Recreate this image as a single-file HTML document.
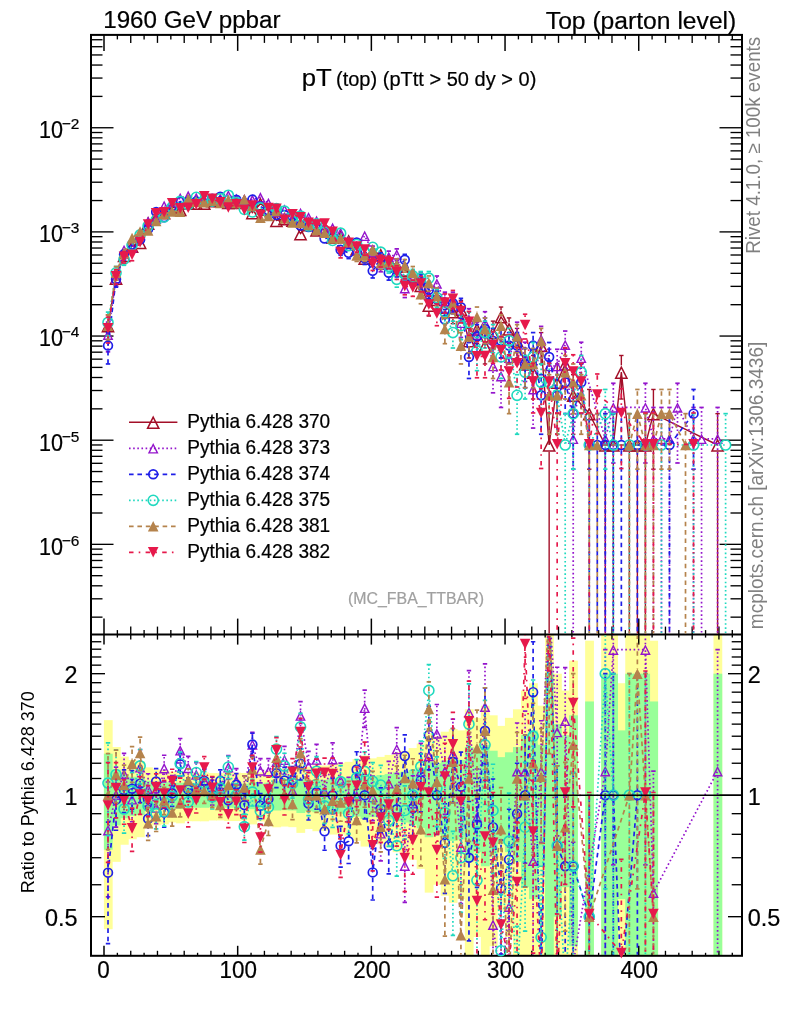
<!DOCTYPE html>
<html><head><meta charset="utf-8"><title>pT (top)</title><style>html,body{margin:0;padding:0;background:#fff}</style></head><body><svg width="786" height="1024" viewBox="0 0 786 1024" style="display:block;will-change:transform;font-family:'Liberation Sans',sans-serif">
<rect width="786" height="1024" fill="#fff"/>
<defs><clipPath id="cm"><rect x="92.0" y="35.9" width="649.0" height="597.7"/></clipPath><clipPath id="cr"><rect x="92.0" y="635.6" width="649.0" height="319.19999999999993"/></clipPath><clipPath id="cb"><rect x="91.0" y="634.6" width="651.0" height="321.19999999999993"/></clipPath></defs>
<g clip-path="url(#cb)">
<rect x="103.9" y="720.14" width="8.77" height="209.1" fill="#ffff99"/>
<rect x="111.92" y="747.04" width="8.77" height="114.8" fill="#ffff99"/>
<rect x="119.94" y="756.62" width="8.77" height="88.12" fill="#ffff99"/>
<rect x="127.96" y="760.02" width="8.77" height="79.23" fill="#ffff99"/>
<rect x="135.98" y="761.32" width="8.77" height="75.91" fill="#ffff99"/>
<rect x="144" y="767.36" width="8.77" height="60.95" fill="#ffff99"/>
<rect x="152.02" y="769.47" width="8.77" height="55.9" fill="#ffff99"/>
<rect x="160.05" y="770.19" width="8.77" height="54.2" fill="#ffff99"/>
<rect x="168.07" y="771.62" width="8.77" height="50.82" fill="#ffff99"/>
<rect x="176.09" y="770.97" width="8.77" height="52.36" fill="#ffff99"/>
<rect x="184.11" y="772.59" width="8.77" height="48.58" fill="#ffff99"/>
<rect x="192.13" y="772.54" width="8.77" height="48.69" fill="#ffff99"/>
<rect x="200.15" y="772.49" width="8.77" height="48.81" fill="#ffff99"/>
<rect x="208.17" y="773.12" width="8.77" height="47.34" fill="#ffff99"/>
<rect x="216.19" y="773.17" width="8.77" height="47.24" fill="#ffff99"/>
<rect x="224.21" y="772.69" width="8.77" height="48.35" fill="#ffff99"/>
<rect x="232.23" y="772.69" width="8.77" height="48.35" fill="#ffff99"/>
<rect x="240.25" y="772.98" width="8.77" height="47.67" fill="#ffff99"/>
<rect x="248.27" y="770.19" width="8.77" height="54.2" fill="#ffff99"/>
<rect x="256.3" y="772.38" width="8.77" height="49.05" fill="#ffff99"/>
<rect x="264.32" y="771.03" width="8.77" height="52.21" fill="#ffff99"/>
<rect x="272.34" y="768.09" width="8.77" height="59.19" fill="#ffff99"/>
<rect x="280.36" y="768.6" width="8.77" height="57.96" fill="#ffff99"/>
<rect x="288.38" y="768.18" width="8.77" height="58.98" fill="#ffff99"/>
<rect x="296.4" y="764.22" width="8.77" height="68.65" fill="#ffff99"/>
<rect x="304.42" y="766.87" width="8.77" height="62.14" fill="#ffff99"/>
<rect x="312.44" y="765.34" width="8.77" height="65.86" fill="#ffff99"/>
<rect x="320.46" y="765.58" width="8.77" height="65.29" fill="#ffff99"/>
<rect x="328.48" y="763.09" width="8.77" height="71.44" fill="#ffff99"/>
<rect x="336.5" y="763.24" width="8.77" height="71.07" fill="#ffff99"/>
<rect x="344.52" y="761.84" width="8.77" height="74.61" fill="#ffff99"/>
<rect x="352.54" y="759" width="8.77" height="81.88" fill="#ffff99"/>
<rect x="360.57" y="755.53" width="8.77" height="91.04" fill="#ffff99"/>
<rect x="368.59" y="758.33" width="8.77" height="83.61" fill="#ffff99"/>
<rect x="376.61" y="756.88" width="8.77" height="87.43" fill="#ffff99"/>
<rect x="384.63" y="754.94" width="8.77" height="92.61" fill="#ffff99"/>
<rect x="392.65" y="752.29" width="8.77" height="99.85" fill="#ffff99"/>
<rect x="400.67" y="750.74" width="8.77" height="104.16" fill="#ffff99"/>
<rect x="408.69" y="748.05" width="8.77" height="111.84" fill="#ffff99"/>
<rect x="416.71" y="743.51" width="8.77" height="125.33" fill="#ffff99"/>
<rect x="424.73" y="732.95" width="8.77" height="159.68" fill="#ffff99"/>
<rect x="432.75" y="736.22" width="8.77" height="148.52" fill="#ffff99"/>
<rect x="440.77" y="731.72" width="8.77" height="164.01" fill="#ffff99"/>
<rect x="448.79" y="729.01" width="8.77" height="173.83" fill="#ffff99"/>
<rect x="456.82" y="730.41" width="8.77" height="168.7" fill="#ffff99"/>
<rect x="464.84" y="709.29" width="8.77" height="246.51" fill="#ffff99"/>
<rect x="472.86" y="717.85" width="8.77" height="219.16" fill="#ffff99"/>
<rect x="480.88" y="705.66" width="8.77" height="250.14" fill="#ffff99"/>
<rect x="488.9" y="715.31" width="8.77" height="230.85" fill="#ffff99"/>
<rect x="496.92" y="725.88" width="8.77" height="185.66" fill="#ffff99"/>
<rect x="504.94" y="717.85" width="8.77" height="219.16" fill="#ffff99"/>
<rect x="512.96" y="709.29" width="8.77" height="246.51" fill="#ffff99"/>
<rect x="520.98" y="690.57" width="8.77" height="265.23" fill="#ffff99"/>
<rect x="529" y="683.21" width="8.77" height="272.59" fill="#ffff99"/>
<rect x="537.02" y="705.66" width="8.77" height="250.14" fill="#ffff99"/>
<rect x="545.04" y="634.6" width="8.77" height="321.2" fill="#ffff99"/>
<rect x="553.06" y="673.7" width="8.77" height="282.1" fill="#ffff99"/>
<rect x="561.09" y="690.57" width="8.77" height="265.23" fill="#ffff99"/>
<rect x="569.11" y="660.64" width="8.77" height="295.16" fill="#ffff99"/>
<rect x="585.15" y="640.71" width="8.77" height="315.09" fill="#ffff99"/>
<rect x="601.19" y="634.6" width="8.77" height="321.2" fill="#ffff99"/>
<rect x="609.21" y="634.6" width="8.77" height="321.2" fill="#ffff99"/>
<rect x="617.23" y="683.21" width="8.77" height="272.59" fill="#ffff99"/>
<rect x="625.25" y="634.6" width="8.77" height="321.2" fill="#ffff99"/>
<rect x="633.27" y="634.6" width="8.77" height="321.2" fill="#ffff99"/>
<rect x="641.29" y="634.6" width="8.77" height="321.2" fill="#ffff99"/>
<rect x="649.31" y="640.71" width="8.77" height="315.09" fill="#ffff99"/>
<rect x="713.48" y="634.6" width="8.77" height="321.2" fill="#ffff99"/>
<rect x="103.9" y="753.68" width="8.77" height="96.03" fill="#99ff99"/>
<rect x="111.92" y="769.47" width="8.77" height="55.9" fill="#99ff99"/>
<rect x="119.94" y="774.85" width="8.77" height="43.37" fill="#99ff99"/>
<rect x="127.96" y="776.73" width="8.77" height="39.11" fill="#99ff99"/>
<rect x="135.98" y="777.44" width="8.77" height="37.51" fill="#99ff99"/>
<rect x="144" y="780.73" width="8.77" height="30.25" fill="#99ff99"/>
<rect x="152.02" y="781.86" width="8.77" height="27.77" fill="#99ff99"/>
<rect x="160.05" y="782.25" width="8.77" height="26.94" fill="#99ff99"/>
<rect x="168.07" y="783.02" width="8.77" height="25.28" fill="#99ff99"/>
<rect x="176.09" y="782.67" width="8.77" height="26.03" fill="#99ff99"/>
<rect x="184.11" y="783.53" width="8.77" height="24.17" fill="#99ff99"/>
<rect x="192.13" y="783.5" width="8.77" height="24.23" fill="#99ff99"/>
<rect x="200.15" y="783.48" width="8.77" height="24.29" fill="#99ff99"/>
<rect x="208.17" y="783.81" width="8.77" height="23.56" fill="#99ff99"/>
<rect x="216.19" y="783.84" width="8.77" height="23.51" fill="#99ff99"/>
<rect x="224.21" y="783.58" width="8.77" height="24.06" fill="#99ff99"/>
<rect x="232.23" y="783.58" width="8.77" height="24.06" fill="#99ff99"/>
<rect x="240.25" y="783.74" width="8.77" height="23.73" fill="#99ff99"/>
<rect x="248.27" y="782.25" width="8.77" height="26.94" fill="#99ff99"/>
<rect x="256.3" y="783.42" width="8.77" height="24.41" fill="#99ff99"/>
<rect x="264.32" y="782.7" width="8.77" height="25.96" fill="#99ff99"/>
<rect x="272.34" y="781.12" width="8.77" height="29.39" fill="#99ff99"/>
<rect x="280.36" y="781.4" width="8.77" height="28.78" fill="#99ff99"/>
<rect x="288.38" y="781.17" width="8.77" height="29.28" fill="#99ff99"/>
<rect x="296.4" y="779.02" width="8.77" height="34" fill="#99ff99"/>
<rect x="304.42" y="780.46" width="8.77" height="30.83" fill="#99ff99"/>
<rect x="312.44" y="779.64" width="8.77" height="32.64" fill="#99ff99"/>
<rect x="320.46" y="779.76" width="8.77" height="32.36" fill="#99ff99"/>
<rect x="328.48" y="778.41" width="8.77" height="35.35" fill="#99ff99"/>
<rect x="336.5" y="778.49" width="8.77" height="35.18" fill="#99ff99"/>
<rect x="344.52" y="777.73" width="8.77" height="36.89" fill="#99ff99"/>
<rect x="352.54" y="776.17" width="8.77" height="40.39" fill="#99ff99"/>
<rect x="360.57" y="774.24" width="8.77" height="44.76" fill="#99ff99"/>
<rect x="368.59" y="775.8" width="8.77" height="41.22" fill="#99ff99"/>
<rect x="376.61" y="775" width="8.77" height="43.04" fill="#99ff99"/>
<rect x="384.63" y="773.92" width="8.77" height="45.51" fill="#99ff99"/>
<rect x="392.65" y="772.44" width="8.77" height="48.93" fill="#99ff99"/>
<rect x="400.67" y="771.57" width="8.77" height="50.96" fill="#99ff99"/>
<rect x="408.69" y="770.05" width="8.77" height="54.53" fill="#99ff99"/>
<rect x="416.71" y="767.45" width="8.77" height="60.72" fill="#99ff99"/>
<rect x="424.73" y="761.32" width="8.77" height="75.91" fill="#99ff99"/>
<rect x="432.75" y="763.24" width="8.77" height="71.07" fill="#99ff99"/>
<rect x="440.77" y="760.6" width="8.77" height="77.75" fill="#99ff99"/>
<rect x="448.79" y="759" width="8.77" height="81.88" fill="#99ff99"/>
<rect x="456.82" y="759.83" width="8.77" height="79.74" fill="#99ff99"/>
<rect x="464.84" y="747.04" width="8.77" height="114.8" fill="#99ff99"/>
<rect x="472.86" y="752.29" width="8.77" height="99.85" fill="#99ff99"/>
<rect x="480.88" y="744.77" width="8.77" height="121.5" fill="#99ff99"/>
<rect x="488.9" y="750.74" width="8.77" height="104.16" fill="#99ff99"/>
<rect x="496.92" y="757.14" width="8.77" height="86.76" fill="#99ff99"/>
<rect x="504.94" y="752.29" width="8.77" height="99.85" fill="#99ff99"/>
<rect x="512.96" y="747.04" width="8.77" height="114.8" fill="#99ff99"/>
<rect x="520.98" y="735.19" width="8.77" height="151.98" fill="#99ff99"/>
<rect x="529" y="730.41" width="8.77" height="168.7" fill="#99ff99"/>
<rect x="537.02" y="744.77" width="8.77" height="121.5" fill="#99ff99"/>
<rect x="545.04" y="673.7" width="8.77" height="282.1" fill="#99ff99"/>
<rect x="553.06" y="724.13" width="8.77" height="192.57" fill="#99ff99"/>
<rect x="561.09" y="735.19" width="8.77" height="151.98" fill="#99ff99"/>
<rect x="569.11" y="715.31" width="8.77" height="230.85" fill="#99ff99"/>
<rect x="585.15" y="701.46" width="8.77" height="254.34" fill="#99ff99"/>
<rect x="601.19" y="673.7" width="8.77" height="282.1" fill="#99ff99"/>
<rect x="609.21" y="673.7" width="8.77" height="282.1" fill="#99ff99"/>
<rect x="617.23" y="730.41" width="8.77" height="168.7" fill="#99ff99"/>
<rect x="625.25" y="673.7" width="8.77" height="282.1" fill="#99ff99"/>
<rect x="633.27" y="673.7" width="8.77" height="282.1" fill="#99ff99"/>
<rect x="641.29" y="673.7" width="8.77" height="282.1" fill="#99ff99"/>
<rect x="649.31" y="701.46" width="8.77" height="254.34" fill="#99ff99"/>
<rect x="713.48" y="673.7" width="8.77" height="282.1" fill="#99ff99"/>
</g>
<rect x="91.0" y="34.9" width="651.0" height="920.9" fill="none" stroke="#000" stroke-width="2.0"/>
<line x1="91" y1="634.6" x2="742" y2="634.6" stroke="#000" stroke-width="2.0"/>
<line x1="104" y1="34.9" x2="104" y2="50.9" stroke="#000" stroke-width="1.5"/>
<line x1="104" y1="618.6" x2="104" y2="644.6" stroke="#000" stroke-width="1.5"/>
<line x1="104" y1="945.8" x2="104" y2="955.8" stroke="#000" stroke-width="1.5"/>
<line x1="117.37" y1="34.9" x2="117.37" y2="39.4" stroke="#000" stroke-width="1.35"/>
<line x1="117.37" y1="630.1" x2="117.37" y2="637.6" stroke="#000" stroke-width="1.35"/>
<line x1="117.37" y1="952.8" x2="117.37" y2="955.8" stroke="#000" stroke-width="1.35"/>
<line x1="130.74" y1="34.9" x2="130.74" y2="42.9" stroke="#000" stroke-width="1.35"/>
<line x1="130.74" y1="626.6" x2="130.74" y2="639.6" stroke="#000" stroke-width="1.35"/>
<line x1="130.74" y1="950.8" x2="130.74" y2="955.8" stroke="#000" stroke-width="1.35"/>
<line x1="144.1" y1="34.9" x2="144.1" y2="39.4" stroke="#000" stroke-width="1.35"/>
<line x1="144.1" y1="630.1" x2="144.1" y2="637.6" stroke="#000" stroke-width="1.35"/>
<line x1="144.1" y1="952.8" x2="144.1" y2="955.8" stroke="#000" stroke-width="1.35"/>
<line x1="157.47" y1="34.9" x2="157.47" y2="42.9" stroke="#000" stroke-width="1.35"/>
<line x1="157.47" y1="626.6" x2="157.47" y2="639.6" stroke="#000" stroke-width="1.35"/>
<line x1="157.47" y1="950.8" x2="157.47" y2="955.8" stroke="#000" stroke-width="1.35"/>
<line x1="170.84" y1="34.9" x2="170.84" y2="39.4" stroke="#000" stroke-width="1.35"/>
<line x1="170.84" y1="630.1" x2="170.84" y2="637.6" stroke="#000" stroke-width="1.35"/>
<line x1="170.84" y1="952.8" x2="170.84" y2="955.8" stroke="#000" stroke-width="1.35"/>
<line x1="184.21" y1="34.9" x2="184.21" y2="42.9" stroke="#000" stroke-width="1.35"/>
<line x1="184.21" y1="626.6" x2="184.21" y2="639.6" stroke="#000" stroke-width="1.35"/>
<line x1="184.21" y1="950.8" x2="184.21" y2="955.8" stroke="#000" stroke-width="1.35"/>
<line x1="197.58" y1="34.9" x2="197.58" y2="39.4" stroke="#000" stroke-width="1.35"/>
<line x1="197.58" y1="630.1" x2="197.58" y2="637.6" stroke="#000" stroke-width="1.35"/>
<line x1="197.58" y1="952.8" x2="197.58" y2="955.8" stroke="#000" stroke-width="1.35"/>
<line x1="210.94" y1="34.9" x2="210.94" y2="42.9" stroke="#000" stroke-width="1.35"/>
<line x1="210.94" y1="626.6" x2="210.94" y2="639.6" stroke="#000" stroke-width="1.35"/>
<line x1="210.94" y1="950.8" x2="210.94" y2="955.8" stroke="#000" stroke-width="1.35"/>
<line x1="224.31" y1="34.9" x2="224.31" y2="39.4" stroke="#000" stroke-width="1.35"/>
<line x1="224.31" y1="630.1" x2="224.31" y2="637.6" stroke="#000" stroke-width="1.35"/>
<line x1="224.31" y1="952.8" x2="224.31" y2="955.8" stroke="#000" stroke-width="1.35"/>
<line x1="237.68" y1="34.9" x2="237.68" y2="50.9" stroke="#000" stroke-width="1.5"/>
<line x1="237.68" y1="618.6" x2="237.68" y2="644.6" stroke="#000" stroke-width="1.5"/>
<line x1="237.68" y1="945.8" x2="237.68" y2="955.8" stroke="#000" stroke-width="1.5"/>
<line x1="251.05" y1="34.9" x2="251.05" y2="39.4" stroke="#000" stroke-width="1.35"/>
<line x1="251.05" y1="630.1" x2="251.05" y2="637.6" stroke="#000" stroke-width="1.35"/>
<line x1="251.05" y1="952.8" x2="251.05" y2="955.8" stroke="#000" stroke-width="1.35"/>
<line x1="264.42" y1="34.9" x2="264.42" y2="42.9" stroke="#000" stroke-width="1.35"/>
<line x1="264.42" y1="626.6" x2="264.42" y2="639.6" stroke="#000" stroke-width="1.35"/>
<line x1="264.42" y1="950.8" x2="264.42" y2="955.8" stroke="#000" stroke-width="1.35"/>
<line x1="277.78" y1="34.9" x2="277.78" y2="39.4" stroke="#000" stroke-width="1.35"/>
<line x1="277.78" y1="630.1" x2="277.78" y2="637.6" stroke="#000" stroke-width="1.35"/>
<line x1="277.78" y1="952.8" x2="277.78" y2="955.8" stroke="#000" stroke-width="1.35"/>
<line x1="291.15" y1="34.9" x2="291.15" y2="42.9" stroke="#000" stroke-width="1.35"/>
<line x1="291.15" y1="626.6" x2="291.15" y2="639.6" stroke="#000" stroke-width="1.35"/>
<line x1="291.15" y1="950.8" x2="291.15" y2="955.8" stroke="#000" stroke-width="1.35"/>
<line x1="304.52" y1="34.9" x2="304.52" y2="39.4" stroke="#000" stroke-width="1.35"/>
<line x1="304.52" y1="630.1" x2="304.52" y2="637.6" stroke="#000" stroke-width="1.35"/>
<line x1="304.52" y1="952.8" x2="304.52" y2="955.8" stroke="#000" stroke-width="1.35"/>
<line x1="317.89" y1="34.9" x2="317.89" y2="42.9" stroke="#000" stroke-width="1.35"/>
<line x1="317.89" y1="626.6" x2="317.89" y2="639.6" stroke="#000" stroke-width="1.35"/>
<line x1="317.89" y1="950.8" x2="317.89" y2="955.8" stroke="#000" stroke-width="1.35"/>
<line x1="331.26" y1="34.9" x2="331.26" y2="39.4" stroke="#000" stroke-width="1.35"/>
<line x1="331.26" y1="630.1" x2="331.26" y2="637.6" stroke="#000" stroke-width="1.35"/>
<line x1="331.26" y1="952.8" x2="331.26" y2="955.8" stroke="#000" stroke-width="1.35"/>
<line x1="344.62" y1="34.9" x2="344.62" y2="42.9" stroke="#000" stroke-width="1.35"/>
<line x1="344.62" y1="626.6" x2="344.62" y2="639.6" stroke="#000" stroke-width="1.35"/>
<line x1="344.62" y1="950.8" x2="344.62" y2="955.8" stroke="#000" stroke-width="1.35"/>
<line x1="357.99" y1="34.9" x2="357.99" y2="39.4" stroke="#000" stroke-width="1.35"/>
<line x1="357.99" y1="630.1" x2="357.99" y2="637.6" stroke="#000" stroke-width="1.35"/>
<line x1="357.99" y1="952.8" x2="357.99" y2="955.8" stroke="#000" stroke-width="1.35"/>
<line x1="371.36" y1="34.9" x2="371.36" y2="50.9" stroke="#000" stroke-width="1.5"/>
<line x1="371.36" y1="618.6" x2="371.36" y2="644.6" stroke="#000" stroke-width="1.5"/>
<line x1="371.36" y1="945.8" x2="371.36" y2="955.8" stroke="#000" stroke-width="1.5"/>
<line x1="384.73" y1="34.9" x2="384.73" y2="39.4" stroke="#000" stroke-width="1.35"/>
<line x1="384.73" y1="630.1" x2="384.73" y2="637.6" stroke="#000" stroke-width="1.35"/>
<line x1="384.73" y1="952.8" x2="384.73" y2="955.8" stroke="#000" stroke-width="1.35"/>
<line x1="398.1" y1="34.9" x2="398.1" y2="42.9" stroke="#000" stroke-width="1.35"/>
<line x1="398.1" y1="626.6" x2="398.1" y2="639.6" stroke="#000" stroke-width="1.35"/>
<line x1="398.1" y1="950.8" x2="398.1" y2="955.8" stroke="#000" stroke-width="1.35"/>
<line x1="411.46" y1="34.9" x2="411.46" y2="39.4" stroke="#000" stroke-width="1.35"/>
<line x1="411.46" y1="630.1" x2="411.46" y2="637.6" stroke="#000" stroke-width="1.35"/>
<line x1="411.46" y1="952.8" x2="411.46" y2="955.8" stroke="#000" stroke-width="1.35"/>
<line x1="424.83" y1="34.9" x2="424.83" y2="42.9" stroke="#000" stroke-width="1.35"/>
<line x1="424.83" y1="626.6" x2="424.83" y2="639.6" stroke="#000" stroke-width="1.35"/>
<line x1="424.83" y1="950.8" x2="424.83" y2="955.8" stroke="#000" stroke-width="1.35"/>
<line x1="438.2" y1="34.9" x2="438.2" y2="39.4" stroke="#000" stroke-width="1.35"/>
<line x1="438.2" y1="630.1" x2="438.2" y2="637.6" stroke="#000" stroke-width="1.35"/>
<line x1="438.2" y1="952.8" x2="438.2" y2="955.8" stroke="#000" stroke-width="1.35"/>
<line x1="451.57" y1="34.9" x2="451.57" y2="42.9" stroke="#000" stroke-width="1.35"/>
<line x1="451.57" y1="626.6" x2="451.57" y2="639.6" stroke="#000" stroke-width="1.35"/>
<line x1="451.57" y1="950.8" x2="451.57" y2="955.8" stroke="#000" stroke-width="1.35"/>
<line x1="464.94" y1="34.9" x2="464.94" y2="39.4" stroke="#000" stroke-width="1.35"/>
<line x1="464.94" y1="630.1" x2="464.94" y2="637.6" stroke="#000" stroke-width="1.35"/>
<line x1="464.94" y1="952.8" x2="464.94" y2="955.8" stroke="#000" stroke-width="1.35"/>
<line x1="478.3" y1="34.9" x2="478.3" y2="42.9" stroke="#000" stroke-width="1.35"/>
<line x1="478.3" y1="626.6" x2="478.3" y2="639.6" stroke="#000" stroke-width="1.35"/>
<line x1="478.3" y1="950.8" x2="478.3" y2="955.8" stroke="#000" stroke-width="1.35"/>
<line x1="491.67" y1="34.9" x2="491.67" y2="39.4" stroke="#000" stroke-width="1.35"/>
<line x1="491.67" y1="630.1" x2="491.67" y2="637.6" stroke="#000" stroke-width="1.35"/>
<line x1="491.67" y1="952.8" x2="491.67" y2="955.8" stroke="#000" stroke-width="1.35"/>
<line x1="505.04" y1="34.9" x2="505.04" y2="50.9" stroke="#000" stroke-width="1.5"/>
<line x1="505.04" y1="618.6" x2="505.04" y2="644.6" stroke="#000" stroke-width="1.5"/>
<line x1="505.04" y1="945.8" x2="505.04" y2="955.8" stroke="#000" stroke-width="1.5"/>
<line x1="518.41" y1="34.9" x2="518.41" y2="39.4" stroke="#000" stroke-width="1.35"/>
<line x1="518.41" y1="630.1" x2="518.41" y2="637.6" stroke="#000" stroke-width="1.35"/>
<line x1="518.41" y1="952.8" x2="518.41" y2="955.8" stroke="#000" stroke-width="1.35"/>
<line x1="531.78" y1="34.9" x2="531.78" y2="42.9" stroke="#000" stroke-width="1.35"/>
<line x1="531.78" y1="626.6" x2="531.78" y2="639.6" stroke="#000" stroke-width="1.35"/>
<line x1="531.78" y1="950.8" x2="531.78" y2="955.8" stroke="#000" stroke-width="1.35"/>
<line x1="545.14" y1="34.9" x2="545.14" y2="39.4" stroke="#000" stroke-width="1.35"/>
<line x1="545.14" y1="630.1" x2="545.14" y2="637.6" stroke="#000" stroke-width="1.35"/>
<line x1="545.14" y1="952.8" x2="545.14" y2="955.8" stroke="#000" stroke-width="1.35"/>
<line x1="558.51" y1="34.9" x2="558.51" y2="42.9" stroke="#000" stroke-width="1.35"/>
<line x1="558.51" y1="626.6" x2="558.51" y2="639.6" stroke="#000" stroke-width="1.35"/>
<line x1="558.51" y1="950.8" x2="558.51" y2="955.8" stroke="#000" stroke-width="1.35"/>
<line x1="571.88" y1="34.9" x2="571.88" y2="39.4" stroke="#000" stroke-width="1.35"/>
<line x1="571.88" y1="630.1" x2="571.88" y2="637.6" stroke="#000" stroke-width="1.35"/>
<line x1="571.88" y1="952.8" x2="571.88" y2="955.8" stroke="#000" stroke-width="1.35"/>
<line x1="585.25" y1="34.9" x2="585.25" y2="42.9" stroke="#000" stroke-width="1.35"/>
<line x1="585.25" y1="626.6" x2="585.25" y2="639.6" stroke="#000" stroke-width="1.35"/>
<line x1="585.25" y1="950.8" x2="585.25" y2="955.8" stroke="#000" stroke-width="1.35"/>
<line x1="598.62" y1="34.9" x2="598.62" y2="39.4" stroke="#000" stroke-width="1.35"/>
<line x1="598.62" y1="630.1" x2="598.62" y2="637.6" stroke="#000" stroke-width="1.35"/>
<line x1="598.62" y1="952.8" x2="598.62" y2="955.8" stroke="#000" stroke-width="1.35"/>
<line x1="611.98" y1="34.9" x2="611.98" y2="42.9" stroke="#000" stroke-width="1.35"/>
<line x1="611.98" y1="626.6" x2="611.98" y2="639.6" stroke="#000" stroke-width="1.35"/>
<line x1="611.98" y1="950.8" x2="611.98" y2="955.8" stroke="#000" stroke-width="1.35"/>
<line x1="625.35" y1="34.9" x2="625.35" y2="39.4" stroke="#000" stroke-width="1.35"/>
<line x1="625.35" y1="630.1" x2="625.35" y2="637.6" stroke="#000" stroke-width="1.35"/>
<line x1="625.35" y1="952.8" x2="625.35" y2="955.8" stroke="#000" stroke-width="1.35"/>
<line x1="638.72" y1="34.9" x2="638.72" y2="50.9" stroke="#000" stroke-width="1.5"/>
<line x1="638.72" y1="618.6" x2="638.72" y2="644.6" stroke="#000" stroke-width="1.5"/>
<line x1="638.72" y1="945.8" x2="638.72" y2="955.8" stroke="#000" stroke-width="1.5"/>
<line x1="652.09" y1="34.9" x2="652.09" y2="39.4" stroke="#000" stroke-width="1.35"/>
<line x1="652.09" y1="630.1" x2="652.09" y2="637.6" stroke="#000" stroke-width="1.35"/>
<line x1="652.09" y1="952.8" x2="652.09" y2="955.8" stroke="#000" stroke-width="1.35"/>
<line x1="665.46" y1="34.9" x2="665.46" y2="42.9" stroke="#000" stroke-width="1.35"/>
<line x1="665.46" y1="626.6" x2="665.46" y2="639.6" stroke="#000" stroke-width="1.35"/>
<line x1="665.46" y1="950.8" x2="665.46" y2="955.8" stroke="#000" stroke-width="1.35"/>
<line x1="678.82" y1="34.9" x2="678.82" y2="39.4" stroke="#000" stroke-width="1.35"/>
<line x1="678.82" y1="630.1" x2="678.82" y2="637.6" stroke="#000" stroke-width="1.35"/>
<line x1="678.82" y1="952.8" x2="678.82" y2="955.8" stroke="#000" stroke-width="1.35"/>
<line x1="692.19" y1="34.9" x2="692.19" y2="42.9" stroke="#000" stroke-width="1.35"/>
<line x1="692.19" y1="626.6" x2="692.19" y2="639.6" stroke="#000" stroke-width="1.35"/>
<line x1="692.19" y1="950.8" x2="692.19" y2="955.8" stroke="#000" stroke-width="1.35"/>
<line x1="705.56" y1="34.9" x2="705.56" y2="39.4" stroke="#000" stroke-width="1.35"/>
<line x1="705.56" y1="630.1" x2="705.56" y2="637.6" stroke="#000" stroke-width="1.35"/>
<line x1="705.56" y1="952.8" x2="705.56" y2="955.8" stroke="#000" stroke-width="1.35"/>
<line x1="718.93" y1="34.9" x2="718.93" y2="42.9" stroke="#000" stroke-width="1.35"/>
<line x1="718.93" y1="626.6" x2="718.93" y2="639.6" stroke="#000" stroke-width="1.35"/>
<line x1="718.93" y1="950.8" x2="718.93" y2="955.8" stroke="#000" stroke-width="1.35"/>
<line x1="732.3" y1="34.9" x2="732.3" y2="39.4" stroke="#000" stroke-width="1.35"/>
<line x1="732.3" y1="630.1" x2="732.3" y2="637.6" stroke="#000" stroke-width="1.35"/>
<line x1="732.3" y1="952.8" x2="732.3" y2="955.8" stroke="#000" stroke-width="1.35"/>
<line x1="91" y1="617.15" x2="102.5" y2="617.15" stroke="#000" stroke-width="1.35"/>
<line x1="730.5" y1="617.15" x2="742" y2="617.15" stroke="#000" stroke-width="1.35"/>
<line x1="91" y1="598.81" x2="102.5" y2="598.81" stroke="#000" stroke-width="1.35"/>
<line x1="730.5" y1="598.81" x2="742" y2="598.81" stroke="#000" stroke-width="1.35"/>
<line x1="91" y1="585.8" x2="102.5" y2="585.8" stroke="#000" stroke-width="1.35"/>
<line x1="730.5" y1="585.8" x2="742" y2="585.8" stroke="#000" stroke-width="1.35"/>
<line x1="91" y1="575.7" x2="102.5" y2="575.7" stroke="#000" stroke-width="1.35"/>
<line x1="730.5" y1="575.7" x2="742" y2="575.7" stroke="#000" stroke-width="1.35"/>
<line x1="91" y1="567.46" x2="102.5" y2="567.46" stroke="#000" stroke-width="1.35"/>
<line x1="730.5" y1="567.46" x2="742" y2="567.46" stroke="#000" stroke-width="1.35"/>
<line x1="91" y1="560.48" x2="102.5" y2="560.48" stroke="#000" stroke-width="1.35"/>
<line x1="730.5" y1="560.48" x2="742" y2="560.48" stroke="#000" stroke-width="1.35"/>
<line x1="91" y1="554.44" x2="102.5" y2="554.44" stroke="#000" stroke-width="1.35"/>
<line x1="730.5" y1="554.44" x2="742" y2="554.44" stroke="#000" stroke-width="1.35"/>
<line x1="91" y1="549.12" x2="102.5" y2="549.12" stroke="#000" stroke-width="1.35"/>
<line x1="730.5" y1="549.12" x2="742" y2="549.12" stroke="#000" stroke-width="1.35"/>
<line x1="91" y1="544.35" x2="113.5" y2="544.35" stroke="#000" stroke-width="1.35"/>
<line x1="719.5" y1="544.35" x2="742" y2="544.35" stroke="#000" stroke-width="1.35"/>
<line x1="91" y1="513" x2="102.5" y2="513" stroke="#000" stroke-width="1.35"/>
<line x1="730.5" y1="513" x2="742" y2="513" stroke="#000" stroke-width="1.35"/>
<line x1="91" y1="494.66" x2="102.5" y2="494.66" stroke="#000" stroke-width="1.35"/>
<line x1="730.5" y1="494.66" x2="742" y2="494.66" stroke="#000" stroke-width="1.35"/>
<line x1="91" y1="481.65" x2="102.5" y2="481.65" stroke="#000" stroke-width="1.35"/>
<line x1="730.5" y1="481.65" x2="742" y2="481.65" stroke="#000" stroke-width="1.35"/>
<line x1="91" y1="471.55" x2="102.5" y2="471.55" stroke="#000" stroke-width="1.35"/>
<line x1="730.5" y1="471.55" x2="742" y2="471.55" stroke="#000" stroke-width="1.35"/>
<line x1="91" y1="463.31" x2="102.5" y2="463.31" stroke="#000" stroke-width="1.35"/>
<line x1="730.5" y1="463.31" x2="742" y2="463.31" stroke="#000" stroke-width="1.35"/>
<line x1="91" y1="456.33" x2="102.5" y2="456.33" stroke="#000" stroke-width="1.35"/>
<line x1="730.5" y1="456.33" x2="742" y2="456.33" stroke="#000" stroke-width="1.35"/>
<line x1="91" y1="450.29" x2="102.5" y2="450.29" stroke="#000" stroke-width="1.35"/>
<line x1="730.5" y1="450.29" x2="742" y2="450.29" stroke="#000" stroke-width="1.35"/>
<line x1="91" y1="444.97" x2="102.5" y2="444.97" stroke="#000" stroke-width="1.35"/>
<line x1="730.5" y1="444.97" x2="742" y2="444.97" stroke="#000" stroke-width="1.35"/>
<line x1="91" y1="440.2" x2="113.5" y2="440.2" stroke="#000" stroke-width="1.35"/>
<line x1="719.5" y1="440.2" x2="742" y2="440.2" stroke="#000" stroke-width="1.35"/>
<line x1="91" y1="408.85" x2="102.5" y2="408.85" stroke="#000" stroke-width="1.35"/>
<line x1="730.5" y1="408.85" x2="742" y2="408.85" stroke="#000" stroke-width="1.35"/>
<line x1="91" y1="390.51" x2="102.5" y2="390.51" stroke="#000" stroke-width="1.35"/>
<line x1="730.5" y1="390.51" x2="742" y2="390.51" stroke="#000" stroke-width="1.35"/>
<line x1="91" y1="377.5" x2="102.5" y2="377.5" stroke="#000" stroke-width="1.35"/>
<line x1="730.5" y1="377.5" x2="742" y2="377.5" stroke="#000" stroke-width="1.35"/>
<line x1="91" y1="367.4" x2="102.5" y2="367.4" stroke="#000" stroke-width="1.35"/>
<line x1="730.5" y1="367.4" x2="742" y2="367.4" stroke="#000" stroke-width="1.35"/>
<line x1="91" y1="359.16" x2="102.5" y2="359.16" stroke="#000" stroke-width="1.35"/>
<line x1="730.5" y1="359.16" x2="742" y2="359.16" stroke="#000" stroke-width="1.35"/>
<line x1="91" y1="352.18" x2="102.5" y2="352.18" stroke="#000" stroke-width="1.35"/>
<line x1="730.5" y1="352.18" x2="742" y2="352.18" stroke="#000" stroke-width="1.35"/>
<line x1="91" y1="346.14" x2="102.5" y2="346.14" stroke="#000" stroke-width="1.35"/>
<line x1="730.5" y1="346.14" x2="742" y2="346.14" stroke="#000" stroke-width="1.35"/>
<line x1="91" y1="340.82" x2="102.5" y2="340.82" stroke="#000" stroke-width="1.35"/>
<line x1="730.5" y1="340.82" x2="742" y2="340.82" stroke="#000" stroke-width="1.35"/>
<line x1="91" y1="336.05" x2="113.5" y2="336.05" stroke="#000" stroke-width="1.35"/>
<line x1="719.5" y1="336.05" x2="742" y2="336.05" stroke="#000" stroke-width="1.35"/>
<line x1="91" y1="304.7" x2="102.5" y2="304.7" stroke="#000" stroke-width="1.35"/>
<line x1="730.5" y1="304.7" x2="742" y2="304.7" stroke="#000" stroke-width="1.35"/>
<line x1="91" y1="286.36" x2="102.5" y2="286.36" stroke="#000" stroke-width="1.35"/>
<line x1="730.5" y1="286.36" x2="742" y2="286.36" stroke="#000" stroke-width="1.35"/>
<line x1="91" y1="273.35" x2="102.5" y2="273.35" stroke="#000" stroke-width="1.35"/>
<line x1="730.5" y1="273.35" x2="742" y2="273.35" stroke="#000" stroke-width="1.35"/>
<line x1="91" y1="263.25" x2="102.5" y2="263.25" stroke="#000" stroke-width="1.35"/>
<line x1="730.5" y1="263.25" x2="742" y2="263.25" stroke="#000" stroke-width="1.35"/>
<line x1="91" y1="255.01" x2="102.5" y2="255.01" stroke="#000" stroke-width="1.35"/>
<line x1="730.5" y1="255.01" x2="742" y2="255.01" stroke="#000" stroke-width="1.35"/>
<line x1="91" y1="248.03" x2="102.5" y2="248.03" stroke="#000" stroke-width="1.35"/>
<line x1="730.5" y1="248.03" x2="742" y2="248.03" stroke="#000" stroke-width="1.35"/>
<line x1="91" y1="241.99" x2="102.5" y2="241.99" stroke="#000" stroke-width="1.35"/>
<line x1="730.5" y1="241.99" x2="742" y2="241.99" stroke="#000" stroke-width="1.35"/>
<line x1="91" y1="236.67" x2="102.5" y2="236.67" stroke="#000" stroke-width="1.35"/>
<line x1="730.5" y1="236.67" x2="742" y2="236.67" stroke="#000" stroke-width="1.35"/>
<line x1="91" y1="231.9" x2="113.5" y2="231.9" stroke="#000" stroke-width="1.35"/>
<line x1="719.5" y1="231.9" x2="742" y2="231.9" stroke="#000" stroke-width="1.35"/>
<line x1="91" y1="200.55" x2="102.5" y2="200.55" stroke="#000" stroke-width="1.35"/>
<line x1="730.5" y1="200.55" x2="742" y2="200.55" stroke="#000" stroke-width="1.35"/>
<line x1="91" y1="182.21" x2="102.5" y2="182.21" stroke="#000" stroke-width="1.35"/>
<line x1="730.5" y1="182.21" x2="742" y2="182.21" stroke="#000" stroke-width="1.35"/>
<line x1="91" y1="169.2" x2="102.5" y2="169.2" stroke="#000" stroke-width="1.35"/>
<line x1="730.5" y1="169.2" x2="742" y2="169.2" stroke="#000" stroke-width="1.35"/>
<line x1="91" y1="159.1" x2="102.5" y2="159.1" stroke="#000" stroke-width="1.35"/>
<line x1="730.5" y1="159.1" x2="742" y2="159.1" stroke="#000" stroke-width="1.35"/>
<line x1="91" y1="150.86" x2="102.5" y2="150.86" stroke="#000" stroke-width="1.35"/>
<line x1="730.5" y1="150.86" x2="742" y2="150.86" stroke="#000" stroke-width="1.35"/>
<line x1="91" y1="143.88" x2="102.5" y2="143.88" stroke="#000" stroke-width="1.35"/>
<line x1="730.5" y1="143.88" x2="742" y2="143.88" stroke="#000" stroke-width="1.35"/>
<line x1="91" y1="137.84" x2="102.5" y2="137.84" stroke="#000" stroke-width="1.35"/>
<line x1="730.5" y1="137.84" x2="742" y2="137.84" stroke="#000" stroke-width="1.35"/>
<line x1="91" y1="132.52" x2="102.5" y2="132.52" stroke="#000" stroke-width="1.35"/>
<line x1="730.5" y1="132.52" x2="742" y2="132.52" stroke="#000" stroke-width="1.35"/>
<line x1="91" y1="127.75" x2="113.5" y2="127.75" stroke="#000" stroke-width="1.35"/>
<line x1="719.5" y1="127.75" x2="742" y2="127.75" stroke="#000" stroke-width="1.35"/>
<line x1="91" y1="96.4" x2="102.5" y2="96.4" stroke="#000" stroke-width="1.35"/>
<line x1="730.5" y1="96.4" x2="742" y2="96.4" stroke="#000" stroke-width="1.35"/>
<line x1="91" y1="78.06" x2="102.5" y2="78.06" stroke="#000" stroke-width="1.35"/>
<line x1="730.5" y1="78.06" x2="742" y2="78.06" stroke="#000" stroke-width="1.35"/>
<line x1="91" y1="65.05" x2="102.5" y2="65.05" stroke="#000" stroke-width="1.35"/>
<line x1="730.5" y1="65.05" x2="742" y2="65.05" stroke="#000" stroke-width="1.35"/>
<line x1="91" y1="54.95" x2="102.5" y2="54.95" stroke="#000" stroke-width="1.35"/>
<line x1="730.5" y1="54.95" x2="742" y2="54.95" stroke="#000" stroke-width="1.35"/>
<line x1="91" y1="46.71" x2="102.5" y2="46.71" stroke="#000" stroke-width="1.35"/>
<line x1="730.5" y1="46.71" x2="742" y2="46.71" stroke="#000" stroke-width="1.35"/>
<line x1="91" y1="39.73" x2="102.5" y2="39.73" stroke="#000" stroke-width="1.35"/>
<line x1="730.5" y1="39.73" x2="742" y2="39.73" stroke="#000" stroke-width="1.35"/>
<line x1="91" y1="916.7" x2="105" y2="916.7" stroke="#000" stroke-width="1.35"/>
<line x1="728" y1="916.7" x2="742" y2="916.7" stroke="#000" stroke-width="1.35"/>
<line x1="91" y1="884.74" x2="101.3" y2="884.74" stroke="#000" stroke-width="1.35"/>
<line x1="731.7" y1="884.74" x2="742" y2="884.74" stroke="#000" stroke-width="1.35"/>
<line x1="91" y1="857.72" x2="101.3" y2="857.72" stroke="#000" stroke-width="1.35"/>
<line x1="731.7" y1="857.72" x2="742" y2="857.72" stroke="#000" stroke-width="1.35"/>
<line x1="91" y1="834.31" x2="101.3" y2="834.31" stroke="#000" stroke-width="1.35"/>
<line x1="731.7" y1="834.31" x2="742" y2="834.31" stroke="#000" stroke-width="1.35"/>
<line x1="91" y1="813.67" x2="101.3" y2="813.67" stroke="#000" stroke-width="1.35"/>
<line x1="731.7" y1="813.67" x2="742" y2="813.67" stroke="#000" stroke-width="1.35"/>
<line x1="91" y1="795.2" x2="113.5" y2="795.2" stroke="#000" stroke-width="1.35"/>
<line x1="719.5" y1="795.2" x2="742" y2="795.2" stroke="#000" stroke-width="1.35"/>
<line x1="91" y1="778.49" x2="101.3" y2="778.49" stroke="#000" stroke-width="1.35"/>
<line x1="731.7" y1="778.49" x2="742" y2="778.49" stroke="#000" stroke-width="1.35"/>
<line x1="91" y1="763.24" x2="101.3" y2="763.24" stroke="#000" stroke-width="1.35"/>
<line x1="731.7" y1="763.24" x2="742" y2="763.24" stroke="#000" stroke-width="1.35"/>
<line x1="91" y1="749.21" x2="101.3" y2="749.21" stroke="#000" stroke-width="1.35"/>
<line x1="731.7" y1="749.21" x2="742" y2="749.21" stroke="#000" stroke-width="1.35"/>
<line x1="91" y1="736.22" x2="101.3" y2="736.22" stroke="#000" stroke-width="1.35"/>
<line x1="731.7" y1="736.22" x2="742" y2="736.22" stroke="#000" stroke-width="1.35"/>
<line x1="91" y1="724.13" x2="101.3" y2="724.13" stroke="#000" stroke-width="1.35"/>
<line x1="731.7" y1="724.13" x2="742" y2="724.13" stroke="#000" stroke-width="1.35"/>
<line x1="91" y1="712.81" x2="101.3" y2="712.81" stroke="#000" stroke-width="1.35"/>
<line x1="731.7" y1="712.81" x2="742" y2="712.81" stroke="#000" stroke-width="1.35"/>
<line x1="91" y1="702.19" x2="101.3" y2="702.19" stroke="#000" stroke-width="1.35"/>
<line x1="731.7" y1="702.19" x2="742" y2="702.19" stroke="#000" stroke-width="1.35"/>
<line x1="91" y1="692.17" x2="101.3" y2="692.17" stroke="#000" stroke-width="1.35"/>
<line x1="731.7" y1="692.17" x2="742" y2="692.17" stroke="#000" stroke-width="1.35"/>
<line x1="91" y1="682.69" x2="101.3" y2="682.69" stroke="#000" stroke-width="1.35"/>
<line x1="731.7" y1="682.69" x2="742" y2="682.69" stroke="#000" stroke-width="1.35"/>
<line x1="91" y1="673.7" x2="105" y2="673.7" stroke="#000" stroke-width="1.35"/>
<line x1="728" y1="673.7" x2="742" y2="673.7" stroke="#000" stroke-width="1.35"/>
<line x1="91" y1="665.15" x2="101.3" y2="665.15" stroke="#000" stroke-width="1.35"/>
<line x1="731.7" y1="665.15" x2="742" y2="665.15" stroke="#000" stroke-width="1.35"/>
<line x1="91" y1="656.99" x2="101.3" y2="656.99" stroke="#000" stroke-width="1.35"/>
<line x1="731.7" y1="656.99" x2="742" y2="656.99" stroke="#000" stroke-width="1.35"/>
<line x1="91" y1="649.2" x2="101.3" y2="649.2" stroke="#000" stroke-width="1.35"/>
<line x1="731.7" y1="649.2" x2="742" y2="649.2" stroke="#000" stroke-width="1.35"/>
<line x1="91" y1="641.74" x2="101.3" y2="641.74" stroke="#000" stroke-width="1.35"/>
<line x1="731.7" y1="641.74" x2="742" y2="641.74" stroke="#000" stroke-width="1.35"/>
<g clip-path="url(#cm)">
<polyline points="108.01,325.63 116.03,278.15 124.05,255.49 132.07,246.23 140.09,242.48 148.11,223.13 156.14,215.44 164.16,212.7 172.18,206.96 180.2,209.61 188.22,202.93 196.24,203.14 204.26,203.36 212.28,200.63 220.3,200.42 228.32,202.5 236.34,202.5 244.36,201.24 252.38,212.7 260.41,203.79 268.43,209.37 276.45,220.52 284.47,218.66 292.49,220.21 300.51,233.64 308.53,224.83 316.55,229.99 324.57,229.21 332.59,237.15 340.61,236.7 348.63,240.97 356.66,249.11 364.68,258.32 372.7,250.93 380.72,254.81 388.74,259.81 396.76,266.28 404.78,269.9 412.8,275.94 420.82,285.5 428.84,305.19 436.86,299.4 444.88,307.29 452.9,311.82 460.93,309.5 468.95,340.85 476.97,328.98 484.99,345.62 493.01,332.6 501.03,316.85 509.05,328.98 517.07,340.85 525.09,363.96 533.11,372.2 541.13,345.62 549.15,445 557.18,382.3 565.2,363.96 573.22,395.31 589.26,413.65 605.3,445 613.32,445 621.34,372.2 629.36,445 637.38,445 645.4,445 653.42,413.65 717.59,445" fill="none" stroke="#a30f28" stroke-width="1.4"/>
<line x1="108.01" y1="318.78" x2="108.01" y2="314.92" stroke="#a30f28" stroke-width="1.4"/>
<line x1="105.81" y1="314.92" x2="110.21" y2="314.92" stroke="#a30f28" stroke-width="1.4"/>
<line x1="108.01" y1="332.48" x2="108.01" y2="339.7" stroke="#a30f28" stroke-width="1.4"/>
<line x1="105.81" y1="339.7" x2="110.21" y2="339.7" stroke="#a30f28" stroke-width="1.4"/>
<line x1="116.03" y1="285" x2="116.03" y2="285.93" stroke="#a30f28" stroke-width="1.4"/>
<line x1="113.83" y1="285.93" x2="118.23" y2="285.93" stroke="#a30f28" stroke-width="1.4"/>
<line x1="404.78" y1="276.75" x2="404.78" y2="276.95" stroke="#a30f28" stroke-width="1.4"/>
<line x1="402.58" y1="276.95" x2="406.98" y2="276.95" stroke="#a30f28" stroke-width="1.4"/>
<line x1="412.8" y1="282.79" x2="412.8" y2="283.52" stroke="#a30f28" stroke-width="1.4"/>
<line x1="410.6" y1="283.52" x2="415" y2="283.52" stroke="#a30f28" stroke-width="1.4"/>
<line x1="420.82" y1="278.65" x2="420.82" y2="278.34" stroke="#a30f28" stroke-width="1.4"/>
<line x1="418.62" y1="278.34" x2="423.02" y2="278.34" stroke="#a30f28" stroke-width="1.4"/>
<line x1="420.82" y1="292.35" x2="420.82" y2="294.01" stroke="#a30f28" stroke-width="1.4"/>
<line x1="418.62" y1="294.01" x2="423.02" y2="294.01" stroke="#a30f28" stroke-width="1.4"/>
<line x1="428.84" y1="298.34" x2="428.84" y2="296.45" stroke="#a30f28" stroke-width="1.4"/>
<line x1="426.64" y1="296.45" x2="431.04" y2="296.45" stroke="#a30f28" stroke-width="1.4"/>
<line x1="428.84" y1="312.04" x2="428.84" y2="316.03" stroke="#a30f28" stroke-width="1.4"/>
<line x1="426.64" y1="316.03" x2="431.04" y2="316.03" stroke="#a30f28" stroke-width="1.4"/>
<line x1="436.86" y1="292.55" x2="436.86" y2="291.16" stroke="#a30f28" stroke-width="1.4"/>
<line x1="434.66" y1="291.16" x2="439.06" y2="291.16" stroke="#a30f28" stroke-width="1.4"/>
<line x1="436.86" y1="306.25" x2="436.86" y2="309.5" stroke="#a30f28" stroke-width="1.4"/>
<line x1="434.66" y1="309.5" x2="439.06" y2="309.5" stroke="#a30f28" stroke-width="1.4"/>
<line x1="444.88" y1="300.44" x2="444.88" y2="298.36" stroke="#a30f28" stroke-width="1.4"/>
<line x1="442.68" y1="298.36" x2="447.08" y2="298.36" stroke="#a30f28" stroke-width="1.4"/>
<line x1="444.88" y1="314.14" x2="444.88" y2="318.43" stroke="#a30f28" stroke-width="1.4"/>
<line x1="442.68" y1="318.43" x2="447.08" y2="318.43" stroke="#a30f28" stroke-width="1.4"/>
<line x1="452.9" y1="304.97" x2="452.9" y2="302.48" stroke="#a30f28" stroke-width="1.4"/>
<line x1="450.7" y1="302.48" x2="455.1" y2="302.48" stroke="#a30f28" stroke-width="1.4"/>
<line x1="452.9" y1="318.67" x2="452.9" y2="323.61" stroke="#a30f28" stroke-width="1.4"/>
<line x1="450.7" y1="323.61" x2="455.1" y2="323.61" stroke="#a30f28" stroke-width="1.4"/>
<line x1="460.93" y1="302.65" x2="460.93" y2="300.37" stroke="#a30f28" stroke-width="1.4"/>
<line x1="458.73" y1="300.37" x2="463.13" y2="300.37" stroke="#a30f28" stroke-width="1.4"/>
<line x1="460.93" y1="316.35" x2="460.93" y2="320.95" stroke="#a30f28" stroke-width="1.4"/>
<line x1="458.73" y1="320.95" x2="463.13" y2="320.95" stroke="#a30f28" stroke-width="1.4"/>
<line x1="468.95" y1="334" x2="468.95" y2="328.42" stroke="#a30f28" stroke-width="1.4"/>
<line x1="466.75" y1="328.42" x2="471.15" y2="328.42" stroke="#a30f28" stroke-width="1.4"/>
<line x1="468.95" y1="347.7" x2="468.95" y2="358.04" stroke="#a30f28" stroke-width="1.4"/>
<line x1="466.75" y1="358.04" x2="471.15" y2="358.04" stroke="#a30f28" stroke-width="1.4"/>
<line x1="476.97" y1="322.13" x2="476.97" y2="317.91" stroke="#a30f28" stroke-width="1.4"/>
<line x1="474.77" y1="317.91" x2="479.17" y2="317.91" stroke="#a30f28" stroke-width="1.4"/>
<line x1="476.97" y1="335.83" x2="476.97" y2="343.68" stroke="#a30f28" stroke-width="1.4"/>
<line x1="474.77" y1="343.68" x2="479.17" y2="343.68" stroke="#a30f28" stroke-width="1.4"/>
<line x1="484.99" y1="338.77" x2="484.99" y2="332.6" stroke="#a30f28" stroke-width="1.4"/>
<line x1="482.79" y1="332.6" x2="487.19" y2="332.6" stroke="#a30f28" stroke-width="1.4"/>
<line x1="484.99" y1="352.47" x2="484.99" y2="363.96" stroke="#a30f28" stroke-width="1.4"/>
<line x1="482.79" y1="363.96" x2="487.19" y2="363.96" stroke="#a30f28" stroke-width="1.4"/>
<line x1="493.01" y1="325.75" x2="493.01" y2="321.13" stroke="#a30f28" stroke-width="1.4"/>
<line x1="490.81" y1="321.13" x2="495.21" y2="321.13" stroke="#a30f28" stroke-width="1.4"/>
<line x1="493.01" y1="339.45" x2="493.01" y2="348.01" stroke="#a30f28" stroke-width="1.4"/>
<line x1="490.81" y1="348.01" x2="495.21" y2="348.01" stroke="#a30f28" stroke-width="1.4"/>
<line x1="501.03" y1="310" x2="501.03" y2="307.03" stroke="#a30f28" stroke-width="1.4"/>
<line x1="498.83" y1="307.03" x2="503.23" y2="307.03" stroke="#a30f28" stroke-width="1.4"/>
<line x1="501.03" y1="323.7" x2="501.03" y2="329.41" stroke="#a30f28" stroke-width="1.4"/>
<line x1="498.83" y1="329.41" x2="503.23" y2="329.41" stroke="#a30f28" stroke-width="1.4"/>
<line x1="509.05" y1="322.13" x2="509.05" y2="317.91" stroke="#a30f28" stroke-width="1.4"/>
<line x1="506.85" y1="317.91" x2="511.25" y2="317.91" stroke="#a30f28" stroke-width="1.4"/>
<line x1="509.05" y1="335.83" x2="509.05" y2="343.68" stroke="#a30f28" stroke-width="1.4"/>
<line x1="506.85" y1="343.68" x2="511.25" y2="343.68" stroke="#a30f28" stroke-width="1.4"/>
<line x1="517.07" y1="334" x2="517.07" y2="328.42" stroke="#a30f28" stroke-width="1.4"/>
<line x1="514.87" y1="328.42" x2="519.27" y2="328.42" stroke="#a30f28" stroke-width="1.4"/>
<line x1="517.07" y1="347.7" x2="517.07" y2="358.04" stroke="#a30f28" stroke-width="1.4"/>
<line x1="514.87" y1="358.04" x2="519.27" y2="358.04" stroke="#a30f28" stroke-width="1.4"/>
<line x1="525.09" y1="357.11" x2="525.09" y2="348.47" stroke="#a30f28" stroke-width="1.4"/>
<line x1="522.89" y1="348.47" x2="527.29" y2="348.47" stroke="#a30f28" stroke-width="1.4"/>
<line x1="525.09" y1="370.81" x2="525.09" y2="387.69" stroke="#a30f28" stroke-width="1.4"/>
<line x1="522.89" y1="387.69" x2="527.29" y2="387.69" stroke="#a30f28" stroke-width="1.4"/>
<line x1="533.11" y1="365.35" x2="533.11" y2="355.48" stroke="#a30f28" stroke-width="1.4"/>
<line x1="530.91" y1="355.48" x2="535.31" y2="355.48" stroke="#a30f28" stroke-width="1.4"/>
<line x1="533.11" y1="379.05" x2="533.11" y2="399.01" stroke="#a30f28" stroke-width="1.4"/>
<line x1="530.91" y1="399.01" x2="535.31" y2="399.01" stroke="#a30f28" stroke-width="1.4"/>
<line x1="541.13" y1="338.77" x2="541.13" y2="332.6" stroke="#a30f28" stroke-width="1.4"/>
<line x1="538.93" y1="332.6" x2="543.33" y2="332.6" stroke="#a30f28" stroke-width="1.4"/>
<line x1="541.13" y1="352.47" x2="541.13" y2="363.96" stroke="#a30f28" stroke-width="1.4"/>
<line x1="538.93" y1="363.96" x2="543.33" y2="363.96" stroke="#a30f28" stroke-width="1.4"/>
<line x1="549.15" y1="438.15" x2="549.15" y2="413.65" stroke="#a30f28" stroke-width="1.4"/>
<line x1="546.95" y1="413.65" x2="551.35" y2="413.65" stroke="#a30f28" stroke-width="1.4"/>
<line x1="549.15" y1="451.85" x2="549.15" y2="654.6" stroke="#a30f28" stroke-width="1.4"/>
<line x1="546.95" y1="654.6" x2="551.35" y2="654.6" stroke="#a30f28" stroke-width="1.4"/>
<line x1="557.18" y1="375.45" x2="557.18" y2="363.96" stroke="#a30f28" stroke-width="1.4"/>
<line x1="554.98" y1="363.96" x2="559.38" y2="363.96" stroke="#a30f28" stroke-width="1.4"/>
<line x1="557.18" y1="389.15" x2="557.18" y2="413.65" stroke="#a30f28" stroke-width="1.4"/>
<line x1="554.98" y1="413.65" x2="559.38" y2="413.65" stroke="#a30f28" stroke-width="1.4"/>
<line x1="565.2" y1="357.11" x2="565.2" y2="348.47" stroke="#a30f28" stroke-width="1.4"/>
<line x1="563" y1="348.47" x2="567.4" y2="348.47" stroke="#a30f28" stroke-width="1.4"/>
<line x1="565.2" y1="370.81" x2="565.2" y2="387.69" stroke="#a30f28" stroke-width="1.4"/>
<line x1="563" y1="387.69" x2="567.4" y2="387.69" stroke="#a30f28" stroke-width="1.4"/>
<line x1="573.22" y1="388.46" x2="573.22" y2="374.69" stroke="#a30f28" stroke-width="1.4"/>
<line x1="571.02" y1="374.69" x2="575.42" y2="374.69" stroke="#a30f28" stroke-width="1.4"/>
<line x1="573.22" y1="402.16" x2="573.22" y2="434.26" stroke="#a30f28" stroke-width="1.4"/>
<line x1="571.02" y1="434.26" x2="575.42" y2="434.26" stroke="#a30f28" stroke-width="1.4"/>
<line x1="589.26" y1="406.8" x2="589.26" y2="389.46" stroke="#a30f28" stroke-width="1.4"/>
<line x1="587.06" y1="389.46" x2="591.46" y2="389.46" stroke="#a30f28" stroke-width="1.4"/>
<line x1="589.26" y1="420.5" x2="589.26" y2="469.19" stroke="#a30f28" stroke-width="1.4"/>
<line x1="587.06" y1="469.19" x2="591.46" y2="469.19" stroke="#a30f28" stroke-width="1.4"/>
<line x1="605.3" y1="438.15" x2="605.3" y2="413.65" stroke="#a30f28" stroke-width="1.4"/>
<line x1="603.1" y1="413.65" x2="607.5" y2="413.65" stroke="#a30f28" stroke-width="1.4"/>
<line x1="605.3" y1="451.85" x2="605.3" y2="654.6" stroke="#a30f28" stroke-width="1.4"/>
<line x1="603.1" y1="654.6" x2="607.5" y2="654.6" stroke="#a30f28" stroke-width="1.4"/>
<line x1="613.32" y1="438.15" x2="613.32" y2="413.65" stroke="#a30f28" stroke-width="1.4"/>
<line x1="611.12" y1="413.65" x2="615.52" y2="413.65" stroke="#a30f28" stroke-width="1.4"/>
<line x1="613.32" y1="451.85" x2="613.32" y2="654.6" stroke="#a30f28" stroke-width="1.4"/>
<line x1="611.12" y1="654.6" x2="615.52" y2="654.6" stroke="#a30f28" stroke-width="1.4"/>
<line x1="621.34" y1="365.35" x2="621.34" y2="355.48" stroke="#a30f28" stroke-width="1.4"/>
<line x1="619.14" y1="355.48" x2="623.54" y2="355.48" stroke="#a30f28" stroke-width="1.4"/>
<line x1="621.34" y1="379.05" x2="621.34" y2="399.01" stroke="#a30f28" stroke-width="1.4"/>
<line x1="619.14" y1="399.01" x2="623.54" y2="399.01" stroke="#a30f28" stroke-width="1.4"/>
<line x1="629.36" y1="438.15" x2="629.36" y2="413.65" stroke="#a30f28" stroke-width="1.4"/>
<line x1="627.16" y1="413.65" x2="631.56" y2="413.65" stroke="#a30f28" stroke-width="1.4"/>
<line x1="629.36" y1="451.85" x2="629.36" y2="654.6" stroke="#a30f28" stroke-width="1.4"/>
<line x1="627.16" y1="654.6" x2="631.56" y2="654.6" stroke="#a30f28" stroke-width="1.4"/>
<line x1="637.38" y1="438.15" x2="637.38" y2="413.65" stroke="#a30f28" stroke-width="1.4"/>
<line x1="635.18" y1="413.65" x2="639.58" y2="413.65" stroke="#a30f28" stroke-width="1.4"/>
<line x1="637.38" y1="451.85" x2="637.38" y2="654.6" stroke="#a30f28" stroke-width="1.4"/>
<line x1="635.18" y1="654.6" x2="639.58" y2="654.6" stroke="#a30f28" stroke-width="1.4"/>
<line x1="645.4" y1="438.15" x2="645.4" y2="413.65" stroke="#a30f28" stroke-width="1.4"/>
<line x1="643.2" y1="413.65" x2="647.6" y2="413.65" stroke="#a30f28" stroke-width="1.4"/>
<line x1="645.4" y1="451.85" x2="645.4" y2="654.6" stroke="#a30f28" stroke-width="1.4"/>
<line x1="643.2" y1="654.6" x2="647.6" y2="654.6" stroke="#a30f28" stroke-width="1.4"/>
<line x1="653.42" y1="406.8" x2="653.42" y2="389.46" stroke="#a30f28" stroke-width="1.4"/>
<line x1="651.22" y1="389.46" x2="655.62" y2="389.46" stroke="#a30f28" stroke-width="1.4"/>
<line x1="653.42" y1="420.5" x2="653.42" y2="469.19" stroke="#a30f28" stroke-width="1.4"/>
<line x1="651.22" y1="469.19" x2="655.62" y2="469.19" stroke="#a30f28" stroke-width="1.4"/>
<line x1="717.59" y1="438.15" x2="717.59" y2="413.65" stroke="#a30f28" stroke-width="1.4"/>
<line x1="715.39" y1="413.65" x2="719.79" y2="413.65" stroke="#a30f28" stroke-width="1.4"/>
<line x1="717.59" y1="451.85" x2="717.59" y2="654.6" stroke="#a30f28" stroke-width="1.4"/>
<line x1="715.39" y1="654.6" x2="719.79" y2="654.6" stroke="#a30f28" stroke-width="1.4"/>
</g>
<g clip-path="url(#cm)">
<polygon points="108.01,320.54 102.38,331.63 113.64,331.63" fill="none" stroke="#a30f28" stroke-width="1.5" stroke-linejoin="miter" stroke-miterlimit="10"/>
<polygon points="116.03,273.05 110.4,284.15 121.66,284.15" fill="none" stroke="#a30f28" stroke-width="1.5" stroke-linejoin="miter" stroke-miterlimit="10"/>
<polygon points="124.05,250.4 118.42,261.49 129.68,261.49" fill="none" stroke="#a30f28" stroke-width="1.5" stroke-linejoin="miter" stroke-miterlimit="10"/>
<polygon points="132.07,241.14 126.44,252.23 137.7,252.23" fill="none" stroke="#a30f28" stroke-width="1.5" stroke-linejoin="miter" stroke-miterlimit="10"/>
<polygon points="140.09,237.39 134.47,248.48 145.72,248.48" fill="none" stroke="#a30f28" stroke-width="1.5" stroke-linejoin="miter" stroke-miterlimit="10"/>
<polygon points="148.11,218.03 142.49,229.13 153.74,229.13" fill="none" stroke="#a30f28" stroke-width="1.5" stroke-linejoin="miter" stroke-miterlimit="10"/>
<polygon points="156.14,210.35 150.51,221.44 161.76,221.44" fill="none" stroke="#a30f28" stroke-width="1.5" stroke-linejoin="miter" stroke-miterlimit="10"/>
<polygon points="164.16,207.61 158.53,218.7 169.78,218.7" fill="none" stroke="#a30f28" stroke-width="1.5" stroke-linejoin="miter" stroke-miterlimit="10"/>
<polygon points="172.18,201.87 166.55,212.96 177.81,212.96" fill="none" stroke="#a30f28" stroke-width="1.5" stroke-linejoin="miter" stroke-miterlimit="10"/>
<polygon points="180.2,204.52 174.57,215.61 185.83,215.61" fill="none" stroke="#a30f28" stroke-width="1.5" stroke-linejoin="miter" stroke-miterlimit="10"/>
<polygon points="188.22,197.83 182.59,208.93 193.85,208.93" fill="none" stroke="#a30f28" stroke-width="1.5" stroke-linejoin="miter" stroke-miterlimit="10"/>
<polygon points="196.24,198.05 190.61,209.14 201.87,209.14" fill="none" stroke="#a30f28" stroke-width="1.5" stroke-linejoin="miter" stroke-miterlimit="10"/>
<polygon points="204.26,198.26 198.63,209.36 209.89,209.36" fill="none" stroke="#a30f28" stroke-width="1.5" stroke-linejoin="miter" stroke-miterlimit="10"/>
<polygon points="212.28,195.53 206.65,206.63 217.91,206.63" fill="none" stroke="#a30f28" stroke-width="1.5" stroke-linejoin="miter" stroke-miterlimit="10"/>
<polygon points="220.3,195.33 214.67,206.42 225.93,206.42" fill="none" stroke="#a30f28" stroke-width="1.5" stroke-linejoin="miter" stroke-miterlimit="10"/>
<polygon points="228.32,197.41 222.69,208.5 233.95,208.5" fill="none" stroke="#a30f28" stroke-width="1.5" stroke-linejoin="miter" stroke-miterlimit="10"/>
<polygon points="236.34,197.41 230.71,208.5 241.97,208.5" fill="none" stroke="#a30f28" stroke-width="1.5" stroke-linejoin="miter" stroke-miterlimit="10"/>
<polygon points="244.36,196.15 238.74,207.24 249.99,207.24" fill="none" stroke="#a30f28" stroke-width="1.5" stroke-linejoin="miter" stroke-miterlimit="10"/>
<polygon points="252.38,207.61 246.76,218.7 258.01,218.7" fill="none" stroke="#a30f28" stroke-width="1.5" stroke-linejoin="miter" stroke-miterlimit="10"/>
<polygon points="260.41,198.7 254.78,209.79 266.03,209.79" fill="none" stroke="#a30f28" stroke-width="1.5" stroke-linejoin="miter" stroke-miterlimit="10"/>
<polygon points="268.43,204.27 262.8,215.37 274.05,215.37" fill="none" stroke="#a30f28" stroke-width="1.5" stroke-linejoin="miter" stroke-miterlimit="10"/>
<polygon points="276.45,215.43 270.82,226.52 282.08,226.52" fill="none" stroke="#a30f28" stroke-width="1.5" stroke-linejoin="miter" stroke-miterlimit="10"/>
<polygon points="284.47,213.57 278.84,224.66 290.1,224.66" fill="none" stroke="#a30f28" stroke-width="1.5" stroke-linejoin="miter" stroke-miterlimit="10"/>
<polygon points="292.49,215.11 286.86,226.21 298.12,226.21" fill="none" stroke="#a30f28" stroke-width="1.5" stroke-linejoin="miter" stroke-miterlimit="10"/>
<polygon points="300.51,228.55 294.88,239.64 306.14,239.64" fill="none" stroke="#a30f28" stroke-width="1.5" stroke-linejoin="miter" stroke-miterlimit="10"/>
<polygon points="308.53,219.74 302.9,230.83 314.16,230.83" fill="none" stroke="#a30f28" stroke-width="1.5" stroke-linejoin="miter" stroke-miterlimit="10"/>
<polygon points="316.55,224.89 310.92,235.99 322.18,235.99" fill="none" stroke="#a30f28" stroke-width="1.5" stroke-linejoin="miter" stroke-miterlimit="10"/>
<polygon points="324.57,224.12 318.94,235.21 330.2,235.21" fill="none" stroke="#a30f28" stroke-width="1.5" stroke-linejoin="miter" stroke-miterlimit="10"/>
<polygon points="332.59,232.06 326.96,243.15 338.22,243.15" fill="none" stroke="#a30f28" stroke-width="1.5" stroke-linejoin="miter" stroke-miterlimit="10"/>
<polygon points="340.61,231.61 334.99,242.7 346.24,242.7" fill="none" stroke="#a30f28" stroke-width="1.5" stroke-linejoin="miter" stroke-miterlimit="10"/>
<polygon points="348.63,235.87 343.01,246.97 354.26,246.97" fill="none" stroke="#a30f28" stroke-width="1.5" stroke-linejoin="miter" stroke-miterlimit="10"/>
<polygon points="356.66,244.02 351.03,255.11 362.28,255.11" fill="none" stroke="#a30f28" stroke-width="1.5" stroke-linejoin="miter" stroke-miterlimit="10"/>
<polygon points="364.68,253.23 359.05,264.32 370.3,264.32" fill="none" stroke="#a30f28" stroke-width="1.5" stroke-linejoin="miter" stroke-miterlimit="10"/>
<polygon points="372.7,245.84 367.07,256.93 378.33,256.93" fill="none" stroke="#a30f28" stroke-width="1.5" stroke-linejoin="miter" stroke-miterlimit="10"/>
<polygon points="380.72,249.72 375.09,260.81 386.35,260.81" fill="none" stroke="#a30f28" stroke-width="1.5" stroke-linejoin="miter" stroke-miterlimit="10"/>
<polygon points="388.74,254.71 383.11,265.81 394.37,265.81" fill="none" stroke="#a30f28" stroke-width="1.5" stroke-linejoin="miter" stroke-miterlimit="10"/>
<polygon points="396.76,261.19 391.13,272.28 402.39,272.28" fill="none" stroke="#a30f28" stroke-width="1.5" stroke-linejoin="miter" stroke-miterlimit="10"/>
<polygon points="404.78,264.81 399.15,275.9 410.41,275.9" fill="none" stroke="#a30f28" stroke-width="1.5" stroke-linejoin="miter" stroke-miterlimit="10"/>
<polygon points="412.8,270.85 407.17,281.94 418.43,281.94" fill="none" stroke="#a30f28" stroke-width="1.5" stroke-linejoin="miter" stroke-miterlimit="10"/>
<polygon points="420.82,280.4 415.19,291.5 426.45,291.5" fill="none" stroke="#a30f28" stroke-width="1.5" stroke-linejoin="miter" stroke-miterlimit="10"/>
<polygon points="428.84,300.09 423.21,311.19 434.47,311.19" fill="none" stroke="#a30f28" stroke-width="1.5" stroke-linejoin="miter" stroke-miterlimit="10"/>
<polygon points="436.86,294.31 431.23,305.4 442.49,305.4" fill="none" stroke="#a30f28" stroke-width="1.5" stroke-linejoin="miter" stroke-miterlimit="10"/>
<polygon points="444.88,302.2 439.26,313.29 450.51,313.29" fill="none" stroke="#a30f28" stroke-width="1.5" stroke-linejoin="miter" stroke-miterlimit="10"/>
<polygon points="452.9,306.73 447.28,317.82 458.53,317.82" fill="none" stroke="#a30f28" stroke-width="1.5" stroke-linejoin="miter" stroke-miterlimit="10"/>
<polygon points="460.93,304.41 455.3,315.5 466.55,315.5" fill="none" stroke="#a30f28" stroke-width="1.5" stroke-linejoin="miter" stroke-miterlimit="10"/>
<polygon points="468.95,335.76 463.32,346.85 474.57,346.85" fill="none" stroke="#a30f28" stroke-width="1.5" stroke-linejoin="miter" stroke-miterlimit="10"/>
<polygon points="476.97,323.89 471.34,334.98 482.6,334.98" fill="none" stroke="#a30f28" stroke-width="1.5" stroke-linejoin="miter" stroke-miterlimit="10"/>
<polygon points="484.99,340.52 479.36,351.62 490.62,351.62" fill="none" stroke="#a30f28" stroke-width="1.5" stroke-linejoin="miter" stroke-miterlimit="10"/>
<polygon points="493.01,327.51 487.38,338.6 498.64,338.6" fill="none" stroke="#a30f28" stroke-width="1.5" stroke-linejoin="miter" stroke-miterlimit="10"/>
<polygon points="501.03,311.76 495.4,322.85 506.66,322.85" fill="none" stroke="#a30f28" stroke-width="1.5" stroke-linejoin="miter" stroke-miterlimit="10"/>
<polygon points="509.05,323.89 503.42,334.98 514.68,334.98" fill="none" stroke="#a30f28" stroke-width="1.5" stroke-linejoin="miter" stroke-miterlimit="10"/>
<polygon points="517.07,335.76 511.44,346.85 522.7,346.85" fill="none" stroke="#a30f28" stroke-width="1.5" stroke-linejoin="miter" stroke-miterlimit="10"/>
<polygon points="525.09,358.86 519.46,369.96 530.72,369.96" fill="none" stroke="#a30f28" stroke-width="1.5" stroke-linejoin="miter" stroke-miterlimit="10"/>
<polygon points="533.11,367.11 527.48,378.2 538.74,378.2" fill="none" stroke="#a30f28" stroke-width="1.5" stroke-linejoin="miter" stroke-miterlimit="10"/>
<polygon points="541.13,340.52 535.51,351.62 546.76,351.62" fill="none" stroke="#a30f28" stroke-width="1.5" stroke-linejoin="miter" stroke-miterlimit="10"/>
<polygon points="549.15,439.91 543.53,451 554.78,451" fill="none" stroke="#a30f28" stroke-width="1.5" stroke-linejoin="miter" stroke-miterlimit="10"/>
<polygon points="557.18,377.2 551.55,388.3 562.8,388.3" fill="none" stroke="#a30f28" stroke-width="1.5" stroke-linejoin="miter" stroke-miterlimit="10"/>
<polygon points="565.2,358.86 559.57,369.96 570.82,369.96" fill="none" stroke="#a30f28" stroke-width="1.5" stroke-linejoin="miter" stroke-miterlimit="10"/>
<polygon points="573.22,390.22 567.59,401.31 578.85,401.31" fill="none" stroke="#a30f28" stroke-width="1.5" stroke-linejoin="miter" stroke-miterlimit="10"/>
<polygon points="589.26,408.56 583.63,419.65 594.89,419.65" fill="none" stroke="#a30f28" stroke-width="1.5" stroke-linejoin="miter" stroke-miterlimit="10"/>
<polygon points="605.3,439.91 599.67,451 610.93,451" fill="none" stroke="#a30f28" stroke-width="1.5" stroke-linejoin="miter" stroke-miterlimit="10"/>
<polygon points="613.32,439.91 607.69,451 618.95,451" fill="none" stroke="#a30f28" stroke-width="1.5" stroke-linejoin="miter" stroke-miterlimit="10"/>
<polygon points="621.34,367.11 615.71,378.2 626.97,378.2" fill="none" stroke="#a30f28" stroke-width="1.5" stroke-linejoin="miter" stroke-miterlimit="10"/>
<polygon points="629.36,439.91 623.73,451 634.99,451" fill="none" stroke="#a30f28" stroke-width="1.5" stroke-linejoin="miter" stroke-miterlimit="10"/>
<polygon points="637.38,439.91 631.75,451 643.01,451" fill="none" stroke="#a30f28" stroke-width="1.5" stroke-linejoin="miter" stroke-miterlimit="10"/>
<polygon points="645.4,439.91 639.78,451 651.03,451" fill="none" stroke="#a30f28" stroke-width="1.5" stroke-linejoin="miter" stroke-miterlimit="10"/>
<polygon points="653.42,408.56 647.8,419.65 659.05,419.65" fill="none" stroke="#a30f28" stroke-width="1.5" stroke-linejoin="miter" stroke-miterlimit="10"/>
<polygon points="717.59,439.91 711.96,451 723.22,451" fill="none" stroke="#a30f28" stroke-width="1.5" stroke-linejoin="miter" stroke-miterlimit="10"/>
</g>
<g clip-path="url(#cm)">
<polyline points="108.01,334.65 116.03,277.99 124.05,249.99 132.07,247.28 140.09,235.27 148.11,221.51 156.14,218.63 164.16,205.71 172.18,205.19 180.2,198.03 188.22,195.88 196.24,197.81 204.26,199.6 212.28,199.83 220.3,198.7 228.32,195.25 236.34,198.7 244.36,199.37 252.38,199.6 260.41,197.37 268.43,203.17 276.45,211.86 284.47,209.52 292.49,218.98 300.51,213.07 308.53,217.26 316.55,220.77 324.57,228.29 332.59,227.86 340.61,232.82 348.63,241.16 356.66,249.29 364.68,235.77 372.7,251.4 380.72,264.65 388.74,256.73 396.76,254.37 404.78,288.08 412.8,277.99 420.82,279.3 428.84,295.05 436.86,283.47 444.88,301.09 452.9,301.09 460.93,322.78 468.95,319.43 476.97,334.65 484.99,322.78 493.01,366 501.03,376.1 509.05,357.76 517.07,334.65 525.09,357.76 533.11,389.11 541.13,339.42 549.15,366 557.18,366 565.2,344.74 573.22,438.8 581.24,357.76 605.3,438.8 613.32,407.45 645.4,407.45 653.42,438.8 661.45,438.8 669.47,438.8 677.49,407.45 693.53,438.8 701.55,438.8 717.59,438.8" fill="none" stroke="#9414cc" stroke-width="1.7" stroke-dasharray="1.6 2.55"/>
<line x1="108.01" y1="329.3" x2="108.01" y2="322.22" stroke="#9414cc" stroke-width="1.7" stroke-dasharray="1.6 2.55" stroke-dashoffset="0"/>
<line x1="105.81" y1="322.22" x2="110.21" y2="322.22" stroke="#9414cc" stroke-width="1.7"/>
<line x1="108.01" y1="340" x2="108.01" y2="351.84" stroke="#9414cc" stroke-width="1.7" stroke-dasharray="1.6 2.55" stroke-dashoffset="0"/>
<line x1="105.81" y1="351.84" x2="110.21" y2="351.84" stroke="#9414cc" stroke-width="1.7"/>
<line x1="116.03" y1="272.64" x2="116.03" y2="270.92" stroke="#9414cc" stroke-width="1.7" stroke-dasharray="1.6 2.55" stroke-dashoffset="0"/>
<line x1="113.83" y1="270.92" x2="118.23" y2="270.92" stroke="#9414cc" stroke-width="1.7"/>
<line x1="116.03" y1="283.34" x2="116.03" y2="286.36" stroke="#9414cc" stroke-width="1.7" stroke-dasharray="1.6 2.55" stroke-dashoffset="0"/>
<line x1="113.83" y1="286.36" x2="118.23" y2="286.36" stroke="#9414cc" stroke-width="1.7"/>
<line x1="124.05" y1="255.34" x2="124.05" y2="255.98" stroke="#9414cc" stroke-width="1.7" stroke-dasharray="1.6 2.55" stroke-dashoffset="0"/>
<line x1="121.85" y1="255.98" x2="126.25" y2="255.98" stroke="#9414cc" stroke-width="1.7"/>
<line x1="132.07" y1="252.63" x2="132.07" y2="253.09" stroke="#9414cc" stroke-width="1.7" stroke-dasharray="1.6 2.55" stroke-dashoffset="0"/>
<line x1="129.87" y1="253.09" x2="134.27" y2="253.09" stroke="#9414cc" stroke-width="1.7"/>
<line x1="348.63" y1="246.51" x2="348.63" y2="246.56" stroke="#9414cc" stroke-width="1.7" stroke-dasharray="1.6 2.55" stroke-dashoffset="0"/>
<line x1="346.43" y1="246.56" x2="350.83" y2="246.56" stroke="#9414cc" stroke-width="1.7"/>
<line x1="356.66" y1="254.64" x2="356.66" y2="255.24" stroke="#9414cc" stroke-width="1.7" stroke-dasharray="1.6 2.55" stroke-dashoffset="0"/>
<line x1="354.46" y1="255.24" x2="358.86" y2="255.24" stroke="#9414cc" stroke-width="1.7"/>
<line x1="372.7" y1="246.05" x2="372.7" y2="246.03" stroke="#9414cc" stroke-width="1.7" stroke-dasharray="1.6 2.55" stroke-dashoffset="0"/>
<line x1="370.5" y1="246.03" x2="374.9" y2="246.03" stroke="#9414cc" stroke-width="1.7"/>
<line x1="372.7" y1="256.75" x2="372.7" y2="257.49" stroke="#9414cc" stroke-width="1.7" stroke-dasharray="1.6 2.55" stroke-dashoffset="0"/>
<line x1="370.5" y1="257.49" x2="374.9" y2="257.49" stroke="#9414cc" stroke-width="1.7"/>
<line x1="380.72" y1="259.3" x2="380.72" y2="258.49" stroke="#9414cc" stroke-width="1.7" stroke-dasharray="1.6 2.55" stroke-dashoffset="0"/>
<line x1="378.52" y1="258.49" x2="382.92" y2="258.49" stroke="#9414cc" stroke-width="1.7"/>
<line x1="380.72" y1="270" x2="380.72" y2="271.78" stroke="#9414cc" stroke-width="1.7" stroke-dasharray="1.6 2.55" stroke-dashoffset="0"/>
<line x1="378.52" y1="271.78" x2="382.92" y2="271.78" stroke="#9414cc" stroke-width="1.7"/>
<line x1="388.74" y1="251.38" x2="388.74" y2="251.05" stroke="#9414cc" stroke-width="1.7" stroke-dasharray="1.6 2.55" stroke-dashoffset="0"/>
<line x1="386.54" y1="251.05" x2="390.94" y2="251.05" stroke="#9414cc" stroke-width="1.7"/>
<line x1="388.74" y1="262.08" x2="388.74" y2="263.21" stroke="#9414cc" stroke-width="1.7" stroke-dasharray="1.6 2.55" stroke-dashoffset="0"/>
<line x1="386.54" y1="263.21" x2="390.94" y2="263.21" stroke="#9414cc" stroke-width="1.7"/>
<line x1="396.76" y1="249.02" x2="396.76" y2="248.83" stroke="#9414cc" stroke-width="1.7" stroke-dasharray="1.6 2.55" stroke-dashoffset="0"/>
<line x1="394.56" y1="248.83" x2="398.96" y2="248.83" stroke="#9414cc" stroke-width="1.7"/>
<line x1="396.76" y1="259.72" x2="396.76" y2="260.67" stroke="#9414cc" stroke-width="1.7" stroke-dasharray="1.6 2.55" stroke-dashoffset="0"/>
<line x1="394.56" y1="260.67" x2="398.96" y2="260.67" stroke="#9414cc" stroke-width="1.7"/>
<line x1="404.78" y1="282.73" x2="404.78" y2="280.25" stroke="#9414cc" stroke-width="1.7" stroke-dasharray="1.6 2.55" stroke-dashoffset="0"/>
<line x1="402.58" y1="280.25" x2="406.98" y2="280.25" stroke="#9414cc" stroke-width="1.7"/>
<line x1="404.78" y1="293.43" x2="404.78" y2="297.55" stroke="#9414cc" stroke-width="1.7" stroke-dasharray="1.6 2.55" stroke-dashoffset="0"/>
<line x1="402.58" y1="297.55" x2="406.98" y2="297.55" stroke="#9414cc" stroke-width="1.7"/>
<line x1="412.8" y1="272.64" x2="412.8" y2="270.92" stroke="#9414cc" stroke-width="1.7" stroke-dasharray="1.6 2.55" stroke-dashoffset="0"/>
<line x1="410.6" y1="270.92" x2="415" y2="270.92" stroke="#9414cc" stroke-width="1.7"/>
<line x1="412.8" y1="283.34" x2="412.8" y2="286.36" stroke="#9414cc" stroke-width="1.7" stroke-dasharray="1.6 2.55" stroke-dashoffset="0"/>
<line x1="410.6" y1="286.36" x2="415" y2="286.36" stroke="#9414cc" stroke-width="1.7"/>
<line x1="420.82" y1="273.95" x2="420.82" y2="272.14" stroke="#9414cc" stroke-width="1.7" stroke-dasharray="1.6 2.55" stroke-dashoffset="0"/>
<line x1="418.62" y1="272.14" x2="423.02" y2="272.14" stroke="#9414cc" stroke-width="1.7"/>
<line x1="420.82" y1="284.65" x2="420.82" y2="287.81" stroke="#9414cc" stroke-width="1.7" stroke-dasharray="1.6 2.55" stroke-dashoffset="0"/>
<line x1="418.62" y1="287.81" x2="423.02" y2="287.81" stroke="#9414cc" stroke-width="1.7"/>
<line x1="428.84" y1="289.7" x2="428.84" y2="286.65" stroke="#9414cc" stroke-width="1.7" stroke-dasharray="1.6 2.55" stroke-dashoffset="0"/>
<line x1="426.64" y1="286.65" x2="431.04" y2="286.65" stroke="#9414cc" stroke-width="1.7"/>
<line x1="428.84" y1="300.4" x2="428.84" y2="305.38" stroke="#9414cc" stroke-width="1.7" stroke-dasharray="1.6 2.55" stroke-dashoffset="0"/>
<line x1="426.64" y1="305.38" x2="431.04" y2="305.38" stroke="#9414cc" stroke-width="1.7"/>
<line x1="436.86" y1="278.12" x2="436.86" y2="276" stroke="#9414cc" stroke-width="1.7" stroke-dasharray="1.6 2.55" stroke-dashoffset="0"/>
<line x1="434.66" y1="276" x2="439.06" y2="276" stroke="#9414cc" stroke-width="1.7"/>
<line x1="436.86" y1="288.82" x2="436.86" y2="292.43" stroke="#9414cc" stroke-width="1.7" stroke-dasharray="1.6 2.55" stroke-dashoffset="0"/>
<line x1="434.66" y1="292.43" x2="439.06" y2="292.43" stroke="#9414cc" stroke-width="1.7"/>
<line x1="444.88" y1="295.74" x2="444.88" y2="292.16" stroke="#9414cc" stroke-width="1.7" stroke-dasharray="1.6 2.55" stroke-dashoffset="0"/>
<line x1="442.68" y1="292.16" x2="447.08" y2="292.16" stroke="#9414cc" stroke-width="1.7"/>
<line x1="444.88" y1="306.44" x2="444.88" y2="312.23" stroke="#9414cc" stroke-width="1.7" stroke-dasharray="1.6 2.55" stroke-dashoffset="0"/>
<line x1="442.68" y1="312.23" x2="447.08" y2="312.23" stroke="#9414cc" stroke-width="1.7"/>
<line x1="452.9" y1="295.74" x2="452.9" y2="292.16" stroke="#9414cc" stroke-width="1.7" stroke-dasharray="1.6 2.55" stroke-dashoffset="0"/>
<line x1="450.7" y1="292.16" x2="455.1" y2="292.16" stroke="#9414cc" stroke-width="1.7"/>
<line x1="452.9" y1="306.44" x2="452.9" y2="312.23" stroke="#9414cc" stroke-width="1.7" stroke-dasharray="1.6 2.55" stroke-dashoffset="0"/>
<line x1="450.7" y1="312.23" x2="455.1" y2="312.23" stroke="#9414cc" stroke-width="1.7"/>
<line x1="460.93" y1="317.43" x2="460.93" y2="311.71" stroke="#9414cc" stroke-width="1.7" stroke-dasharray="1.6 2.55" stroke-dashoffset="0"/>
<line x1="458.73" y1="311.71" x2="463.13" y2="311.71" stroke="#9414cc" stroke-width="1.7"/>
<line x1="460.93" y1="328.13" x2="460.93" y2="337.48" stroke="#9414cc" stroke-width="1.7" stroke-dasharray="1.6 2.55" stroke-dashoffset="0"/>
<line x1="458.73" y1="337.48" x2="463.13" y2="337.48" stroke="#9414cc" stroke-width="1.7"/>
<line x1="468.95" y1="314.08" x2="468.95" y2="308.72" stroke="#9414cc" stroke-width="1.7" stroke-dasharray="1.6 2.55" stroke-dashoffset="0"/>
<line x1="466.75" y1="308.72" x2="471.15" y2="308.72" stroke="#9414cc" stroke-width="1.7"/>
<line x1="468.95" y1="324.78" x2="468.95" y2="333.5" stroke="#9414cc" stroke-width="1.7" stroke-dasharray="1.6 2.55" stroke-dashoffset="0"/>
<line x1="466.75" y1="333.5" x2="471.15" y2="333.5" stroke="#9414cc" stroke-width="1.7"/>
<line x1="476.97" y1="329.3" x2="476.97" y2="322.22" stroke="#9414cc" stroke-width="1.7" stroke-dasharray="1.6 2.55" stroke-dashoffset="0"/>
<line x1="474.77" y1="322.22" x2="479.17" y2="322.22" stroke="#9414cc" stroke-width="1.7"/>
<line x1="476.97" y1="340" x2="476.97" y2="351.84" stroke="#9414cc" stroke-width="1.7" stroke-dasharray="1.6 2.55" stroke-dashoffset="0"/>
<line x1="474.77" y1="351.84" x2="479.17" y2="351.84" stroke="#9414cc" stroke-width="1.7"/>
<line x1="484.99" y1="317.43" x2="484.99" y2="311.71" stroke="#9414cc" stroke-width="1.7" stroke-dasharray="1.6 2.55" stroke-dashoffset="0"/>
<line x1="482.79" y1="311.71" x2="487.19" y2="311.71" stroke="#9414cc" stroke-width="1.7"/>
<line x1="484.99" y1="328.13" x2="484.99" y2="337.48" stroke="#9414cc" stroke-width="1.7" stroke-dasharray="1.6 2.55" stroke-dashoffset="0"/>
<line x1="482.79" y1="337.48" x2="487.19" y2="337.48" stroke="#9414cc" stroke-width="1.7"/>
<line x1="493.01" y1="360.65" x2="493.01" y2="349.28" stroke="#9414cc" stroke-width="1.7" stroke-dasharray="1.6 2.55" stroke-dashoffset="0"/>
<line x1="490.81" y1="349.28" x2="495.21" y2="349.28" stroke="#9414cc" stroke-width="1.7"/>
<line x1="493.01" y1="371.35" x2="493.01" y2="392.81" stroke="#9414cc" stroke-width="1.7" stroke-dasharray="1.6 2.55" stroke-dashoffset="0"/>
<line x1="490.81" y1="392.81" x2="495.21" y2="392.81" stroke="#9414cc" stroke-width="1.7"/>
<line x1="501.03" y1="370.75" x2="501.03" y2="357.76" stroke="#9414cc" stroke-width="1.7" stroke-dasharray="1.6 2.55" stroke-dashoffset="0"/>
<line x1="498.83" y1="357.76" x2="503.23" y2="357.76" stroke="#9414cc" stroke-width="1.7"/>
<line x1="501.03" y1="381.45" x2="501.03" y2="407.45" stroke="#9414cc" stroke-width="1.7" stroke-dasharray="1.6 2.55" stroke-dashoffset="0"/>
<line x1="498.83" y1="407.45" x2="503.23" y2="407.45" stroke="#9414cc" stroke-width="1.7"/>
<line x1="509.05" y1="352.41" x2="509.05" y2="342.27" stroke="#9414cc" stroke-width="1.7" stroke-dasharray="1.6 2.55" stroke-dashoffset="0"/>
<line x1="506.85" y1="342.27" x2="511.25" y2="342.27" stroke="#9414cc" stroke-width="1.7"/>
<line x1="509.05" y1="363.11" x2="509.05" y2="381.49" stroke="#9414cc" stroke-width="1.7" stroke-dasharray="1.6 2.55" stroke-dashoffset="0"/>
<line x1="506.85" y1="381.49" x2="511.25" y2="381.49" stroke="#9414cc" stroke-width="1.7"/>
<line x1="517.07" y1="329.3" x2="517.07" y2="322.22" stroke="#9414cc" stroke-width="1.7" stroke-dasharray="1.6 2.55" stroke-dashoffset="0"/>
<line x1="514.87" y1="322.22" x2="519.27" y2="322.22" stroke="#9414cc" stroke-width="1.7"/>
<line x1="517.07" y1="340" x2="517.07" y2="351.84" stroke="#9414cc" stroke-width="1.7" stroke-dasharray="1.6 2.55" stroke-dashoffset="0"/>
<line x1="514.87" y1="351.84" x2="519.27" y2="351.84" stroke="#9414cc" stroke-width="1.7"/>
<line x1="525.09" y1="352.41" x2="525.09" y2="342.27" stroke="#9414cc" stroke-width="1.7" stroke-dasharray="1.6 2.55" stroke-dashoffset="0"/>
<line x1="522.89" y1="342.27" x2="527.29" y2="342.27" stroke="#9414cc" stroke-width="1.7"/>
<line x1="525.09" y1="363.11" x2="525.09" y2="381.49" stroke="#9414cc" stroke-width="1.7" stroke-dasharray="1.6 2.55" stroke-dashoffset="0"/>
<line x1="522.89" y1="381.49" x2="527.29" y2="381.49" stroke="#9414cc" stroke-width="1.7"/>
<line x1="533.11" y1="383.76" x2="533.11" y2="368.49" stroke="#9414cc" stroke-width="1.7" stroke-dasharray="1.6 2.55" stroke-dashoffset="0"/>
<line x1="530.91" y1="368.49" x2="535.31" y2="368.49" stroke="#9414cc" stroke-width="1.7"/>
<line x1="533.11" y1="394.46" x2="533.11" y2="428.06" stroke="#9414cc" stroke-width="1.7" stroke-dasharray="1.6 2.55" stroke-dashoffset="0"/>
<line x1="530.91" y1="428.06" x2="535.31" y2="428.06" stroke="#9414cc" stroke-width="1.7"/>
<line x1="541.13" y1="334.07" x2="541.13" y2="326.4" stroke="#9414cc" stroke-width="1.7" stroke-dasharray="1.6 2.55" stroke-dashoffset="0"/>
<line x1="538.93" y1="326.4" x2="543.33" y2="326.4" stroke="#9414cc" stroke-width="1.7"/>
<line x1="541.13" y1="344.77" x2="541.13" y2="357.76" stroke="#9414cc" stroke-width="1.7" stroke-dasharray="1.6 2.55" stroke-dashoffset="0"/>
<line x1="538.93" y1="357.76" x2="543.33" y2="357.76" stroke="#9414cc" stroke-width="1.7"/>
<line x1="549.15" y1="360.65" x2="549.15" y2="349.28" stroke="#9414cc" stroke-width="1.7" stroke-dasharray="1.6 2.55" stroke-dashoffset="0"/>
<line x1="546.95" y1="349.28" x2="551.35" y2="349.28" stroke="#9414cc" stroke-width="1.7"/>
<line x1="549.15" y1="371.35" x2="549.15" y2="392.81" stroke="#9414cc" stroke-width="1.7" stroke-dasharray="1.6 2.55" stroke-dashoffset="0"/>
<line x1="546.95" y1="392.81" x2="551.35" y2="392.81" stroke="#9414cc" stroke-width="1.7"/>
<line x1="557.18" y1="360.65" x2="557.18" y2="349.28" stroke="#9414cc" stroke-width="1.7" stroke-dasharray="1.6 2.55" stroke-dashoffset="0"/>
<line x1="554.98" y1="349.28" x2="559.38" y2="349.28" stroke="#9414cc" stroke-width="1.7"/>
<line x1="557.18" y1="371.35" x2="557.18" y2="392.81" stroke="#9414cc" stroke-width="1.7" stroke-dasharray="1.6 2.55" stroke-dashoffset="0"/>
<line x1="554.98" y1="392.81" x2="559.38" y2="392.81" stroke="#9414cc" stroke-width="1.7"/>
<line x1="565.2" y1="339.39" x2="565.2" y2="331.05" stroke="#9414cc" stroke-width="1.7" stroke-dasharray="1.6 2.55" stroke-dashoffset="0"/>
<line x1="563" y1="331.05" x2="567.4" y2="331.05" stroke="#9414cc" stroke-width="1.7"/>
<line x1="565.2" y1="350.09" x2="565.2" y2="364.48" stroke="#9414cc" stroke-width="1.7" stroke-dasharray="1.6 2.55" stroke-dashoffset="0"/>
<line x1="563" y1="364.48" x2="567.4" y2="364.48" stroke="#9414cc" stroke-width="1.7"/>
<line x1="573.22" y1="433.45" x2="573.22" y2="407.45" stroke="#9414cc" stroke-width="1.7" stroke-dasharray="1.6 2.55" stroke-dashoffset="0"/>
<line x1="571.02" y1="407.45" x2="575.42" y2="407.45" stroke="#9414cc" stroke-width="1.7"/>
<line x1="573.22" y1="444.15" x2="573.22" y2="654.6" stroke="#9414cc" stroke-width="1.7" stroke-dasharray="1.6 2.55" stroke-dashoffset="0"/>
<line x1="571.02" y1="654.6" x2="575.42" y2="654.6" stroke="#9414cc" stroke-width="1.7"/>
<line x1="581.24" y1="352.41" x2="581.24" y2="342.27" stroke="#9414cc" stroke-width="1.7" stroke-dasharray="1.6 2.55" stroke-dashoffset="0"/>
<line x1="579.04" y1="342.27" x2="583.44" y2="342.27" stroke="#9414cc" stroke-width="1.7"/>
<line x1="581.24" y1="363.11" x2="581.24" y2="381.49" stroke="#9414cc" stroke-width="1.7" stroke-dasharray="1.6 2.55" stroke-dashoffset="0"/>
<line x1="579.04" y1="381.49" x2="583.44" y2="381.49" stroke="#9414cc" stroke-width="1.7"/>
<line x1="605.3" y1="433.45" x2="605.3" y2="407.45" stroke="#9414cc" stroke-width="1.7" stroke-dasharray="1.6 2.55" stroke-dashoffset="0"/>
<line x1="603.1" y1="407.45" x2="607.5" y2="407.45" stroke="#9414cc" stroke-width="1.7"/>
<line x1="605.3" y1="444.15" x2="605.3" y2="654.6" stroke="#9414cc" stroke-width="1.7" stroke-dasharray="1.6 2.55" stroke-dashoffset="0"/>
<line x1="603.1" y1="654.6" x2="607.5" y2="654.6" stroke="#9414cc" stroke-width="1.7"/>
<line x1="613.32" y1="402.1" x2="613.32" y2="383.26" stroke="#9414cc" stroke-width="1.7" stroke-dasharray="1.6 2.55" stroke-dashoffset="0"/>
<line x1="611.12" y1="383.26" x2="615.52" y2="383.26" stroke="#9414cc" stroke-width="1.7"/>
<line x1="613.32" y1="412.8" x2="613.32" y2="462.99" stroke="#9414cc" stroke-width="1.7" stroke-dasharray="1.6 2.55" stroke-dashoffset="0"/>
<line x1="611.12" y1="462.99" x2="615.52" y2="462.99" stroke="#9414cc" stroke-width="1.7"/>
<line x1="645.4" y1="402.1" x2="645.4" y2="383.26" stroke="#9414cc" stroke-width="1.7" stroke-dasharray="1.6 2.55" stroke-dashoffset="0"/>
<line x1="643.2" y1="383.26" x2="647.6" y2="383.26" stroke="#9414cc" stroke-width="1.7"/>
<line x1="645.4" y1="412.8" x2="645.4" y2="462.99" stroke="#9414cc" stroke-width="1.7" stroke-dasharray="1.6 2.55" stroke-dashoffset="0"/>
<line x1="643.2" y1="462.99" x2="647.6" y2="462.99" stroke="#9414cc" stroke-width="1.7"/>
<line x1="653.42" y1="433.45" x2="653.42" y2="407.45" stroke="#9414cc" stroke-width="1.7" stroke-dasharray="1.6 2.55" stroke-dashoffset="0"/>
<line x1="651.22" y1="407.45" x2="655.62" y2="407.45" stroke="#9414cc" stroke-width="1.7"/>
<line x1="653.42" y1="444.15" x2="653.42" y2="654.6" stroke="#9414cc" stroke-width="1.7" stroke-dasharray="1.6 2.55" stroke-dashoffset="0"/>
<line x1="651.22" y1="654.6" x2="655.62" y2="654.6" stroke="#9414cc" stroke-width="1.7"/>
<line x1="661.45" y1="433.45" x2="661.45" y2="407.45" stroke="#9414cc" stroke-width="1.7" stroke-dasharray="1.6 2.55" stroke-dashoffset="0"/>
<line x1="659.25" y1="407.45" x2="663.65" y2="407.45" stroke="#9414cc" stroke-width="1.7"/>
<line x1="661.45" y1="444.15" x2="661.45" y2="654.6" stroke="#9414cc" stroke-width="1.7" stroke-dasharray="1.6 2.55" stroke-dashoffset="0"/>
<line x1="659.25" y1="654.6" x2="663.65" y2="654.6" stroke="#9414cc" stroke-width="1.7"/>
<line x1="669.47" y1="433.45" x2="669.47" y2="407.45" stroke="#9414cc" stroke-width="1.7" stroke-dasharray="1.6 2.55" stroke-dashoffset="0"/>
<line x1="667.27" y1="407.45" x2="671.67" y2="407.45" stroke="#9414cc" stroke-width="1.7"/>
<line x1="669.47" y1="444.15" x2="669.47" y2="654.6" stroke="#9414cc" stroke-width="1.7" stroke-dasharray="1.6 2.55" stroke-dashoffset="0"/>
<line x1="667.27" y1="654.6" x2="671.67" y2="654.6" stroke="#9414cc" stroke-width="1.7"/>
<line x1="677.49" y1="402.1" x2="677.49" y2="383.26" stroke="#9414cc" stroke-width="1.7" stroke-dasharray="1.6 2.55" stroke-dashoffset="0"/>
<line x1="675.29" y1="383.26" x2="679.69" y2="383.26" stroke="#9414cc" stroke-width="1.7"/>
<line x1="677.49" y1="412.8" x2="677.49" y2="462.99" stroke="#9414cc" stroke-width="1.7" stroke-dasharray="1.6 2.55" stroke-dashoffset="0"/>
<line x1="675.29" y1="462.99" x2="679.69" y2="462.99" stroke="#9414cc" stroke-width="1.7"/>
<line x1="693.53" y1="433.45" x2="693.53" y2="407.45" stroke="#9414cc" stroke-width="1.7" stroke-dasharray="1.6 2.55" stroke-dashoffset="0"/>
<line x1="691.33" y1="407.45" x2="695.73" y2="407.45" stroke="#9414cc" stroke-width="1.7"/>
<line x1="693.53" y1="444.15" x2="693.53" y2="654.6" stroke="#9414cc" stroke-width="1.7" stroke-dasharray="1.6 2.55" stroke-dashoffset="0"/>
<line x1="691.33" y1="654.6" x2="695.73" y2="654.6" stroke="#9414cc" stroke-width="1.7"/>
<line x1="701.55" y1="433.45" x2="701.55" y2="407.45" stroke="#9414cc" stroke-width="1.7" stroke-dasharray="1.6 2.55" stroke-dashoffset="0"/>
<line x1="699.35" y1="407.45" x2="703.75" y2="407.45" stroke="#9414cc" stroke-width="1.7"/>
<line x1="701.55" y1="444.15" x2="701.55" y2="654.6" stroke="#9414cc" stroke-width="1.7" stroke-dasharray="1.6 2.55" stroke-dashoffset="0"/>
<line x1="699.35" y1="654.6" x2="703.75" y2="654.6" stroke="#9414cc" stroke-width="1.7"/>
<line x1="717.59" y1="433.45" x2="717.59" y2="407.45" stroke="#9414cc" stroke-width="1.7" stroke-dasharray="1.6 2.55" stroke-dashoffset="0"/>
<line x1="715.39" y1="407.45" x2="719.79" y2="407.45" stroke="#9414cc" stroke-width="1.7"/>
<line x1="717.59" y1="444.15" x2="717.59" y2="654.6" stroke="#9414cc" stroke-width="1.7" stroke-dasharray="1.6 2.55" stroke-dashoffset="0"/>
<line x1="715.39" y1="654.6" x2="719.79" y2="654.6" stroke="#9414cc" stroke-width="1.7"/>
</g>
<g clip-path="url(#cm)">
<polygon points="108.01,330.9 103.8,339.25 112.22,339.25" fill="none" stroke="#9414cc" stroke-width="1.4" stroke-linejoin="miter" stroke-miterlimit="10"/>
<polygon points="116.03,274.24 111.82,282.59 120.24,282.59" fill="none" stroke="#9414cc" stroke-width="1.4" stroke-linejoin="miter" stroke-miterlimit="10"/>
<polygon points="124.05,246.24 119.84,254.59 128.26,254.59" fill="none" stroke="#9414cc" stroke-width="1.4" stroke-linejoin="miter" stroke-miterlimit="10"/>
<polygon points="132.07,243.54 127.86,251.88 136.29,251.88" fill="none" stroke="#9414cc" stroke-width="1.4" stroke-linejoin="miter" stroke-miterlimit="10"/>
<polygon points="140.09,231.52 135.88,239.87 144.31,239.87" fill="none" stroke="#9414cc" stroke-width="1.4" stroke-linejoin="miter" stroke-miterlimit="10"/>
<polygon points="148.11,217.76 143.9,226.11 152.33,226.11" fill="none" stroke="#9414cc" stroke-width="1.4" stroke-linejoin="miter" stroke-miterlimit="10"/>
<polygon points="156.14,214.89 151.92,223.23 160.35,223.23" fill="none" stroke="#9414cc" stroke-width="1.4" stroke-linejoin="miter" stroke-miterlimit="10"/>
<polygon points="164.16,201.96 159.94,210.31 168.37,210.31" fill="none" stroke="#9414cc" stroke-width="1.4" stroke-linejoin="miter" stroke-miterlimit="10"/>
<polygon points="172.18,201.44 167.96,209.79 176.39,209.79" fill="none" stroke="#9414cc" stroke-width="1.4" stroke-linejoin="miter" stroke-miterlimit="10"/>
<polygon points="180.2,194.28 175.99,202.63 184.41,202.63" fill="none" stroke="#9414cc" stroke-width="1.4" stroke-linejoin="miter" stroke-miterlimit="10"/>
<polygon points="188.22,192.13 184.01,200.48 192.43,200.48" fill="none" stroke="#9414cc" stroke-width="1.4" stroke-linejoin="miter" stroke-miterlimit="10"/>
<polygon points="196.24,194.06 192.03,202.41 200.45,202.41" fill="none" stroke="#9414cc" stroke-width="1.4" stroke-linejoin="miter" stroke-miterlimit="10"/>
<polygon points="204.26,195.86 200.05,204.2 208.47,204.2" fill="none" stroke="#9414cc" stroke-width="1.4" stroke-linejoin="miter" stroke-miterlimit="10"/>
<polygon points="212.28,196.08 208.07,204.43 216.49,204.43" fill="none" stroke="#9414cc" stroke-width="1.4" stroke-linejoin="miter" stroke-miterlimit="10"/>
<polygon points="220.3,194.95 216.09,203.3 224.51,203.3" fill="none" stroke="#9414cc" stroke-width="1.4" stroke-linejoin="miter" stroke-miterlimit="10"/>
<polygon points="228.32,191.5 224.11,199.85 232.53,199.85" fill="none" stroke="#9414cc" stroke-width="1.4" stroke-linejoin="miter" stroke-miterlimit="10"/>
<polygon points="236.34,194.95 232.13,203.3 240.56,203.3" fill="none" stroke="#9414cc" stroke-width="1.4" stroke-linejoin="miter" stroke-miterlimit="10"/>
<polygon points="244.36,195.63 240.15,203.97 248.58,203.97" fill="none" stroke="#9414cc" stroke-width="1.4" stroke-linejoin="miter" stroke-miterlimit="10"/>
<polygon points="252.38,195.86 248.17,204.2 256.6,204.2" fill="none" stroke="#9414cc" stroke-width="1.4" stroke-linejoin="miter" stroke-miterlimit="10"/>
<polygon points="260.41,193.63 256.19,201.97 264.62,201.97" fill="none" stroke="#9414cc" stroke-width="1.4" stroke-linejoin="miter" stroke-miterlimit="10"/>
<polygon points="268.43,199.42 264.21,207.77 272.64,207.77" fill="none" stroke="#9414cc" stroke-width="1.4" stroke-linejoin="miter" stroke-miterlimit="10"/>
<polygon points="276.45,208.11 272.23,216.46 280.66,216.46" fill="none" stroke="#9414cc" stroke-width="1.4" stroke-linejoin="miter" stroke-miterlimit="10"/>
<polygon points="284.47,205.78 280.26,214.12 288.68,214.12" fill="none" stroke="#9414cc" stroke-width="1.4" stroke-linejoin="miter" stroke-miterlimit="10"/>
<polygon points="292.49,215.24 288.28,223.58 296.7,223.58" fill="none" stroke="#9414cc" stroke-width="1.4" stroke-linejoin="miter" stroke-miterlimit="10"/>
<polygon points="300.51,209.33 296.3,217.67 304.72,217.67" fill="none" stroke="#9414cc" stroke-width="1.4" stroke-linejoin="miter" stroke-miterlimit="10"/>
<polygon points="308.53,213.52 304.32,221.86 312.74,221.86" fill="none" stroke="#9414cc" stroke-width="1.4" stroke-linejoin="miter" stroke-miterlimit="10"/>
<polygon points="316.55,217.02 312.34,225.37 320.76,225.37" fill="none" stroke="#9414cc" stroke-width="1.4" stroke-linejoin="miter" stroke-miterlimit="10"/>
<polygon points="324.57,224.55 320.36,232.89 328.78,232.89" fill="none" stroke="#9414cc" stroke-width="1.4" stroke-linejoin="miter" stroke-miterlimit="10"/>
<polygon points="332.59,224.12 328.38,232.46 336.81,232.46" fill="none" stroke="#9414cc" stroke-width="1.4" stroke-linejoin="miter" stroke-miterlimit="10"/>
<polygon points="340.61,229.07 336.4,237.42 344.83,237.42" fill="none" stroke="#9414cc" stroke-width="1.4" stroke-linejoin="miter" stroke-miterlimit="10"/>
<polygon points="348.63,237.42 344.42,245.76 352.85,245.76" fill="none" stroke="#9414cc" stroke-width="1.4" stroke-linejoin="miter" stroke-miterlimit="10"/>
<polygon points="356.66,245.55 352.44,253.89 360.87,253.89" fill="none" stroke="#9414cc" stroke-width="1.4" stroke-linejoin="miter" stroke-miterlimit="10"/>
<polygon points="364.68,232.02 360.46,240.37 368.89,240.37" fill="none" stroke="#9414cc" stroke-width="1.4" stroke-linejoin="miter" stroke-miterlimit="10"/>
<polygon points="372.7,247.65 368.48,256 376.91,256" fill="none" stroke="#9414cc" stroke-width="1.4" stroke-linejoin="miter" stroke-miterlimit="10"/>
<polygon points="380.72,260.9 376.51,269.25 384.93,269.25" fill="none" stroke="#9414cc" stroke-width="1.4" stroke-linejoin="miter" stroke-miterlimit="10"/>
<polygon points="388.74,252.98 384.53,261.33 392.95,261.33" fill="none" stroke="#9414cc" stroke-width="1.4" stroke-linejoin="miter" stroke-miterlimit="10"/>
<polygon points="396.76,250.62 392.55,258.97 400.97,258.97" fill="none" stroke="#9414cc" stroke-width="1.4" stroke-linejoin="miter" stroke-miterlimit="10"/>
<polygon points="404.78,284.33 400.57,292.68 408.99,292.68" fill="none" stroke="#9414cc" stroke-width="1.4" stroke-linejoin="miter" stroke-miterlimit="10"/>
<polygon points="412.8,274.24 408.59,282.59 417.01,282.59" fill="none" stroke="#9414cc" stroke-width="1.4" stroke-linejoin="miter" stroke-miterlimit="10"/>
<polygon points="420.82,275.55 416.61,283.9 425.03,283.9" fill="none" stroke="#9414cc" stroke-width="1.4" stroke-linejoin="miter" stroke-miterlimit="10"/>
<polygon points="428.84,291.3 424.63,299.65 433.05,299.65" fill="none" stroke="#9414cc" stroke-width="1.4" stroke-linejoin="miter" stroke-miterlimit="10"/>
<polygon points="436.86,279.73 432.65,288.07 441.08,288.07" fill="none" stroke="#9414cc" stroke-width="1.4" stroke-linejoin="miter" stroke-miterlimit="10"/>
<polygon points="444.88,297.34 440.67,305.69 449.1,305.69" fill="none" stroke="#9414cc" stroke-width="1.4" stroke-linejoin="miter" stroke-miterlimit="10"/>
<polygon points="452.9,297.34 448.69,305.69 457.12,305.69" fill="none" stroke="#9414cc" stroke-width="1.4" stroke-linejoin="miter" stroke-miterlimit="10"/>
<polygon points="460.93,319.04 456.71,327.38 465.14,327.38" fill="none" stroke="#9414cc" stroke-width="1.4" stroke-linejoin="miter" stroke-miterlimit="10"/>
<polygon points="468.95,315.68 464.73,324.03 473.16,324.03" fill="none" stroke="#9414cc" stroke-width="1.4" stroke-linejoin="miter" stroke-miterlimit="10"/>
<polygon points="476.97,330.9 472.75,339.25 481.18,339.25" fill="none" stroke="#9414cc" stroke-width="1.4" stroke-linejoin="miter" stroke-miterlimit="10"/>
<polygon points="484.99,319.04 480.78,327.38 489.2,327.38" fill="none" stroke="#9414cc" stroke-width="1.4" stroke-linejoin="miter" stroke-miterlimit="10"/>
<polygon points="493.01,362.26 488.8,370.6 497.22,370.6" fill="none" stroke="#9414cc" stroke-width="1.4" stroke-linejoin="miter" stroke-miterlimit="10"/>
<polygon points="501.03,372.35 496.82,380.7 505.24,380.7" fill="none" stroke="#9414cc" stroke-width="1.4" stroke-linejoin="miter" stroke-miterlimit="10"/>
<polygon points="509.05,354.01 504.84,362.36 513.26,362.36" fill="none" stroke="#9414cc" stroke-width="1.4" stroke-linejoin="miter" stroke-miterlimit="10"/>
<polygon points="517.07,330.9 512.86,339.25 521.28,339.25" fill="none" stroke="#9414cc" stroke-width="1.4" stroke-linejoin="miter" stroke-miterlimit="10"/>
<polygon points="525.09,354.01 520.88,362.36 529.3,362.36" fill="none" stroke="#9414cc" stroke-width="1.4" stroke-linejoin="miter" stroke-miterlimit="10"/>
<polygon points="533.11,385.36 528.9,393.71 537.33,393.71" fill="none" stroke="#9414cc" stroke-width="1.4" stroke-linejoin="miter" stroke-miterlimit="10"/>
<polygon points="541.13,335.67 536.92,344.02 545.35,344.02" fill="none" stroke="#9414cc" stroke-width="1.4" stroke-linejoin="miter" stroke-miterlimit="10"/>
<polygon points="549.15,362.26 544.94,370.6 553.37,370.6" fill="none" stroke="#9414cc" stroke-width="1.4" stroke-linejoin="miter" stroke-miterlimit="10"/>
<polygon points="557.18,362.26 552.96,370.6 561.39,370.6" fill="none" stroke="#9414cc" stroke-width="1.4" stroke-linejoin="miter" stroke-miterlimit="10"/>
<polygon points="565.2,341 560.98,349.34 569.41,349.34" fill="none" stroke="#9414cc" stroke-width="1.4" stroke-linejoin="miter" stroke-miterlimit="10"/>
<polygon points="573.22,435.05 569,443.4 577.43,443.4" fill="none" stroke="#9414cc" stroke-width="1.4" stroke-linejoin="miter" stroke-miterlimit="10"/>
<polygon points="581.24,354.01 577.03,362.36 585.45,362.36" fill="none" stroke="#9414cc" stroke-width="1.4" stroke-linejoin="miter" stroke-miterlimit="10"/>
<polygon points="605.3,435.05 601.09,443.4 609.51,443.4" fill="none" stroke="#9414cc" stroke-width="1.4" stroke-linejoin="miter" stroke-miterlimit="10"/>
<polygon points="613.32,403.7 609.11,412.05 617.53,412.05" fill="none" stroke="#9414cc" stroke-width="1.4" stroke-linejoin="miter" stroke-miterlimit="10"/>
<polygon points="645.4,403.7 641.19,412.05 649.62,412.05" fill="none" stroke="#9414cc" stroke-width="1.4" stroke-linejoin="miter" stroke-miterlimit="10"/>
<polygon points="653.42,435.05 649.21,443.4 657.64,443.4" fill="none" stroke="#9414cc" stroke-width="1.4" stroke-linejoin="miter" stroke-miterlimit="10"/>
<polygon points="661.45,435.05 657.23,443.4 665.66,443.4" fill="none" stroke="#9414cc" stroke-width="1.4" stroke-linejoin="miter" stroke-miterlimit="10"/>
<polygon points="669.47,435.05 665.25,443.4 673.68,443.4" fill="none" stroke="#9414cc" stroke-width="1.4" stroke-linejoin="miter" stroke-miterlimit="10"/>
<polygon points="677.49,403.7 673.27,412.05 681.7,412.05" fill="none" stroke="#9414cc" stroke-width="1.4" stroke-linejoin="miter" stroke-miterlimit="10"/>
<polygon points="693.53,435.05 689.32,443.4 697.74,443.4" fill="none" stroke="#9414cc" stroke-width="1.4" stroke-linejoin="miter" stroke-miterlimit="10"/>
<polygon points="701.55,435.05 697.34,443.4 705.76,443.4" fill="none" stroke="#9414cc" stroke-width="1.4" stroke-linejoin="miter" stroke-miterlimit="10"/>
<polygon points="717.59,435.05 713.38,443.4 721.8,443.4" fill="none" stroke="#9414cc" stroke-width="1.4" stroke-linejoin="miter" stroke-miterlimit="10"/>
</g>
<g clip-path="url(#cm)">
<polyline points="108.01,345.62 116.03,279.29 124.05,254.14 132.07,244.59 140.09,239.5 148.11,229.21 156.14,211.91 164.16,217.17 172.18,206.49 180.2,201.66 188.22,201.45 196.24,201.45 204.26,199.62 212.28,198.83 220.3,196.73 228.32,203.79 236.34,199.82 244.36,203.79 252.38,199.62 260.41,206.49 268.43,210.37 276.45,214.88 284.47,214.88 292.49,216.3 300.51,225.53 308.53,226.97 316.55,229.21 324.57,238.55 332.59,237.15 340.61,249.71 348.63,252.83 356.66,242.48 364.68,258.32 372.7,270.85 380.72,258.32 388.74,272.82 396.76,269.9 404.78,259.81 412.8,279.29 420.82,281.67 428.84,289.67 436.86,299.4 444.88,319.59 452.9,303.18 460.93,307.29 468.95,356.98 476.97,336.54 484.99,328.98 493.01,340.85 501.03,340.85 509.05,345.62 517.07,345.62 525.09,363.96 533.11,345.62 541.13,395.31 549.15,356.98 557.18,395.31 565.2,382.3 573.22,413.65 581.24,382.3 589.26,445 597.28,445 605.3,445 613.32,445 621.34,445 637.38,445 669.47,445 693.53,413.65" fill="none" stroke="#1f1fe8" stroke-width="1.7" stroke-dasharray="4.6 3.8"/>
<line x1="108.01" y1="340.37" x2="108.01" y2="332.6" stroke="#1f1fe8" stroke-width="1.7" stroke-dasharray="4.6 3.8" stroke-dashoffset="0"/>
<line x1="105.81" y1="332.6" x2="110.21" y2="332.6" stroke="#1f1fe8" stroke-width="1.7"/>
<line x1="108.01" y1="350.87" x2="108.01" y2="363.96" stroke="#1f1fe8" stroke-width="1.7" stroke-dasharray="4.6 3.8" stroke-dashoffset="0"/>
<line x1="105.81" y1="363.96" x2="110.21" y2="363.96" stroke="#1f1fe8" stroke-width="1.7"/>
<line x1="116.03" y1="274.04" x2="116.03" y2="272.57" stroke="#1f1fe8" stroke-width="1.7" stroke-dasharray="4.6 3.8" stroke-dashoffset="0"/>
<line x1="113.83" y1="272.57" x2="118.23" y2="272.57" stroke="#1f1fe8" stroke-width="1.7"/>
<line x1="116.03" y1="284.54" x2="116.03" y2="287.18" stroke="#1f1fe8" stroke-width="1.7" stroke-dasharray="4.6 3.8" stroke-dashoffset="0"/>
<line x1="113.83" y1="287.18" x2="118.23" y2="287.18" stroke="#1f1fe8" stroke-width="1.7"/>
<line x1="124.05" y1="259.39" x2="124.05" y2="259.99" stroke="#1f1fe8" stroke-width="1.7" stroke-dasharray="4.6 3.8" stroke-dashoffset="0"/>
<line x1="121.85" y1="259.99" x2="126.25" y2="259.99" stroke="#1f1fe8" stroke-width="1.7"/>
<line x1="340.61" y1="254.96" x2="340.61" y2="255.26" stroke="#1f1fe8" stroke-width="1.7" stroke-dasharray="4.6 3.8" stroke-dashoffset="0"/>
<line x1="338.41" y1="255.26" x2="342.81" y2="255.26" stroke="#1f1fe8" stroke-width="1.7"/>
<line x1="348.63" y1="258.08" x2="348.63" y2="258.59" stroke="#1f1fe8" stroke-width="1.7" stroke-dasharray="4.6 3.8" stroke-dashoffset="0"/>
<line x1="346.43" y1="258.59" x2="350.83" y2="258.59" stroke="#1f1fe8" stroke-width="1.7"/>
<line x1="364.68" y1="253.07" x2="364.68" y2="252.91" stroke="#1f1fe8" stroke-width="1.7" stroke-dasharray="4.6 3.8" stroke-dashoffset="0"/>
<line x1="362.48" y1="252.91" x2="366.88" y2="252.91" stroke="#1f1fe8" stroke-width="1.7"/>
<line x1="364.68" y1="263.57" x2="364.68" y2="264.47" stroke="#1f1fe8" stroke-width="1.7" stroke-dasharray="4.6 3.8" stroke-dashoffset="0"/>
<line x1="362.48" y1="264.47" x2="366.88" y2="264.47" stroke="#1f1fe8" stroke-width="1.7"/>
<line x1="372.7" y1="265.6" x2="372.7" y2="264.69" stroke="#1f1fe8" stroke-width="1.7" stroke-dasharray="4.6 3.8" stroke-dashoffset="0"/>
<line x1="370.5" y1="264.69" x2="374.9" y2="264.69" stroke="#1f1fe8" stroke-width="1.7"/>
<line x1="372.7" y1="276.1" x2="372.7" y2="277.98" stroke="#1f1fe8" stroke-width="1.7" stroke-dasharray="4.6 3.8" stroke-dashoffset="0"/>
<line x1="370.5" y1="277.98" x2="374.9" y2="277.98" stroke="#1f1fe8" stroke-width="1.7"/>
<line x1="380.72" y1="253.07" x2="380.72" y2="252.91" stroke="#1f1fe8" stroke-width="1.7" stroke-dasharray="4.6 3.8" stroke-dashoffset="0"/>
<line x1="378.52" y1="252.91" x2="382.92" y2="252.91" stroke="#1f1fe8" stroke-width="1.7"/>
<line x1="380.72" y1="263.57" x2="380.72" y2="264.47" stroke="#1f1fe8" stroke-width="1.7" stroke-dasharray="4.6 3.8" stroke-dashoffset="0"/>
<line x1="378.52" y1="264.47" x2="382.92" y2="264.47" stroke="#1f1fe8" stroke-width="1.7"/>
<line x1="388.74" y1="267.57" x2="388.74" y2="266.53" stroke="#1f1fe8" stroke-width="1.7" stroke-dasharray="4.6 3.8" stroke-dashoffset="0"/>
<line x1="386.54" y1="266.53" x2="390.94" y2="266.53" stroke="#1f1fe8" stroke-width="1.7"/>
<line x1="388.74" y1="278.07" x2="388.74" y2="280.12" stroke="#1f1fe8" stroke-width="1.7" stroke-dasharray="4.6 3.8" stroke-dashoffset="0"/>
<line x1="386.54" y1="280.12" x2="390.94" y2="280.12" stroke="#1f1fe8" stroke-width="1.7"/>
<line x1="396.76" y1="264.65" x2="396.76" y2="263.8" stroke="#1f1fe8" stroke-width="1.7" stroke-dasharray="4.6 3.8" stroke-dashoffset="0"/>
<line x1="394.56" y1="263.8" x2="398.96" y2="263.8" stroke="#1f1fe8" stroke-width="1.7"/>
<line x1="396.76" y1="275.15" x2="396.76" y2="276.95" stroke="#1f1fe8" stroke-width="1.7" stroke-dasharray="4.6 3.8" stroke-dashoffset="0"/>
<line x1="394.56" y1="276.95" x2="398.96" y2="276.95" stroke="#1f1fe8" stroke-width="1.7"/>
<line x1="404.78" y1="254.56" x2="404.78" y2="254.31" stroke="#1f1fe8" stroke-width="1.7" stroke-dasharray="4.6 3.8" stroke-dashoffset="0"/>
<line x1="402.58" y1="254.31" x2="406.98" y2="254.31" stroke="#1f1fe8" stroke-width="1.7"/>
<line x1="404.78" y1="265.06" x2="404.78" y2="266.06" stroke="#1f1fe8" stroke-width="1.7" stroke-dasharray="4.6 3.8" stroke-dashoffset="0"/>
<line x1="402.58" y1="266.06" x2="406.98" y2="266.06" stroke="#1f1fe8" stroke-width="1.7"/>
<line x1="412.8" y1="274.04" x2="412.8" y2="272.57" stroke="#1f1fe8" stroke-width="1.7" stroke-dasharray="4.6 3.8" stroke-dashoffset="0"/>
<line x1="410.6" y1="272.57" x2="415" y2="272.57" stroke="#1f1fe8" stroke-width="1.7"/>
<line x1="412.8" y1="284.54" x2="412.8" y2="287.18" stroke="#1f1fe8" stroke-width="1.7" stroke-dasharray="4.6 3.8" stroke-dashoffset="0"/>
<line x1="410.6" y1="287.18" x2="415" y2="287.18" stroke="#1f1fe8" stroke-width="1.7"/>
<line x1="420.82" y1="276.42" x2="420.82" y2="274.79" stroke="#1f1fe8" stroke-width="1.7" stroke-dasharray="4.6 3.8" stroke-dashoffset="0"/>
<line x1="418.62" y1="274.79" x2="423.02" y2="274.79" stroke="#1f1fe8" stroke-width="1.7"/>
<line x1="420.82" y1="286.92" x2="420.82" y2="289.8" stroke="#1f1fe8" stroke-width="1.7" stroke-dasharray="4.6 3.8" stroke-dashoffset="0"/>
<line x1="418.62" y1="289.8" x2="423.02" y2="289.8" stroke="#1f1fe8" stroke-width="1.7"/>
<line x1="428.84" y1="284.42" x2="428.84" y2="282.2" stroke="#1f1fe8" stroke-width="1.7" stroke-dasharray="4.6 3.8" stroke-dashoffset="0"/>
<line x1="426.64" y1="282.2" x2="431.04" y2="282.2" stroke="#1f1fe8" stroke-width="1.7"/>
<line x1="428.84" y1="294.92" x2="428.84" y2="298.63" stroke="#1f1fe8" stroke-width="1.7" stroke-dasharray="4.6 3.8" stroke-dashoffset="0"/>
<line x1="426.64" y1="298.63" x2="431.04" y2="298.63" stroke="#1f1fe8" stroke-width="1.7"/>
<line x1="436.86" y1="294.15" x2="436.86" y2="291.16" stroke="#1f1fe8" stroke-width="1.7" stroke-dasharray="4.6 3.8" stroke-dashoffset="0"/>
<line x1="434.66" y1="291.16" x2="439.06" y2="291.16" stroke="#1f1fe8" stroke-width="1.7"/>
<line x1="436.86" y1="304.65" x2="436.86" y2="309.5" stroke="#1f1fe8" stroke-width="1.7" stroke-dasharray="4.6 3.8" stroke-dashoffset="0"/>
<line x1="434.66" y1="309.5" x2="439.06" y2="309.5" stroke="#1f1fe8" stroke-width="1.7"/>
<line x1="444.88" y1="314.34" x2="444.88" y2="309.5" stroke="#1f1fe8" stroke-width="1.7" stroke-dasharray="4.6 3.8" stroke-dashoffset="0"/>
<line x1="442.68" y1="309.5" x2="447.08" y2="309.5" stroke="#1f1fe8" stroke-width="1.7"/>
<line x1="444.88" y1="324.84" x2="444.88" y2="332.6" stroke="#1f1fe8" stroke-width="1.7" stroke-dasharray="4.6 3.8" stroke-dashoffset="0"/>
<line x1="442.68" y1="332.6" x2="447.08" y2="332.6" stroke="#1f1fe8" stroke-width="1.7"/>
<line x1="452.9" y1="297.93" x2="452.9" y2="294.61" stroke="#1f1fe8" stroke-width="1.7" stroke-dasharray="4.6 3.8" stroke-dashoffset="0"/>
<line x1="450.7" y1="294.61" x2="455.1" y2="294.61" stroke="#1f1fe8" stroke-width="1.7"/>
<line x1="452.9" y1="308.43" x2="452.9" y2="313.75" stroke="#1f1fe8" stroke-width="1.7" stroke-dasharray="4.6 3.8" stroke-dashoffset="0"/>
<line x1="450.7" y1="313.75" x2="455.1" y2="313.75" stroke="#1f1fe8" stroke-width="1.7"/>
<line x1="460.93" y1="302.04" x2="460.93" y2="298.36" stroke="#1f1fe8" stroke-width="1.7" stroke-dasharray="4.6 3.8" stroke-dashoffset="0"/>
<line x1="458.73" y1="298.36" x2="463.13" y2="298.36" stroke="#1f1fe8" stroke-width="1.7"/>
<line x1="460.93" y1="312.54" x2="460.93" y2="318.43" stroke="#1f1fe8" stroke-width="1.7" stroke-dasharray="4.6 3.8" stroke-dashoffset="0"/>
<line x1="458.73" y1="318.43" x2="463.13" y2="318.43" stroke="#1f1fe8" stroke-width="1.7"/>
<line x1="468.95" y1="351.73" x2="468.95" y2="342.48" stroke="#1f1fe8" stroke-width="1.7" stroke-dasharray="4.6 3.8" stroke-dashoffset="0"/>
<line x1="466.75" y1="342.48" x2="471.15" y2="342.48" stroke="#1f1fe8" stroke-width="1.7"/>
<line x1="468.95" y1="362.23" x2="468.95" y2="378.46" stroke="#1f1fe8" stroke-width="1.7" stroke-dasharray="4.6 3.8" stroke-dashoffset="0"/>
<line x1="466.75" y1="378.46" x2="471.15" y2="378.46" stroke="#1f1fe8" stroke-width="1.7"/>
<line x1="476.97" y1="331.29" x2="476.97" y2="324.62" stroke="#1f1fe8" stroke-width="1.7" stroke-dasharray="4.6 3.8" stroke-dashoffset="0"/>
<line x1="474.77" y1="324.62" x2="479.17" y2="324.62" stroke="#1f1fe8" stroke-width="1.7"/>
<line x1="476.97" y1="341.79" x2="476.97" y2="352.77" stroke="#1f1fe8" stroke-width="1.7" stroke-dasharray="4.6 3.8" stroke-dashoffset="0"/>
<line x1="474.77" y1="352.77" x2="479.17" y2="352.77" stroke="#1f1fe8" stroke-width="1.7"/>
<line x1="484.99" y1="323.73" x2="484.99" y2="317.91" stroke="#1f1fe8" stroke-width="1.7" stroke-dasharray="4.6 3.8" stroke-dashoffset="0"/>
<line x1="482.79" y1="317.91" x2="487.19" y2="317.91" stroke="#1f1fe8" stroke-width="1.7"/>
<line x1="484.99" y1="334.23" x2="484.99" y2="343.68" stroke="#1f1fe8" stroke-width="1.7" stroke-dasharray="4.6 3.8" stroke-dashoffset="0"/>
<line x1="482.79" y1="343.68" x2="487.19" y2="343.68" stroke="#1f1fe8" stroke-width="1.7"/>
<line x1="493.01" y1="335.6" x2="493.01" y2="328.42" stroke="#1f1fe8" stroke-width="1.7" stroke-dasharray="4.6 3.8" stroke-dashoffset="0"/>
<line x1="490.81" y1="328.42" x2="495.21" y2="328.42" stroke="#1f1fe8" stroke-width="1.7"/>
<line x1="493.01" y1="346.1" x2="493.01" y2="358.04" stroke="#1f1fe8" stroke-width="1.7" stroke-dasharray="4.6 3.8" stroke-dashoffset="0"/>
<line x1="490.81" y1="358.04" x2="495.21" y2="358.04" stroke="#1f1fe8" stroke-width="1.7"/>
<line x1="501.03" y1="335.6" x2="501.03" y2="328.42" stroke="#1f1fe8" stroke-width="1.7" stroke-dasharray="4.6 3.8" stroke-dashoffset="0"/>
<line x1="498.83" y1="328.42" x2="503.23" y2="328.42" stroke="#1f1fe8" stroke-width="1.7"/>
<line x1="501.03" y1="346.1" x2="501.03" y2="358.04" stroke="#1f1fe8" stroke-width="1.7" stroke-dasharray="4.6 3.8" stroke-dashoffset="0"/>
<line x1="498.83" y1="358.04" x2="503.23" y2="358.04" stroke="#1f1fe8" stroke-width="1.7"/>
<line x1="509.05" y1="340.37" x2="509.05" y2="332.6" stroke="#1f1fe8" stroke-width="1.7" stroke-dasharray="4.6 3.8" stroke-dashoffset="0"/>
<line x1="506.85" y1="332.6" x2="511.25" y2="332.6" stroke="#1f1fe8" stroke-width="1.7"/>
<line x1="509.05" y1="350.87" x2="509.05" y2="363.96" stroke="#1f1fe8" stroke-width="1.7" stroke-dasharray="4.6 3.8" stroke-dashoffset="0"/>
<line x1="506.85" y1="363.96" x2="511.25" y2="363.96" stroke="#1f1fe8" stroke-width="1.7"/>
<line x1="517.07" y1="340.37" x2="517.07" y2="332.6" stroke="#1f1fe8" stroke-width="1.7" stroke-dasharray="4.6 3.8" stroke-dashoffset="0"/>
<line x1="514.87" y1="332.6" x2="519.27" y2="332.6" stroke="#1f1fe8" stroke-width="1.7"/>
<line x1="517.07" y1="350.87" x2="517.07" y2="363.96" stroke="#1f1fe8" stroke-width="1.7" stroke-dasharray="4.6 3.8" stroke-dashoffset="0"/>
<line x1="514.87" y1="363.96" x2="519.27" y2="363.96" stroke="#1f1fe8" stroke-width="1.7"/>
<line x1="525.09" y1="358.71" x2="525.09" y2="348.47" stroke="#1f1fe8" stroke-width="1.7" stroke-dasharray="4.6 3.8" stroke-dashoffset="0"/>
<line x1="522.89" y1="348.47" x2="527.29" y2="348.47" stroke="#1f1fe8" stroke-width="1.7"/>
<line x1="525.09" y1="369.21" x2="525.09" y2="387.69" stroke="#1f1fe8" stroke-width="1.7" stroke-dasharray="4.6 3.8" stroke-dashoffset="0"/>
<line x1="522.89" y1="387.69" x2="527.29" y2="387.69" stroke="#1f1fe8" stroke-width="1.7"/>
<line x1="533.11" y1="340.37" x2="533.11" y2="332.6" stroke="#1f1fe8" stroke-width="1.7" stroke-dasharray="4.6 3.8" stroke-dashoffset="0"/>
<line x1="530.91" y1="332.6" x2="535.31" y2="332.6" stroke="#1f1fe8" stroke-width="1.7"/>
<line x1="533.11" y1="350.87" x2="533.11" y2="363.96" stroke="#1f1fe8" stroke-width="1.7" stroke-dasharray="4.6 3.8" stroke-dashoffset="0"/>
<line x1="530.91" y1="363.96" x2="535.31" y2="363.96" stroke="#1f1fe8" stroke-width="1.7"/>
<line x1="541.13" y1="390.06" x2="541.13" y2="374.69" stroke="#1f1fe8" stroke-width="1.7" stroke-dasharray="4.6 3.8" stroke-dashoffset="0"/>
<line x1="538.93" y1="374.69" x2="543.33" y2="374.69" stroke="#1f1fe8" stroke-width="1.7"/>
<line x1="541.13" y1="400.56" x2="541.13" y2="434.26" stroke="#1f1fe8" stroke-width="1.7" stroke-dasharray="4.6 3.8" stroke-dashoffset="0"/>
<line x1="538.93" y1="434.26" x2="543.33" y2="434.26" stroke="#1f1fe8" stroke-width="1.7"/>
<line x1="549.15" y1="351.73" x2="549.15" y2="342.48" stroke="#1f1fe8" stroke-width="1.7" stroke-dasharray="4.6 3.8" stroke-dashoffset="0"/>
<line x1="546.95" y1="342.48" x2="551.35" y2="342.48" stroke="#1f1fe8" stroke-width="1.7"/>
<line x1="549.15" y1="362.23" x2="549.15" y2="378.46" stroke="#1f1fe8" stroke-width="1.7" stroke-dasharray="4.6 3.8" stroke-dashoffset="0"/>
<line x1="546.95" y1="378.46" x2="551.35" y2="378.46" stroke="#1f1fe8" stroke-width="1.7"/>
<line x1="557.18" y1="390.06" x2="557.18" y2="374.69" stroke="#1f1fe8" stroke-width="1.7" stroke-dasharray="4.6 3.8" stroke-dashoffset="0"/>
<line x1="554.98" y1="374.69" x2="559.38" y2="374.69" stroke="#1f1fe8" stroke-width="1.7"/>
<line x1="557.18" y1="400.56" x2="557.18" y2="434.26" stroke="#1f1fe8" stroke-width="1.7" stroke-dasharray="4.6 3.8" stroke-dashoffset="0"/>
<line x1="554.98" y1="434.26" x2="559.38" y2="434.26" stroke="#1f1fe8" stroke-width="1.7"/>
<line x1="565.2" y1="377.05" x2="565.2" y2="363.96" stroke="#1f1fe8" stroke-width="1.7" stroke-dasharray="4.6 3.8" stroke-dashoffset="0"/>
<line x1="563" y1="363.96" x2="567.4" y2="363.96" stroke="#1f1fe8" stroke-width="1.7"/>
<line x1="565.2" y1="387.55" x2="565.2" y2="413.65" stroke="#1f1fe8" stroke-width="1.7" stroke-dasharray="4.6 3.8" stroke-dashoffset="0"/>
<line x1="563" y1="413.65" x2="567.4" y2="413.65" stroke="#1f1fe8" stroke-width="1.7"/>
<line x1="573.22" y1="408.4" x2="573.22" y2="389.46" stroke="#1f1fe8" stroke-width="1.7" stroke-dasharray="4.6 3.8" stroke-dashoffset="0"/>
<line x1="571.02" y1="389.46" x2="575.42" y2="389.46" stroke="#1f1fe8" stroke-width="1.7"/>
<line x1="573.22" y1="418.9" x2="573.22" y2="469.19" stroke="#1f1fe8" stroke-width="1.7" stroke-dasharray="4.6 3.8" stroke-dashoffset="0"/>
<line x1="571.02" y1="469.19" x2="575.42" y2="469.19" stroke="#1f1fe8" stroke-width="1.7"/>
<line x1="581.24" y1="377.05" x2="581.24" y2="363.96" stroke="#1f1fe8" stroke-width="1.7" stroke-dasharray="4.6 3.8" stroke-dashoffset="0"/>
<line x1="579.04" y1="363.96" x2="583.44" y2="363.96" stroke="#1f1fe8" stroke-width="1.7"/>
<line x1="581.24" y1="387.55" x2="581.24" y2="413.65" stroke="#1f1fe8" stroke-width="1.7" stroke-dasharray="4.6 3.8" stroke-dashoffset="0"/>
<line x1="579.04" y1="413.65" x2="583.44" y2="413.65" stroke="#1f1fe8" stroke-width="1.7"/>
<line x1="589.26" y1="439.75" x2="589.26" y2="413.65" stroke="#1f1fe8" stroke-width="1.7" stroke-dasharray="4.6 3.8" stroke-dashoffset="0"/>
<line x1="587.06" y1="413.65" x2="591.46" y2="413.65" stroke="#1f1fe8" stroke-width="1.7"/>
<line x1="589.26" y1="450.25" x2="589.26" y2="654.6" stroke="#1f1fe8" stroke-width="1.7" stroke-dasharray="4.6 3.8" stroke-dashoffset="0"/>
<line x1="587.06" y1="654.6" x2="591.46" y2="654.6" stroke="#1f1fe8" stroke-width="1.7"/>
<line x1="597.28" y1="439.75" x2="597.28" y2="413.65" stroke="#1f1fe8" stroke-width="1.7" stroke-dasharray="4.6 3.8" stroke-dashoffset="0"/>
<line x1="595.08" y1="413.65" x2="599.48" y2="413.65" stroke="#1f1fe8" stroke-width="1.7"/>
<line x1="597.28" y1="450.25" x2="597.28" y2="654.6" stroke="#1f1fe8" stroke-width="1.7" stroke-dasharray="4.6 3.8" stroke-dashoffset="0"/>
<line x1="595.08" y1="654.6" x2="599.48" y2="654.6" stroke="#1f1fe8" stroke-width="1.7"/>
<line x1="605.3" y1="439.75" x2="605.3" y2="413.65" stroke="#1f1fe8" stroke-width="1.7" stroke-dasharray="4.6 3.8" stroke-dashoffset="0"/>
<line x1="603.1" y1="413.65" x2="607.5" y2="413.65" stroke="#1f1fe8" stroke-width="1.7"/>
<line x1="605.3" y1="450.25" x2="605.3" y2="654.6" stroke="#1f1fe8" stroke-width="1.7" stroke-dasharray="4.6 3.8" stroke-dashoffset="0"/>
<line x1="603.1" y1="654.6" x2="607.5" y2="654.6" stroke="#1f1fe8" stroke-width="1.7"/>
<line x1="613.32" y1="439.75" x2="613.32" y2="413.65" stroke="#1f1fe8" stroke-width="1.7" stroke-dasharray="4.6 3.8" stroke-dashoffset="0"/>
<line x1="611.12" y1="413.65" x2="615.52" y2="413.65" stroke="#1f1fe8" stroke-width="1.7"/>
<line x1="613.32" y1="450.25" x2="613.32" y2="654.6" stroke="#1f1fe8" stroke-width="1.7" stroke-dasharray="4.6 3.8" stroke-dashoffset="0"/>
<line x1="611.12" y1="654.6" x2="615.52" y2="654.6" stroke="#1f1fe8" stroke-width="1.7"/>
<line x1="621.34" y1="439.75" x2="621.34" y2="413.65" stroke="#1f1fe8" stroke-width="1.7" stroke-dasharray="4.6 3.8" stroke-dashoffset="0"/>
<line x1="619.14" y1="413.65" x2="623.54" y2="413.65" stroke="#1f1fe8" stroke-width="1.7"/>
<line x1="621.34" y1="450.25" x2="621.34" y2="654.6" stroke="#1f1fe8" stroke-width="1.7" stroke-dasharray="4.6 3.8" stroke-dashoffset="0"/>
<line x1="619.14" y1="654.6" x2="623.54" y2="654.6" stroke="#1f1fe8" stroke-width="1.7"/>
<line x1="637.38" y1="439.75" x2="637.38" y2="413.65" stroke="#1f1fe8" stroke-width="1.7" stroke-dasharray="4.6 3.8" stroke-dashoffset="0"/>
<line x1="635.18" y1="413.65" x2="639.58" y2="413.65" stroke="#1f1fe8" stroke-width="1.7"/>
<line x1="637.38" y1="450.25" x2="637.38" y2="654.6" stroke="#1f1fe8" stroke-width="1.7" stroke-dasharray="4.6 3.8" stroke-dashoffset="0"/>
<line x1="635.18" y1="654.6" x2="639.58" y2="654.6" stroke="#1f1fe8" stroke-width="1.7"/>
<line x1="669.47" y1="439.75" x2="669.47" y2="413.65" stroke="#1f1fe8" stroke-width="1.7" stroke-dasharray="4.6 3.8" stroke-dashoffset="0"/>
<line x1="667.27" y1="413.65" x2="671.67" y2="413.65" stroke="#1f1fe8" stroke-width="1.7"/>
<line x1="669.47" y1="450.25" x2="669.47" y2="654.6" stroke="#1f1fe8" stroke-width="1.7" stroke-dasharray="4.6 3.8" stroke-dashoffset="0"/>
<line x1="667.27" y1="654.6" x2="671.67" y2="654.6" stroke="#1f1fe8" stroke-width="1.7"/>
<line x1="693.53" y1="408.4" x2="693.53" y2="389.46" stroke="#1f1fe8" stroke-width="1.7" stroke-dasharray="4.6 3.8" stroke-dashoffset="0"/>
<line x1="691.33" y1="389.46" x2="695.73" y2="389.46" stroke="#1f1fe8" stroke-width="1.7"/>
<line x1="693.53" y1="418.9" x2="693.53" y2="469.19" stroke="#1f1fe8" stroke-width="1.7" stroke-dasharray="4.6 3.8" stroke-dashoffset="0"/>
<line x1="691.33" y1="469.19" x2="695.73" y2="469.19" stroke="#1f1fe8" stroke-width="1.7"/>
</g>
<g clip-path="url(#cm)">
<circle cx="108.01" cy="345.62" r="4.4" fill="none" stroke="#1f1fe8" stroke-width="1.7"/>
<circle cx="116.03" cy="279.29" r="4.4" fill="none" stroke="#1f1fe8" stroke-width="1.7"/>
<circle cx="124.05" cy="254.14" r="4.4" fill="none" stroke="#1f1fe8" stroke-width="1.7"/>
<circle cx="132.07" cy="244.59" r="4.4" fill="none" stroke="#1f1fe8" stroke-width="1.7"/>
<circle cx="140.09" cy="239.5" r="4.4" fill="none" stroke="#1f1fe8" stroke-width="1.7"/>
<circle cx="148.11" cy="229.21" r="4.4" fill="none" stroke="#1f1fe8" stroke-width="1.7"/>
<circle cx="156.14" cy="211.91" r="4.4" fill="none" stroke="#1f1fe8" stroke-width="1.7"/>
<circle cx="164.16" cy="217.17" r="4.4" fill="none" stroke="#1f1fe8" stroke-width="1.7"/>
<circle cx="172.18" cy="206.49" r="4.4" fill="none" stroke="#1f1fe8" stroke-width="1.7"/>
<circle cx="180.2" cy="201.66" r="4.4" fill="none" stroke="#1f1fe8" stroke-width="1.7"/>
<circle cx="188.22" cy="201.45" r="4.4" fill="none" stroke="#1f1fe8" stroke-width="1.7"/>
<circle cx="196.24" cy="201.45" r="4.4" fill="none" stroke="#1f1fe8" stroke-width="1.7"/>
<circle cx="204.26" cy="199.62" r="4.4" fill="none" stroke="#1f1fe8" stroke-width="1.7"/>
<circle cx="212.28" cy="198.83" r="4.4" fill="none" stroke="#1f1fe8" stroke-width="1.7"/>
<circle cx="220.3" cy="196.73" r="4.4" fill="none" stroke="#1f1fe8" stroke-width="1.7"/>
<circle cx="228.32" cy="203.79" r="4.4" fill="none" stroke="#1f1fe8" stroke-width="1.7"/>
<circle cx="236.34" cy="199.82" r="4.4" fill="none" stroke="#1f1fe8" stroke-width="1.7"/>
<circle cx="244.36" cy="203.79" r="4.4" fill="none" stroke="#1f1fe8" stroke-width="1.7"/>
<circle cx="252.38" cy="199.62" r="4.4" fill="none" stroke="#1f1fe8" stroke-width="1.7"/>
<circle cx="260.41" cy="206.49" r="4.4" fill="none" stroke="#1f1fe8" stroke-width="1.7"/>
<circle cx="268.43" cy="210.37" r="4.4" fill="none" stroke="#1f1fe8" stroke-width="1.7"/>
<circle cx="276.45" cy="214.88" r="4.4" fill="none" stroke="#1f1fe8" stroke-width="1.7"/>
<circle cx="284.47" cy="214.88" r="4.4" fill="none" stroke="#1f1fe8" stroke-width="1.7"/>
<circle cx="292.49" cy="216.3" r="4.4" fill="none" stroke="#1f1fe8" stroke-width="1.7"/>
<circle cx="300.51" cy="225.53" r="4.4" fill="none" stroke="#1f1fe8" stroke-width="1.7"/>
<circle cx="308.53" cy="226.97" r="4.4" fill="none" stroke="#1f1fe8" stroke-width="1.7"/>
<circle cx="316.55" cy="229.21" r="4.4" fill="none" stroke="#1f1fe8" stroke-width="1.7"/>
<circle cx="324.57" cy="238.55" r="4.4" fill="none" stroke="#1f1fe8" stroke-width="1.7"/>
<circle cx="332.59" cy="237.15" r="4.4" fill="none" stroke="#1f1fe8" stroke-width="1.7"/>
<circle cx="340.61" cy="249.71" r="4.4" fill="none" stroke="#1f1fe8" stroke-width="1.7"/>
<circle cx="348.63" cy="252.83" r="4.4" fill="none" stroke="#1f1fe8" stroke-width="1.7"/>
<circle cx="356.66" cy="242.48" r="4.4" fill="none" stroke="#1f1fe8" stroke-width="1.7"/>
<circle cx="364.68" cy="258.32" r="4.4" fill="none" stroke="#1f1fe8" stroke-width="1.7"/>
<circle cx="372.7" cy="270.85" r="4.4" fill="none" stroke="#1f1fe8" stroke-width="1.7"/>
<circle cx="380.72" cy="258.32" r="4.4" fill="none" stroke="#1f1fe8" stroke-width="1.7"/>
<circle cx="388.74" cy="272.82" r="4.4" fill="none" stroke="#1f1fe8" stroke-width="1.7"/>
<circle cx="396.76" cy="269.9" r="4.4" fill="none" stroke="#1f1fe8" stroke-width="1.7"/>
<circle cx="404.78" cy="259.81" r="4.4" fill="none" stroke="#1f1fe8" stroke-width="1.7"/>
<circle cx="412.8" cy="279.29" r="4.4" fill="none" stroke="#1f1fe8" stroke-width="1.7"/>
<circle cx="420.82" cy="281.67" r="4.4" fill="none" stroke="#1f1fe8" stroke-width="1.7"/>
<circle cx="428.84" cy="289.67" r="4.4" fill="none" stroke="#1f1fe8" stroke-width="1.7"/>
<circle cx="436.86" cy="299.4" r="4.4" fill="none" stroke="#1f1fe8" stroke-width="1.7"/>
<circle cx="444.88" cy="319.59" r="4.4" fill="none" stroke="#1f1fe8" stroke-width="1.7"/>
<circle cx="452.9" cy="303.18" r="4.4" fill="none" stroke="#1f1fe8" stroke-width="1.7"/>
<circle cx="460.93" cy="307.29" r="4.4" fill="none" stroke="#1f1fe8" stroke-width="1.7"/>
<circle cx="468.95" cy="356.98" r="4.4" fill="none" stroke="#1f1fe8" stroke-width="1.7"/>
<circle cx="476.97" cy="336.54" r="4.4" fill="none" stroke="#1f1fe8" stroke-width="1.7"/>
<circle cx="484.99" cy="328.98" r="4.4" fill="none" stroke="#1f1fe8" stroke-width="1.7"/>
<circle cx="493.01" cy="340.85" r="4.4" fill="none" stroke="#1f1fe8" stroke-width="1.7"/>
<circle cx="501.03" cy="340.85" r="4.4" fill="none" stroke="#1f1fe8" stroke-width="1.7"/>
<circle cx="509.05" cy="345.62" r="4.4" fill="none" stroke="#1f1fe8" stroke-width="1.7"/>
<circle cx="517.07" cy="345.62" r="4.4" fill="none" stroke="#1f1fe8" stroke-width="1.7"/>
<circle cx="525.09" cy="363.96" r="4.4" fill="none" stroke="#1f1fe8" stroke-width="1.7"/>
<circle cx="533.11" cy="345.62" r="4.4" fill="none" stroke="#1f1fe8" stroke-width="1.7"/>
<circle cx="541.13" cy="395.31" r="4.4" fill="none" stroke="#1f1fe8" stroke-width="1.7"/>
<circle cx="549.15" cy="356.98" r="4.4" fill="none" stroke="#1f1fe8" stroke-width="1.7"/>
<circle cx="557.18" cy="395.31" r="4.4" fill="none" stroke="#1f1fe8" stroke-width="1.7"/>
<circle cx="565.2" cy="382.3" r="4.4" fill="none" stroke="#1f1fe8" stroke-width="1.7"/>
<circle cx="573.22" cy="413.65" r="4.4" fill="none" stroke="#1f1fe8" stroke-width="1.7"/>
<circle cx="581.24" cy="382.3" r="4.4" fill="none" stroke="#1f1fe8" stroke-width="1.7"/>
<circle cx="589.26" cy="445" r="4.4" fill="none" stroke="#1f1fe8" stroke-width="1.7"/>
<circle cx="597.28" cy="445" r="4.4" fill="none" stroke="#1f1fe8" stroke-width="1.7"/>
<circle cx="605.3" cy="445" r="4.4" fill="none" stroke="#1f1fe8" stroke-width="1.7"/>
<circle cx="613.32" cy="445" r="4.4" fill="none" stroke="#1f1fe8" stroke-width="1.7"/>
<circle cx="621.34" cy="445" r="4.4" fill="none" stroke="#1f1fe8" stroke-width="1.7"/>
<circle cx="637.38" cy="445" r="4.4" fill="none" stroke="#1f1fe8" stroke-width="1.7"/>
<circle cx="669.47" cy="445" r="4.4" fill="none" stroke="#1f1fe8" stroke-width="1.7"/>
<circle cx="693.53" cy="413.65" r="4.4" fill="none" stroke="#1f1fe8" stroke-width="1.7"/>
</g>
<g clip-path="url(#cm)">
<polyline points="108.01,322.51 116.03,272.82 124.05,259.06 132.07,245.13 140.09,234.93 148.11,225.89 156.14,220.21 164.16,216.88 172.18,207.19 180.2,201.45 188.22,204.67 196.24,197.29 204.26,200.22 212.28,201.04 220.3,198.63 228.32,195.25 236.34,202.5 244.36,209.37 252.38,211.91 260.41,207.91 268.43,212.43 276.45,208.63 284.47,211.13 292.49,217.17 300.51,216.01 308.53,225.89 316.55,223.8 324.57,231.98 332.59,240.47 340.61,233.22 348.63,245.68 356.66,244.59 364.68,252.19 372.7,247.36 380.72,252.19 388.74,266.28 396.76,279.29 404.78,273.83 412.8,275.94 420.82,278.15 428.84,278.15 436.86,297.63 444.88,311.82 452.9,332.6 460.93,325.63 468.95,322.51 476.97,350.94 484.99,332.6 493.01,336.54 501.03,356.98 509.05,340.85 517.07,395.31 525.09,372.2 533.11,356.98 541.13,382.3 549.15,382.3 557.18,395.31 565.2,445 573.22,413.65 581.24,372.2 589.26,445 605.3,413.65 613.32,445 629.36,445 645.4,445 661.45,445 693.53,445 725.61,445" fill="none" stroke="#1fd9bf" stroke-width="1.7" stroke-dasharray="1.6 2.55"/>
<line x1="108.01" y1="316.66" x2="108.01" y2="312.12" stroke="#1fd9bf" stroke-width="1.7" stroke-dasharray="1.6 2.55" stroke-dashoffset="2"/>
<line x1="105.81" y1="312.12" x2="110.21" y2="312.12" stroke="#1fd9bf" stroke-width="1.7"/>
<line x1="108.01" y1="328.36" x2="108.01" y2="336.02" stroke="#1fd9bf" stroke-width="1.7" stroke-dasharray="1.6 2.55" stroke-dashoffset="2"/>
<line x1="105.81" y1="336.02" x2="110.21" y2="336.02" stroke="#1fd9bf" stroke-width="1.7"/>
<line x1="116.03" y1="266.97" x2="116.03" y2="266.53" stroke="#1fd9bf" stroke-width="1.7" stroke-dasharray="1.6 2.55" stroke-dashoffset="2"/>
<line x1="113.83" y1="266.53" x2="118.23" y2="266.53" stroke="#1fd9bf" stroke-width="1.7"/>
<line x1="116.03" y1="278.67" x2="116.03" y2="280.12" stroke="#1fd9bf" stroke-width="1.7" stroke-dasharray="1.6 2.55" stroke-dashoffset="2"/>
<line x1="113.83" y1="280.12" x2="118.23" y2="280.12" stroke="#1fd9bf" stroke-width="1.7"/>
<line x1="124.05" y1="264.91" x2="124.05" y2="265.26" stroke="#1fd9bf" stroke-width="1.7" stroke-dasharray="1.6 2.55" stroke-dashoffset="2"/>
<line x1="121.85" y1="265.26" x2="126.25" y2="265.26" stroke="#1fd9bf" stroke-width="1.7"/>
<line x1="388.74" y1="260.43" x2="388.74" y2="260.4" stroke="#1fd9bf" stroke-width="1.7" stroke-dasharray="1.6 2.55" stroke-dashoffset="2"/>
<line x1="386.54" y1="260.4" x2="390.94" y2="260.4" stroke="#1fd9bf" stroke-width="1.7"/>
<line x1="388.74" y1="272.13" x2="388.74" y2="273.03" stroke="#1fd9bf" stroke-width="1.7" stroke-dasharray="1.6 2.55" stroke-dashoffset="2"/>
<line x1="386.54" y1="273.03" x2="390.94" y2="273.03" stroke="#1fd9bf" stroke-width="1.7"/>
<line x1="396.76" y1="273.44" x2="396.76" y2="272.57" stroke="#1fd9bf" stroke-width="1.7" stroke-dasharray="1.6 2.55" stroke-dashoffset="2"/>
<line x1="394.56" y1="272.57" x2="398.96" y2="272.57" stroke="#1fd9bf" stroke-width="1.7"/>
<line x1="396.76" y1="285.14" x2="396.76" y2="287.18" stroke="#1fd9bf" stroke-width="1.7" stroke-dasharray="1.6 2.55" stroke-dashoffset="2"/>
<line x1="394.56" y1="287.18" x2="398.96" y2="287.18" stroke="#1fd9bf" stroke-width="1.7"/>
<line x1="404.78" y1="267.98" x2="404.78" y2="267.48" stroke="#1fd9bf" stroke-width="1.7" stroke-dasharray="1.6 2.55" stroke-dashoffset="2"/>
<line x1="402.58" y1="267.48" x2="406.98" y2="267.48" stroke="#1fd9bf" stroke-width="1.7"/>
<line x1="404.78" y1="279.68" x2="404.78" y2="281.23" stroke="#1fd9bf" stroke-width="1.7" stroke-dasharray="1.6 2.55" stroke-dashoffset="2"/>
<line x1="402.58" y1="281.23" x2="406.98" y2="281.23" stroke="#1fd9bf" stroke-width="1.7"/>
<line x1="412.8" y1="270.09" x2="412.8" y2="269.45" stroke="#1fd9bf" stroke-width="1.7" stroke-dasharray="1.6 2.55" stroke-dashoffset="2"/>
<line x1="410.6" y1="269.45" x2="415" y2="269.45" stroke="#1fd9bf" stroke-width="1.7"/>
<line x1="412.8" y1="281.79" x2="412.8" y2="283.52" stroke="#1fd9bf" stroke-width="1.7" stroke-dasharray="1.6 2.55" stroke-dashoffset="2"/>
<line x1="410.6" y1="283.52" x2="415" y2="283.52" stroke="#1fd9bf" stroke-width="1.7"/>
<line x1="420.82" y1="272.3" x2="420.82" y2="271.51" stroke="#1fd9bf" stroke-width="1.7" stroke-dasharray="1.6 2.55" stroke-dashoffset="2"/>
<line x1="418.62" y1="271.51" x2="423.02" y2="271.51" stroke="#1fd9bf" stroke-width="1.7"/>
<line x1="420.82" y1="284" x2="420.82" y2="285.93" stroke="#1fd9bf" stroke-width="1.7" stroke-dasharray="1.6 2.55" stroke-dashoffset="2"/>
<line x1="418.62" y1="285.93" x2="423.02" y2="285.93" stroke="#1fd9bf" stroke-width="1.7"/>
<line x1="428.84" y1="272.3" x2="428.84" y2="271.51" stroke="#1fd9bf" stroke-width="1.7" stroke-dasharray="1.6 2.55" stroke-dashoffset="2"/>
<line x1="426.64" y1="271.51" x2="431.04" y2="271.51" stroke="#1fd9bf" stroke-width="1.7"/>
<line x1="428.84" y1="284" x2="428.84" y2="285.93" stroke="#1fd9bf" stroke-width="1.7" stroke-dasharray="1.6 2.55" stroke-dashoffset="2"/>
<line x1="426.64" y1="285.93" x2="431.04" y2="285.93" stroke="#1fd9bf" stroke-width="1.7"/>
<line x1="436.86" y1="291.78" x2="436.86" y2="289.53" stroke="#1fd9bf" stroke-width="1.7" stroke-dasharray="1.6 2.55" stroke-dashoffset="2"/>
<line x1="434.66" y1="289.53" x2="439.06" y2="289.53" stroke="#1fd9bf" stroke-width="1.7"/>
<line x1="436.86" y1="303.48" x2="436.86" y2="307.5" stroke="#1fd9bf" stroke-width="1.7" stroke-dasharray="1.6 2.55" stroke-dashoffset="2"/>
<line x1="434.66" y1="307.5" x2="439.06" y2="307.5" stroke="#1fd9bf" stroke-width="1.7"/>
<line x1="444.88" y1="305.97" x2="444.88" y2="302.48" stroke="#1fd9bf" stroke-width="1.7" stroke-dasharray="1.6 2.55" stroke-dashoffset="2"/>
<line x1="442.68" y1="302.48" x2="447.08" y2="302.48" stroke="#1fd9bf" stroke-width="1.7"/>
<line x1="444.88" y1="317.67" x2="444.88" y2="323.61" stroke="#1fd9bf" stroke-width="1.7" stroke-dasharray="1.6 2.55" stroke-dashoffset="2"/>
<line x1="442.68" y1="323.61" x2="447.08" y2="323.61" stroke="#1fd9bf" stroke-width="1.7"/>
<line x1="452.9" y1="326.75" x2="452.9" y2="321.13" stroke="#1fd9bf" stroke-width="1.7" stroke-dasharray="1.6 2.55" stroke-dashoffset="2"/>
<line x1="450.7" y1="321.13" x2="455.1" y2="321.13" stroke="#1fd9bf" stroke-width="1.7"/>
<line x1="452.9" y1="338.45" x2="452.9" y2="348.01" stroke="#1fd9bf" stroke-width="1.7" stroke-dasharray="1.6 2.55" stroke-dashoffset="2"/>
<line x1="450.7" y1="348.01" x2="455.1" y2="348.01" stroke="#1fd9bf" stroke-width="1.7"/>
<line x1="460.93" y1="319.78" x2="460.93" y2="314.92" stroke="#1fd9bf" stroke-width="1.7" stroke-dasharray="1.6 2.55" stroke-dashoffset="2"/>
<line x1="458.73" y1="314.92" x2="463.13" y2="314.92" stroke="#1fd9bf" stroke-width="1.7"/>
<line x1="460.93" y1="331.48" x2="460.93" y2="339.7" stroke="#1fd9bf" stroke-width="1.7" stroke-dasharray="1.6 2.55" stroke-dashoffset="2"/>
<line x1="458.73" y1="339.7" x2="463.13" y2="339.7" stroke="#1fd9bf" stroke-width="1.7"/>
<line x1="468.95" y1="316.66" x2="468.95" y2="312.12" stroke="#1fd9bf" stroke-width="1.7" stroke-dasharray="1.6 2.55" stroke-dashoffset="2"/>
<line x1="466.75" y1="312.12" x2="471.15" y2="312.12" stroke="#1fd9bf" stroke-width="1.7"/>
<line x1="468.95" y1="328.36" x2="468.95" y2="336.02" stroke="#1fd9bf" stroke-width="1.7" stroke-dasharray="1.6 2.55" stroke-dashoffset="2"/>
<line x1="466.75" y1="336.02" x2="471.15" y2="336.02" stroke="#1fd9bf" stroke-width="1.7"/>
<line x1="476.97" y1="345.09" x2="476.97" y2="337.25" stroke="#1fd9bf" stroke-width="1.7" stroke-dasharray="1.6 2.55" stroke-dashoffset="2"/>
<line x1="474.77" y1="337.25" x2="479.17" y2="337.25" stroke="#1fd9bf" stroke-width="1.7"/>
<line x1="476.97" y1="356.79" x2="476.97" y2="370.68" stroke="#1fd9bf" stroke-width="1.7" stroke-dasharray="1.6 2.55" stroke-dashoffset="2"/>
<line x1="474.77" y1="370.68" x2="479.17" y2="370.68" stroke="#1fd9bf" stroke-width="1.7"/>
<line x1="484.99" y1="326.75" x2="484.99" y2="321.13" stroke="#1fd9bf" stroke-width="1.7" stroke-dasharray="1.6 2.55" stroke-dashoffset="2"/>
<line x1="482.79" y1="321.13" x2="487.19" y2="321.13" stroke="#1fd9bf" stroke-width="1.7"/>
<line x1="484.99" y1="338.45" x2="484.99" y2="348.01" stroke="#1fd9bf" stroke-width="1.7" stroke-dasharray="1.6 2.55" stroke-dashoffset="2"/>
<line x1="482.79" y1="348.01" x2="487.19" y2="348.01" stroke="#1fd9bf" stroke-width="1.7"/>
<line x1="493.01" y1="330.69" x2="493.01" y2="324.62" stroke="#1fd9bf" stroke-width="1.7" stroke-dasharray="1.6 2.55" stroke-dashoffset="2"/>
<line x1="490.81" y1="324.62" x2="495.21" y2="324.62" stroke="#1fd9bf" stroke-width="1.7"/>
<line x1="493.01" y1="342.39" x2="493.01" y2="352.77" stroke="#1fd9bf" stroke-width="1.7" stroke-dasharray="1.6 2.55" stroke-dashoffset="2"/>
<line x1="490.81" y1="352.77" x2="495.21" y2="352.77" stroke="#1fd9bf" stroke-width="1.7"/>
<line x1="501.03" y1="351.13" x2="501.03" y2="342.48" stroke="#1fd9bf" stroke-width="1.7" stroke-dasharray="1.6 2.55" stroke-dashoffset="2"/>
<line x1="498.83" y1="342.48" x2="503.23" y2="342.48" stroke="#1fd9bf" stroke-width="1.7"/>
<line x1="501.03" y1="362.83" x2="501.03" y2="378.46" stroke="#1fd9bf" stroke-width="1.7" stroke-dasharray="1.6 2.55" stroke-dashoffset="2"/>
<line x1="498.83" y1="378.46" x2="503.23" y2="378.46" stroke="#1fd9bf" stroke-width="1.7"/>
<line x1="509.05" y1="335" x2="509.05" y2="328.42" stroke="#1fd9bf" stroke-width="1.7" stroke-dasharray="1.6 2.55" stroke-dashoffset="2"/>
<line x1="506.85" y1="328.42" x2="511.25" y2="328.42" stroke="#1fd9bf" stroke-width="1.7"/>
<line x1="509.05" y1="346.7" x2="509.05" y2="358.04" stroke="#1fd9bf" stroke-width="1.7" stroke-dasharray="1.6 2.55" stroke-dashoffset="2"/>
<line x1="506.85" y1="358.04" x2="511.25" y2="358.04" stroke="#1fd9bf" stroke-width="1.7"/>
<line x1="517.07" y1="389.46" x2="517.07" y2="374.69" stroke="#1fd9bf" stroke-width="1.7" stroke-dasharray="1.6 2.55" stroke-dashoffset="2"/>
<line x1="514.87" y1="374.69" x2="519.27" y2="374.69" stroke="#1fd9bf" stroke-width="1.7"/>
<line x1="517.07" y1="401.16" x2="517.07" y2="434.26" stroke="#1fd9bf" stroke-width="1.7" stroke-dasharray="1.6 2.55" stroke-dashoffset="2"/>
<line x1="514.87" y1="434.26" x2="519.27" y2="434.26" stroke="#1fd9bf" stroke-width="1.7"/>
<line x1="525.09" y1="366.35" x2="525.09" y2="355.48" stroke="#1fd9bf" stroke-width="1.7" stroke-dasharray="1.6 2.55" stroke-dashoffset="2"/>
<line x1="522.89" y1="355.48" x2="527.29" y2="355.48" stroke="#1fd9bf" stroke-width="1.7"/>
<line x1="525.09" y1="378.05" x2="525.09" y2="399.01" stroke="#1fd9bf" stroke-width="1.7" stroke-dasharray="1.6 2.55" stroke-dashoffset="2"/>
<line x1="522.89" y1="399.01" x2="527.29" y2="399.01" stroke="#1fd9bf" stroke-width="1.7"/>
<line x1="533.11" y1="351.13" x2="533.11" y2="342.48" stroke="#1fd9bf" stroke-width="1.7" stroke-dasharray="1.6 2.55" stroke-dashoffset="2"/>
<line x1="530.91" y1="342.48" x2="535.31" y2="342.48" stroke="#1fd9bf" stroke-width="1.7"/>
<line x1="533.11" y1="362.83" x2="533.11" y2="378.46" stroke="#1fd9bf" stroke-width="1.7" stroke-dasharray="1.6 2.55" stroke-dashoffset="2"/>
<line x1="530.91" y1="378.46" x2="535.31" y2="378.46" stroke="#1fd9bf" stroke-width="1.7"/>
<line x1="541.13" y1="376.45" x2="541.13" y2="363.96" stroke="#1fd9bf" stroke-width="1.7" stroke-dasharray="1.6 2.55" stroke-dashoffset="2"/>
<line x1="538.93" y1="363.96" x2="543.33" y2="363.96" stroke="#1fd9bf" stroke-width="1.7"/>
<line x1="541.13" y1="388.15" x2="541.13" y2="413.65" stroke="#1fd9bf" stroke-width="1.7" stroke-dasharray="1.6 2.55" stroke-dashoffset="2"/>
<line x1="538.93" y1="413.65" x2="543.33" y2="413.65" stroke="#1fd9bf" stroke-width="1.7"/>
<line x1="549.15" y1="376.45" x2="549.15" y2="363.96" stroke="#1fd9bf" stroke-width="1.7" stroke-dasharray="1.6 2.55" stroke-dashoffset="2"/>
<line x1="546.95" y1="363.96" x2="551.35" y2="363.96" stroke="#1fd9bf" stroke-width="1.7"/>
<line x1="549.15" y1="388.15" x2="549.15" y2="413.65" stroke="#1fd9bf" stroke-width="1.7" stroke-dasharray="1.6 2.55" stroke-dashoffset="2"/>
<line x1="546.95" y1="413.65" x2="551.35" y2="413.65" stroke="#1fd9bf" stroke-width="1.7"/>
<line x1="557.18" y1="389.46" x2="557.18" y2="374.69" stroke="#1fd9bf" stroke-width="1.7" stroke-dasharray="1.6 2.55" stroke-dashoffset="2"/>
<line x1="554.98" y1="374.69" x2="559.38" y2="374.69" stroke="#1fd9bf" stroke-width="1.7"/>
<line x1="557.18" y1="401.16" x2="557.18" y2="434.26" stroke="#1fd9bf" stroke-width="1.7" stroke-dasharray="1.6 2.55" stroke-dashoffset="2"/>
<line x1="554.98" y1="434.26" x2="559.38" y2="434.26" stroke="#1fd9bf" stroke-width="1.7"/>
<line x1="565.2" y1="439.15" x2="565.2" y2="413.65" stroke="#1fd9bf" stroke-width="1.7" stroke-dasharray="1.6 2.55" stroke-dashoffset="2"/>
<line x1="563" y1="413.65" x2="567.4" y2="413.65" stroke="#1fd9bf" stroke-width="1.7"/>
<line x1="565.2" y1="450.85" x2="565.2" y2="654.6" stroke="#1fd9bf" stroke-width="1.7" stroke-dasharray="1.6 2.55" stroke-dashoffset="2"/>
<line x1="563" y1="654.6" x2="567.4" y2="654.6" stroke="#1fd9bf" stroke-width="1.7"/>
<line x1="573.22" y1="407.8" x2="573.22" y2="389.46" stroke="#1fd9bf" stroke-width="1.7" stroke-dasharray="1.6 2.55" stroke-dashoffset="2"/>
<line x1="571.02" y1="389.46" x2="575.42" y2="389.46" stroke="#1fd9bf" stroke-width="1.7"/>
<line x1="573.22" y1="419.5" x2="573.22" y2="469.19" stroke="#1fd9bf" stroke-width="1.7" stroke-dasharray="1.6 2.55" stroke-dashoffset="2"/>
<line x1="571.02" y1="469.19" x2="575.42" y2="469.19" stroke="#1fd9bf" stroke-width="1.7"/>
<line x1="581.24" y1="366.35" x2="581.24" y2="355.48" stroke="#1fd9bf" stroke-width="1.7" stroke-dasharray="1.6 2.55" stroke-dashoffset="2"/>
<line x1="579.04" y1="355.48" x2="583.44" y2="355.48" stroke="#1fd9bf" stroke-width="1.7"/>
<line x1="581.24" y1="378.05" x2="581.24" y2="399.01" stroke="#1fd9bf" stroke-width="1.7" stroke-dasharray="1.6 2.55" stroke-dashoffset="2"/>
<line x1="579.04" y1="399.01" x2="583.44" y2="399.01" stroke="#1fd9bf" stroke-width="1.7"/>
<line x1="589.26" y1="439.15" x2="589.26" y2="413.65" stroke="#1fd9bf" stroke-width="1.7" stroke-dasharray="1.6 2.55" stroke-dashoffset="2"/>
<line x1="587.06" y1="413.65" x2="591.46" y2="413.65" stroke="#1fd9bf" stroke-width="1.7"/>
<line x1="589.26" y1="450.85" x2="589.26" y2="654.6" stroke="#1fd9bf" stroke-width="1.7" stroke-dasharray="1.6 2.55" stroke-dashoffset="2"/>
<line x1="587.06" y1="654.6" x2="591.46" y2="654.6" stroke="#1fd9bf" stroke-width="1.7"/>
<line x1="605.3" y1="407.8" x2="605.3" y2="389.46" stroke="#1fd9bf" stroke-width="1.7" stroke-dasharray="1.6 2.55" stroke-dashoffset="2"/>
<line x1="603.1" y1="389.46" x2="607.5" y2="389.46" stroke="#1fd9bf" stroke-width="1.7"/>
<line x1="605.3" y1="419.5" x2="605.3" y2="469.19" stroke="#1fd9bf" stroke-width="1.7" stroke-dasharray="1.6 2.55" stroke-dashoffset="2"/>
<line x1="603.1" y1="469.19" x2="607.5" y2="469.19" stroke="#1fd9bf" stroke-width="1.7"/>
<line x1="613.32" y1="439.15" x2="613.32" y2="413.65" stroke="#1fd9bf" stroke-width="1.7" stroke-dasharray="1.6 2.55" stroke-dashoffset="2"/>
<line x1="611.12" y1="413.65" x2="615.52" y2="413.65" stroke="#1fd9bf" stroke-width="1.7"/>
<line x1="613.32" y1="450.85" x2="613.32" y2="654.6" stroke="#1fd9bf" stroke-width="1.7" stroke-dasharray="1.6 2.55" stroke-dashoffset="2"/>
<line x1="611.12" y1="654.6" x2="615.52" y2="654.6" stroke="#1fd9bf" stroke-width="1.7"/>
<line x1="629.36" y1="439.15" x2="629.36" y2="413.65" stroke="#1fd9bf" stroke-width="1.7" stroke-dasharray="1.6 2.55" stroke-dashoffset="2"/>
<line x1="627.16" y1="413.65" x2="631.56" y2="413.65" stroke="#1fd9bf" stroke-width="1.7"/>
<line x1="629.36" y1="450.85" x2="629.36" y2="654.6" stroke="#1fd9bf" stroke-width="1.7" stroke-dasharray="1.6 2.55" stroke-dashoffset="2"/>
<line x1="627.16" y1="654.6" x2="631.56" y2="654.6" stroke="#1fd9bf" stroke-width="1.7"/>
<line x1="645.4" y1="439.15" x2="645.4" y2="413.65" stroke="#1fd9bf" stroke-width="1.7" stroke-dasharray="1.6 2.55" stroke-dashoffset="2"/>
<line x1="643.2" y1="413.65" x2="647.6" y2="413.65" stroke="#1fd9bf" stroke-width="1.7"/>
<line x1="645.4" y1="450.85" x2="645.4" y2="654.6" stroke="#1fd9bf" stroke-width="1.7" stroke-dasharray="1.6 2.55" stroke-dashoffset="2"/>
<line x1="643.2" y1="654.6" x2="647.6" y2="654.6" stroke="#1fd9bf" stroke-width="1.7"/>
<line x1="661.45" y1="439.15" x2="661.45" y2="413.65" stroke="#1fd9bf" stroke-width="1.7" stroke-dasharray="1.6 2.55" stroke-dashoffset="2"/>
<line x1="659.25" y1="413.65" x2="663.65" y2="413.65" stroke="#1fd9bf" stroke-width="1.7"/>
<line x1="661.45" y1="450.85" x2="661.45" y2="654.6" stroke="#1fd9bf" stroke-width="1.7" stroke-dasharray="1.6 2.55" stroke-dashoffset="2"/>
<line x1="659.25" y1="654.6" x2="663.65" y2="654.6" stroke="#1fd9bf" stroke-width="1.7"/>
<line x1="693.53" y1="439.15" x2="693.53" y2="413.65" stroke="#1fd9bf" stroke-width="1.7" stroke-dasharray="1.6 2.55" stroke-dashoffset="2"/>
<line x1="691.33" y1="413.65" x2="695.73" y2="413.65" stroke="#1fd9bf" stroke-width="1.7"/>
<line x1="693.53" y1="450.85" x2="693.53" y2="654.6" stroke="#1fd9bf" stroke-width="1.7" stroke-dasharray="1.6 2.55" stroke-dashoffset="2"/>
<line x1="691.33" y1="654.6" x2="695.73" y2="654.6" stroke="#1fd9bf" stroke-width="1.7"/>
<line x1="725.61" y1="439.15" x2="725.61" y2="413.65" stroke="#1fd9bf" stroke-width="1.7" stroke-dasharray="1.6 2.55" stroke-dashoffset="2"/>
<line x1="723.41" y1="413.65" x2="727.81" y2="413.65" stroke="#1fd9bf" stroke-width="1.7"/>
<line x1="725.61" y1="450.85" x2="725.61" y2="654.6" stroke="#1fd9bf" stroke-width="1.7" stroke-dasharray="1.6 2.55" stroke-dashoffset="2"/>
<line x1="723.41" y1="654.6" x2="727.81" y2="654.6" stroke="#1fd9bf" stroke-width="1.7"/>
</g>
<g clip-path="url(#cm)">
<circle cx="108.01" cy="322.51" r="5.05" fill="none" stroke="#1fd9bf" stroke-width="1.6"/>
<circle cx="116.03" cy="272.82" r="5.05" fill="none" stroke="#1fd9bf" stroke-width="1.6"/>
<circle cx="124.05" cy="259.06" r="5.05" fill="none" stroke="#1fd9bf" stroke-width="1.6"/>
<circle cx="132.07" cy="245.13" r="5.05" fill="none" stroke="#1fd9bf" stroke-width="1.6"/>
<circle cx="140.09" cy="234.93" r="5.05" fill="none" stroke="#1fd9bf" stroke-width="1.6"/>
<circle cx="148.11" cy="225.89" r="5.05" fill="none" stroke="#1fd9bf" stroke-width="1.6"/>
<circle cx="156.14" cy="220.21" r="5.05" fill="none" stroke="#1fd9bf" stroke-width="1.6"/>
<circle cx="164.16" cy="216.88" r="5.05" fill="none" stroke="#1fd9bf" stroke-width="1.6"/>
<circle cx="172.18" cy="207.19" r="5.05" fill="none" stroke="#1fd9bf" stroke-width="1.6"/>
<circle cx="180.2" cy="201.45" r="5.05" fill="none" stroke="#1fd9bf" stroke-width="1.6"/>
<circle cx="188.22" cy="204.67" r="5.05" fill="none" stroke="#1fd9bf" stroke-width="1.6"/>
<circle cx="196.24" cy="197.29" r="5.05" fill="none" stroke="#1fd9bf" stroke-width="1.6"/>
<circle cx="204.26" cy="200.22" r="5.05" fill="none" stroke="#1fd9bf" stroke-width="1.6"/>
<circle cx="212.28" cy="201.04" r="5.05" fill="none" stroke="#1fd9bf" stroke-width="1.6"/>
<circle cx="220.3" cy="198.63" r="5.05" fill="none" stroke="#1fd9bf" stroke-width="1.6"/>
<circle cx="228.32" cy="195.25" r="5.05" fill="none" stroke="#1fd9bf" stroke-width="1.6"/>
<circle cx="236.34" cy="202.5" r="5.05" fill="none" stroke="#1fd9bf" stroke-width="1.6"/>
<circle cx="244.36" cy="209.37" r="5.05" fill="none" stroke="#1fd9bf" stroke-width="1.6"/>
<circle cx="252.38" cy="211.91" r="5.05" fill="none" stroke="#1fd9bf" stroke-width="1.6"/>
<circle cx="260.41" cy="207.91" r="5.05" fill="none" stroke="#1fd9bf" stroke-width="1.6"/>
<circle cx="268.43" cy="212.43" r="5.05" fill="none" stroke="#1fd9bf" stroke-width="1.6"/>
<circle cx="276.45" cy="208.63" r="5.05" fill="none" stroke="#1fd9bf" stroke-width="1.6"/>
<circle cx="284.47" cy="211.13" r="5.05" fill="none" stroke="#1fd9bf" stroke-width="1.6"/>
<circle cx="292.49" cy="217.17" r="5.05" fill="none" stroke="#1fd9bf" stroke-width="1.6"/>
<circle cx="300.51" cy="216.01" r="5.05" fill="none" stroke="#1fd9bf" stroke-width="1.6"/>
<circle cx="308.53" cy="225.89" r="5.05" fill="none" stroke="#1fd9bf" stroke-width="1.6"/>
<circle cx="316.55" cy="223.8" r="5.05" fill="none" stroke="#1fd9bf" stroke-width="1.6"/>
<circle cx="324.57" cy="231.98" r="5.05" fill="none" stroke="#1fd9bf" stroke-width="1.6"/>
<circle cx="332.59" cy="240.47" r="5.05" fill="none" stroke="#1fd9bf" stroke-width="1.6"/>
<circle cx="340.61" cy="233.22" r="5.05" fill="none" stroke="#1fd9bf" stroke-width="1.6"/>
<circle cx="348.63" cy="245.68" r="5.05" fill="none" stroke="#1fd9bf" stroke-width="1.6"/>
<circle cx="356.66" cy="244.59" r="5.05" fill="none" stroke="#1fd9bf" stroke-width="1.6"/>
<circle cx="364.68" cy="252.19" r="5.05" fill="none" stroke="#1fd9bf" stroke-width="1.6"/>
<circle cx="372.7" cy="247.36" r="5.05" fill="none" stroke="#1fd9bf" stroke-width="1.6"/>
<circle cx="380.72" cy="252.19" r="5.05" fill="none" stroke="#1fd9bf" stroke-width="1.6"/>
<circle cx="388.74" cy="266.28" r="5.05" fill="none" stroke="#1fd9bf" stroke-width="1.6"/>
<circle cx="396.76" cy="279.29" r="5.05" fill="none" stroke="#1fd9bf" stroke-width="1.6"/>
<circle cx="404.78" cy="273.83" r="5.05" fill="none" stroke="#1fd9bf" stroke-width="1.6"/>
<circle cx="412.8" cy="275.94" r="5.05" fill="none" stroke="#1fd9bf" stroke-width="1.6"/>
<circle cx="420.82" cy="278.15" r="5.05" fill="none" stroke="#1fd9bf" stroke-width="1.6"/>
<circle cx="428.84" cy="278.15" r="5.05" fill="none" stroke="#1fd9bf" stroke-width="1.6"/>
<circle cx="436.86" cy="297.63" r="5.05" fill="none" stroke="#1fd9bf" stroke-width="1.6"/>
<circle cx="444.88" cy="311.82" r="5.05" fill="none" stroke="#1fd9bf" stroke-width="1.6"/>
<circle cx="452.9" cy="332.6" r="5.05" fill="none" stroke="#1fd9bf" stroke-width="1.6"/>
<circle cx="460.93" cy="325.63" r="5.05" fill="none" stroke="#1fd9bf" stroke-width="1.6"/>
<circle cx="468.95" cy="322.51" r="5.05" fill="none" stroke="#1fd9bf" stroke-width="1.6"/>
<circle cx="476.97" cy="350.94" r="5.05" fill="none" stroke="#1fd9bf" stroke-width="1.6"/>
<circle cx="484.99" cy="332.6" r="5.05" fill="none" stroke="#1fd9bf" stroke-width="1.6"/>
<circle cx="493.01" cy="336.54" r="5.05" fill="none" stroke="#1fd9bf" stroke-width="1.6"/>
<circle cx="501.03" cy="356.98" r="5.05" fill="none" stroke="#1fd9bf" stroke-width="1.6"/>
<circle cx="509.05" cy="340.85" r="5.05" fill="none" stroke="#1fd9bf" stroke-width="1.6"/>
<circle cx="517.07" cy="395.31" r="5.05" fill="none" stroke="#1fd9bf" stroke-width="1.6"/>
<circle cx="525.09" cy="372.2" r="5.05" fill="none" stroke="#1fd9bf" stroke-width="1.6"/>
<circle cx="533.11" cy="356.98" r="5.05" fill="none" stroke="#1fd9bf" stroke-width="1.6"/>
<circle cx="541.13" cy="382.3" r="5.05" fill="none" stroke="#1fd9bf" stroke-width="1.6"/>
<circle cx="549.15" cy="382.3" r="5.05" fill="none" stroke="#1fd9bf" stroke-width="1.6"/>
<circle cx="557.18" cy="395.31" r="5.05" fill="none" stroke="#1fd9bf" stroke-width="1.6"/>
<circle cx="565.2" cy="445" r="5.05" fill="none" stroke="#1fd9bf" stroke-width="1.6"/>
<circle cx="573.22" cy="413.65" r="5.05" fill="none" stroke="#1fd9bf" stroke-width="1.6"/>
<circle cx="581.24" cy="372.2" r="5.05" fill="none" stroke="#1fd9bf" stroke-width="1.6"/>
<circle cx="589.26" cy="445" r="5.05" fill="none" stroke="#1fd9bf" stroke-width="1.6"/>
<circle cx="605.3" cy="413.65" r="5.05" fill="none" stroke="#1fd9bf" stroke-width="1.6"/>
<circle cx="613.32" cy="445" r="5.05" fill="none" stroke="#1fd9bf" stroke-width="1.6"/>
<circle cx="629.36" cy="445" r="5.05" fill="none" stroke="#1fd9bf" stroke-width="1.6"/>
<circle cx="645.4" cy="445" r="5.05" fill="none" stroke="#1fd9bf" stroke-width="1.6"/>
<circle cx="661.45" cy="445" r="5.05" fill="none" stroke="#1fd9bf" stroke-width="1.6"/>
<circle cx="693.53" cy="445" r="5.05" fill="none" stroke="#1fd9bf" stroke-width="1.6"/>
<circle cx="725.61" cy="445" r="5.05" fill="none" stroke="#1fd9bf" stroke-width="1.6"/>
</g>
<g clip-path="url(#cm)">
<polyline points="108.01,325.63 116.03,272.82 124.05,252.83 132.07,238.08 140.09,231.57 148.11,230.38 156.14,220.84 164.16,214.05 172.18,211.39 180.2,211.65 188.22,199.03 196.24,201.66 204.26,202.29 212.28,200.63 220.3,202.93 228.32,199.82 236.34,202.93 244.36,199.22 252.38,206.03 260.41,217.76 268.43,216.01 276.45,210.87 284.47,218.36 292.49,222.46 300.51,222.79 308.53,224.83 316.55,229.99 324.57,232.8 332.59,238.55 340.61,238.55 348.63,241.97 356.66,255.49 364.68,255.49 372.7,249.71 380.72,262.93 388.74,262.13 396.76,264.57 404.78,265.42 412.8,272.82 420.82,294.28 428.84,282.91 436.86,295.92 444.88,328.98 452.9,303.18 460.93,345.62 468.95,336.54 476.97,316.85 484.99,328.98 493.01,356.98 501.03,325.63 509.05,382.3 517.07,336.54 525.09,363.96 533.11,363.96 541.13,340.85 549.15,395.31 557.18,395.31 565.2,372.2 573.22,382.3 581.24,395.31 589.26,445 597.28,445 629.36,445 637.38,413.65 645.4,445 653.42,445 661.45,413.65 669.47,413.65 685.51,445" fill="none" stroke="#b5834c" stroke-width="1.7" stroke-dasharray="4.6 3.8"/>
<line x1="108.01" y1="320.33" x2="108.01" y2="314.92" stroke="#b5834c" stroke-width="1.7" stroke-dasharray="4.6 3.8" stroke-dashoffset="4.2"/>
<line x1="105.81" y1="314.92" x2="110.21" y2="314.92" stroke="#b5834c" stroke-width="1.7"/>
<line x1="108.01" y1="330.93" x2="108.01" y2="339.7" stroke="#b5834c" stroke-width="1.7" stroke-dasharray="4.6 3.8" stroke-dashoffset="4.2"/>
<line x1="105.81" y1="339.7" x2="110.21" y2="339.7" stroke="#b5834c" stroke-width="1.7"/>
<line x1="116.03" y1="267.52" x2="116.03" y2="266.53" stroke="#b5834c" stroke-width="1.7" stroke-dasharray="4.6 3.8" stroke-dashoffset="4.2"/>
<line x1="113.83" y1="266.53" x2="118.23" y2="266.53" stroke="#b5834c" stroke-width="1.7"/>
<line x1="116.03" y1="278.12" x2="116.03" y2="280.12" stroke="#b5834c" stroke-width="1.7" stroke-dasharray="4.6 3.8" stroke-dashoffset="4.2"/>
<line x1="113.83" y1="280.12" x2="118.23" y2="280.12" stroke="#b5834c" stroke-width="1.7"/>
<line x1="124.05" y1="258.13" x2="124.05" y2="258.59" stroke="#b5834c" stroke-width="1.7" stroke-dasharray="4.6 3.8" stroke-dashoffset="4.2"/>
<line x1="121.85" y1="258.59" x2="126.25" y2="258.59" stroke="#b5834c" stroke-width="1.7"/>
<line x1="356.66" y1="260.79" x2="356.66" y2="261.44" stroke="#b5834c" stroke-width="1.7" stroke-dasharray="4.6 3.8" stroke-dashoffset="4.2"/>
<line x1="354.46" y1="261.44" x2="358.86" y2="261.44" stroke="#b5834c" stroke-width="1.7"/>
<line x1="364.68" y1="260.79" x2="364.68" y2="261.44" stroke="#b5834c" stroke-width="1.7" stroke-dasharray="4.6 3.8" stroke-dashoffset="4.2"/>
<line x1="362.48" y1="261.44" x2="366.88" y2="261.44" stroke="#b5834c" stroke-width="1.7"/>
<line x1="372.7" y1="255.01" x2="372.7" y2="255.26" stroke="#b5834c" stroke-width="1.7" stroke-dasharray="4.6 3.8" stroke-dashoffset="4.2"/>
<line x1="370.5" y1="255.26" x2="374.9" y2="255.26" stroke="#b5834c" stroke-width="1.7"/>
<line x1="380.72" y1="257.63" x2="380.72" y2="257.25" stroke="#b5834c" stroke-width="1.7" stroke-dasharray="4.6 3.8" stroke-dashoffset="4.2"/>
<line x1="378.52" y1="257.25" x2="382.92" y2="257.25" stroke="#b5834c" stroke-width="1.7"/>
<line x1="380.72" y1="268.23" x2="380.72" y2="269.41" stroke="#b5834c" stroke-width="1.7" stroke-dasharray="4.6 3.8" stroke-dashoffset="4.2"/>
<line x1="378.52" y1="269.41" x2="382.92" y2="269.41" stroke="#b5834c" stroke-width="1.7"/>
<line x1="388.74" y1="256.83" x2="388.74" y2="256.5" stroke="#b5834c" stroke-width="1.7" stroke-dasharray="4.6 3.8" stroke-dashoffset="4.2"/>
<line x1="386.54" y1="256.5" x2="390.94" y2="256.5" stroke="#b5834c" stroke-width="1.7"/>
<line x1="388.74" y1="267.43" x2="388.74" y2="268.55" stroke="#b5834c" stroke-width="1.7" stroke-dasharray="4.6 3.8" stroke-dashoffset="4.2"/>
<line x1="386.54" y1="268.55" x2="390.94" y2="268.55" stroke="#b5834c" stroke-width="1.7"/>
<line x1="396.76" y1="259.27" x2="396.76" y2="258.8" stroke="#b5834c" stroke-width="1.7" stroke-dasharray="4.6 3.8" stroke-dashoffset="4.2"/>
<line x1="394.56" y1="258.8" x2="398.96" y2="258.8" stroke="#b5834c" stroke-width="1.7"/>
<line x1="396.76" y1="269.87" x2="396.76" y2="271.19" stroke="#b5834c" stroke-width="1.7" stroke-dasharray="4.6 3.8" stroke-dashoffset="4.2"/>
<line x1="394.56" y1="271.19" x2="398.96" y2="271.19" stroke="#b5834c" stroke-width="1.7"/>
<line x1="404.78" y1="260.12" x2="404.78" y2="259.59" stroke="#b5834c" stroke-width="1.7" stroke-dasharray="4.6 3.8" stroke-dashoffset="4.2"/>
<line x1="402.58" y1="259.59" x2="406.98" y2="259.59" stroke="#b5834c" stroke-width="1.7"/>
<line x1="404.78" y1="270.72" x2="404.78" y2="272.1" stroke="#b5834c" stroke-width="1.7" stroke-dasharray="4.6 3.8" stroke-dashoffset="4.2"/>
<line x1="402.58" y1="272.1" x2="406.98" y2="272.1" stroke="#b5834c" stroke-width="1.7"/>
<line x1="412.8" y1="267.52" x2="412.8" y2="266.53" stroke="#b5834c" stroke-width="1.7" stroke-dasharray="4.6 3.8" stroke-dashoffset="4.2"/>
<line x1="410.6" y1="266.53" x2="415" y2="266.53" stroke="#b5834c" stroke-width="1.7"/>
<line x1="412.8" y1="278.12" x2="412.8" y2="280.12" stroke="#b5834c" stroke-width="1.7" stroke-dasharray="4.6 3.8" stroke-dashoffset="4.2"/>
<line x1="410.6" y1="280.12" x2="415" y2="280.12" stroke="#b5834c" stroke-width="1.7"/>
<line x1="420.82" y1="288.98" x2="420.82" y2="286.45" stroke="#b5834c" stroke-width="1.7" stroke-dasharray="4.6 3.8" stroke-dashoffset="4.2"/>
<line x1="418.62" y1="286.45" x2="423.02" y2="286.45" stroke="#b5834c" stroke-width="1.7"/>
<line x1="420.82" y1="299.58" x2="420.82" y2="303.75" stroke="#b5834c" stroke-width="1.7" stroke-dasharray="4.6 3.8" stroke-dashoffset="4.2"/>
<line x1="418.62" y1="303.75" x2="423.02" y2="303.75" stroke="#b5834c" stroke-width="1.7"/>
<line x1="428.84" y1="277.61" x2="428.84" y2="275.94" stroke="#b5834c" stroke-width="1.7" stroke-dasharray="4.6 3.8" stroke-dashoffset="4.2"/>
<line x1="426.64" y1="275.94" x2="431.04" y2="275.94" stroke="#b5834c" stroke-width="1.7"/>
<line x1="428.84" y1="288.21" x2="428.84" y2="291.16" stroke="#b5834c" stroke-width="1.7" stroke-dasharray="4.6 3.8" stroke-dashoffset="4.2"/>
<line x1="426.64" y1="291.16" x2="431.04" y2="291.16" stroke="#b5834c" stroke-width="1.7"/>
<line x1="436.86" y1="290.62" x2="436.86" y2="287.96" stroke="#b5834c" stroke-width="1.7" stroke-dasharray="4.6 3.8" stroke-dashoffset="4.2"/>
<line x1="434.66" y1="287.96" x2="439.06" y2="287.96" stroke="#b5834c" stroke-width="1.7"/>
<line x1="436.86" y1="301.22" x2="436.86" y2="305.59" stroke="#b5834c" stroke-width="1.7" stroke-dasharray="4.6 3.8" stroke-dashoffset="4.2"/>
<line x1="434.66" y1="305.59" x2="439.06" y2="305.59" stroke="#b5834c" stroke-width="1.7"/>
<line x1="444.88" y1="323.68" x2="444.88" y2="317.91" stroke="#b5834c" stroke-width="1.7" stroke-dasharray="4.6 3.8" stroke-dashoffset="4.2"/>
<line x1="442.68" y1="317.91" x2="447.08" y2="317.91" stroke="#b5834c" stroke-width="1.7"/>
<line x1="444.88" y1="334.28" x2="444.88" y2="343.68" stroke="#b5834c" stroke-width="1.7" stroke-dasharray="4.6 3.8" stroke-dashoffset="4.2"/>
<line x1="442.68" y1="343.68" x2="447.08" y2="343.68" stroke="#b5834c" stroke-width="1.7"/>
<line x1="452.9" y1="297.88" x2="452.9" y2="294.61" stroke="#b5834c" stroke-width="1.7" stroke-dasharray="4.6 3.8" stroke-dashoffset="4.2"/>
<line x1="450.7" y1="294.61" x2="455.1" y2="294.61" stroke="#b5834c" stroke-width="1.7"/>
<line x1="452.9" y1="308.48" x2="452.9" y2="313.75" stroke="#b5834c" stroke-width="1.7" stroke-dasharray="4.6 3.8" stroke-dashoffset="4.2"/>
<line x1="450.7" y1="313.75" x2="455.1" y2="313.75" stroke="#b5834c" stroke-width="1.7"/>
<line x1="460.93" y1="340.32" x2="460.93" y2="332.6" stroke="#b5834c" stroke-width="1.7" stroke-dasharray="4.6 3.8" stroke-dashoffset="4.2"/>
<line x1="458.73" y1="332.6" x2="463.13" y2="332.6" stroke="#b5834c" stroke-width="1.7"/>
<line x1="460.93" y1="350.92" x2="460.93" y2="363.96" stroke="#b5834c" stroke-width="1.7" stroke-dasharray="4.6 3.8" stroke-dashoffset="4.2"/>
<line x1="458.73" y1="363.96" x2="463.13" y2="363.96" stroke="#b5834c" stroke-width="1.7"/>
<line x1="468.95" y1="331.24" x2="468.95" y2="324.62" stroke="#b5834c" stroke-width="1.7" stroke-dasharray="4.6 3.8" stroke-dashoffset="4.2"/>
<line x1="466.75" y1="324.62" x2="471.15" y2="324.62" stroke="#b5834c" stroke-width="1.7"/>
<line x1="468.95" y1="341.84" x2="468.95" y2="352.77" stroke="#b5834c" stroke-width="1.7" stroke-dasharray="4.6 3.8" stroke-dashoffset="4.2"/>
<line x1="466.75" y1="352.77" x2="471.15" y2="352.77" stroke="#b5834c" stroke-width="1.7"/>
<line x1="476.97" y1="311.55" x2="476.97" y2="307.03" stroke="#b5834c" stroke-width="1.7" stroke-dasharray="4.6 3.8" stroke-dashoffset="4.2"/>
<line x1="474.77" y1="307.03" x2="479.17" y2="307.03" stroke="#b5834c" stroke-width="1.7"/>
<line x1="476.97" y1="322.15" x2="476.97" y2="329.41" stroke="#b5834c" stroke-width="1.7" stroke-dasharray="4.6 3.8" stroke-dashoffset="4.2"/>
<line x1="474.77" y1="329.41" x2="479.17" y2="329.41" stroke="#b5834c" stroke-width="1.7"/>
<line x1="484.99" y1="323.68" x2="484.99" y2="317.91" stroke="#b5834c" stroke-width="1.7" stroke-dasharray="4.6 3.8" stroke-dashoffset="4.2"/>
<line x1="482.79" y1="317.91" x2="487.19" y2="317.91" stroke="#b5834c" stroke-width="1.7"/>
<line x1="484.99" y1="334.28" x2="484.99" y2="343.68" stroke="#b5834c" stroke-width="1.7" stroke-dasharray="4.6 3.8" stroke-dashoffset="4.2"/>
<line x1="482.79" y1="343.68" x2="487.19" y2="343.68" stroke="#b5834c" stroke-width="1.7"/>
<line x1="493.01" y1="351.68" x2="493.01" y2="342.48" stroke="#b5834c" stroke-width="1.7" stroke-dasharray="4.6 3.8" stroke-dashoffset="4.2"/>
<line x1="490.81" y1="342.48" x2="495.21" y2="342.48" stroke="#b5834c" stroke-width="1.7"/>
<line x1="493.01" y1="362.28" x2="493.01" y2="378.46" stroke="#b5834c" stroke-width="1.7" stroke-dasharray="4.6 3.8" stroke-dashoffset="4.2"/>
<line x1="490.81" y1="378.46" x2="495.21" y2="378.46" stroke="#b5834c" stroke-width="1.7"/>
<line x1="501.03" y1="320.33" x2="501.03" y2="314.92" stroke="#b5834c" stroke-width="1.7" stroke-dasharray="4.6 3.8" stroke-dashoffset="4.2"/>
<line x1="498.83" y1="314.92" x2="503.23" y2="314.92" stroke="#b5834c" stroke-width="1.7"/>
<line x1="501.03" y1="330.93" x2="501.03" y2="339.7" stroke="#b5834c" stroke-width="1.7" stroke-dasharray="4.6 3.8" stroke-dashoffset="4.2"/>
<line x1="498.83" y1="339.7" x2="503.23" y2="339.7" stroke="#b5834c" stroke-width="1.7"/>
<line x1="509.05" y1="377" x2="509.05" y2="363.96" stroke="#b5834c" stroke-width="1.7" stroke-dasharray="4.6 3.8" stroke-dashoffset="4.2"/>
<line x1="506.85" y1="363.96" x2="511.25" y2="363.96" stroke="#b5834c" stroke-width="1.7"/>
<line x1="509.05" y1="387.6" x2="509.05" y2="413.65" stroke="#b5834c" stroke-width="1.7" stroke-dasharray="4.6 3.8" stroke-dashoffset="4.2"/>
<line x1="506.85" y1="413.65" x2="511.25" y2="413.65" stroke="#b5834c" stroke-width="1.7"/>
<line x1="517.07" y1="331.24" x2="517.07" y2="324.62" stroke="#b5834c" stroke-width="1.7" stroke-dasharray="4.6 3.8" stroke-dashoffset="4.2"/>
<line x1="514.87" y1="324.62" x2="519.27" y2="324.62" stroke="#b5834c" stroke-width="1.7"/>
<line x1="517.07" y1="341.84" x2="517.07" y2="352.77" stroke="#b5834c" stroke-width="1.7" stroke-dasharray="4.6 3.8" stroke-dashoffset="4.2"/>
<line x1="514.87" y1="352.77" x2="519.27" y2="352.77" stroke="#b5834c" stroke-width="1.7"/>
<line x1="525.09" y1="358.66" x2="525.09" y2="348.47" stroke="#b5834c" stroke-width="1.7" stroke-dasharray="4.6 3.8" stroke-dashoffset="4.2"/>
<line x1="522.89" y1="348.47" x2="527.29" y2="348.47" stroke="#b5834c" stroke-width="1.7"/>
<line x1="525.09" y1="369.26" x2="525.09" y2="387.69" stroke="#b5834c" stroke-width="1.7" stroke-dasharray="4.6 3.8" stroke-dashoffset="4.2"/>
<line x1="522.89" y1="387.69" x2="527.29" y2="387.69" stroke="#b5834c" stroke-width="1.7"/>
<line x1="533.11" y1="358.66" x2="533.11" y2="348.47" stroke="#b5834c" stroke-width="1.7" stroke-dasharray="4.6 3.8" stroke-dashoffset="4.2"/>
<line x1="530.91" y1="348.47" x2="535.31" y2="348.47" stroke="#b5834c" stroke-width="1.7"/>
<line x1="533.11" y1="369.26" x2="533.11" y2="387.69" stroke="#b5834c" stroke-width="1.7" stroke-dasharray="4.6 3.8" stroke-dashoffset="4.2"/>
<line x1="530.91" y1="387.69" x2="535.31" y2="387.69" stroke="#b5834c" stroke-width="1.7"/>
<line x1="541.13" y1="335.55" x2="541.13" y2="328.42" stroke="#b5834c" stroke-width="1.7" stroke-dasharray="4.6 3.8" stroke-dashoffset="4.2"/>
<line x1="538.93" y1="328.42" x2="543.33" y2="328.42" stroke="#b5834c" stroke-width="1.7"/>
<line x1="541.13" y1="346.15" x2="541.13" y2="358.04" stroke="#b5834c" stroke-width="1.7" stroke-dasharray="4.6 3.8" stroke-dashoffset="4.2"/>
<line x1="538.93" y1="358.04" x2="543.33" y2="358.04" stroke="#b5834c" stroke-width="1.7"/>
<line x1="549.15" y1="390.01" x2="549.15" y2="374.69" stroke="#b5834c" stroke-width="1.7" stroke-dasharray="4.6 3.8" stroke-dashoffset="4.2"/>
<line x1="546.95" y1="374.69" x2="551.35" y2="374.69" stroke="#b5834c" stroke-width="1.7"/>
<line x1="549.15" y1="400.61" x2="549.15" y2="434.26" stroke="#b5834c" stroke-width="1.7" stroke-dasharray="4.6 3.8" stroke-dashoffset="4.2"/>
<line x1="546.95" y1="434.26" x2="551.35" y2="434.26" stroke="#b5834c" stroke-width="1.7"/>
<line x1="557.18" y1="390.01" x2="557.18" y2="374.69" stroke="#b5834c" stroke-width="1.7" stroke-dasharray="4.6 3.8" stroke-dashoffset="4.2"/>
<line x1="554.98" y1="374.69" x2="559.38" y2="374.69" stroke="#b5834c" stroke-width="1.7"/>
<line x1="557.18" y1="400.61" x2="557.18" y2="434.26" stroke="#b5834c" stroke-width="1.7" stroke-dasharray="4.6 3.8" stroke-dashoffset="4.2"/>
<line x1="554.98" y1="434.26" x2="559.38" y2="434.26" stroke="#b5834c" stroke-width="1.7"/>
<line x1="565.2" y1="366.9" x2="565.2" y2="355.48" stroke="#b5834c" stroke-width="1.7" stroke-dasharray="4.6 3.8" stroke-dashoffset="4.2"/>
<line x1="563" y1="355.48" x2="567.4" y2="355.48" stroke="#b5834c" stroke-width="1.7"/>
<line x1="565.2" y1="377.5" x2="565.2" y2="399.01" stroke="#b5834c" stroke-width="1.7" stroke-dasharray="4.6 3.8" stroke-dashoffset="4.2"/>
<line x1="563" y1="399.01" x2="567.4" y2="399.01" stroke="#b5834c" stroke-width="1.7"/>
<line x1="573.22" y1="377" x2="573.22" y2="363.96" stroke="#b5834c" stroke-width="1.7" stroke-dasharray="4.6 3.8" stroke-dashoffset="4.2"/>
<line x1="571.02" y1="363.96" x2="575.42" y2="363.96" stroke="#b5834c" stroke-width="1.7"/>
<line x1="573.22" y1="387.6" x2="573.22" y2="413.65" stroke="#b5834c" stroke-width="1.7" stroke-dasharray="4.6 3.8" stroke-dashoffset="4.2"/>
<line x1="571.02" y1="413.65" x2="575.42" y2="413.65" stroke="#b5834c" stroke-width="1.7"/>
<line x1="581.24" y1="390.01" x2="581.24" y2="374.69" stroke="#b5834c" stroke-width="1.7" stroke-dasharray="4.6 3.8" stroke-dashoffset="4.2"/>
<line x1="579.04" y1="374.69" x2="583.44" y2="374.69" stroke="#b5834c" stroke-width="1.7"/>
<line x1="581.24" y1="400.61" x2="581.24" y2="434.26" stroke="#b5834c" stroke-width="1.7" stroke-dasharray="4.6 3.8" stroke-dashoffset="4.2"/>
<line x1="579.04" y1="434.26" x2="583.44" y2="434.26" stroke="#b5834c" stroke-width="1.7"/>
<line x1="589.26" y1="439.7" x2="589.26" y2="413.65" stroke="#b5834c" stroke-width="1.7" stroke-dasharray="4.6 3.8" stroke-dashoffset="4.2"/>
<line x1="587.06" y1="413.65" x2="591.46" y2="413.65" stroke="#b5834c" stroke-width="1.7"/>
<line x1="589.26" y1="450.3" x2="589.26" y2="654.6" stroke="#b5834c" stroke-width="1.7" stroke-dasharray="4.6 3.8" stroke-dashoffset="4.2"/>
<line x1="587.06" y1="654.6" x2="591.46" y2="654.6" stroke="#b5834c" stroke-width="1.7"/>
<line x1="597.28" y1="439.7" x2="597.28" y2="413.65" stroke="#b5834c" stroke-width="1.7" stroke-dasharray="4.6 3.8" stroke-dashoffset="4.2"/>
<line x1="595.08" y1="413.65" x2="599.48" y2="413.65" stroke="#b5834c" stroke-width="1.7"/>
<line x1="597.28" y1="450.3" x2="597.28" y2="654.6" stroke="#b5834c" stroke-width="1.7" stroke-dasharray="4.6 3.8" stroke-dashoffset="4.2"/>
<line x1="595.08" y1="654.6" x2="599.48" y2="654.6" stroke="#b5834c" stroke-width="1.7"/>
<line x1="629.36" y1="439.7" x2="629.36" y2="413.65" stroke="#b5834c" stroke-width="1.7" stroke-dasharray="4.6 3.8" stroke-dashoffset="4.2"/>
<line x1="627.16" y1="413.65" x2="631.56" y2="413.65" stroke="#b5834c" stroke-width="1.7"/>
<line x1="629.36" y1="450.3" x2="629.36" y2="654.6" stroke="#b5834c" stroke-width="1.7" stroke-dasharray="4.6 3.8" stroke-dashoffset="4.2"/>
<line x1="627.16" y1="654.6" x2="631.56" y2="654.6" stroke="#b5834c" stroke-width="1.7"/>
<line x1="637.38" y1="408.35" x2="637.38" y2="389.46" stroke="#b5834c" stroke-width="1.7" stroke-dasharray="4.6 3.8" stroke-dashoffset="4.2"/>
<line x1="635.18" y1="389.46" x2="639.58" y2="389.46" stroke="#b5834c" stroke-width="1.7"/>
<line x1="637.38" y1="418.95" x2="637.38" y2="469.19" stroke="#b5834c" stroke-width="1.7" stroke-dasharray="4.6 3.8" stroke-dashoffset="4.2"/>
<line x1="635.18" y1="469.19" x2="639.58" y2="469.19" stroke="#b5834c" stroke-width="1.7"/>
<line x1="645.4" y1="439.7" x2="645.4" y2="413.65" stroke="#b5834c" stroke-width="1.7" stroke-dasharray="4.6 3.8" stroke-dashoffset="4.2"/>
<line x1="643.2" y1="413.65" x2="647.6" y2="413.65" stroke="#b5834c" stroke-width="1.7"/>
<line x1="645.4" y1="450.3" x2="645.4" y2="654.6" stroke="#b5834c" stroke-width="1.7" stroke-dasharray="4.6 3.8" stroke-dashoffset="4.2"/>
<line x1="643.2" y1="654.6" x2="647.6" y2="654.6" stroke="#b5834c" stroke-width="1.7"/>
<line x1="653.42" y1="439.7" x2="653.42" y2="413.65" stroke="#b5834c" stroke-width="1.7" stroke-dasharray="4.6 3.8" stroke-dashoffset="4.2"/>
<line x1="651.22" y1="413.65" x2="655.62" y2="413.65" stroke="#b5834c" stroke-width="1.7"/>
<line x1="653.42" y1="450.3" x2="653.42" y2="654.6" stroke="#b5834c" stroke-width="1.7" stroke-dasharray="4.6 3.8" stroke-dashoffset="4.2"/>
<line x1="651.22" y1="654.6" x2="655.62" y2="654.6" stroke="#b5834c" stroke-width="1.7"/>
<line x1="661.45" y1="408.35" x2="661.45" y2="389.46" stroke="#b5834c" stroke-width="1.7" stroke-dasharray="4.6 3.8" stroke-dashoffset="4.2"/>
<line x1="659.25" y1="389.46" x2="663.65" y2="389.46" stroke="#b5834c" stroke-width="1.7"/>
<line x1="661.45" y1="418.95" x2="661.45" y2="469.19" stroke="#b5834c" stroke-width="1.7" stroke-dasharray="4.6 3.8" stroke-dashoffset="4.2"/>
<line x1="659.25" y1="469.19" x2="663.65" y2="469.19" stroke="#b5834c" stroke-width="1.7"/>
<line x1="669.47" y1="408.35" x2="669.47" y2="389.46" stroke="#b5834c" stroke-width="1.7" stroke-dasharray="4.6 3.8" stroke-dashoffset="4.2"/>
<line x1="667.27" y1="389.46" x2="671.67" y2="389.46" stroke="#b5834c" stroke-width="1.7"/>
<line x1="669.47" y1="418.95" x2="669.47" y2="469.19" stroke="#b5834c" stroke-width="1.7" stroke-dasharray="4.6 3.8" stroke-dashoffset="4.2"/>
<line x1="667.27" y1="469.19" x2="671.67" y2="469.19" stroke="#b5834c" stroke-width="1.7"/>
<line x1="685.51" y1="439.7" x2="685.51" y2="413.65" stroke="#b5834c" stroke-width="1.7" stroke-dasharray="4.6 3.8" stroke-dashoffset="4.2"/>
<line x1="683.31" y1="413.65" x2="687.71" y2="413.65" stroke="#b5834c" stroke-width="1.7"/>
<line x1="685.51" y1="450.3" x2="685.51" y2="654.6" stroke="#b5834c" stroke-width="1.7" stroke-dasharray="4.6 3.8" stroke-dashoffset="4.2"/>
<line x1="683.31" y1="654.6" x2="687.71" y2="654.6" stroke="#b5834c" stroke-width="1.7"/>
</g>
<g clip-path="url(#cm)">
<polygon points="108.01,320.33 102.71,330.93 113.31,330.93" fill="#b5834c"/>
<polygon points="116.03,267.52 110.73,278.12 121.33,278.12" fill="#b5834c"/>
<polygon points="124.05,247.53 118.75,258.13 129.35,258.13" fill="#b5834c"/>
<polygon points="132.07,232.78 126.77,243.38 137.37,243.38" fill="#b5834c"/>
<polygon points="140.09,226.27 134.79,236.87 145.39,236.87" fill="#b5834c"/>
<polygon points="148.11,225.08 142.81,235.68 153.41,235.68" fill="#b5834c"/>
<polygon points="156.14,215.54 150.84,226.14 161.44,226.14" fill="#b5834c"/>
<polygon points="164.16,208.75 158.86,219.35 169.46,219.35" fill="#b5834c"/>
<polygon points="172.18,206.09 166.88,216.69 177.48,216.69" fill="#b5834c"/>
<polygon points="180.2,206.35 174.9,216.95 185.5,216.95" fill="#b5834c"/>
<polygon points="188.22,193.73 182.92,204.33 193.52,204.33" fill="#b5834c"/>
<polygon points="196.24,196.36 190.94,206.96 201.54,206.96" fill="#b5834c"/>
<polygon points="204.26,196.99 198.96,207.59 209.56,207.59" fill="#b5834c"/>
<polygon points="212.28,195.33 206.98,205.93 217.58,205.93" fill="#b5834c"/>
<polygon points="220.3,197.63 215,208.23 225.6,208.23" fill="#b5834c"/>
<polygon points="228.32,194.52 223.02,205.12 233.62,205.12" fill="#b5834c"/>
<polygon points="236.34,197.63 231.04,208.23 241.64,208.23" fill="#b5834c"/>
<polygon points="244.36,193.92 239.06,204.52 249.66,204.52" fill="#b5834c"/>
<polygon points="252.38,200.73 247.08,211.33 257.68,211.33" fill="#b5834c"/>
<polygon points="260.41,212.46 255.11,223.06 265.71,223.06" fill="#b5834c"/>
<polygon points="268.43,210.71 263.13,221.31 273.73,221.31" fill="#b5834c"/>
<polygon points="276.45,205.57 271.15,216.17 281.75,216.17" fill="#b5834c"/>
<polygon points="284.47,213.06 279.17,223.66 289.77,223.66" fill="#b5834c"/>
<polygon points="292.49,217.16 287.19,227.76 297.79,227.76" fill="#b5834c"/>
<polygon points="300.51,217.49 295.21,228.09 305.81,228.09" fill="#b5834c"/>
<polygon points="308.53,219.53 303.23,230.13 313.83,230.13" fill="#b5834c"/>
<polygon points="316.55,224.69 311.25,235.29 321.85,235.29" fill="#b5834c"/>
<polygon points="324.57,227.5 319.27,238.1 329.87,238.1" fill="#b5834c"/>
<polygon points="332.59,233.25 327.29,243.85 337.89,243.85" fill="#b5834c"/>
<polygon points="340.61,233.25 335.31,243.85 345.91,243.85" fill="#b5834c"/>
<polygon points="348.63,236.67 343.33,247.27 353.93,247.27" fill="#b5834c"/>
<polygon points="356.66,250.19 351.36,260.79 361.96,260.79" fill="#b5834c"/>
<polygon points="364.68,250.19 359.38,260.79 369.98,260.79" fill="#b5834c"/>
<polygon points="372.7,244.41 367.4,255.01 378,255.01" fill="#b5834c"/>
<polygon points="380.72,257.63 375.42,268.23 386.02,268.23" fill="#b5834c"/>
<polygon points="388.74,256.83 383.44,267.43 394.04,267.43" fill="#b5834c"/>
<polygon points="396.76,259.27 391.46,269.87 402.06,269.87" fill="#b5834c"/>
<polygon points="404.78,260.12 399.48,270.72 410.08,270.72" fill="#b5834c"/>
<polygon points="412.8,267.52 407.5,278.12 418.1,278.12" fill="#b5834c"/>
<polygon points="420.82,288.98 415.52,299.58 426.12,299.58" fill="#b5834c"/>
<polygon points="428.84,277.61 423.54,288.21 434.14,288.21" fill="#b5834c"/>
<polygon points="436.86,290.62 431.56,301.22 442.16,301.22" fill="#b5834c"/>
<polygon points="444.88,323.68 439.58,334.28 450.18,334.28" fill="#b5834c"/>
<polygon points="452.9,297.88 447.6,308.48 458.2,308.48" fill="#b5834c"/>
<polygon points="460.93,340.32 455.63,350.92 466.23,350.92" fill="#b5834c"/>
<polygon points="468.95,331.24 463.65,341.84 474.25,341.84" fill="#b5834c"/>
<polygon points="476.97,311.55 471.67,322.15 482.27,322.15" fill="#b5834c"/>
<polygon points="484.99,323.68 479.69,334.28 490.29,334.28" fill="#b5834c"/>
<polygon points="493.01,351.68 487.71,362.28 498.31,362.28" fill="#b5834c"/>
<polygon points="501.03,320.33 495.73,330.93 506.33,330.93" fill="#b5834c"/>
<polygon points="509.05,377 503.75,387.6 514.35,387.6" fill="#b5834c"/>
<polygon points="517.07,331.24 511.77,341.84 522.37,341.84" fill="#b5834c"/>
<polygon points="525.09,358.66 519.79,369.26 530.39,369.26" fill="#b5834c"/>
<polygon points="533.11,358.66 527.81,369.26 538.41,369.26" fill="#b5834c"/>
<polygon points="541.13,335.55 535.83,346.15 546.43,346.15" fill="#b5834c"/>
<polygon points="549.15,390.01 543.85,400.61 554.45,400.61" fill="#b5834c"/>
<polygon points="557.18,390.01 551.88,400.61 562.48,400.61" fill="#b5834c"/>
<polygon points="565.2,366.9 559.9,377.5 570.5,377.5" fill="#b5834c"/>
<polygon points="573.22,377 567.92,387.6 578.52,387.6" fill="#b5834c"/>
<polygon points="581.24,390.01 575.94,400.61 586.54,400.61" fill="#b5834c"/>
<polygon points="589.26,439.7 583.96,450.3 594.56,450.3" fill="#b5834c"/>
<polygon points="597.28,439.7 591.98,450.3 602.58,450.3" fill="#b5834c"/>
<polygon points="629.36,439.7 624.06,450.3 634.66,450.3" fill="#b5834c"/>
<polygon points="637.38,408.35 632.08,418.95 642.68,418.95" fill="#b5834c"/>
<polygon points="645.4,439.7 640.1,450.3 650.7,450.3" fill="#b5834c"/>
<polygon points="653.42,439.7 648.12,450.3 658.72,450.3" fill="#b5834c"/>
<polygon points="661.45,408.35 656.15,418.95 666.75,418.95" fill="#b5834c"/>
<polygon points="669.47,408.35 664.17,418.95 674.77,418.95" fill="#b5834c"/>
<polygon points="685.51,439.7 680.21,450.3 690.81,450.3" fill="#b5834c"/>
</g>
<g clip-path="url(#cm)">
<polyline points="108.01,328.28 116.03,276.33 124.05,256.9 132.07,254.79 140.09,242.3 148.11,224.48 156.14,213.35 164.16,212.27 172.18,203.31 180.2,208.42 188.22,207.69 196.24,204.42 204.26,196.21 212.28,198.72 220.3,202.23 228.32,207.45 236.34,204.2 244.36,209.92 252.38,205.56 260.41,214.74 268.43,207.93 276.45,208.91 284.47,219.82 292.49,214.18 300.51,217.36 308.53,222.76 316.55,224.48 324.57,223.44 332.59,231.69 340.61,252.13 348.63,242.82 356.66,246.66 364.68,249.62 372.7,263.87 380.72,260.64 388.74,262.23 396.76,272.12 404.78,286.15 412.8,287.54 420.82,283.49 428.84,304.49 436.86,313.56 444.88,302.48 452.9,298.7 460.93,311.12 468.95,321.81 476.97,356.28 484.99,356.28 493.01,344.92 501.03,350.24 509.05,371.5 517.07,363.26 525.09,324.93 533.11,381.6 541.13,412.95 549.15,381.6 557.18,444.3 565.2,363.26 573.22,371.5 581.24,381.6 589.26,444.3 597.28,394.61 621.34,412.95 645.4,444.3 653.42,444.3 693.53,444.3" fill="none" stroke="#e6194b" stroke-width="1.7" stroke-dasharray="4.5 5.2 1.6 5.3"/>
<line x1="108.01" y1="322.98" x2="108.01" y2="317.21" stroke="#e6194b" stroke-width="1.7" stroke-dasharray="4.5 5.2 1.6 5.3" stroke-dashoffset="7"/>
<line x1="105.81" y1="317.21" x2="110.21" y2="317.21" stroke="#e6194b" stroke-width="1.7"/>
<line x1="108.01" y1="333.58" x2="108.01" y2="342.98" stroke="#e6194b" stroke-width="1.7" stroke-dasharray="4.5 5.2 1.6 5.3" stroke-dashoffset="7"/>
<line x1="105.81" y1="342.98" x2="110.21" y2="342.98" stroke="#e6194b" stroke-width="1.7"/>
<line x1="116.03" y1="271.03" x2="116.03" y2="269.76" stroke="#e6194b" stroke-width="1.7" stroke-dasharray="4.5 5.2 1.6 5.3" stroke-dashoffset="7"/>
<line x1="113.83" y1="269.76" x2="118.23" y2="269.76" stroke="#e6194b" stroke-width="1.7"/>
<line x1="116.03" y1="281.63" x2="116.03" y2="284.01" stroke="#e6194b" stroke-width="1.7" stroke-dasharray="4.5 5.2 1.6 5.3" stroke-dashoffset="7"/>
<line x1="113.83" y1="284.01" x2="118.23" y2="284.01" stroke="#e6194b" stroke-width="1.7"/>
<line x1="124.05" y1="251.6" x2="124.05" y2="251.53" stroke="#e6194b" stroke-width="1.7" stroke-dasharray="4.5 5.2 1.6 5.3" stroke-dashoffset="7"/>
<line x1="121.85" y1="251.53" x2="126.25" y2="251.53" stroke="#e6194b" stroke-width="1.7"/>
<line x1="124.05" y1="262.2" x2="124.05" y2="262.99" stroke="#e6194b" stroke-width="1.7" stroke-dasharray="4.5 5.2 1.6 5.3" stroke-dashoffset="7"/>
<line x1="121.85" y1="262.99" x2="126.25" y2="262.99" stroke="#e6194b" stroke-width="1.7"/>
<line x1="132.07" y1="260.09" x2="132.07" y2="260.74" stroke="#e6194b" stroke-width="1.7" stroke-dasharray="4.5 5.2 1.6 5.3" stroke-dashoffset="7"/>
<line x1="129.87" y1="260.74" x2="134.27" y2="260.74" stroke="#e6194b" stroke-width="1.7"/>
<line x1="340.61" y1="257.43" x2="340.61" y2="257.89" stroke="#e6194b" stroke-width="1.7" stroke-dasharray="4.5 5.2 1.6 5.3" stroke-dashoffset="7"/>
<line x1="338.41" y1="257.89" x2="342.81" y2="257.89" stroke="#e6194b" stroke-width="1.7"/>
<line x1="356.66" y1="251.96" x2="356.66" y2="252.06" stroke="#e6194b" stroke-width="1.7" stroke-dasharray="4.5 5.2 1.6 5.3" stroke-dashoffset="7"/>
<line x1="354.46" y1="252.06" x2="358.86" y2="252.06" stroke="#e6194b" stroke-width="1.7"/>
<line x1="364.68" y1="254.92" x2="364.68" y2="255.21" stroke="#e6194b" stroke-width="1.7" stroke-dasharray="4.5 5.2 1.6 5.3" stroke-dashoffset="7"/>
<line x1="362.48" y1="255.21" x2="366.88" y2="255.21" stroke="#e6194b" stroke-width="1.7"/>
<line x1="372.7" y1="258.57" x2="372.7" y2="258.1" stroke="#e6194b" stroke-width="1.7" stroke-dasharray="4.5 5.2 1.6 5.3" stroke-dashoffset="7"/>
<line x1="370.5" y1="258.1" x2="374.9" y2="258.1" stroke="#e6194b" stroke-width="1.7"/>
<line x1="372.7" y1="269.17" x2="372.7" y2="270.49" stroke="#e6194b" stroke-width="1.7" stroke-dasharray="4.5 5.2 1.6 5.3" stroke-dashoffset="7"/>
<line x1="370.5" y1="270.49" x2="374.9" y2="270.49" stroke="#e6194b" stroke-width="1.7"/>
<line x1="380.72" y1="255.34" x2="380.72" y2="255.06" stroke="#e6194b" stroke-width="1.7" stroke-dasharray="4.5 5.2 1.6 5.3" stroke-dashoffset="7"/>
<line x1="378.52" y1="255.06" x2="382.92" y2="255.06" stroke="#e6194b" stroke-width="1.7"/>
<line x1="380.72" y1="265.94" x2="380.72" y2="267.01" stroke="#e6194b" stroke-width="1.7" stroke-dasharray="4.5 5.2 1.6 5.3" stroke-dashoffset="7"/>
<line x1="378.52" y1="267.01" x2="382.92" y2="267.01" stroke="#e6194b" stroke-width="1.7"/>
<line x1="388.74" y1="256.93" x2="388.74" y2="256.55" stroke="#e6194b" stroke-width="1.7" stroke-dasharray="4.5 5.2 1.6 5.3" stroke-dashoffset="7"/>
<line x1="386.54" y1="256.55" x2="390.94" y2="256.55" stroke="#e6194b" stroke-width="1.7"/>
<line x1="388.74" y1="267.53" x2="388.74" y2="268.71" stroke="#e6194b" stroke-width="1.7" stroke-dasharray="4.5 5.2 1.6 5.3" stroke-dashoffset="7"/>
<line x1="386.54" y1="268.71" x2="390.94" y2="268.71" stroke="#e6194b" stroke-width="1.7"/>
<line x1="396.76" y1="266.82" x2="396.76" y2="265.83" stroke="#e6194b" stroke-width="1.7" stroke-dasharray="4.5 5.2 1.6 5.3" stroke-dashoffset="7"/>
<line x1="394.56" y1="265.83" x2="398.96" y2="265.83" stroke="#e6194b" stroke-width="1.7"/>
<line x1="396.76" y1="277.42" x2="396.76" y2="279.42" stroke="#e6194b" stroke-width="1.7" stroke-dasharray="4.5 5.2 1.6 5.3" stroke-dashoffset="7"/>
<line x1="394.56" y1="279.42" x2="398.96" y2="279.42" stroke="#e6194b" stroke-width="1.7"/>
<line x1="404.78" y1="280.85" x2="404.78" y2="278.89" stroke="#e6194b" stroke-width="1.7" stroke-dasharray="4.5 5.2 1.6 5.3" stroke-dashoffset="7"/>
<line x1="402.58" y1="278.89" x2="406.98" y2="278.89" stroke="#e6194b" stroke-width="1.7"/>
<line x1="404.78" y1="291.45" x2="404.78" y2="294.8" stroke="#e6194b" stroke-width="1.7" stroke-dasharray="4.5 5.2 1.6 5.3" stroke-dashoffset="7"/>
<line x1="402.58" y1="294.8" x2="406.98" y2="294.8" stroke="#e6194b" stroke-width="1.7"/>
<line x1="412.8" y1="282.24" x2="412.8" y2="280.18" stroke="#e6194b" stroke-width="1.7" stroke-dasharray="4.5 5.2 1.6 5.3" stroke-dashoffset="7"/>
<line x1="410.6" y1="280.18" x2="415" y2="280.18" stroke="#e6194b" stroke-width="1.7"/>
<line x1="412.8" y1="292.84" x2="412.8" y2="296.34" stroke="#e6194b" stroke-width="1.7" stroke-dasharray="4.5 5.2 1.6 5.3" stroke-dashoffset="7"/>
<line x1="410.6" y1="296.34" x2="415" y2="296.34" stroke="#e6194b" stroke-width="1.7"/>
<line x1="420.82" y1="278.19" x2="420.82" y2="276.42" stroke="#e6194b" stroke-width="1.7" stroke-dasharray="4.5 5.2 1.6 5.3" stroke-dashoffset="7"/>
<line x1="418.62" y1="276.42" x2="423.02" y2="276.42" stroke="#e6194b" stroke-width="1.7"/>
<line x1="420.82" y1="288.79" x2="420.82" y2="291.86" stroke="#e6194b" stroke-width="1.7" stroke-dasharray="4.5 5.2 1.6 5.3" stroke-dashoffset="7"/>
<line x1="418.62" y1="291.86" x2="423.02" y2="291.86" stroke="#e6194b" stroke-width="1.7"/>
<line x1="428.84" y1="299.19" x2="428.84" y2="295.75" stroke="#e6194b" stroke-width="1.7" stroke-dasharray="4.5 5.2 1.6 5.3" stroke-dashoffset="7"/>
<line x1="426.64" y1="295.75" x2="431.04" y2="295.75" stroke="#e6194b" stroke-width="1.7"/>
<line x1="428.84" y1="309.79" x2="428.84" y2="315.33" stroke="#e6194b" stroke-width="1.7" stroke-dasharray="4.5 5.2 1.6 5.3" stroke-dashoffset="7"/>
<line x1="426.64" y1="315.33" x2="431.04" y2="315.33" stroke="#e6194b" stroke-width="1.7"/>
<line x1="436.86" y1="308.26" x2="436.86" y2="303.99" stroke="#e6194b" stroke-width="1.7" stroke-dasharray="4.5 5.2 1.6 5.3" stroke-dashoffset="7"/>
<line x1="434.66" y1="303.99" x2="439.06" y2="303.99" stroke="#e6194b" stroke-width="1.7"/>
<line x1="436.86" y1="318.86" x2="436.86" y2="325.72" stroke="#e6194b" stroke-width="1.7" stroke-dasharray="4.5 5.2 1.6 5.3" stroke-dashoffset="7"/>
<line x1="434.66" y1="325.72" x2="439.06" y2="325.72" stroke="#e6194b" stroke-width="1.7"/>
<line x1="444.88" y1="297.18" x2="444.88" y2="293.91" stroke="#e6194b" stroke-width="1.7" stroke-dasharray="4.5 5.2 1.6 5.3" stroke-dashoffset="7"/>
<line x1="442.68" y1="293.91" x2="447.08" y2="293.91" stroke="#e6194b" stroke-width="1.7"/>
<line x1="444.88" y1="307.78" x2="444.88" y2="313.05" stroke="#e6194b" stroke-width="1.7" stroke-dasharray="4.5 5.2 1.6 5.3" stroke-dashoffset="7"/>
<line x1="442.68" y1="313.05" x2="447.08" y2="313.05" stroke="#e6194b" stroke-width="1.7"/>
<line x1="452.9" y1="293.4" x2="452.9" y2="290.46" stroke="#e6194b" stroke-width="1.7" stroke-dasharray="4.5 5.2 1.6 5.3" stroke-dashoffset="7"/>
<line x1="450.7" y1="290.46" x2="455.1" y2="290.46" stroke="#e6194b" stroke-width="1.7"/>
<line x1="452.9" y1="304" x2="452.9" y2="308.8" stroke="#e6194b" stroke-width="1.7" stroke-dasharray="4.5 5.2 1.6 5.3" stroke-dashoffset="7"/>
<line x1="450.7" y1="308.8" x2="455.1" y2="308.8" stroke="#e6194b" stroke-width="1.7"/>
<line x1="460.93" y1="305.82" x2="460.93" y2="301.78" stroke="#e6194b" stroke-width="1.7" stroke-dasharray="4.5 5.2 1.6 5.3" stroke-dashoffset="7"/>
<line x1="458.73" y1="301.78" x2="463.13" y2="301.78" stroke="#e6194b" stroke-width="1.7"/>
<line x1="460.93" y1="316.42" x2="460.93" y2="322.91" stroke="#e6194b" stroke-width="1.7" stroke-dasharray="4.5 5.2 1.6 5.3" stroke-dashoffset="7"/>
<line x1="458.73" y1="322.91" x2="463.13" y2="322.91" stroke="#e6194b" stroke-width="1.7"/>
<line x1="468.95" y1="316.51" x2="468.95" y2="311.42" stroke="#e6194b" stroke-width="1.7" stroke-dasharray="4.5 5.2 1.6 5.3" stroke-dashoffset="7"/>
<line x1="466.75" y1="311.42" x2="471.15" y2="311.42" stroke="#e6194b" stroke-width="1.7"/>
<line x1="468.95" y1="327.11" x2="468.95" y2="335.32" stroke="#e6194b" stroke-width="1.7" stroke-dasharray="4.5 5.2 1.6 5.3" stroke-dashoffset="7"/>
<line x1="466.75" y1="335.32" x2="471.15" y2="335.32" stroke="#e6194b" stroke-width="1.7"/>
<line x1="476.97" y1="350.98" x2="476.97" y2="341.78" stroke="#e6194b" stroke-width="1.7" stroke-dasharray="4.5 5.2 1.6 5.3" stroke-dashoffset="7"/>
<line x1="474.77" y1="341.78" x2="479.17" y2="341.78" stroke="#e6194b" stroke-width="1.7"/>
<line x1="476.97" y1="361.58" x2="476.97" y2="377.76" stroke="#e6194b" stroke-width="1.7" stroke-dasharray="4.5 5.2 1.6 5.3" stroke-dashoffset="7"/>
<line x1="474.77" y1="377.76" x2="479.17" y2="377.76" stroke="#e6194b" stroke-width="1.7"/>
<line x1="484.99" y1="350.98" x2="484.99" y2="341.78" stroke="#e6194b" stroke-width="1.7" stroke-dasharray="4.5 5.2 1.6 5.3" stroke-dashoffset="7"/>
<line x1="482.79" y1="341.78" x2="487.19" y2="341.78" stroke="#e6194b" stroke-width="1.7"/>
<line x1="484.99" y1="361.58" x2="484.99" y2="377.76" stroke="#e6194b" stroke-width="1.7" stroke-dasharray="4.5 5.2 1.6 5.3" stroke-dashoffset="7"/>
<line x1="482.79" y1="377.76" x2="487.19" y2="377.76" stroke="#e6194b" stroke-width="1.7"/>
<line x1="493.01" y1="339.62" x2="493.01" y2="331.9" stroke="#e6194b" stroke-width="1.7" stroke-dasharray="4.5 5.2 1.6 5.3" stroke-dashoffset="7"/>
<line x1="490.81" y1="331.9" x2="495.21" y2="331.9" stroke="#e6194b" stroke-width="1.7"/>
<line x1="493.01" y1="350.22" x2="493.01" y2="363.26" stroke="#e6194b" stroke-width="1.7" stroke-dasharray="4.5 5.2 1.6 5.3" stroke-dashoffset="7"/>
<line x1="490.81" y1="363.26" x2="495.21" y2="363.26" stroke="#e6194b" stroke-width="1.7"/>
<line x1="501.03" y1="344.94" x2="501.03" y2="336.55" stroke="#e6194b" stroke-width="1.7" stroke-dasharray="4.5 5.2 1.6 5.3" stroke-dashoffset="7"/>
<line x1="498.83" y1="336.55" x2="503.23" y2="336.55" stroke="#e6194b" stroke-width="1.7"/>
<line x1="501.03" y1="355.54" x2="501.03" y2="369.98" stroke="#e6194b" stroke-width="1.7" stroke-dasharray="4.5 5.2 1.6 5.3" stroke-dashoffset="7"/>
<line x1="498.83" y1="369.98" x2="503.23" y2="369.98" stroke="#e6194b" stroke-width="1.7"/>
<line x1="509.05" y1="366.2" x2="509.05" y2="354.78" stroke="#e6194b" stroke-width="1.7" stroke-dasharray="4.5 5.2 1.6 5.3" stroke-dashoffset="7"/>
<line x1="506.85" y1="354.78" x2="511.25" y2="354.78" stroke="#e6194b" stroke-width="1.7"/>
<line x1="509.05" y1="376.8" x2="509.05" y2="398.31" stroke="#e6194b" stroke-width="1.7" stroke-dasharray="4.5 5.2 1.6 5.3" stroke-dashoffset="7"/>
<line x1="506.85" y1="398.31" x2="511.25" y2="398.31" stroke="#e6194b" stroke-width="1.7"/>
<line x1="517.07" y1="357.96" x2="517.07" y2="347.77" stroke="#e6194b" stroke-width="1.7" stroke-dasharray="4.5 5.2 1.6 5.3" stroke-dashoffset="7"/>
<line x1="514.87" y1="347.77" x2="519.27" y2="347.77" stroke="#e6194b" stroke-width="1.7"/>
<line x1="517.07" y1="368.56" x2="517.07" y2="386.99" stroke="#e6194b" stroke-width="1.7" stroke-dasharray="4.5 5.2 1.6 5.3" stroke-dashoffset="7"/>
<line x1="514.87" y1="386.99" x2="519.27" y2="386.99" stroke="#e6194b" stroke-width="1.7"/>
<line x1="525.09" y1="319.63" x2="525.09" y2="314.22" stroke="#e6194b" stroke-width="1.7" stroke-dasharray="4.5 5.2 1.6 5.3" stroke-dashoffset="7"/>
<line x1="522.89" y1="314.22" x2="527.29" y2="314.22" stroke="#e6194b" stroke-width="1.7"/>
<line x1="525.09" y1="330.23" x2="525.09" y2="339" stroke="#e6194b" stroke-width="1.7" stroke-dasharray="4.5 5.2 1.6 5.3" stroke-dashoffset="7"/>
<line x1="522.89" y1="339" x2="527.29" y2="339" stroke="#e6194b" stroke-width="1.7"/>
<line x1="533.11" y1="376.3" x2="533.11" y2="363.26" stroke="#e6194b" stroke-width="1.7" stroke-dasharray="4.5 5.2 1.6 5.3" stroke-dashoffset="7"/>
<line x1="530.91" y1="363.26" x2="535.31" y2="363.26" stroke="#e6194b" stroke-width="1.7"/>
<line x1="533.11" y1="386.9" x2="533.11" y2="412.95" stroke="#e6194b" stroke-width="1.7" stroke-dasharray="4.5 5.2 1.6 5.3" stroke-dashoffset="7"/>
<line x1="530.91" y1="412.95" x2="535.31" y2="412.95" stroke="#e6194b" stroke-width="1.7"/>
<line x1="541.13" y1="407.65" x2="541.13" y2="388.76" stroke="#e6194b" stroke-width="1.7" stroke-dasharray="4.5 5.2 1.6 5.3" stroke-dashoffset="7"/>
<line x1="538.93" y1="388.76" x2="543.33" y2="388.76" stroke="#e6194b" stroke-width="1.7"/>
<line x1="541.13" y1="418.25" x2="541.13" y2="468.49" stroke="#e6194b" stroke-width="1.7" stroke-dasharray="4.5 5.2 1.6 5.3" stroke-dashoffset="7"/>
<line x1="538.93" y1="468.49" x2="543.33" y2="468.49" stroke="#e6194b" stroke-width="1.7"/>
<line x1="549.15" y1="376.3" x2="549.15" y2="363.26" stroke="#e6194b" stroke-width="1.7" stroke-dasharray="4.5 5.2 1.6 5.3" stroke-dashoffset="7"/>
<line x1="546.95" y1="363.26" x2="551.35" y2="363.26" stroke="#e6194b" stroke-width="1.7"/>
<line x1="549.15" y1="386.9" x2="549.15" y2="412.95" stroke="#e6194b" stroke-width="1.7" stroke-dasharray="4.5 5.2 1.6 5.3" stroke-dashoffset="7"/>
<line x1="546.95" y1="412.95" x2="551.35" y2="412.95" stroke="#e6194b" stroke-width="1.7"/>
<line x1="557.18" y1="439" x2="557.18" y2="412.95" stroke="#e6194b" stroke-width="1.7" stroke-dasharray="4.5 5.2 1.6 5.3" stroke-dashoffset="7"/>
<line x1="554.98" y1="412.95" x2="559.38" y2="412.95" stroke="#e6194b" stroke-width="1.7"/>
<line x1="557.18" y1="449.6" x2="557.18" y2="654.6" stroke="#e6194b" stroke-width="1.7" stroke-dasharray="4.5 5.2 1.6 5.3" stroke-dashoffset="7"/>
<line x1="554.98" y1="654.6" x2="559.38" y2="654.6" stroke="#e6194b" stroke-width="1.7"/>
<line x1="565.2" y1="357.96" x2="565.2" y2="347.77" stroke="#e6194b" stroke-width="1.7" stroke-dasharray="4.5 5.2 1.6 5.3" stroke-dashoffset="7"/>
<line x1="563" y1="347.77" x2="567.4" y2="347.77" stroke="#e6194b" stroke-width="1.7"/>
<line x1="565.2" y1="368.56" x2="565.2" y2="386.99" stroke="#e6194b" stroke-width="1.7" stroke-dasharray="4.5 5.2 1.6 5.3" stroke-dashoffset="7"/>
<line x1="563" y1="386.99" x2="567.4" y2="386.99" stroke="#e6194b" stroke-width="1.7"/>
<line x1="573.22" y1="366.2" x2="573.22" y2="354.78" stroke="#e6194b" stroke-width="1.7" stroke-dasharray="4.5 5.2 1.6 5.3" stroke-dashoffset="7"/>
<line x1="571.02" y1="354.78" x2="575.42" y2="354.78" stroke="#e6194b" stroke-width="1.7"/>
<line x1="573.22" y1="376.8" x2="573.22" y2="398.31" stroke="#e6194b" stroke-width="1.7" stroke-dasharray="4.5 5.2 1.6 5.3" stroke-dashoffset="7"/>
<line x1="571.02" y1="398.31" x2="575.42" y2="398.31" stroke="#e6194b" stroke-width="1.7"/>
<line x1="581.24" y1="376.3" x2="581.24" y2="363.26" stroke="#e6194b" stroke-width="1.7" stroke-dasharray="4.5 5.2 1.6 5.3" stroke-dashoffset="7"/>
<line x1="579.04" y1="363.26" x2="583.44" y2="363.26" stroke="#e6194b" stroke-width="1.7"/>
<line x1="581.24" y1="386.9" x2="581.24" y2="412.95" stroke="#e6194b" stroke-width="1.7" stroke-dasharray="4.5 5.2 1.6 5.3" stroke-dashoffset="7"/>
<line x1="579.04" y1="412.95" x2="583.44" y2="412.95" stroke="#e6194b" stroke-width="1.7"/>
<line x1="589.26" y1="439" x2="589.26" y2="412.95" stroke="#e6194b" stroke-width="1.7" stroke-dasharray="4.5 5.2 1.6 5.3" stroke-dashoffset="7"/>
<line x1="587.06" y1="412.95" x2="591.46" y2="412.95" stroke="#e6194b" stroke-width="1.7"/>
<line x1="589.26" y1="449.6" x2="589.26" y2="654.6" stroke="#e6194b" stroke-width="1.7" stroke-dasharray="4.5 5.2 1.6 5.3" stroke-dashoffset="7"/>
<line x1="587.06" y1="654.6" x2="591.46" y2="654.6" stroke="#e6194b" stroke-width="1.7"/>
<line x1="597.28" y1="389.31" x2="597.28" y2="373.99" stroke="#e6194b" stroke-width="1.7" stroke-dasharray="4.5 5.2 1.6 5.3" stroke-dashoffset="7"/>
<line x1="595.08" y1="373.99" x2="599.48" y2="373.99" stroke="#e6194b" stroke-width="1.7"/>
<line x1="597.28" y1="399.91" x2="597.28" y2="433.56" stroke="#e6194b" stroke-width="1.7" stroke-dasharray="4.5 5.2 1.6 5.3" stroke-dashoffset="7"/>
<line x1="595.08" y1="433.56" x2="599.48" y2="433.56" stroke="#e6194b" stroke-width="1.7"/>
<line x1="621.34" y1="407.65" x2="621.34" y2="388.76" stroke="#e6194b" stroke-width="1.7" stroke-dasharray="4.5 5.2 1.6 5.3" stroke-dashoffset="7"/>
<line x1="619.14" y1="388.76" x2="623.54" y2="388.76" stroke="#e6194b" stroke-width="1.7"/>
<line x1="621.34" y1="418.25" x2="621.34" y2="468.49" stroke="#e6194b" stroke-width="1.7" stroke-dasharray="4.5 5.2 1.6 5.3" stroke-dashoffset="7"/>
<line x1="619.14" y1="468.49" x2="623.54" y2="468.49" stroke="#e6194b" stroke-width="1.7"/>
<line x1="645.4" y1="439" x2="645.4" y2="412.95" stroke="#e6194b" stroke-width="1.7" stroke-dasharray="4.5 5.2 1.6 5.3" stroke-dashoffset="7"/>
<line x1="643.2" y1="412.95" x2="647.6" y2="412.95" stroke="#e6194b" stroke-width="1.7"/>
<line x1="645.4" y1="449.6" x2="645.4" y2="654.6" stroke="#e6194b" stroke-width="1.7" stroke-dasharray="4.5 5.2 1.6 5.3" stroke-dashoffset="7"/>
<line x1="643.2" y1="654.6" x2="647.6" y2="654.6" stroke="#e6194b" stroke-width="1.7"/>
<line x1="653.42" y1="439" x2="653.42" y2="412.95" stroke="#e6194b" stroke-width="1.7" stroke-dasharray="4.5 5.2 1.6 5.3" stroke-dashoffset="7"/>
<line x1="651.22" y1="412.95" x2="655.62" y2="412.95" stroke="#e6194b" stroke-width="1.7"/>
<line x1="653.42" y1="449.6" x2="653.42" y2="654.6" stroke="#e6194b" stroke-width="1.7" stroke-dasharray="4.5 5.2 1.6 5.3" stroke-dashoffset="7"/>
<line x1="651.22" y1="654.6" x2="655.62" y2="654.6" stroke="#e6194b" stroke-width="1.7"/>
<line x1="693.53" y1="439" x2="693.53" y2="412.95" stroke="#e6194b" stroke-width="1.7" stroke-dasharray="4.5 5.2 1.6 5.3" stroke-dashoffset="7"/>
<line x1="691.33" y1="412.95" x2="695.73" y2="412.95" stroke="#e6194b" stroke-width="1.7"/>
<line x1="693.53" y1="449.6" x2="693.53" y2="654.6" stroke="#e6194b" stroke-width="1.7" stroke-dasharray="4.5 5.2 1.6 5.3" stroke-dashoffset="7"/>
<line x1="691.33" y1="654.6" x2="695.73" y2="654.6" stroke="#e6194b" stroke-width="1.7"/>
</g>
<g clip-path="url(#cm)">
<polygon points="108.01,333.58 102.71,322.98 113.31,322.98" fill="#e6194b"/>
<polygon points="116.03,281.63 110.73,271.03 121.33,271.03" fill="#e6194b"/>
<polygon points="124.05,262.2 118.75,251.6 129.35,251.6" fill="#e6194b"/>
<polygon points="132.07,260.09 126.77,249.49 137.37,249.49" fill="#e6194b"/>
<polygon points="140.09,247.6 134.79,237 145.39,237" fill="#e6194b"/>
<polygon points="148.11,229.78 142.81,219.18 153.41,219.18" fill="#e6194b"/>
<polygon points="156.14,218.65 150.84,208.05 161.44,208.05" fill="#e6194b"/>
<polygon points="164.16,217.57 158.86,206.97 169.46,206.97" fill="#e6194b"/>
<polygon points="172.18,208.61 166.88,198.01 177.48,198.01" fill="#e6194b"/>
<polygon points="180.2,213.72 174.9,203.12 185.5,203.12" fill="#e6194b"/>
<polygon points="188.22,212.99 182.92,202.39 193.52,202.39" fill="#e6194b"/>
<polygon points="196.24,209.72 190.94,199.12 201.54,199.12" fill="#e6194b"/>
<polygon points="204.26,201.51 198.96,190.91 209.56,190.91" fill="#e6194b"/>
<polygon points="212.28,204.02 206.98,193.42 217.58,193.42" fill="#e6194b"/>
<polygon points="220.3,207.53 215,196.93 225.6,196.93" fill="#e6194b"/>
<polygon points="228.32,212.75 223.02,202.15 233.62,202.15" fill="#e6194b"/>
<polygon points="236.34,209.5 231.04,198.9 241.64,198.9" fill="#e6194b"/>
<polygon points="244.36,215.22 239.06,204.62 249.66,204.62" fill="#e6194b"/>
<polygon points="252.38,210.86 247.08,200.26 257.68,200.26" fill="#e6194b"/>
<polygon points="260.41,220.04 255.11,209.44 265.71,209.44" fill="#e6194b"/>
<polygon points="268.43,213.23 263.13,202.63 273.73,202.63" fill="#e6194b"/>
<polygon points="276.45,214.21 271.15,203.61 281.75,203.61" fill="#e6194b"/>
<polygon points="284.47,225.12 279.17,214.52 289.77,214.52" fill="#e6194b"/>
<polygon points="292.49,219.48 287.19,208.88 297.79,208.88" fill="#e6194b"/>
<polygon points="300.51,222.66 295.21,212.06 305.81,212.06" fill="#e6194b"/>
<polygon points="308.53,228.06 303.23,217.46 313.83,217.46" fill="#e6194b"/>
<polygon points="316.55,229.78 311.25,219.18 321.85,219.18" fill="#e6194b"/>
<polygon points="324.57,228.74 319.27,218.14 329.87,218.14" fill="#e6194b"/>
<polygon points="332.59,236.99 327.29,226.39 337.89,226.39" fill="#e6194b"/>
<polygon points="340.61,257.43 335.31,246.83 345.91,246.83" fill="#e6194b"/>
<polygon points="348.63,248.12 343.33,237.52 353.93,237.52" fill="#e6194b"/>
<polygon points="356.66,251.96 351.36,241.36 361.96,241.36" fill="#e6194b"/>
<polygon points="364.68,254.92 359.38,244.32 369.98,244.32" fill="#e6194b"/>
<polygon points="372.7,269.17 367.4,258.57 378,258.57" fill="#e6194b"/>
<polygon points="380.72,265.94 375.42,255.34 386.02,255.34" fill="#e6194b"/>
<polygon points="388.74,267.53 383.44,256.93 394.04,256.93" fill="#e6194b"/>
<polygon points="396.76,277.42 391.46,266.82 402.06,266.82" fill="#e6194b"/>
<polygon points="404.78,291.45 399.48,280.85 410.08,280.85" fill="#e6194b"/>
<polygon points="412.8,292.84 407.5,282.24 418.1,282.24" fill="#e6194b"/>
<polygon points="420.82,288.79 415.52,278.19 426.12,278.19" fill="#e6194b"/>
<polygon points="428.84,309.79 423.54,299.19 434.14,299.19" fill="#e6194b"/>
<polygon points="436.86,318.86 431.56,308.26 442.16,308.26" fill="#e6194b"/>
<polygon points="444.88,307.78 439.58,297.18 450.18,297.18" fill="#e6194b"/>
<polygon points="452.9,304 447.6,293.4 458.2,293.4" fill="#e6194b"/>
<polygon points="460.93,316.42 455.63,305.82 466.23,305.82" fill="#e6194b"/>
<polygon points="468.95,327.11 463.65,316.51 474.25,316.51" fill="#e6194b"/>
<polygon points="476.97,361.58 471.67,350.98 482.27,350.98" fill="#e6194b"/>
<polygon points="484.99,361.58 479.69,350.98 490.29,350.98" fill="#e6194b"/>
<polygon points="493.01,350.22 487.71,339.62 498.31,339.62" fill="#e6194b"/>
<polygon points="501.03,355.54 495.73,344.94 506.33,344.94" fill="#e6194b"/>
<polygon points="509.05,376.8 503.75,366.2 514.35,366.2" fill="#e6194b"/>
<polygon points="517.07,368.56 511.77,357.96 522.37,357.96" fill="#e6194b"/>
<polygon points="525.09,330.23 519.79,319.63 530.39,319.63" fill="#e6194b"/>
<polygon points="533.11,386.9 527.81,376.3 538.41,376.3" fill="#e6194b"/>
<polygon points="541.13,418.25 535.83,407.65 546.43,407.65" fill="#e6194b"/>
<polygon points="549.15,386.9 543.85,376.3 554.45,376.3" fill="#e6194b"/>
<polygon points="557.18,449.6 551.88,439 562.48,439" fill="#e6194b"/>
<polygon points="565.2,368.56 559.9,357.96 570.5,357.96" fill="#e6194b"/>
<polygon points="573.22,376.8 567.92,366.2 578.52,366.2" fill="#e6194b"/>
<polygon points="581.24,386.9 575.94,376.3 586.54,376.3" fill="#e6194b"/>
<polygon points="589.26,449.6 583.96,439 594.56,439" fill="#e6194b"/>
<polygon points="597.28,399.91 591.98,389.31 602.58,389.31" fill="#e6194b"/>
<polygon points="621.34,418.25 616.04,407.65 626.64,407.65" fill="#e6194b"/>
<polygon points="645.4,449.6 640.1,439 650.7,439" fill="#e6194b"/>
<polygon points="653.42,449.6 648.12,439 658.72,439" fill="#e6194b"/>
<polygon points="693.53,449.6 688.23,439 698.83,439" fill="#e6194b"/>
</g>
<g clip-path="url(#cr)">
<polyline points="108.01,830.15 116.03,794.58 124.05,773.85 132.07,799.28 140.09,767.23 148.11,788.92 156.14,807.57 164.16,768.11 172.18,788.33 180.2,750.31 188.22,767.88 196.24,774.54 204.26,780.65 212.28,792.12 220.3,788.51 228.32,767.11 236.34,780.47 244.36,787.96 252.38,744.45 260.41,770.33 268.43,771.17 276.45,761.63 284.47,759.79 292.49,790.45 300.51,715.5 308.53,765.86 316.55,759.48 324.57,791.63 332.59,759.2 340.61,780.16 348.63,795.96 356.66,795.9 364.68,707.81 372.7,797 380.72,833.32 388.74,783.27 396.76,749.04 404.78,865.65 412.8,803.13 420.82,771.17 428.84,755.92 436.86,733.47 444.88,771.17 452.9,753.63 460.93,846.68 468.95,712.19 476.97,817.16 484.99,706.72 493.01,924.63 501.03,985.8 509.05,906.7 517.07,771.17 525.09,771.17 533.11,860.71 541.13,771.17 549.15,604.6 557.18,732.06 565.2,720.75 573.22,963.75 605.3,771.17 613.32,649.67 645.4,649.67 653.42,892.67 717.59,771.17" fill="none" stroke="#9414cc" stroke-width="1.7" stroke-dasharray="1.6 2.55"/>
<line x1="108.01" y1="824.8" x2="108.01" y2="781.99" stroke="#9414cc" stroke-width="1.7" stroke-dasharray="1.6 2.55" stroke-dashoffset="0"/>
<line x1="105.81" y1="781.99" x2="110.21" y2="781.99" stroke="#9414cc" stroke-width="1.7"/>
<line x1="108.01" y1="835.5" x2="108.01" y2="896.78" stroke="#9414cc" stroke-width="1.7" stroke-dasharray="1.6 2.55" stroke-dashoffset="0"/>
<line x1="105.81" y1="896.78" x2="110.21" y2="896.78" stroke="#9414cc" stroke-width="1.7"/>
<line x1="116.03" y1="789.23" x2="116.03" y2="767.2" stroke="#9414cc" stroke-width="1.7" stroke-dasharray="1.6 2.55" stroke-dashoffset="0"/>
<line x1="113.83" y1="767.2" x2="118.23" y2="767.2" stroke="#9414cc" stroke-width="1.7"/>
<line x1="116.03" y1="799.93" x2="116.03" y2="827.04" stroke="#9414cc" stroke-width="1.7" stroke-dasharray="1.6 2.55" stroke-dashoffset="0"/>
<line x1="113.83" y1="827.04" x2="118.23" y2="827.04" stroke="#9414cc" stroke-width="1.7"/>
<line x1="124.05" y1="768.5" x2="124.05" y2="753.35" stroke="#9414cc" stroke-width="1.7" stroke-dasharray="1.6 2.55" stroke-dashoffset="0"/>
<line x1="121.85" y1="753.35" x2="126.25" y2="753.35" stroke="#9414cc" stroke-width="1.7"/>
<line x1="124.05" y1="779.2" x2="124.05" y2="797.06" stroke="#9414cc" stroke-width="1.7" stroke-dasharray="1.6 2.55" stroke-dashoffset="0"/>
<line x1="121.85" y1="797.06" x2="126.25" y2="797.06" stroke="#9414cc" stroke-width="1.7"/>
<line x1="132.07" y1="793.93" x2="132.07" y2="779.35" stroke="#9414cc" stroke-width="1.7" stroke-dasharray="1.6 2.55" stroke-dashoffset="0"/>
<line x1="129.87" y1="779.35" x2="134.27" y2="779.35" stroke="#9414cc" stroke-width="1.7"/>
<line x1="132.07" y1="804.63" x2="132.07" y2="821.76" stroke="#9414cc" stroke-width="1.7" stroke-dasharray="1.6 2.55" stroke-dashoffset="0"/>
<line x1="129.87" y1="821.76" x2="134.27" y2="821.76" stroke="#9414cc" stroke-width="1.7"/>
<line x1="140.09" y1="761.88" x2="140.09" y2="749.67" stroke="#9414cc" stroke-width="1.7" stroke-dasharray="1.6 2.55" stroke-dashoffset="0"/>
<line x1="137.89" y1="749.67" x2="142.29" y2="749.67" stroke="#9414cc" stroke-width="1.7"/>
<line x1="140.09" y1="772.58" x2="140.09" y2="786.76" stroke="#9414cc" stroke-width="1.7" stroke-dasharray="1.6 2.55" stroke-dashoffset="0"/>
<line x1="137.89" y1="786.76" x2="142.29" y2="786.76" stroke="#9414cc" stroke-width="1.7"/>
<line x1="148.11" y1="783.57" x2="148.11" y2="773.73" stroke="#9414cc" stroke-width="1.7" stroke-dasharray="1.6 2.55" stroke-dashoffset="0"/>
<line x1="145.91" y1="773.73" x2="150.31" y2="773.73" stroke="#9414cc" stroke-width="1.7"/>
<line x1="148.11" y1="794.27" x2="148.11" y2="805.56" stroke="#9414cc" stroke-width="1.7" stroke-dasharray="1.6 2.55" stroke-dashoffset="0"/>
<line x1="145.91" y1="805.56" x2="150.31" y2="805.56" stroke="#9414cc" stroke-width="1.7"/>
<line x1="156.14" y1="802.22" x2="156.14" y2="792.83" stroke="#9414cc" stroke-width="1.7" stroke-dasharray="1.6 2.55" stroke-dashoffset="0"/>
<line x1="153.94" y1="792.83" x2="158.34" y2="792.83" stroke="#9414cc" stroke-width="1.7"/>
<line x1="156.14" y1="812.92" x2="156.14" y2="823.66" stroke="#9414cc" stroke-width="1.7" stroke-dasharray="1.6 2.55" stroke-dashoffset="0"/>
<line x1="153.94" y1="823.66" x2="158.34" y2="823.66" stroke="#9414cc" stroke-width="1.7"/>
<line x1="164.16" y1="762.76" x2="164.16" y2="755.26" stroke="#9414cc" stroke-width="1.7" stroke-dasharray="1.6 2.55" stroke-dashoffset="0"/>
<line x1="161.96" y1="755.26" x2="166.36" y2="755.26" stroke="#9414cc" stroke-width="1.7"/>
<line x1="164.16" y1="773.46" x2="164.16" y2="781.97" stroke="#9414cc" stroke-width="1.7" stroke-dasharray="1.6 2.55" stroke-dashoffset="0"/>
<line x1="161.96" y1="781.97" x2="166.36" y2="781.97" stroke="#9414cc" stroke-width="1.7"/>
<line x1="172.18" y1="782.98" x2="172.18" y2="775.56" stroke="#9414cc" stroke-width="1.7" stroke-dasharray="1.6 2.55" stroke-dashoffset="0"/>
<line x1="169.98" y1="775.56" x2="174.38" y2="775.56" stroke="#9414cc" stroke-width="1.7"/>
<line x1="172.18" y1="793.68" x2="172.18" y2="802.11" stroke="#9414cc" stroke-width="1.7" stroke-dasharray="1.6 2.55" stroke-dashoffset="0"/>
<line x1="169.98" y1="802.11" x2="174.38" y2="802.11" stroke="#9414cc" stroke-width="1.7"/>
<line x1="180.2" y1="744.96" x2="180.2" y2="738.48" stroke="#9414cc" stroke-width="1.7" stroke-dasharray="1.6 2.55" stroke-dashoffset="0"/>
<line x1="178" y1="738.48" x2="182.4" y2="738.48" stroke="#9414cc" stroke-width="1.7"/>
<line x1="180.2" y1="755.66" x2="180.2" y2="763" stroke="#9414cc" stroke-width="1.7" stroke-dasharray="1.6 2.55" stroke-dashoffset="0"/>
<line x1="178" y1="763" x2="182.4" y2="763" stroke="#9414cc" stroke-width="1.7"/>
<line x1="188.22" y1="762.53" x2="188.22" y2="756.32" stroke="#9414cc" stroke-width="1.7" stroke-dasharray="1.6 2.55" stroke-dashoffset="0"/>
<line x1="186.02" y1="756.32" x2="190.42" y2="756.32" stroke="#9414cc" stroke-width="1.7"/>
<line x1="188.22" y1="773.23" x2="188.22" y2="780.26" stroke="#9414cc" stroke-width="1.7" stroke-dasharray="1.6 2.55" stroke-dashoffset="0"/>
<line x1="186.02" y1="780.26" x2="190.42" y2="780.26" stroke="#9414cc" stroke-width="1.7"/>
<line x1="196.24" y1="769.19" x2="196.24" y2="762.74" stroke="#9414cc" stroke-width="1.7" stroke-dasharray="1.6 2.55" stroke-dashoffset="0"/>
<line x1="194.04" y1="762.74" x2="198.44" y2="762.74" stroke="#9414cc" stroke-width="1.7"/>
<line x1="196.24" y1="779.89" x2="196.24" y2="787.2" stroke="#9414cc" stroke-width="1.7" stroke-dasharray="1.6 2.55" stroke-dashoffset="0"/>
<line x1="194.04" y1="787.2" x2="198.44" y2="787.2" stroke="#9414cc" stroke-width="1.7"/>
<line x1="204.26" y1="775.3" x2="204.26" y2="768.62" stroke="#9414cc" stroke-width="1.7" stroke-dasharray="1.6 2.55" stroke-dashoffset="0"/>
<line x1="202.06" y1="768.62" x2="206.46" y2="768.62" stroke="#9414cc" stroke-width="1.7"/>
<line x1="204.26" y1="786" x2="204.26" y2="793.57" stroke="#9414cc" stroke-width="1.7" stroke-dasharray="1.6 2.55" stroke-dashoffset="0"/>
<line x1="202.06" y1="793.57" x2="206.46" y2="793.57" stroke="#9414cc" stroke-width="1.7"/>
<line x1="212.28" y1="786.77" x2="212.28" y2="780.05" stroke="#9414cc" stroke-width="1.7" stroke-dasharray="1.6 2.55" stroke-dashoffset="0"/>
<line x1="210.08" y1="780.05" x2="214.48" y2="780.05" stroke="#9414cc" stroke-width="1.7"/>
<line x1="212.28" y1="797.47" x2="212.28" y2="805.07" stroke="#9414cc" stroke-width="1.7" stroke-dasharray="1.6 2.55" stroke-dashoffset="0"/>
<line x1="210.08" y1="805.07" x2="214.48" y2="805.07" stroke="#9414cc" stroke-width="1.7"/>
<line x1="220.3" y1="783.16" x2="220.3" y2="776.59" stroke="#9414cc" stroke-width="1.7" stroke-dasharray="1.6 2.55" stroke-dashoffset="0"/>
<line x1="218.1" y1="776.59" x2="222.5" y2="776.59" stroke="#9414cc" stroke-width="1.7"/>
<line x1="220.3" y1="793.86" x2="220.3" y2="801.3" stroke="#9414cc" stroke-width="1.7" stroke-dasharray="1.6 2.55" stroke-dashoffset="0"/>
<line x1="218.1" y1="801.3" x2="222.5" y2="801.3" stroke="#9414cc" stroke-width="1.7"/>
<line x1="228.32" y1="761.76" x2="228.32" y2="755.62" stroke="#9414cc" stroke-width="1.7" stroke-dasharray="1.6 2.55" stroke-dashoffset="0"/>
<line x1="226.12" y1="755.62" x2="230.52" y2="755.62" stroke="#9414cc" stroke-width="1.7"/>
<line x1="228.32" y1="772.46" x2="228.32" y2="779.4" stroke="#9414cc" stroke-width="1.7" stroke-dasharray="1.6 2.55" stroke-dashoffset="0"/>
<line x1="226.12" y1="779.4" x2="230.52" y2="779.4" stroke="#9414cc" stroke-width="1.7"/>
<line x1="236.34" y1="775.12" x2="236.34" y2="768.55" stroke="#9414cc" stroke-width="1.7" stroke-dasharray="1.6 2.55" stroke-dashoffset="0"/>
<line x1="234.14" y1="768.55" x2="238.54" y2="768.55" stroke="#9414cc" stroke-width="1.7"/>
<line x1="236.34" y1="785.82" x2="236.34" y2="793.26" stroke="#9414cc" stroke-width="1.7" stroke-dasharray="1.6 2.55" stroke-dashoffset="0"/>
<line x1="234.14" y1="793.26" x2="238.54" y2="793.26" stroke="#9414cc" stroke-width="1.7"/>
<line x1="244.36" y1="782.61" x2="244.36" y2="775.95" stroke="#9414cc" stroke-width="1.7" stroke-dasharray="1.6 2.55" stroke-dashoffset="0"/>
<line x1="242.16" y1="775.95" x2="246.56" y2="775.95" stroke="#9414cc" stroke-width="1.7"/>
<line x1="244.36" y1="793.31" x2="244.36" y2="800.85" stroke="#9414cc" stroke-width="1.7" stroke-dasharray="1.6 2.55" stroke-dashoffset="0"/>
<line x1="242.16" y1="800.85" x2="246.56" y2="800.85" stroke="#9414cc" stroke-width="1.7"/>
<line x1="252.38" y1="739.1" x2="252.38" y2="732.41" stroke="#9414cc" stroke-width="1.7" stroke-dasharray="1.6 2.55" stroke-dashoffset="0"/>
<line x1="250.18" y1="732.41" x2="254.58" y2="732.41" stroke="#9414cc" stroke-width="1.7"/>
<line x1="252.38" y1="749.8" x2="252.38" y2="757.37" stroke="#9414cc" stroke-width="1.7" stroke-dasharray="1.6 2.55" stroke-dashoffset="0"/>
<line x1="250.18" y1="757.37" x2="254.58" y2="757.37" stroke="#9414cc" stroke-width="1.7"/>
<line x1="260.41" y1="764.98" x2="260.41" y2="758.58" stroke="#9414cc" stroke-width="1.7" stroke-dasharray="1.6 2.55" stroke-dashoffset="0"/>
<line x1="258.21" y1="758.58" x2="262.61" y2="758.58" stroke="#9414cc" stroke-width="1.7"/>
<line x1="260.41" y1="775.68" x2="260.41" y2="782.92" stroke="#9414cc" stroke-width="1.7" stroke-dasharray="1.6 2.55" stroke-dashoffset="0"/>
<line x1="258.21" y1="782.92" x2="262.61" y2="782.92" stroke="#9414cc" stroke-width="1.7"/>
<line x1="268.43" y1="765.82" x2="268.43" y2="758.67" stroke="#9414cc" stroke-width="1.7" stroke-dasharray="1.6 2.55" stroke-dashoffset="0"/>
<line x1="266.23" y1="758.67" x2="270.63" y2="758.67" stroke="#9414cc" stroke-width="1.7"/>
<line x1="268.43" y1="776.52" x2="268.43" y2="784.63" stroke="#9414cc" stroke-width="1.7" stroke-dasharray="1.6 2.55" stroke-dashoffset="0"/>
<line x1="266.23" y1="784.63" x2="270.63" y2="784.63" stroke="#9414cc" stroke-width="1.7"/>
<line x1="276.45" y1="756.28" x2="276.45" y2="747.92" stroke="#9414cc" stroke-width="1.7" stroke-dasharray="1.6 2.55" stroke-dashoffset="0"/>
<line x1="274.25" y1="747.92" x2="278.65" y2="747.92" stroke="#9414cc" stroke-width="1.7"/>
<line x1="276.45" y1="766.98" x2="276.45" y2="776.51" stroke="#9414cc" stroke-width="1.7" stroke-dasharray="1.6 2.55" stroke-dashoffset="0"/>
<line x1="274.25" y1="776.51" x2="278.65" y2="776.51" stroke="#9414cc" stroke-width="1.7"/>
<line x1="284.47" y1="754.44" x2="284.47" y2="746.41" stroke="#9414cc" stroke-width="1.7" stroke-dasharray="1.6 2.55" stroke-dashoffset="0"/>
<line x1="282.27" y1="746.41" x2="286.67" y2="746.41" stroke="#9414cc" stroke-width="1.7"/>
<line x1="284.47" y1="765.14" x2="284.47" y2="774.27" stroke="#9414cc" stroke-width="1.7" stroke-dasharray="1.6 2.55" stroke-dashoffset="0"/>
<line x1="282.27" y1="774.27" x2="286.67" y2="774.27" stroke="#9414cc" stroke-width="1.7"/>
<line x1="292.49" y1="785.1" x2="292.49" y2="775.66" stroke="#9414cc" stroke-width="1.7" stroke-dasharray="1.6 2.55" stroke-dashoffset="0"/>
<line x1="290.29" y1="775.66" x2="294.69" y2="775.66" stroke="#9414cc" stroke-width="1.7"/>
<line x1="292.49" y1="795.8" x2="292.49" y2="806.61" stroke="#9414cc" stroke-width="1.7" stroke-dasharray="1.6 2.55" stroke-dashoffset="0"/>
<line x1="290.29" y1="806.61" x2="294.69" y2="806.61" stroke="#9414cc" stroke-width="1.7"/>
<line x1="300.51" y1="710.15" x2="300.51" y2="701.61" stroke="#9414cc" stroke-width="1.7" stroke-dasharray="1.6 2.55" stroke-dashoffset="0"/>
<line x1="298.31" y1="701.61" x2="302.71" y2="701.61" stroke="#9414cc" stroke-width="1.7"/>
<line x1="300.51" y1="720.85" x2="300.51" y2="730.59" stroke="#9414cc" stroke-width="1.7" stroke-dasharray="1.6 2.55" stroke-dashoffset="0"/>
<line x1="298.31" y1="730.59" x2="302.71" y2="730.59" stroke="#9414cc" stroke-width="1.7"/>
<line x1="308.53" y1="760.51" x2="308.53" y2="751.34" stroke="#9414cc" stroke-width="1.7" stroke-dasharray="1.6 2.55" stroke-dashoffset="0"/>
<line x1="306.33" y1="751.34" x2="310.73" y2="751.34" stroke="#9414cc" stroke-width="1.7"/>
<line x1="308.53" y1="771.21" x2="308.53" y2="781.7" stroke="#9414cc" stroke-width="1.7" stroke-dasharray="1.6 2.55" stroke-dashoffset="0"/>
<line x1="306.33" y1="781.7" x2="310.73" y2="781.7" stroke="#9414cc" stroke-width="1.7"/>
<line x1="316.55" y1="754.13" x2="316.55" y2="744.41" stroke="#9414cc" stroke-width="1.7" stroke-dasharray="1.6 2.55" stroke-dashoffset="0"/>
<line x1="314.35" y1="744.41" x2="318.75" y2="744.41" stroke="#9414cc" stroke-width="1.7"/>
<line x1="316.55" y1="764.83" x2="316.55" y2="775.98" stroke="#9414cc" stroke-width="1.7" stroke-dasharray="1.6 2.55" stroke-dashoffset="0"/>
<line x1="314.35" y1="775.98" x2="318.75" y2="775.98" stroke="#9414cc" stroke-width="1.7"/>
<line x1="324.57" y1="786.28" x2="324.57" y2="775.31" stroke="#9414cc" stroke-width="1.7" stroke-dasharray="1.6 2.55" stroke-dashoffset="0"/>
<line x1="322.37" y1="775.31" x2="326.77" y2="775.31" stroke="#9414cc" stroke-width="1.7"/>
<line x1="324.57" y1="796.98" x2="324.57" y2="809.63" stroke="#9414cc" stroke-width="1.7" stroke-dasharray="1.6 2.55" stroke-dashoffset="0"/>
<line x1="322.37" y1="809.63" x2="326.77" y2="809.63" stroke="#9414cc" stroke-width="1.7"/>
<line x1="332.59" y1="753.85" x2="332.59" y2="742.95" stroke="#9414cc" stroke-width="1.7" stroke-dasharray="1.6 2.55" stroke-dashoffset="0"/>
<line x1="330.39" y1="742.95" x2="334.79" y2="742.95" stroke="#9414cc" stroke-width="1.7"/>
<line x1="332.59" y1="764.55" x2="332.59" y2="777.11" stroke="#9414cc" stroke-width="1.7" stroke-dasharray="1.6 2.55" stroke-dashoffset="0"/>
<line x1="330.39" y1="777.11" x2="334.79" y2="777.11" stroke="#9414cc" stroke-width="1.7"/>
<line x1="340.61" y1="774.81" x2="340.61" y2="763.04" stroke="#9414cc" stroke-width="1.7" stroke-dasharray="1.6 2.55" stroke-dashoffset="0"/>
<line x1="338.41" y1="763.04" x2="342.81" y2="763.04" stroke="#9414cc" stroke-width="1.7"/>
<line x1="340.61" y1="785.51" x2="340.61" y2="799.14" stroke="#9414cc" stroke-width="1.7" stroke-dasharray="1.6 2.55" stroke-dashoffset="0"/>
<line x1="338.41" y1="799.14" x2="342.81" y2="799.14" stroke="#9414cc" stroke-width="1.7"/>
<line x1="348.63" y1="790.61" x2="348.63" y2="777.27" stroke="#9414cc" stroke-width="1.7" stroke-dasharray="1.6 2.55" stroke-dashoffset="0"/>
<line x1="346.43" y1="777.27" x2="350.83" y2="777.27" stroke="#9414cc" stroke-width="1.7"/>
<line x1="348.63" y1="801.31" x2="348.63" y2="816.88" stroke="#9414cc" stroke-width="1.7" stroke-dasharray="1.6 2.55" stroke-dashoffset="0"/>
<line x1="346.43" y1="816.88" x2="350.83" y2="816.88" stroke="#9414cc" stroke-width="1.7"/>
<line x1="356.66" y1="790.55" x2="356.66" y2="775.55" stroke="#9414cc" stroke-width="1.7" stroke-dasharray="1.6 2.55" stroke-dashoffset="0"/>
<line x1="354.46" y1="775.55" x2="358.86" y2="775.55" stroke="#9414cc" stroke-width="1.7"/>
<line x1="356.66" y1="801.25" x2="356.66" y2="818.93" stroke="#9414cc" stroke-width="1.7" stroke-dasharray="1.6 2.55" stroke-dashoffset="0"/>
<line x1="354.46" y1="818.93" x2="358.86" y2="818.93" stroke="#9414cc" stroke-width="1.7"/>
<line x1="364.68" y1="702.46" x2="364.68" y2="690.15" stroke="#9414cc" stroke-width="1.7" stroke-dasharray="1.6 2.55" stroke-dashoffset="0"/>
<line x1="362.48" y1="690.15" x2="366.88" y2="690.15" stroke="#9414cc" stroke-width="1.7"/>
<line x1="364.68" y1="713.16" x2="364.68" y2="727.45" stroke="#9414cc" stroke-width="1.7" stroke-dasharray="1.6 2.55" stroke-dashoffset="0"/>
<line x1="362.48" y1="727.45" x2="366.88" y2="727.45" stroke="#9414cc" stroke-width="1.7"/>
<line x1="372.7" y1="791.65" x2="372.7" y2="776.2" stroke="#9414cc" stroke-width="1.7" stroke-dasharray="1.6 2.55" stroke-dashoffset="0"/>
<line x1="370.5" y1="776.2" x2="374.9" y2="776.2" stroke="#9414cc" stroke-width="1.7"/>
<line x1="372.7" y1="802.35" x2="372.7" y2="820.6" stroke="#9414cc" stroke-width="1.7" stroke-dasharray="1.6 2.55" stroke-dashoffset="0"/>
<line x1="370.5" y1="820.6" x2="374.9" y2="820.6" stroke="#9414cc" stroke-width="1.7"/>
<line x1="380.72" y1="827.97" x2="380.72" y2="809.45" stroke="#9414cc" stroke-width="1.7" stroke-dasharray="1.6 2.55" stroke-dashoffset="0"/>
<line x1="378.52" y1="809.45" x2="382.92" y2="809.45" stroke="#9414cc" stroke-width="1.7"/>
<line x1="380.72" y1="838.67" x2="380.72" y2="860.96" stroke="#9414cc" stroke-width="1.7" stroke-dasharray="1.6 2.55" stroke-dashoffset="0"/>
<line x1="378.52" y1="860.96" x2="382.92" y2="860.96" stroke="#9414cc" stroke-width="1.7"/>
<line x1="388.74" y1="777.92" x2="388.74" y2="761.28" stroke="#9414cc" stroke-width="1.7" stroke-dasharray="1.6 2.55" stroke-dashoffset="0"/>
<line x1="386.54" y1="761.28" x2="390.94" y2="761.28" stroke="#9414cc" stroke-width="1.7"/>
<line x1="388.74" y1="788.62" x2="388.74" y2="808.41" stroke="#9414cc" stroke-width="1.7" stroke-dasharray="1.6 2.55" stroke-dashoffset="0"/>
<line x1="386.54" y1="808.41" x2="390.94" y2="808.41" stroke="#9414cc" stroke-width="1.7"/>
<line x1="396.76" y1="743.69" x2="396.76" y2="727.58" stroke="#9414cc" stroke-width="1.7" stroke-dasharray="1.6 2.55" stroke-dashoffset="0"/>
<line x1="394.56" y1="727.58" x2="398.96" y2="727.58" stroke="#9414cc" stroke-width="1.7"/>
<line x1="396.76" y1="754.39" x2="396.76" y2="773.48" stroke="#9414cc" stroke-width="1.7" stroke-dasharray="1.6 2.55" stroke-dashoffset="0"/>
<line x1="394.56" y1="773.48" x2="398.96" y2="773.48" stroke="#9414cc" stroke-width="1.7"/>
<line x1="404.78" y1="860.3" x2="404.78" y2="835.31" stroke="#9414cc" stroke-width="1.7" stroke-dasharray="1.6 2.55" stroke-dashoffset="0"/>
<line x1="402.58" y1="835.31" x2="406.98" y2="835.31" stroke="#9414cc" stroke-width="1.7"/>
<line x1="404.78" y1="871" x2="404.78" y2="902.37" stroke="#9414cc" stroke-width="1.7" stroke-dasharray="1.6 2.55" stroke-dashoffset="0"/>
<line x1="402.58" y1="902.37" x2="406.98" y2="902.37" stroke="#9414cc" stroke-width="1.7"/>
<line x1="412.8" y1="797.78" x2="412.8" y2="775.76" stroke="#9414cc" stroke-width="1.7" stroke-dasharray="1.6 2.55" stroke-dashoffset="0"/>
<line x1="410.6" y1="775.76" x2="415" y2="775.76" stroke="#9414cc" stroke-width="1.7"/>
<line x1="412.8" y1="808.48" x2="412.8" y2="835.59" stroke="#9414cc" stroke-width="1.7" stroke-dasharray="1.6 2.55" stroke-dashoffset="0"/>
<line x1="410.6" y1="835.59" x2="415" y2="835.59" stroke="#9414cc" stroke-width="1.7"/>
<line x1="420.82" y1="765.82" x2="420.82" y2="743.43" stroke="#9414cc" stroke-width="1.7" stroke-dasharray="1.6 2.55" stroke-dashoffset="0"/>
<line x1="418.62" y1="743.43" x2="423.02" y2="743.43" stroke="#9414cc" stroke-width="1.7"/>
<line x1="420.82" y1="776.52" x2="420.82" y2="804.15" stroke="#9414cc" stroke-width="1.7" stroke-dasharray="1.6 2.55" stroke-dashoffset="0"/>
<line x1="418.62" y1="804.15" x2="423.02" y2="804.15" stroke="#9414cc" stroke-width="1.7"/>
<line x1="428.84" y1="750.57" x2="428.84" y2="723.36" stroke="#9414cc" stroke-width="1.7" stroke-dasharray="1.6 2.55" stroke-dashoffset="0"/>
<line x1="426.64" y1="723.36" x2="431.04" y2="723.36" stroke="#9414cc" stroke-width="1.7"/>
<line x1="428.84" y1="761.27" x2="428.84" y2="795.94" stroke="#9414cc" stroke-width="1.7" stroke-dasharray="1.6 2.55" stroke-dashoffset="0"/>
<line x1="426.64" y1="795.94" x2="431.04" y2="795.94" stroke="#9414cc" stroke-width="1.7"/>
<line x1="436.86" y1="728.12" x2="436.86" y2="704.51" stroke="#9414cc" stroke-width="1.7" stroke-dasharray="1.6 2.55" stroke-dashoffset="0"/>
<line x1="434.66" y1="704.51" x2="439.06" y2="704.51" stroke="#9414cc" stroke-width="1.7"/>
<line x1="436.86" y1="738.82" x2="436.86" y2="768.17" stroke="#9414cc" stroke-width="1.7" stroke-dasharray="1.6 2.55" stroke-dashoffset="0"/>
<line x1="434.66" y1="768.17" x2="439.06" y2="768.17" stroke="#9414cc" stroke-width="1.7"/>
<line x1="444.88" y1="765.82" x2="444.88" y2="736.57" stroke="#9414cc" stroke-width="1.7" stroke-dasharray="1.6 2.55" stroke-dashoffset="0"/>
<line x1="442.68" y1="736.57" x2="447.08" y2="736.57" stroke="#9414cc" stroke-width="1.7"/>
<line x1="444.88" y1="776.52" x2="444.88" y2="814.33" stroke="#9414cc" stroke-width="1.7" stroke-dasharray="1.6 2.55" stroke-dashoffset="0"/>
<line x1="442.68" y1="814.33" x2="447.08" y2="814.33" stroke="#9414cc" stroke-width="1.7"/>
<line x1="452.9" y1="748.28" x2="452.9" y2="719.03" stroke="#9414cc" stroke-width="1.7" stroke-dasharray="1.6 2.55" stroke-dashoffset="0"/>
<line x1="450.7" y1="719.03" x2="455.1" y2="719.03" stroke="#9414cc" stroke-width="1.7"/>
<line x1="452.9" y1="758.98" x2="452.9" y2="796.78" stroke="#9414cc" stroke-width="1.7" stroke-dasharray="1.6 2.55" stroke-dashoffset="0"/>
<line x1="450.7" y1="796.78" x2="455.1" y2="796.78" stroke="#9414cc" stroke-width="1.7"/>
<line x1="460.93" y1="841.33" x2="460.93" y2="803.78" stroke="#9414cc" stroke-width="1.7" stroke-dasharray="1.6 2.55" stroke-dashoffset="0"/>
<line x1="458.73" y1="803.78" x2="463.13" y2="803.78" stroke="#9414cc" stroke-width="1.7"/>
<line x1="460.93" y1="852.03" x2="460.93" y2="903.62" stroke="#9414cc" stroke-width="1.7" stroke-dasharray="1.6 2.55" stroke-dashoffset="0"/>
<line x1="458.73" y1="903.62" x2="463.13" y2="903.62" stroke="#9414cc" stroke-width="1.7"/>
<line x1="468.95" y1="706.84" x2="468.95" y2="670.68" stroke="#9414cc" stroke-width="1.7" stroke-dasharray="1.6 2.55" stroke-dashoffset="0"/>
<line x1="466.75" y1="670.68" x2="471.15" y2="670.68" stroke="#9414cc" stroke-width="1.7"/>
<line x1="468.95" y1="717.54" x2="468.95" y2="766.7" stroke="#9414cc" stroke-width="1.7" stroke-dasharray="1.6 2.55" stroke-dashoffset="0"/>
<line x1="466.75" y1="766.7" x2="471.15" y2="766.7" stroke="#9414cc" stroke-width="1.7"/>
<line x1="476.97" y1="811.81" x2="476.97" y2="769" stroke="#9414cc" stroke-width="1.7" stroke-dasharray="1.6 2.55" stroke-dashoffset="0"/>
<line x1="474.77" y1="769" x2="479.17" y2="769" stroke="#9414cc" stroke-width="1.7"/>
<line x1="476.97" y1="822.51" x2="476.97" y2="883.79" stroke="#9414cc" stroke-width="1.7" stroke-dasharray="1.6 2.55" stroke-dashoffset="0"/>
<line x1="474.77" y1="883.79" x2="479.17" y2="883.79" stroke="#9414cc" stroke-width="1.7"/>
<line x1="484.99" y1="701.37" x2="484.99" y2="663.81" stroke="#9414cc" stroke-width="1.7" stroke-dasharray="1.6 2.55" stroke-dashoffset="0"/>
<line x1="482.79" y1="663.81" x2="487.19" y2="663.81" stroke="#9414cc" stroke-width="1.7"/>
<line x1="484.99" y1="712.07" x2="484.99" y2="763.65" stroke="#9414cc" stroke-width="1.7" stroke-dasharray="1.6 2.55" stroke-dashoffset="0"/>
<line x1="482.79" y1="763.65" x2="487.19" y2="763.65" stroke="#9414cc" stroke-width="1.7"/>
<line x1="493.01" y1="919.28" x2="493.01" y2="859.84" stroke="#9414cc" stroke-width="1.7" stroke-dasharray="1.6 2.55" stroke-dashoffset="0"/>
<line x1="490.81" y1="859.84" x2="495.21" y2="859.84" stroke="#9414cc" stroke-width="1.7"/>
<line x1="493.01" y1="929.98" x2="493.01" y2="975.8" stroke="#9414cc" stroke-width="1.7" stroke-dasharray="1.6 2.55" stroke-dashoffset="0"/>
<line x1="490.81" y1="975.8" x2="495.21" y2="975.8" stroke="#9414cc" stroke-width="1.7"/>
<line x1="501.03" y1="980.45" x2="501.03" y2="953.73" stroke="#9414cc" stroke-width="1.7" stroke-dasharray="1.6 2.55" stroke-dashoffset="0"/>
<line x1="498.83" y1="953.73" x2="503.23" y2="953.73" stroke="#9414cc" stroke-width="1.7"/>
<line x1="509.05" y1="901.35" x2="509.05" y2="846.69" stroke="#9414cc" stroke-width="1.7" stroke-dasharray="1.6 2.55" stroke-dashoffset="0"/>
<line x1="506.85" y1="846.69" x2="511.25" y2="846.69" stroke="#9414cc" stroke-width="1.7"/>
<line x1="509.05" y1="912.05" x2="509.05" y2="975.8" stroke="#9414cc" stroke-width="1.7" stroke-dasharray="1.6 2.55" stroke-dashoffset="0"/>
<line x1="506.85" y1="975.8" x2="511.25" y2="975.8" stroke="#9414cc" stroke-width="1.7"/>
<line x1="517.07" y1="765.82" x2="517.07" y2="723.01" stroke="#9414cc" stroke-width="1.7" stroke-dasharray="1.6 2.55" stroke-dashoffset="0"/>
<line x1="514.87" y1="723.01" x2="519.27" y2="723.01" stroke="#9414cc" stroke-width="1.7"/>
<line x1="517.07" y1="776.52" x2="517.07" y2="837.81" stroke="#9414cc" stroke-width="1.7" stroke-dasharray="1.6 2.55" stroke-dashoffset="0"/>
<line x1="514.87" y1="837.81" x2="519.27" y2="837.81" stroke="#9414cc" stroke-width="1.7"/>
<line x1="525.09" y1="765.82" x2="525.09" y2="711.16" stroke="#9414cc" stroke-width="1.7" stroke-dasharray="1.6 2.55" stroke-dashoffset="0"/>
<line x1="522.89" y1="711.16" x2="527.29" y2="711.16" stroke="#9414cc" stroke-width="1.7"/>
<line x1="525.09" y1="776.52" x2="525.09" y2="863.14" stroke="#9414cc" stroke-width="1.7" stroke-dasharray="1.6 2.55" stroke-dashoffset="0"/>
<line x1="522.89" y1="863.14" x2="527.29" y2="863.14" stroke="#9414cc" stroke-width="1.7"/>
<line x1="533.11" y1="855.36" x2="533.11" y2="780.83" stroke="#9414cc" stroke-width="1.7" stroke-dasharray="1.6 2.55" stroke-dashoffset="0"/>
<line x1="530.91" y1="780.83" x2="535.31" y2="780.83" stroke="#9414cc" stroke-width="1.7"/>
<line x1="533.11" y1="866.06" x2="533.11" y2="975.8" stroke="#9414cc" stroke-width="1.7" stroke-dasharray="1.6 2.55" stroke-dashoffset="0"/>
<line x1="530.91" y1="975.8" x2="535.31" y2="975.8" stroke="#9414cc" stroke-width="1.7"/>
<line x1="541.13" y1="765.82" x2="541.13" y2="720.75" stroke="#9414cc" stroke-width="1.7" stroke-dasharray="1.6 2.55" stroke-dashoffset="0"/>
<line x1="538.93" y1="720.75" x2="543.33" y2="720.75" stroke="#9414cc" stroke-width="1.7"/>
<line x1="541.13" y1="776.52" x2="541.13" y2="842.25" stroke="#9414cc" stroke-width="1.7" stroke-dasharray="1.6 2.55" stroke-dashoffset="0"/>
<line x1="538.93" y1="842.25" x2="543.33" y2="842.25" stroke="#9414cc" stroke-width="1.7"/>
<line x1="557.18" y1="726.71" x2="557.18" y2="667.27" stroke="#9414cc" stroke-width="1.7" stroke-dasharray="1.6 2.55" stroke-dashoffset="0"/>
<line x1="554.98" y1="667.27" x2="559.38" y2="667.27" stroke="#9414cc" stroke-width="1.7"/>
<line x1="557.18" y1="737.41" x2="557.18" y2="835.97" stroke="#9414cc" stroke-width="1.7" stroke-dasharray="1.6 2.55" stroke-dashoffset="0"/>
<line x1="554.98" y1="835.97" x2="559.38" y2="835.97" stroke="#9414cc" stroke-width="1.7"/>
<line x1="565.2" y1="715.4" x2="565.2" y2="667.68" stroke="#9414cc" stroke-width="1.7" stroke-dasharray="1.6 2.55" stroke-dashoffset="0"/>
<line x1="563" y1="667.68" x2="567.4" y2="667.68" stroke="#9414cc" stroke-width="1.7"/>
<line x1="565.2" y1="726.1" x2="565.2" y2="797.22" stroke="#9414cc" stroke-width="1.7" stroke-dasharray="1.6 2.55" stroke-dashoffset="0"/>
<line x1="563" y1="797.22" x2="567.4" y2="797.22" stroke="#9414cc" stroke-width="1.7"/>
<line x1="573.22" y1="958.4" x2="573.22" y2="842.25" stroke="#9414cc" stroke-width="1.7" stroke-dasharray="1.6 2.55" stroke-dashoffset="0"/>
<line x1="571.02" y1="842.25" x2="575.42" y2="842.25" stroke="#9414cc" stroke-width="1.7"/>
<line x1="573.22" y1="969.1" x2="573.22" y2="975.8" stroke="#9414cc" stroke-width="1.7" stroke-dasharray="1.6 2.55" stroke-dashoffset="0"/>
<line x1="571.02" y1="975.8" x2="575.42" y2="975.8" stroke="#9414cc" stroke-width="1.7"/>
<line x1="605.3" y1="765.82" x2="605.3" y2="649.67" stroke="#9414cc" stroke-width="1.7" stroke-dasharray="1.6 2.55" stroke-dashoffset="0"/>
<line x1="603.1" y1="649.67" x2="607.5" y2="649.67" stroke="#9414cc" stroke-width="1.7"/>
<line x1="605.3" y1="776.52" x2="605.3" y2="975.8" stroke="#9414cc" stroke-width="1.7" stroke-dasharray="1.6 2.55" stroke-dashoffset="0"/>
<line x1="603.1" y1="975.8" x2="607.5" y2="975.8" stroke="#9414cc" stroke-width="1.7"/>
<line x1="613.32" y1="644.32" x2="613.32" y2="614.6" stroke="#9414cc" stroke-width="1.7" stroke-dasharray="1.6 2.55" stroke-dashoffset="0"/>
<line x1="611.12" y1="614.6" x2="615.52" y2="614.6" stroke="#9414cc" stroke-width="1.7"/>
<line x1="613.32" y1="655.02" x2="613.32" y2="864.92" stroke="#9414cc" stroke-width="1.7" stroke-dasharray="1.6 2.55" stroke-dashoffset="0"/>
<line x1="611.12" y1="864.92" x2="615.52" y2="864.92" stroke="#9414cc" stroke-width="1.7"/>
<line x1="645.4" y1="644.32" x2="645.4" y2="614.6" stroke="#9414cc" stroke-width="1.7" stroke-dasharray="1.6 2.55" stroke-dashoffset="0"/>
<line x1="643.2" y1="614.6" x2="647.6" y2="614.6" stroke="#9414cc" stroke-width="1.7"/>
<line x1="645.4" y1="655.02" x2="645.4" y2="864.92" stroke="#9414cc" stroke-width="1.7" stroke-dasharray="1.6 2.55" stroke-dashoffset="0"/>
<line x1="643.2" y1="864.92" x2="647.6" y2="864.92" stroke="#9414cc" stroke-width="1.7"/>
<line x1="653.42" y1="887.32" x2="653.42" y2="771.17" stroke="#9414cc" stroke-width="1.7" stroke-dasharray="1.6 2.55" stroke-dashoffset="0"/>
<line x1="651.22" y1="771.17" x2="655.62" y2="771.17" stroke="#9414cc" stroke-width="1.7"/>
<line x1="653.42" y1="898.02" x2="653.42" y2="975.8" stroke="#9414cc" stroke-width="1.7" stroke-dasharray="1.6 2.55" stroke-dashoffset="0"/>
<line x1="651.22" y1="975.8" x2="655.62" y2="975.8" stroke="#9414cc" stroke-width="1.7"/>
<line x1="717.59" y1="765.82" x2="717.59" y2="649.67" stroke="#9414cc" stroke-width="1.7" stroke-dasharray="1.6 2.55" stroke-dashoffset="0"/>
<line x1="715.39" y1="649.67" x2="719.79" y2="649.67" stroke="#9414cc" stroke-width="1.7"/>
<line x1="717.59" y1="776.52" x2="717.59" y2="975.8" stroke="#9414cc" stroke-width="1.7" stroke-dasharray="1.6 2.55" stroke-dashoffset="0"/>
<line x1="715.39" y1="975.8" x2="719.79" y2="975.8" stroke="#9414cc" stroke-width="1.7"/>
</g>
<polygon points="108.01,826.41 103.8,834.75 112.22,834.75" fill="none" stroke="#9414cc" stroke-width="1.4" stroke-linejoin="miter" stroke-miterlimit="10"/>
<polygon points="116.03,790.83 111.82,799.18 120.24,799.18" fill="none" stroke="#9414cc" stroke-width="1.4" stroke-linejoin="miter" stroke-miterlimit="10"/>
<polygon points="124.05,770.1 119.84,778.45 128.26,778.45" fill="none" stroke="#9414cc" stroke-width="1.4" stroke-linejoin="miter" stroke-miterlimit="10"/>
<polygon points="132.07,795.53 127.86,803.88 136.29,803.88" fill="none" stroke="#9414cc" stroke-width="1.4" stroke-linejoin="miter" stroke-miterlimit="10"/>
<polygon points="140.09,763.49 135.88,771.83 144.31,771.83" fill="none" stroke="#9414cc" stroke-width="1.4" stroke-linejoin="miter" stroke-miterlimit="10"/>
<polygon points="148.11,785.18 143.9,793.52 152.33,793.52" fill="none" stroke="#9414cc" stroke-width="1.4" stroke-linejoin="miter" stroke-miterlimit="10"/>
<polygon points="156.14,803.82 151.92,812.17 160.35,812.17" fill="none" stroke="#9414cc" stroke-width="1.4" stroke-linejoin="miter" stroke-miterlimit="10"/>
<polygon points="164.16,764.36 159.94,772.71 168.37,772.71" fill="none" stroke="#9414cc" stroke-width="1.4" stroke-linejoin="miter" stroke-miterlimit="10"/>
<polygon points="172.18,784.59 167.96,792.93 176.39,792.93" fill="none" stroke="#9414cc" stroke-width="1.4" stroke-linejoin="miter" stroke-miterlimit="10"/>
<polygon points="180.2,746.57 175.99,754.91 184.41,754.91" fill="none" stroke="#9414cc" stroke-width="1.4" stroke-linejoin="miter" stroke-miterlimit="10"/>
<polygon points="188.22,764.13 184.01,772.48 192.43,772.48" fill="none" stroke="#9414cc" stroke-width="1.4" stroke-linejoin="miter" stroke-miterlimit="10"/>
<polygon points="196.24,770.8 192.03,779.14 200.45,779.14" fill="none" stroke="#9414cc" stroke-width="1.4" stroke-linejoin="miter" stroke-miterlimit="10"/>
<polygon points="204.26,776.9 200.05,785.25 208.47,785.25" fill="none" stroke="#9414cc" stroke-width="1.4" stroke-linejoin="miter" stroke-miterlimit="10"/>
<polygon points="212.28,788.37 208.07,796.72 216.49,796.72" fill="none" stroke="#9414cc" stroke-width="1.4" stroke-linejoin="miter" stroke-miterlimit="10"/>
<polygon points="220.3,784.76 216.09,793.11 224.51,793.11" fill="none" stroke="#9414cc" stroke-width="1.4" stroke-linejoin="miter" stroke-miterlimit="10"/>
<polygon points="228.32,763.36 224.11,771.71 232.53,771.71" fill="none" stroke="#9414cc" stroke-width="1.4" stroke-linejoin="miter" stroke-miterlimit="10"/>
<polygon points="236.34,776.72 232.13,785.07 240.56,785.07" fill="none" stroke="#9414cc" stroke-width="1.4" stroke-linejoin="miter" stroke-miterlimit="10"/>
<polygon points="244.36,784.21 240.15,792.56 248.58,792.56" fill="none" stroke="#9414cc" stroke-width="1.4" stroke-linejoin="miter" stroke-miterlimit="10"/>
<polygon points="252.38,740.7 248.17,749.05 256.6,749.05" fill="none" stroke="#9414cc" stroke-width="1.4" stroke-linejoin="miter" stroke-miterlimit="10"/>
<polygon points="260.41,766.58 256.19,774.93 264.62,774.93" fill="none" stroke="#9414cc" stroke-width="1.4" stroke-linejoin="miter" stroke-miterlimit="10"/>
<polygon points="268.43,767.43 264.21,775.77 272.64,775.77" fill="none" stroke="#9414cc" stroke-width="1.4" stroke-linejoin="miter" stroke-miterlimit="10"/>
<polygon points="276.45,757.88 272.23,766.23 280.66,766.23" fill="none" stroke="#9414cc" stroke-width="1.4" stroke-linejoin="miter" stroke-miterlimit="10"/>
<polygon points="284.47,756.04 280.26,764.39 288.68,764.39" fill="none" stroke="#9414cc" stroke-width="1.4" stroke-linejoin="miter" stroke-miterlimit="10"/>
<polygon points="292.49,786.71 288.28,795.05 296.7,795.05" fill="none" stroke="#9414cc" stroke-width="1.4" stroke-linejoin="miter" stroke-miterlimit="10"/>
<polygon points="300.51,711.75 296.3,720.1 304.72,720.1" fill="none" stroke="#9414cc" stroke-width="1.4" stroke-linejoin="miter" stroke-miterlimit="10"/>
<polygon points="308.53,762.11 304.32,770.46 312.74,770.46" fill="none" stroke="#9414cc" stroke-width="1.4" stroke-linejoin="miter" stroke-miterlimit="10"/>
<polygon points="316.55,755.74 312.34,764.08 320.76,764.08" fill="none" stroke="#9414cc" stroke-width="1.4" stroke-linejoin="miter" stroke-miterlimit="10"/>
<polygon points="324.57,787.89 320.36,796.23 328.78,796.23" fill="none" stroke="#9414cc" stroke-width="1.4" stroke-linejoin="miter" stroke-miterlimit="10"/>
<polygon points="332.59,755.45 328.38,763.8 336.81,763.8" fill="none" stroke="#9414cc" stroke-width="1.4" stroke-linejoin="miter" stroke-miterlimit="10"/>
<polygon points="340.61,776.42 336.4,784.76 344.83,784.76" fill="none" stroke="#9414cc" stroke-width="1.4" stroke-linejoin="miter" stroke-miterlimit="10"/>
<polygon points="348.63,792.21 344.42,800.56 352.85,800.56" fill="none" stroke="#9414cc" stroke-width="1.4" stroke-linejoin="miter" stroke-miterlimit="10"/>
<polygon points="356.66,792.16 352.44,800.5 360.87,800.5" fill="none" stroke="#9414cc" stroke-width="1.4" stroke-linejoin="miter" stroke-miterlimit="10"/>
<polygon points="364.68,704.06 360.46,712.41 368.89,712.41" fill="none" stroke="#9414cc" stroke-width="1.4" stroke-linejoin="miter" stroke-miterlimit="10"/>
<polygon points="372.7,793.25 368.48,801.6 376.91,801.6" fill="none" stroke="#9414cc" stroke-width="1.4" stroke-linejoin="miter" stroke-miterlimit="10"/>
<polygon points="380.72,829.57 376.51,837.92 384.93,837.92" fill="none" stroke="#9414cc" stroke-width="1.4" stroke-linejoin="miter" stroke-miterlimit="10"/>
<polygon points="388.74,779.52 384.53,787.87 392.95,787.87" fill="none" stroke="#9414cc" stroke-width="1.4" stroke-linejoin="miter" stroke-miterlimit="10"/>
<polygon points="396.76,745.29 392.55,753.64 400.97,753.64" fill="none" stroke="#9414cc" stroke-width="1.4" stroke-linejoin="miter" stroke-miterlimit="10"/>
<polygon points="404.78,861.91 400.57,870.25 408.99,870.25" fill="none" stroke="#9414cc" stroke-width="1.4" stroke-linejoin="miter" stroke-miterlimit="10"/>
<polygon points="412.8,799.39 408.59,807.73 417.01,807.73" fill="none" stroke="#9414cc" stroke-width="1.4" stroke-linejoin="miter" stroke-miterlimit="10"/>
<polygon points="420.82,767.43 416.61,775.77 425.03,775.77" fill="none" stroke="#9414cc" stroke-width="1.4" stroke-linejoin="miter" stroke-miterlimit="10"/>
<polygon points="428.84,752.17 424.63,760.52 433.05,760.52" fill="none" stroke="#9414cc" stroke-width="1.4" stroke-linejoin="miter" stroke-miterlimit="10"/>
<polygon points="436.86,729.72 432.65,738.07 441.08,738.07" fill="none" stroke="#9414cc" stroke-width="1.4" stroke-linejoin="miter" stroke-miterlimit="10"/>
<polygon points="444.88,767.43 440.67,775.77 449.1,775.77" fill="none" stroke="#9414cc" stroke-width="1.4" stroke-linejoin="miter" stroke-miterlimit="10"/>
<polygon points="452.9,749.88 448.69,758.23 457.12,758.23" fill="none" stroke="#9414cc" stroke-width="1.4" stroke-linejoin="miter" stroke-miterlimit="10"/>
<polygon points="460.93,842.94 456.71,851.28 465.14,851.28" fill="none" stroke="#9414cc" stroke-width="1.4" stroke-linejoin="miter" stroke-miterlimit="10"/>
<polygon points="468.95,708.45 464.73,716.79 473.16,716.79" fill="none" stroke="#9414cc" stroke-width="1.4" stroke-linejoin="miter" stroke-miterlimit="10"/>
<polygon points="476.97,813.42 472.75,821.76 481.18,821.76" fill="none" stroke="#9414cc" stroke-width="1.4" stroke-linejoin="miter" stroke-miterlimit="10"/>
<polygon points="484.99,702.97 480.78,711.32 489.2,711.32" fill="none" stroke="#9414cc" stroke-width="1.4" stroke-linejoin="miter" stroke-miterlimit="10"/>
<polygon points="493.01,920.89 488.8,929.23 497.22,929.23" fill="none" stroke="#9414cc" stroke-width="1.4" stroke-linejoin="miter" stroke-miterlimit="10"/>
<polygon points="509.05,902.96 504.84,911.3 513.26,911.3" fill="none" stroke="#9414cc" stroke-width="1.4" stroke-linejoin="miter" stroke-miterlimit="10"/>
<polygon points="517.07,767.43 512.86,775.77 521.28,775.77" fill="none" stroke="#9414cc" stroke-width="1.4" stroke-linejoin="miter" stroke-miterlimit="10"/>
<polygon points="525.09,767.43 520.88,775.77 529.3,775.77" fill="none" stroke="#9414cc" stroke-width="1.4" stroke-linejoin="miter" stroke-miterlimit="10"/>
<polygon points="533.11,856.97 528.9,865.31 537.33,865.31" fill="none" stroke="#9414cc" stroke-width="1.4" stroke-linejoin="miter" stroke-miterlimit="10"/>
<polygon points="541.13,767.43 536.92,775.77 545.35,775.77" fill="none" stroke="#9414cc" stroke-width="1.4" stroke-linejoin="miter" stroke-miterlimit="10"/>
<polygon points="557.18,728.31 552.96,736.66 561.39,736.66" fill="none" stroke="#9414cc" stroke-width="1.4" stroke-linejoin="miter" stroke-miterlimit="10"/>
<polygon points="565.2,717 560.98,725.35 569.41,725.35" fill="none" stroke="#9414cc" stroke-width="1.4" stroke-linejoin="miter" stroke-miterlimit="10"/>
<polygon points="605.3,767.43 601.09,775.77 609.51,775.77" fill="none" stroke="#9414cc" stroke-width="1.4" stroke-linejoin="miter" stroke-miterlimit="10"/>
<polygon points="613.32,645.93 609.11,654.27 617.53,654.27" fill="none" stroke="#9414cc" stroke-width="1.4" stroke-linejoin="miter" stroke-miterlimit="10"/>
<polygon points="645.4,645.93 641.19,654.27 649.62,654.27" fill="none" stroke="#9414cc" stroke-width="1.4" stroke-linejoin="miter" stroke-miterlimit="10"/>
<polygon points="653.42,888.93 649.21,897.27 657.64,897.27" fill="none" stroke="#9414cc" stroke-width="1.4" stroke-linejoin="miter" stroke-miterlimit="10"/>
<polygon points="717.59,767.43 713.38,775.77 721.8,775.77" fill="none" stroke="#9414cc" stroke-width="1.4" stroke-linejoin="miter" stroke-miterlimit="10"/>
<g clip-path="url(#cr)">
<polyline points="108.01,872.65 116.03,799.64 124.05,789.97 132.07,788.83 140.09,783.64 148.11,818.79 156.14,781.51 164.16,812.53 172.18,793.39 180.2,764.37 188.22,789.48 196.24,788.65 204.26,780.72 212.28,788.23 220.3,780.87 228.32,800.21 236.34,784.82 244.36,805.08 252.38,744.52 260.41,805.67 268.43,799.07 276.45,773.33 284.47,780.54 292.49,780.05 300.51,763.79 308.53,803.48 316.55,792.2 324.57,831.37 332.59,795.2 340.61,845.63 348.63,841.19 356.66,769.5 364.68,795.2 372.7,872.38 380.72,808.79 388.74,845.63 396.76,809.23 404.78,756.09 412.8,808.19 420.82,780.38 428.84,735.09 436.86,795.2 444.88,842.87 452.9,761.71 460.93,786.65 468.95,857.72 476.97,824.48 484.99,730.74 493.01,827.16 501.03,888.21 509.05,859.66 517.07,813.67 525.09,795.2 533.11,692.17 541.13,985.8 549.15,604.6 557.18,845.63 565.2,866.27 573.22,866.27 589.26,916.7 605.3,795.2 613.32,795.2 621.34,985.8 637.38,795.2" fill="none" stroke="#1f1fe8" stroke-width="1.7" stroke-dasharray="4.6 3.8"/>
<line x1="108.01" y1="867.4" x2="108.01" y2="822.22" stroke="#1f1fe8" stroke-width="1.7" stroke-dasharray="4.6 3.8" stroke-dashoffset="0"/>
<line x1="105.81" y1="822.22" x2="110.21" y2="822.22" stroke="#1f1fe8" stroke-width="1.7"/>
<line x1="108.01" y1="877.9" x2="108.01" y2="943.72" stroke="#1f1fe8" stroke-width="1.7" stroke-dasharray="4.6 3.8" stroke-dashoffset="0"/>
<line x1="105.81" y1="943.72" x2="110.21" y2="943.72" stroke="#1f1fe8" stroke-width="1.7"/>
<line x1="116.03" y1="794.39" x2="116.03" y2="773.6" stroke="#1f1fe8" stroke-width="1.7" stroke-dasharray="4.6 3.8" stroke-dashoffset="0"/>
<line x1="113.83" y1="773.6" x2="118.23" y2="773.6" stroke="#1f1fe8" stroke-width="1.7"/>
<line x1="116.03" y1="804.89" x2="116.03" y2="830.23" stroke="#1f1fe8" stroke-width="1.7" stroke-dasharray="4.6 3.8" stroke-dashoffset="0"/>
<line x1="113.83" y1="830.23" x2="118.23" y2="830.23" stroke="#1f1fe8" stroke-width="1.7"/>
<line x1="124.05" y1="784.72" x2="124.05" y2="769.9" stroke="#1f1fe8" stroke-width="1.7" stroke-dasharray="4.6 3.8" stroke-dashoffset="0"/>
<line x1="121.85" y1="769.9" x2="126.25" y2="769.9" stroke="#1f1fe8" stroke-width="1.7"/>
<line x1="124.05" y1="795.22" x2="124.05" y2="812.63" stroke="#1f1fe8" stroke-width="1.7" stroke-dasharray="4.6 3.8" stroke-dashoffset="0"/>
<line x1="121.85" y1="812.63" x2="126.25" y2="812.63" stroke="#1f1fe8" stroke-width="1.7"/>
<line x1="132.07" y1="783.58" x2="132.07" y2="770.67" stroke="#1f1fe8" stroke-width="1.7" stroke-dasharray="4.6 3.8" stroke-dashoffset="0"/>
<line x1="129.87" y1="770.67" x2="134.27" y2="770.67" stroke="#1f1fe8" stroke-width="1.7"/>
<line x1="132.07" y1="794.08" x2="132.07" y2="809.08" stroke="#1f1fe8" stroke-width="1.7" stroke-dasharray="4.6 3.8" stroke-dashoffset="0"/>
<line x1="129.87" y1="809.08" x2="134.27" y2="809.08" stroke="#1f1fe8" stroke-width="1.7"/>
<line x1="140.09" y1="778.39" x2="140.09" y2="766.43" stroke="#1f1fe8" stroke-width="1.7" stroke-dasharray="4.6 3.8" stroke-dashoffset="0"/>
<line x1="137.89" y1="766.43" x2="142.29" y2="766.43" stroke="#1f1fe8" stroke-width="1.7"/>
<line x1="140.09" y1="788.89" x2="140.09" y2="802.72" stroke="#1f1fe8" stroke-width="1.7" stroke-dasharray="4.6 3.8" stroke-dashoffset="0"/>
<line x1="137.89" y1="802.72" x2="142.29" y2="802.72" stroke="#1f1fe8" stroke-width="1.7"/>
<line x1="148.11" y1="813.54" x2="148.11" y2="803.36" stroke="#1f1fe8" stroke-width="1.7" stroke-dasharray="4.6 3.8" stroke-dashoffset="0"/>
<line x1="145.91" y1="803.36" x2="150.31" y2="803.36" stroke="#1f1fe8" stroke-width="1.7"/>
<line x1="148.11" y1="824.04" x2="148.11" y2="835.72" stroke="#1f1fe8" stroke-width="1.7" stroke-dasharray="4.6 3.8" stroke-dashoffset="0"/>
<line x1="145.91" y1="835.72" x2="150.31" y2="835.72" stroke="#1f1fe8" stroke-width="1.7"/>
<line x1="156.14" y1="776.26" x2="156.14" y2="768.66" stroke="#1f1fe8" stroke-width="1.7" stroke-dasharray="4.6 3.8" stroke-dashoffset="0"/>
<line x1="153.94" y1="768.66" x2="158.34" y2="768.66" stroke="#1f1fe8" stroke-width="1.7"/>
<line x1="156.14" y1="786.76" x2="156.14" y2="795.37" stroke="#1f1fe8" stroke-width="1.7" stroke-dasharray="4.6 3.8" stroke-dashoffset="0"/>
<line x1="153.94" y1="795.37" x2="158.34" y2="795.37" stroke="#1f1fe8" stroke-width="1.7"/>
<line x1="164.16" y1="807.28" x2="164.16" y2="798.94" stroke="#1f1fe8" stroke-width="1.7" stroke-dasharray="4.6 3.8" stroke-dashoffset="0"/>
<line x1="161.96" y1="798.94" x2="166.36" y2="798.94" stroke="#1f1fe8" stroke-width="1.7"/>
<line x1="164.16" y1="817.78" x2="164.16" y2="827.25" stroke="#1f1fe8" stroke-width="1.7" stroke-dasharray="4.6 3.8" stroke-dashoffset="0"/>
<line x1="161.96" y1="827.25" x2="166.36" y2="827.25" stroke="#1f1fe8" stroke-width="1.7"/>
<line x1="172.18" y1="788.14" x2="172.18" y2="781.27" stroke="#1f1fe8" stroke-width="1.7" stroke-dasharray="4.6 3.8" stroke-dashoffset="0"/>
<line x1="169.98" y1="781.27" x2="174.38" y2="781.27" stroke="#1f1fe8" stroke-width="1.7"/>
<line x1="172.18" y1="798.64" x2="172.18" y2="806.42" stroke="#1f1fe8" stroke-width="1.7" stroke-dasharray="4.6 3.8" stroke-dashoffset="0"/>
<line x1="169.98" y1="806.42" x2="174.38" y2="806.42" stroke="#1f1fe8" stroke-width="1.7"/>
<line x1="180.2" y1="759.12" x2="180.2" y2="752.86" stroke="#1f1fe8" stroke-width="1.7" stroke-dasharray="4.6 3.8" stroke-dashoffset="0"/>
<line x1="178" y1="752.86" x2="182.4" y2="752.86" stroke="#1f1fe8" stroke-width="1.7"/>
<line x1="180.2" y1="769.62" x2="180.2" y2="776.69" stroke="#1f1fe8" stroke-width="1.7" stroke-dasharray="4.6 3.8" stroke-dashoffset="0"/>
<line x1="178" y1="776.69" x2="182.4" y2="776.69" stroke="#1f1fe8" stroke-width="1.7"/>
<line x1="188.22" y1="784.23" x2="188.22" y2="777.99" stroke="#1f1fe8" stroke-width="1.7" stroke-dasharray="4.6 3.8" stroke-dashoffset="0"/>
<line x1="186.02" y1="777.99" x2="190.42" y2="777.99" stroke="#1f1fe8" stroke-width="1.7"/>
<line x1="188.22" y1="794.73" x2="188.22" y2="801.77" stroke="#1f1fe8" stroke-width="1.7" stroke-dasharray="4.6 3.8" stroke-dashoffset="0"/>
<line x1="186.02" y1="801.77" x2="190.42" y2="801.77" stroke="#1f1fe8" stroke-width="1.7"/>
<line x1="196.24" y1="783.4" x2="196.24" y2="777.16" stroke="#1f1fe8" stroke-width="1.7" stroke-dasharray="4.6 3.8" stroke-dashoffset="0"/>
<line x1="194.04" y1="777.16" x2="198.44" y2="777.16" stroke="#1f1fe8" stroke-width="1.7"/>
<line x1="196.24" y1="793.9" x2="196.24" y2="800.94" stroke="#1f1fe8" stroke-width="1.7" stroke-dasharray="4.6 3.8" stroke-dashoffset="0"/>
<line x1="194.04" y1="800.94" x2="198.44" y2="800.94" stroke="#1f1fe8" stroke-width="1.7"/>
<line x1="204.26" y1="775.47" x2="204.26" y2="769.45" stroke="#1f1fe8" stroke-width="1.7" stroke-dasharray="4.6 3.8" stroke-dashoffset="0"/>
<line x1="202.06" y1="769.45" x2="206.46" y2="769.45" stroke="#1f1fe8" stroke-width="1.7"/>
<line x1="204.26" y1="785.97" x2="204.26" y2="792.76" stroke="#1f1fe8" stroke-width="1.7" stroke-dasharray="4.6 3.8" stroke-dashoffset="0"/>
<line x1="202.06" y1="792.76" x2="206.46" y2="792.76" stroke="#1f1fe8" stroke-width="1.7"/>
<line x1="212.28" y1="782.98" x2="212.28" y2="777.06" stroke="#1f1fe8" stroke-width="1.7" stroke-dasharray="4.6 3.8" stroke-dashoffset="0"/>
<line x1="210.08" y1="777.06" x2="214.48" y2="777.06" stroke="#1f1fe8" stroke-width="1.7"/>
<line x1="212.28" y1="793.48" x2="212.28" y2="800.16" stroke="#1f1fe8" stroke-width="1.7" stroke-dasharray="4.6 3.8" stroke-dashoffset="0"/>
<line x1="210.08" y1="800.16" x2="214.48" y2="800.16" stroke="#1f1fe8" stroke-width="1.7"/>
<line x1="220.3" y1="775.62" x2="220.3" y2="769.95" stroke="#1f1fe8" stroke-width="1.7" stroke-dasharray="4.6 3.8" stroke-dashoffset="0"/>
<line x1="218.1" y1="769.95" x2="222.5" y2="769.95" stroke="#1f1fe8" stroke-width="1.7"/>
<line x1="220.3" y1="786.12" x2="220.3" y2="792.51" stroke="#1f1fe8" stroke-width="1.7" stroke-dasharray="4.6 3.8" stroke-dashoffset="0"/>
<line x1="218.1" y1="792.51" x2="222.5" y2="792.51" stroke="#1f1fe8" stroke-width="1.7"/>
<line x1="228.32" y1="794.96" x2="228.32" y2="788.43" stroke="#1f1fe8" stroke-width="1.7" stroke-dasharray="4.6 3.8" stroke-dashoffset="0"/>
<line x1="226.12" y1="788.43" x2="230.52" y2="788.43" stroke="#1f1fe8" stroke-width="1.7"/>
<line x1="228.32" y1="805.46" x2="228.32" y2="812.84" stroke="#1f1fe8" stroke-width="1.7" stroke-dasharray="4.6 3.8" stroke-dashoffset="0"/>
<line x1="226.12" y1="812.84" x2="230.52" y2="812.84" stroke="#1f1fe8" stroke-width="1.7"/>
<line x1="236.34" y1="779.57" x2="236.34" y2="773.53" stroke="#1f1fe8" stroke-width="1.7" stroke-dasharray="4.6 3.8" stroke-dashoffset="0"/>
<line x1="234.14" y1="773.53" x2="238.54" y2="773.53" stroke="#1f1fe8" stroke-width="1.7"/>
<line x1="236.34" y1="790.07" x2="236.34" y2="796.88" stroke="#1f1fe8" stroke-width="1.7" stroke-dasharray="4.6 3.8" stroke-dashoffset="0"/>
<line x1="234.14" y1="796.88" x2="238.54" y2="796.88" stroke="#1f1fe8" stroke-width="1.7"/>
<line x1="244.36" y1="799.83" x2="244.36" y2="793.3" stroke="#1f1fe8" stroke-width="1.7" stroke-dasharray="4.6 3.8" stroke-dashoffset="0"/>
<line x1="242.16" y1="793.3" x2="246.56" y2="793.3" stroke="#1f1fe8" stroke-width="1.7"/>
<line x1="244.36" y1="810.33" x2="244.36" y2="817.71" stroke="#1f1fe8" stroke-width="1.7" stroke-dasharray="4.6 3.8" stroke-dashoffset="0"/>
<line x1="242.16" y1="817.71" x2="246.56" y2="817.71" stroke="#1f1fe8" stroke-width="1.7"/>
<line x1="252.38" y1="739.27" x2="252.38" y2="733.25" stroke="#1f1fe8" stroke-width="1.7" stroke-dasharray="4.6 3.8" stroke-dashoffset="0"/>
<line x1="250.18" y1="733.25" x2="254.58" y2="733.25" stroke="#1f1fe8" stroke-width="1.7"/>
<line x1="252.38" y1="749.77" x2="252.38" y2="756.55" stroke="#1f1fe8" stroke-width="1.7" stroke-dasharray="4.6 3.8" stroke-dashoffset="0"/>
<line x1="250.18" y1="756.55" x2="254.58" y2="756.55" stroke="#1f1fe8" stroke-width="1.7"/>
<line x1="260.41" y1="800.42" x2="260.41" y2="793.54" stroke="#1f1fe8" stroke-width="1.7" stroke-dasharray="4.6 3.8" stroke-dashoffset="0"/>
<line x1="258.21" y1="793.54" x2="262.61" y2="793.54" stroke="#1f1fe8" stroke-width="1.7"/>
<line x1="260.41" y1="810.92" x2="260.41" y2="818.69" stroke="#1f1fe8" stroke-width="1.7" stroke-dasharray="4.6 3.8" stroke-dashoffset="0"/>
<line x1="258.21" y1="818.69" x2="262.61" y2="818.69" stroke="#1f1fe8" stroke-width="1.7"/>
<line x1="268.43" y1="793.82" x2="268.43" y2="786.44" stroke="#1f1fe8" stroke-width="1.7" stroke-dasharray="4.6 3.8" stroke-dashoffset="0"/>
<line x1="266.23" y1="786.44" x2="270.63" y2="786.44" stroke="#1f1fe8" stroke-width="1.7"/>
<line x1="268.43" y1="804.32" x2="268.43" y2="812.69" stroke="#1f1fe8" stroke-width="1.7" stroke-dasharray="4.6 3.8" stroke-dashoffset="0"/>
<line x1="266.23" y1="812.69" x2="270.63" y2="812.69" stroke="#1f1fe8" stroke-width="1.7"/>
<line x1="276.45" y1="768.08" x2="276.45" y2="760.07" stroke="#1f1fe8" stroke-width="1.7" stroke-dasharray="4.6 3.8" stroke-dashoffset="0"/>
<line x1="274.25" y1="760.07" x2="278.65" y2="760.07" stroke="#1f1fe8" stroke-width="1.7"/>
<line x1="276.45" y1="778.58" x2="276.45" y2="787.68" stroke="#1f1fe8" stroke-width="1.7" stroke-dasharray="4.6 3.8" stroke-dashoffset="0"/>
<line x1="274.25" y1="787.68" x2="278.65" y2="787.68" stroke="#1f1fe8" stroke-width="1.7"/>
<line x1="284.47" y1="775.29" x2="284.47" y2="767.28" stroke="#1f1fe8" stroke-width="1.7" stroke-dasharray="4.6 3.8" stroke-dashoffset="0"/>
<line x1="282.27" y1="767.28" x2="286.67" y2="767.28" stroke="#1f1fe8" stroke-width="1.7"/>
<line x1="284.47" y1="785.79" x2="284.47" y2="794.88" stroke="#1f1fe8" stroke-width="1.7" stroke-dasharray="4.6 3.8" stroke-dashoffset="0"/>
<line x1="282.27" y1="794.88" x2="286.67" y2="794.88" stroke="#1f1fe8" stroke-width="1.7"/>
<line x1="292.49" y1="774.8" x2="292.49" y2="766.59" stroke="#1f1fe8" stroke-width="1.7" stroke-dasharray="4.6 3.8" stroke-dashoffset="0"/>
<line x1="290.29" y1="766.59" x2="294.69" y2="766.59" stroke="#1f1fe8" stroke-width="1.7"/>
<line x1="292.49" y1="785.3" x2="292.49" y2="794.63" stroke="#1f1fe8" stroke-width="1.7" stroke-dasharray="4.6 3.8" stroke-dashoffset="0"/>
<line x1="290.29" y1="794.63" x2="294.69" y2="794.63" stroke="#1f1fe8" stroke-width="1.7"/>
<line x1="300.51" y1="758.54" x2="300.51" y2="748.94" stroke="#1f1fe8" stroke-width="1.7" stroke-dasharray="4.6 3.8" stroke-dashoffset="0"/>
<line x1="298.31" y1="748.94" x2="302.71" y2="748.94" stroke="#1f1fe8" stroke-width="1.7"/>
<line x1="300.51" y1="769.04" x2="300.51" y2="780.01" stroke="#1f1fe8" stroke-width="1.7" stroke-dasharray="4.6 3.8" stroke-dashoffset="0"/>
<line x1="298.31" y1="780.01" x2="302.71" y2="780.01" stroke="#1f1fe8" stroke-width="1.7"/>
<line x1="308.53" y1="798.23" x2="308.53" y2="788.41" stroke="#1f1fe8" stroke-width="1.7" stroke-dasharray="4.6 3.8" stroke-dashoffset="0"/>
<line x1="306.33" y1="788.41" x2="310.73" y2="788.41" stroke="#1f1fe8" stroke-width="1.7"/>
<line x1="308.53" y1="808.73" x2="308.53" y2="819.98" stroke="#1f1fe8" stroke-width="1.7" stroke-dasharray="4.6 3.8" stroke-dashoffset="0"/>
<line x1="306.33" y1="819.98" x2="310.73" y2="819.98" stroke="#1f1fe8" stroke-width="1.7"/>
<line x1="316.55" y1="786.95" x2="316.55" y2="776.77" stroke="#1f1fe8" stroke-width="1.7" stroke-dasharray="4.6 3.8" stroke-dashoffset="0"/>
<line x1="314.35" y1="776.77" x2="318.75" y2="776.77" stroke="#1f1fe8" stroke-width="1.7"/>
<line x1="316.55" y1="797.45" x2="316.55" y2="809.13" stroke="#1f1fe8" stroke-width="1.7" stroke-dasharray="4.6 3.8" stroke-dashoffset="0"/>
<line x1="314.35" y1="809.13" x2="318.75" y2="809.13" stroke="#1f1fe8" stroke-width="1.7"/>
<line x1="324.57" y1="826.12" x2="324.57" y2="814.33" stroke="#1f1fe8" stroke-width="1.7" stroke-dasharray="4.6 3.8" stroke-dashoffset="0"/>
<line x1="322.37" y1="814.33" x2="326.77" y2="814.33" stroke="#1f1fe8" stroke-width="1.7"/>
<line x1="324.57" y1="836.62" x2="324.57" y2="850.24" stroke="#1f1fe8" stroke-width="1.7" stroke-dasharray="4.6 3.8" stroke-dashoffset="0"/>
<line x1="322.37" y1="850.24" x2="326.77" y2="850.24" stroke="#1f1fe8" stroke-width="1.7"/>
<line x1="332.59" y1="789.95" x2="332.59" y2="778.41" stroke="#1f1fe8" stroke-width="1.7" stroke-dasharray="4.6 3.8" stroke-dashoffset="0"/>
<line x1="330.39" y1="778.41" x2="334.79" y2="778.41" stroke="#1f1fe8" stroke-width="1.7"/>
<line x1="332.59" y1="800.45" x2="332.59" y2="813.77" stroke="#1f1fe8" stroke-width="1.7" stroke-dasharray="4.6 3.8" stroke-dashoffset="0"/>
<line x1="330.39" y1="813.77" x2="334.79" y2="813.77" stroke="#1f1fe8" stroke-width="1.7"/>
<line x1="340.61" y1="840.38" x2="340.61" y2="826.47" stroke="#1f1fe8" stroke-width="1.7" stroke-dasharray="4.6 3.8" stroke-dashoffset="0"/>
<line x1="338.41" y1="826.47" x2="342.81" y2="826.47" stroke="#1f1fe8" stroke-width="1.7"/>
<line x1="340.61" y1="850.88" x2="340.61" y2="867.13" stroke="#1f1fe8" stroke-width="1.7" stroke-dasharray="4.6 3.8" stroke-dashoffset="0"/>
<line x1="338.41" y1="867.13" x2="342.81" y2="867.13" stroke="#1f1fe8" stroke-width="1.7"/>
<line x1="348.63" y1="835.94" x2="348.63" y2="821.4" stroke="#1f1fe8" stroke-width="1.7" stroke-dasharray="4.6 3.8" stroke-dashoffset="0"/>
<line x1="346.43" y1="821.4" x2="350.83" y2="821.4" stroke="#1f1fe8" stroke-width="1.7"/>
<line x1="348.63" y1="846.44" x2="348.63" y2="863.5" stroke="#1f1fe8" stroke-width="1.7" stroke-dasharray="4.6 3.8" stroke-dashoffset="0"/>
<line x1="346.43" y1="863.5" x2="350.83" y2="863.5" stroke="#1f1fe8" stroke-width="1.7"/>
<line x1="356.66" y1="764.25" x2="356.66" y2="751.75" stroke="#1f1fe8" stroke-width="1.7" stroke-dasharray="4.6 3.8" stroke-dashoffset="0"/>
<line x1="354.46" y1="751.75" x2="358.86" y2="751.75" stroke="#1f1fe8" stroke-width="1.7"/>
<line x1="356.66" y1="774.75" x2="356.66" y2="789.26" stroke="#1f1fe8" stroke-width="1.7" stroke-dasharray="4.6 3.8" stroke-dashoffset="0"/>
<line x1="354.46" y1="789.26" x2="358.86" y2="789.26" stroke="#1f1fe8" stroke-width="1.7"/>
<line x1="364.68" y1="789.95" x2="364.68" y2="774.24" stroke="#1f1fe8" stroke-width="1.7" stroke-dasharray="4.6 3.8" stroke-dashoffset="0"/>
<line x1="362.48" y1="774.24" x2="366.88" y2="774.24" stroke="#1f1fe8" stroke-width="1.7"/>
<line x1="364.68" y1="800.45" x2="364.68" y2="819.01" stroke="#1f1fe8" stroke-width="1.7" stroke-dasharray="4.6 3.8" stroke-dashoffset="0"/>
<line x1="362.48" y1="819.01" x2="366.88" y2="819.01" stroke="#1f1fe8" stroke-width="1.7"/>
<line x1="372.7" y1="867.13" x2="372.7" y2="848.51" stroke="#1f1fe8" stroke-width="1.7" stroke-dasharray="4.6 3.8" stroke-dashoffset="0"/>
<line x1="370.5" y1="848.51" x2="374.9" y2="848.51" stroke="#1f1fe8" stroke-width="1.7"/>
<line x1="372.7" y1="877.63" x2="372.7" y2="900.02" stroke="#1f1fe8" stroke-width="1.7" stroke-dasharray="4.6 3.8" stroke-dashoffset="0"/>
<line x1="370.5" y1="900.02" x2="374.9" y2="900.02" stroke="#1f1fe8" stroke-width="1.7"/>
<line x1="380.72" y1="803.54" x2="380.72" y2="787.84" stroke="#1f1fe8" stroke-width="1.7" stroke-dasharray="4.6 3.8" stroke-dashoffset="0"/>
<line x1="378.52" y1="787.84" x2="382.92" y2="787.84" stroke="#1f1fe8" stroke-width="1.7"/>
<line x1="380.72" y1="814.04" x2="380.72" y2="832.6" stroke="#1f1fe8" stroke-width="1.7" stroke-dasharray="4.6 3.8" stroke-dashoffset="0"/>
<line x1="378.52" y1="832.6" x2="382.92" y2="832.6" stroke="#1f1fe8" stroke-width="1.7"/>
<line x1="388.74" y1="840.38" x2="388.74" y2="821.27" stroke="#1f1fe8" stroke-width="1.7" stroke-dasharray="4.6 3.8" stroke-dashoffset="0"/>
<line x1="386.54" y1="821.27" x2="390.94" y2="821.27" stroke="#1f1fe8" stroke-width="1.7"/>
<line x1="388.74" y1="850.88" x2="388.74" y2="873.92" stroke="#1f1fe8" stroke-width="1.7" stroke-dasharray="4.6 3.8" stroke-dashoffset="0"/>
<line x1="386.54" y1="873.92" x2="390.94" y2="873.92" stroke="#1f1fe8" stroke-width="1.7"/>
<line x1="396.76" y1="803.98" x2="396.76" y2="785.6" stroke="#1f1fe8" stroke-width="1.7" stroke-dasharray="4.6 3.8" stroke-dashoffset="0"/>
<line x1="394.56" y1="785.6" x2="398.96" y2="785.6" stroke="#1f1fe8" stroke-width="1.7"/>
<line x1="396.76" y1="814.48" x2="396.76" y2="836.55" stroke="#1f1fe8" stroke-width="1.7" stroke-dasharray="4.6 3.8" stroke-dashoffset="0"/>
<line x1="394.56" y1="836.55" x2="398.96" y2="836.55" stroke="#1f1fe8" stroke-width="1.7"/>
<line x1="404.78" y1="750.84" x2="404.78" y2="734.8" stroke="#1f1fe8" stroke-width="1.7" stroke-dasharray="4.6 3.8" stroke-dashoffset="0"/>
<line x1="402.58" y1="734.8" x2="406.98" y2="734.8" stroke="#1f1fe8" stroke-width="1.7"/>
<line x1="404.78" y1="761.34" x2="404.78" y2="780.32" stroke="#1f1fe8" stroke-width="1.7" stroke-dasharray="4.6 3.8" stroke-dashoffset="0"/>
<line x1="402.58" y1="780.32" x2="406.98" y2="780.32" stroke="#1f1fe8" stroke-width="1.7"/>
<line x1="412.8" y1="802.94" x2="412.8" y2="782.15" stroke="#1f1fe8" stroke-width="1.7" stroke-dasharray="4.6 3.8" stroke-dashoffset="0"/>
<line x1="410.6" y1="782.15" x2="415" y2="782.15" stroke="#1f1fe8" stroke-width="1.7"/>
<line x1="412.8" y1="813.44" x2="412.8" y2="838.78" stroke="#1f1fe8" stroke-width="1.7" stroke-dasharray="4.6 3.8" stroke-dashoffset="0"/>
<line x1="410.6" y1="838.78" x2="415" y2="838.78" stroke="#1f1fe8" stroke-width="1.7"/>
<line x1="420.82" y1="775.13" x2="420.82" y2="753.7" stroke="#1f1fe8" stroke-width="1.7" stroke-dasharray="4.6 3.8" stroke-dashoffset="0"/>
<line x1="418.62" y1="753.7" x2="423.02" y2="753.7" stroke="#1f1fe8" stroke-width="1.7"/>
<line x1="420.82" y1="785.63" x2="420.82" y2="811.86" stroke="#1f1fe8" stroke-width="1.7" stroke-dasharray="4.6 3.8" stroke-dashoffset="0"/>
<line x1="418.62" y1="811.86" x2="423.02" y2="811.86" stroke="#1f1fe8" stroke-width="1.7"/>
<line x1="428.84" y1="729.84" x2="428.84" y2="706.13" stroke="#1f1fe8" stroke-width="1.7" stroke-dasharray="4.6 3.8" stroke-dashoffset="0"/>
<line x1="426.64" y1="706.13" x2="431.04" y2="706.13" stroke="#1f1fe8" stroke-width="1.7"/>
<line x1="428.84" y1="740.34" x2="428.84" y2="769.79" stroke="#1f1fe8" stroke-width="1.7" stroke-dasharray="4.6 3.8" stroke-dashoffset="0"/>
<line x1="426.64" y1="769.79" x2="431.04" y2="769.79" stroke="#1f1fe8" stroke-width="1.7"/>
<line x1="436.86" y1="789.95" x2="436.86" y2="763.24" stroke="#1f1fe8" stroke-width="1.7" stroke-dasharray="4.6 3.8" stroke-dashoffset="0"/>
<line x1="434.66" y1="763.24" x2="439.06" y2="763.24" stroke="#1f1fe8" stroke-width="1.7"/>
<line x1="436.86" y1="800.45" x2="436.86" y2="834.31" stroke="#1f1fe8" stroke-width="1.7" stroke-dasharray="4.6 3.8" stroke-dashoffset="0"/>
<line x1="434.66" y1="834.31" x2="439.06" y2="834.31" stroke="#1f1fe8" stroke-width="1.7"/>
<line x1="444.88" y1="837.62" x2="444.88" y2="803.75" stroke="#1f1fe8" stroke-width="1.7" stroke-dasharray="4.6 3.8" stroke-dashoffset="0"/>
<line x1="442.68" y1="803.75" x2="447.08" y2="803.75" stroke="#1f1fe8" stroke-width="1.7"/>
<line x1="444.88" y1="848.12" x2="444.88" y2="893.29" stroke="#1f1fe8" stroke-width="1.7" stroke-dasharray="4.6 3.8" stroke-dashoffset="0"/>
<line x1="442.68" y1="893.29" x2="447.08" y2="893.29" stroke="#1f1fe8" stroke-width="1.7"/>
<line x1="452.9" y1="756.46" x2="452.9" y2="728.51" stroke="#1f1fe8" stroke-width="1.7" stroke-dasharray="4.6 3.8" stroke-dashoffset="0"/>
<line x1="450.7" y1="728.51" x2="455.1" y2="728.51" stroke="#1f1fe8" stroke-width="1.7"/>
<line x1="452.9" y1="766.96" x2="452.9" y2="802.7" stroke="#1f1fe8" stroke-width="1.7" stroke-dasharray="4.6 3.8" stroke-dashoffset="0"/>
<line x1="450.7" y1="802.7" x2="455.1" y2="802.7" stroke="#1f1fe8" stroke-width="1.7"/>
<line x1="460.93" y1="781.4" x2="460.93" y2="752.05" stroke="#1f1fe8" stroke-width="1.7" stroke-dasharray="4.6 3.8" stroke-dashoffset="0"/>
<line x1="458.73" y1="752.05" x2="463.13" y2="752.05" stroke="#1f1fe8" stroke-width="1.7"/>
<line x1="460.93" y1="791.9" x2="460.93" y2="829.8" stroke="#1f1fe8" stroke-width="1.7" stroke-dasharray="4.6 3.8" stroke-dashoffset="0"/>
<line x1="458.73" y1="829.8" x2="463.13" y2="829.8" stroke="#1f1fe8" stroke-width="1.7"/>
<line x1="468.95" y1="852.47" x2="468.95" y2="801.52" stroke="#1f1fe8" stroke-width="1.7" stroke-dasharray="4.6 3.8" stroke-dashoffset="0"/>
<line x1="466.75" y1="801.52" x2="471.15" y2="801.52" stroke="#1f1fe8" stroke-width="1.7"/>
<line x1="468.95" y1="862.97" x2="468.95" y2="940.94" stroke="#1f1fe8" stroke-width="1.7" stroke-dasharray="4.6 3.8" stroke-dashoffset="0"/>
<line x1="466.75" y1="940.94" x2="471.15" y2="940.94" stroke="#1f1fe8" stroke-width="1.7"/>
<line x1="476.97" y1="819.23" x2="476.97" y2="778.29" stroke="#1f1fe8" stroke-width="1.7" stroke-dasharray="4.6 3.8" stroke-dashoffset="0"/>
<line x1="474.77" y1="778.29" x2="479.17" y2="778.29" stroke="#1f1fe8" stroke-width="1.7"/>
<line x1="476.97" y1="829.73" x2="476.97" y2="887.38" stroke="#1f1fe8" stroke-width="1.7" stroke-dasharray="4.6 3.8" stroke-dashoffset="0"/>
<line x1="474.77" y1="887.38" x2="479.17" y2="887.38" stroke="#1f1fe8" stroke-width="1.7"/>
<line x1="484.99" y1="725.49" x2="484.99" y2="687.83" stroke="#1f1fe8" stroke-width="1.7" stroke-dasharray="4.6 3.8" stroke-dashoffset="0"/>
<line x1="482.79" y1="687.83" x2="487.19" y2="687.83" stroke="#1f1fe8" stroke-width="1.7"/>
<line x1="484.99" y1="735.99" x2="484.99" y2="787.68" stroke="#1f1fe8" stroke-width="1.7" stroke-dasharray="4.6 3.8" stroke-dashoffset="0"/>
<line x1="482.79" y1="787.68" x2="487.19" y2="787.68" stroke="#1f1fe8" stroke-width="1.7"/>
<line x1="493.01" y1="821.91" x2="493.01" y2="778.99" stroke="#1f1fe8" stroke-width="1.7" stroke-dasharray="4.6 3.8" stroke-dashoffset="0"/>
<line x1="490.81" y1="778.99" x2="495.21" y2="778.99" stroke="#1f1fe8" stroke-width="1.7"/>
<line x1="493.01" y1="832.41" x2="493.01" y2="893.79" stroke="#1f1fe8" stroke-width="1.7" stroke-dasharray="4.6 3.8" stroke-dashoffset="0"/>
<line x1="490.81" y1="893.79" x2="495.21" y2="893.79" stroke="#1f1fe8" stroke-width="1.7"/>
<line x1="501.03" y1="882.96" x2="501.03" y2="840.05" stroke="#1f1fe8" stroke-width="1.7" stroke-dasharray="4.6 3.8" stroke-dashoffset="0"/>
<line x1="498.83" y1="840.05" x2="503.23" y2="840.05" stroke="#1f1fe8" stroke-width="1.7"/>
<line x1="501.03" y1="893.46" x2="501.03" y2="954.84" stroke="#1f1fe8" stroke-width="1.7" stroke-dasharray="4.6 3.8" stroke-dashoffset="0"/>
<line x1="498.83" y1="954.84" x2="503.23" y2="954.84" stroke="#1f1fe8" stroke-width="1.7"/>
<line x1="509.05" y1="854.41" x2="509.05" y2="809.23" stroke="#1f1fe8" stroke-width="1.7" stroke-dasharray="4.6 3.8" stroke-dashoffset="0"/>
<line x1="506.85" y1="809.23" x2="511.25" y2="809.23" stroke="#1f1fe8" stroke-width="1.7"/>
<line x1="509.05" y1="864.91" x2="509.05" y2="930.73" stroke="#1f1fe8" stroke-width="1.7" stroke-dasharray="4.6 3.8" stroke-dashoffset="0"/>
<line x1="506.85" y1="930.73" x2="511.25" y2="930.73" stroke="#1f1fe8" stroke-width="1.7"/>
<line x1="517.07" y1="808.42" x2="517.07" y2="763.24" stroke="#1f1fe8" stroke-width="1.7" stroke-dasharray="4.6 3.8" stroke-dashoffset="0"/>
<line x1="514.87" y1="763.24" x2="519.27" y2="763.24" stroke="#1f1fe8" stroke-width="1.7"/>
<line x1="517.07" y1="818.92" x2="517.07" y2="884.74" stroke="#1f1fe8" stroke-width="1.7" stroke-dasharray="4.6 3.8" stroke-dashoffset="0"/>
<line x1="514.87" y1="884.74" x2="519.27" y2="884.74" stroke="#1f1fe8" stroke-width="1.7"/>
<line x1="525.09" y1="789.95" x2="525.09" y2="735.19" stroke="#1f1fe8" stroke-width="1.7" stroke-dasharray="4.6 3.8" stroke-dashoffset="0"/>
<line x1="522.89" y1="735.19" x2="527.29" y2="735.19" stroke="#1f1fe8" stroke-width="1.7"/>
<line x1="525.09" y1="800.45" x2="525.09" y2="887.17" stroke="#1f1fe8" stroke-width="1.7" stroke-dasharray="4.6 3.8" stroke-dashoffset="0"/>
<line x1="522.89" y1="887.17" x2="527.29" y2="887.17" stroke="#1f1fe8" stroke-width="1.7"/>
<line x1="533.11" y1="686.92" x2="533.11" y2="641.74" stroke="#1f1fe8" stroke-width="1.7" stroke-dasharray="4.6 3.8" stroke-dashoffset="0"/>
<line x1="530.91" y1="641.74" x2="535.31" y2="641.74" stroke="#1f1fe8" stroke-width="1.7"/>
<line x1="533.11" y1="697.42" x2="533.11" y2="763.24" stroke="#1f1fe8" stroke-width="1.7" stroke-dasharray="4.6 3.8" stroke-dashoffset="0"/>
<line x1="530.91" y1="763.24" x2="535.31" y2="763.24" stroke="#1f1fe8" stroke-width="1.7"/>
<line x1="541.13" y1="980.55" x2="541.13" y2="907.89" stroke="#1f1fe8" stroke-width="1.7" stroke-dasharray="4.6 3.8" stroke-dashoffset="0"/>
<line x1="538.93" y1="907.89" x2="543.33" y2="907.89" stroke="#1f1fe8" stroke-width="1.7"/>
<line x1="557.18" y1="840.38" x2="557.18" y2="765.74" stroke="#1f1fe8" stroke-width="1.7" stroke-dasharray="4.6 3.8" stroke-dashoffset="0"/>
<line x1="554.98" y1="765.74" x2="559.38" y2="765.74" stroke="#1f1fe8" stroke-width="1.7"/>
<line x1="557.18" y1="850.88" x2="557.18" y2="975.8" stroke="#1f1fe8" stroke-width="1.7" stroke-dasharray="4.6 3.8" stroke-dashoffset="0"/>
<line x1="554.98" y1="975.8" x2="559.38" y2="975.8" stroke="#1f1fe8" stroke-width="1.7"/>
<line x1="565.2" y1="861.02" x2="565.2" y2="795.2" stroke="#1f1fe8" stroke-width="1.7" stroke-dasharray="4.6 3.8" stroke-dashoffset="0"/>
<line x1="563" y1="795.2" x2="567.4" y2="795.2" stroke="#1f1fe8" stroke-width="1.7"/>
<line x1="565.2" y1="871.52" x2="565.2" y2="975.8" stroke="#1f1fe8" stroke-width="1.7" stroke-dasharray="4.6 3.8" stroke-dashoffset="0"/>
<line x1="563" y1="975.8" x2="567.4" y2="975.8" stroke="#1f1fe8" stroke-width="1.7"/>
<line x1="573.22" y1="861.02" x2="573.22" y2="772.53" stroke="#1f1fe8" stroke-width="1.7" stroke-dasharray="4.6 3.8" stroke-dashoffset="0"/>
<line x1="571.02" y1="772.53" x2="575.42" y2="772.53" stroke="#1f1fe8" stroke-width="1.7"/>
<line x1="573.22" y1="871.52" x2="573.22" y2="975.8" stroke="#1f1fe8" stroke-width="1.7" stroke-dasharray="4.6 3.8" stroke-dashoffset="0"/>
<line x1="571.02" y1="975.8" x2="575.42" y2="975.8" stroke="#1f1fe8" stroke-width="1.7"/>
<line x1="589.26" y1="911.45" x2="589.26" y2="795.2" stroke="#1f1fe8" stroke-width="1.7" stroke-dasharray="4.6 3.8" stroke-dashoffset="0"/>
<line x1="587.06" y1="795.2" x2="591.46" y2="795.2" stroke="#1f1fe8" stroke-width="1.7"/>
<line x1="589.26" y1="921.95" x2="589.26" y2="975.8" stroke="#1f1fe8" stroke-width="1.7" stroke-dasharray="4.6 3.8" stroke-dashoffset="0"/>
<line x1="587.06" y1="975.8" x2="591.46" y2="975.8" stroke="#1f1fe8" stroke-width="1.7"/>
<line x1="605.3" y1="789.95" x2="605.3" y2="673.7" stroke="#1f1fe8" stroke-width="1.7" stroke-dasharray="4.6 3.8" stroke-dashoffset="0"/>
<line x1="603.1" y1="673.7" x2="607.5" y2="673.7" stroke="#1f1fe8" stroke-width="1.7"/>
<line x1="605.3" y1="800.45" x2="605.3" y2="975.8" stroke="#1f1fe8" stroke-width="1.7" stroke-dasharray="4.6 3.8" stroke-dashoffset="0"/>
<line x1="603.1" y1="975.8" x2="607.5" y2="975.8" stroke="#1f1fe8" stroke-width="1.7"/>
<line x1="613.32" y1="789.95" x2="613.32" y2="673.7" stroke="#1f1fe8" stroke-width="1.7" stroke-dasharray="4.6 3.8" stroke-dashoffset="0"/>
<line x1="611.12" y1="673.7" x2="615.52" y2="673.7" stroke="#1f1fe8" stroke-width="1.7"/>
<line x1="613.32" y1="800.45" x2="613.32" y2="975.8" stroke="#1f1fe8" stroke-width="1.7" stroke-dasharray="4.6 3.8" stroke-dashoffset="0"/>
<line x1="611.12" y1="975.8" x2="615.52" y2="975.8" stroke="#1f1fe8" stroke-width="1.7"/>
<line x1="621.34" y1="980.55" x2="621.34" y2="955.81" stroke="#1f1fe8" stroke-width="1.7" stroke-dasharray="4.6 3.8" stroke-dashoffset="0"/>
<line x1="619.14" y1="955.81" x2="623.54" y2="955.81" stroke="#1f1fe8" stroke-width="1.7"/>
<line x1="637.38" y1="789.95" x2="637.38" y2="673.7" stroke="#1f1fe8" stroke-width="1.7" stroke-dasharray="4.6 3.8" stroke-dashoffset="0"/>
<line x1="635.18" y1="673.7" x2="639.58" y2="673.7" stroke="#1f1fe8" stroke-width="1.7"/>
<line x1="637.38" y1="800.45" x2="637.38" y2="975.8" stroke="#1f1fe8" stroke-width="1.7" stroke-dasharray="4.6 3.8" stroke-dashoffset="0"/>
<line x1="635.18" y1="975.8" x2="639.58" y2="975.8" stroke="#1f1fe8" stroke-width="1.7"/>
</g>
<circle cx="108.01" cy="872.65" r="4.4" fill="none" stroke="#1f1fe8" stroke-width="1.7"/>
<circle cx="116.03" cy="799.64" r="4.4" fill="none" stroke="#1f1fe8" stroke-width="1.7"/>
<circle cx="124.05" cy="789.97" r="4.4" fill="none" stroke="#1f1fe8" stroke-width="1.7"/>
<circle cx="132.07" cy="788.83" r="4.4" fill="none" stroke="#1f1fe8" stroke-width="1.7"/>
<circle cx="140.09" cy="783.64" r="4.4" fill="none" stroke="#1f1fe8" stroke-width="1.7"/>
<circle cx="148.11" cy="818.79" r="4.4" fill="none" stroke="#1f1fe8" stroke-width="1.7"/>
<circle cx="156.14" cy="781.51" r="4.4" fill="none" stroke="#1f1fe8" stroke-width="1.7"/>
<circle cx="164.16" cy="812.53" r="4.4" fill="none" stroke="#1f1fe8" stroke-width="1.7"/>
<circle cx="172.18" cy="793.39" r="4.4" fill="none" stroke="#1f1fe8" stroke-width="1.7"/>
<circle cx="180.2" cy="764.37" r="4.4" fill="none" stroke="#1f1fe8" stroke-width="1.7"/>
<circle cx="188.22" cy="789.48" r="4.4" fill="none" stroke="#1f1fe8" stroke-width="1.7"/>
<circle cx="196.24" cy="788.65" r="4.4" fill="none" stroke="#1f1fe8" stroke-width="1.7"/>
<circle cx="204.26" cy="780.72" r="4.4" fill="none" stroke="#1f1fe8" stroke-width="1.7"/>
<circle cx="212.28" cy="788.23" r="4.4" fill="none" stroke="#1f1fe8" stroke-width="1.7"/>
<circle cx="220.3" cy="780.87" r="4.4" fill="none" stroke="#1f1fe8" stroke-width="1.7"/>
<circle cx="228.32" cy="800.21" r="4.4" fill="none" stroke="#1f1fe8" stroke-width="1.7"/>
<circle cx="236.34" cy="784.82" r="4.4" fill="none" stroke="#1f1fe8" stroke-width="1.7"/>
<circle cx="244.36" cy="805.08" r="4.4" fill="none" stroke="#1f1fe8" stroke-width="1.7"/>
<circle cx="252.38" cy="744.52" r="4.4" fill="none" stroke="#1f1fe8" stroke-width="1.7"/>
<circle cx="260.41" cy="805.67" r="4.4" fill="none" stroke="#1f1fe8" stroke-width="1.7"/>
<circle cx="268.43" cy="799.07" r="4.4" fill="none" stroke="#1f1fe8" stroke-width="1.7"/>
<circle cx="276.45" cy="773.33" r="4.4" fill="none" stroke="#1f1fe8" stroke-width="1.7"/>
<circle cx="284.47" cy="780.54" r="4.4" fill="none" stroke="#1f1fe8" stroke-width="1.7"/>
<circle cx="292.49" cy="780.05" r="4.4" fill="none" stroke="#1f1fe8" stroke-width="1.7"/>
<circle cx="300.51" cy="763.79" r="4.4" fill="none" stroke="#1f1fe8" stroke-width="1.7"/>
<circle cx="308.53" cy="803.48" r="4.4" fill="none" stroke="#1f1fe8" stroke-width="1.7"/>
<circle cx="316.55" cy="792.2" r="4.4" fill="none" stroke="#1f1fe8" stroke-width="1.7"/>
<circle cx="324.57" cy="831.37" r="4.4" fill="none" stroke="#1f1fe8" stroke-width="1.7"/>
<circle cx="332.59" cy="795.2" r="4.4" fill="none" stroke="#1f1fe8" stroke-width="1.7"/>
<circle cx="340.61" cy="845.63" r="4.4" fill="none" stroke="#1f1fe8" stroke-width="1.7"/>
<circle cx="348.63" cy="841.19" r="4.4" fill="none" stroke="#1f1fe8" stroke-width="1.7"/>
<circle cx="356.66" cy="769.5" r="4.4" fill="none" stroke="#1f1fe8" stroke-width="1.7"/>
<circle cx="364.68" cy="795.2" r="4.4" fill="none" stroke="#1f1fe8" stroke-width="1.7"/>
<circle cx="372.7" cy="872.38" r="4.4" fill="none" stroke="#1f1fe8" stroke-width="1.7"/>
<circle cx="380.72" cy="808.79" r="4.4" fill="none" stroke="#1f1fe8" stroke-width="1.7"/>
<circle cx="388.74" cy="845.63" r="4.4" fill="none" stroke="#1f1fe8" stroke-width="1.7"/>
<circle cx="396.76" cy="809.23" r="4.4" fill="none" stroke="#1f1fe8" stroke-width="1.7"/>
<circle cx="404.78" cy="756.09" r="4.4" fill="none" stroke="#1f1fe8" stroke-width="1.7"/>
<circle cx="412.8" cy="808.19" r="4.4" fill="none" stroke="#1f1fe8" stroke-width="1.7"/>
<circle cx="420.82" cy="780.38" r="4.4" fill="none" stroke="#1f1fe8" stroke-width="1.7"/>
<circle cx="428.84" cy="735.09" r="4.4" fill="none" stroke="#1f1fe8" stroke-width="1.7"/>
<circle cx="436.86" cy="795.2" r="4.4" fill="none" stroke="#1f1fe8" stroke-width="1.7"/>
<circle cx="444.88" cy="842.87" r="4.4" fill="none" stroke="#1f1fe8" stroke-width="1.7"/>
<circle cx="452.9" cy="761.71" r="4.4" fill="none" stroke="#1f1fe8" stroke-width="1.7"/>
<circle cx="460.93" cy="786.65" r="4.4" fill="none" stroke="#1f1fe8" stroke-width="1.7"/>
<circle cx="468.95" cy="857.72" r="4.4" fill="none" stroke="#1f1fe8" stroke-width="1.7"/>
<circle cx="476.97" cy="824.48" r="4.4" fill="none" stroke="#1f1fe8" stroke-width="1.7"/>
<circle cx="484.99" cy="730.74" r="4.4" fill="none" stroke="#1f1fe8" stroke-width="1.7"/>
<circle cx="493.01" cy="827.16" r="4.4" fill="none" stroke="#1f1fe8" stroke-width="1.7"/>
<circle cx="501.03" cy="888.21" r="4.4" fill="none" stroke="#1f1fe8" stroke-width="1.7"/>
<circle cx="509.05" cy="859.66" r="4.4" fill="none" stroke="#1f1fe8" stroke-width="1.7"/>
<circle cx="517.07" cy="813.67" r="4.4" fill="none" stroke="#1f1fe8" stroke-width="1.7"/>
<circle cx="525.09" cy="795.2" r="4.4" fill="none" stroke="#1f1fe8" stroke-width="1.7"/>
<circle cx="533.11" cy="692.17" r="4.4" fill="none" stroke="#1f1fe8" stroke-width="1.7"/>
<circle cx="557.18" cy="845.63" r="4.4" fill="none" stroke="#1f1fe8" stroke-width="1.7"/>
<circle cx="565.2" cy="866.27" r="4.4" fill="none" stroke="#1f1fe8" stroke-width="1.7"/>
<circle cx="573.22" cy="866.27" r="4.4" fill="none" stroke="#1f1fe8" stroke-width="1.7"/>
<circle cx="589.26" cy="916.7" r="4.4" fill="none" stroke="#1f1fe8" stroke-width="1.7"/>
<circle cx="605.3" cy="795.2" r="4.4" fill="none" stroke="#1f1fe8" stroke-width="1.7"/>
<circle cx="613.32" cy="795.2" r="4.4" fill="none" stroke="#1f1fe8" stroke-width="1.7"/>
<circle cx="637.38" cy="795.2" r="4.4" fill="none" stroke="#1f1fe8" stroke-width="1.7"/>
<g clip-path="url(#cr)">
<polyline points="108.01,783.11 116.03,774.55 124.05,809.01 132.07,790.92 140.09,765.92 148.11,805.91 156.14,813.67 164.16,811.39 172.18,796.11 180.2,763.56 188.22,801.98 196.24,772.53 204.26,783.05 212.28,796.79 220.3,788.26 228.32,767.12 236.34,795.2 244.36,826.68 252.38,792.13 260.41,811.15 268.43,807.09 276.45,749.12 284.47,766.01 292.49,783.43 300.51,726.88 308.53,799.29 316.55,771.23 324.57,805.92 332.59,808.05 340.61,781.71 348.63,813.45 356.66,777.66 364.68,771.44 372.7,781.35 380.72,785.04 388.74,820.28 396.76,845.63 404.78,810.45 412.8,795.2 420.82,766.71 428.84,690.41 436.86,788.33 444.88,812.74 452.9,875.75 460.93,857.72 468.95,724.13 476.97,880.3 484.99,744.77 493.01,810.45 501.03,950.73 509.05,841.19 517.07,985.8 525.09,827.16 533.11,736.22 541.13,937.35 549.15,604.6 557.18,845.63 565.2,985.8 573.22,866.27 589.26,916.7 605.3,673.7 613.32,795.2 629.36,795.2 645.4,795.2" fill="none" stroke="#1fd9bf" stroke-width="1.7" stroke-dasharray="1.6 2.55"/>
<line x1="108.01" y1="777.26" x2="108.01" y2="742.85" stroke="#1fd9bf" stroke-width="1.7" stroke-dasharray="1.6 2.55" stroke-dashoffset="2"/>
<line x1="105.81" y1="742.85" x2="110.21" y2="742.85" stroke="#1fd9bf" stroke-width="1.7"/>
<line x1="108.01" y1="788.96" x2="108.01" y2="835.46" stroke="#1fd9bf" stroke-width="1.7" stroke-dasharray="1.6 2.55" stroke-dashoffset="2"/>
<line x1="105.81" y1="835.46" x2="110.21" y2="835.46" stroke="#1fd9bf" stroke-width="1.7"/>
<line x1="116.03" y1="768.7" x2="116.03" y2="750.2" stroke="#1fd9bf" stroke-width="1.7" stroke-dasharray="1.6 2.55" stroke-dashoffset="2"/>
<line x1="113.83" y1="750.2" x2="118.23" y2="750.2" stroke="#1fd9bf" stroke-width="1.7"/>
<line x1="116.03" y1="780.4" x2="116.03" y2="802.85" stroke="#1fd9bf" stroke-width="1.7" stroke-dasharray="1.6 2.55" stroke-dashoffset="2"/>
<line x1="113.83" y1="802.85" x2="118.23" y2="802.85" stroke="#1fd9bf" stroke-width="1.7"/>
<line x1="124.05" y1="803.16" x2="124.05" y2="787.89" stroke="#1fd9bf" stroke-width="1.7" stroke-dasharray="1.6 2.55" stroke-dashoffset="2"/>
<line x1="121.85" y1="787.89" x2="126.25" y2="787.89" stroke="#1fd9bf" stroke-width="1.7"/>
<line x1="124.05" y1="814.86" x2="124.05" y2="833.03" stroke="#1fd9bf" stroke-width="1.7" stroke-dasharray="1.6 2.55" stroke-dashoffset="2"/>
<line x1="121.85" y1="833.03" x2="126.25" y2="833.03" stroke="#1fd9bf" stroke-width="1.7"/>
<line x1="132.07" y1="785.07" x2="132.07" y2="772.67" stroke="#1fd9bf" stroke-width="1.7" stroke-dasharray="1.6 2.55" stroke-dashoffset="2"/>
<line x1="129.87" y1="772.67" x2="134.27" y2="772.67" stroke="#1fd9bf" stroke-width="1.7"/>
<line x1="132.07" y1="796.77" x2="132.07" y2="811.3" stroke="#1fd9bf" stroke-width="1.7" stroke-dasharray="1.6 2.55" stroke-dashoffset="2"/>
<line x1="129.87" y1="811.3" x2="134.27" y2="811.3" stroke="#1fd9bf" stroke-width="1.7"/>
<line x1="140.09" y1="760.07" x2="140.09" y2="749.52" stroke="#1fd9bf" stroke-width="1.7" stroke-dasharray="1.6 2.55" stroke-dashoffset="2"/>
<line x1="137.89" y1="749.52" x2="142.29" y2="749.52" stroke="#1fd9bf" stroke-width="1.7"/>
<line x1="140.09" y1="771.77" x2="140.09" y2="784.01" stroke="#1fd9bf" stroke-width="1.7" stroke-dasharray="1.6 2.55" stroke-dashoffset="2"/>
<line x1="137.89" y1="784.01" x2="142.29" y2="784.01" stroke="#1fd9bf" stroke-width="1.7"/>
<line x1="148.11" y1="800.06" x2="148.11" y2="791.01" stroke="#1fd9bf" stroke-width="1.7" stroke-dasharray="1.6 2.55" stroke-dashoffset="2"/>
<line x1="145.91" y1="791.01" x2="150.31" y2="791.01" stroke="#1fd9bf" stroke-width="1.7"/>
<line x1="148.11" y1="811.76" x2="148.11" y2="822.2" stroke="#1fd9bf" stroke-width="1.7" stroke-dasharray="1.6 2.55" stroke-dashoffset="2"/>
<line x1="145.91" y1="822.2" x2="150.31" y2="822.2" stroke="#1fd9bf" stroke-width="1.7"/>
<line x1="156.14" y1="807.82" x2="156.14" y2="799.64" stroke="#1fd9bf" stroke-width="1.7" stroke-dasharray="1.6 2.55" stroke-dashoffset="2"/>
<line x1="153.94" y1="799.64" x2="158.34" y2="799.64" stroke="#1fd9bf" stroke-width="1.7"/>
<line x1="156.14" y1="819.52" x2="156.14" y2="828.92" stroke="#1fd9bf" stroke-width="1.7" stroke-dasharray="1.6 2.55" stroke-dashoffset="2"/>
<line x1="153.94" y1="828.92" x2="158.34" y2="828.92" stroke="#1fd9bf" stroke-width="1.7"/>
<line x1="164.16" y1="805.54" x2="164.16" y2="797.85" stroke="#1fd9bf" stroke-width="1.7" stroke-dasharray="1.6 2.55" stroke-dashoffset="2"/>
<line x1="161.96" y1="797.85" x2="166.36" y2="797.85" stroke="#1fd9bf" stroke-width="1.7"/>
<line x1="164.16" y1="817.24" x2="164.16" y2="826.07" stroke="#1fd9bf" stroke-width="1.7" stroke-dasharray="1.6 2.55" stroke-dashoffset="2"/>
<line x1="161.96" y1="826.07" x2="166.36" y2="826.07" stroke="#1fd9bf" stroke-width="1.7"/>
<line x1="172.18" y1="790.26" x2="172.18" y2="783.9" stroke="#1fd9bf" stroke-width="1.7" stroke-dasharray="1.6 2.55" stroke-dashoffset="2"/>
<line x1="169.98" y1="783.9" x2="174.38" y2="783.9" stroke="#1fd9bf" stroke-width="1.7"/>
<line x1="172.18" y1="801.96" x2="172.18" y2="809.24" stroke="#1fd9bf" stroke-width="1.7" stroke-dasharray="1.6 2.55" stroke-dashoffset="2"/>
<line x1="169.98" y1="809.24" x2="174.38" y2="809.24" stroke="#1fd9bf" stroke-width="1.7"/>
<line x1="180.2" y1="757.71" x2="180.2" y2="752.08" stroke="#1fd9bf" stroke-width="1.7" stroke-dasharray="1.6 2.55" stroke-dashoffset="2"/>
<line x1="178" y1="752.08" x2="182.4" y2="752.08" stroke="#1fd9bf" stroke-width="1.7"/>
<line x1="180.2" y1="769.41" x2="180.2" y2="775.86" stroke="#1fd9bf" stroke-width="1.7" stroke-dasharray="1.6 2.55" stroke-dashoffset="2"/>
<line x1="178" y1="775.86" x2="182.4" y2="775.86" stroke="#1fd9bf" stroke-width="1.7"/>
<line x1="188.22" y1="796.13" x2="188.22" y2="790.09" stroke="#1fd9bf" stroke-width="1.7" stroke-dasharray="1.6 2.55" stroke-dashoffset="2"/>
<line x1="186.02" y1="790.09" x2="190.42" y2="790.09" stroke="#1fd9bf" stroke-width="1.7"/>
<line x1="188.22" y1="807.83" x2="188.22" y2="814.73" stroke="#1fd9bf" stroke-width="1.7" stroke-dasharray="1.6 2.55" stroke-dashoffset="2"/>
<line x1="186.02" y1="814.73" x2="190.42" y2="814.73" stroke="#1fd9bf" stroke-width="1.7"/>
<line x1="196.24" y1="766.68" x2="196.24" y2="761.54" stroke="#1fd9bf" stroke-width="1.7" stroke-dasharray="1.6 2.55" stroke-dashoffset="2"/>
<line x1="194.04" y1="761.54" x2="198.44" y2="761.54" stroke="#1fd9bf" stroke-width="1.7"/>
<line x1="196.24" y1="778.38" x2="196.24" y2="784.25" stroke="#1fd9bf" stroke-width="1.7" stroke-dasharray="1.6 2.55" stroke-dashoffset="2"/>
<line x1="194.04" y1="784.25" x2="198.44" y2="784.25" stroke="#1fd9bf" stroke-width="1.7"/>
<line x1="204.26" y1="777.2" x2="204.26" y2="771.71" stroke="#1fd9bf" stroke-width="1.7" stroke-dasharray="1.6 2.55" stroke-dashoffset="2"/>
<line x1="202.06" y1="771.71" x2="206.46" y2="771.71" stroke="#1fd9bf" stroke-width="1.7"/>
<line x1="204.26" y1="788.9" x2="204.26" y2="795.17" stroke="#1fd9bf" stroke-width="1.7" stroke-dasharray="1.6 2.55" stroke-dashoffset="2"/>
<line x1="202.06" y1="795.17" x2="206.46" y2="795.17" stroke="#1fd9bf" stroke-width="1.7"/>
<line x1="212.28" y1="790.94" x2="212.28" y2="785.35" stroke="#1fd9bf" stroke-width="1.7" stroke-dasharray="1.6 2.55" stroke-dashoffset="2"/>
<line x1="210.08" y1="785.35" x2="214.48" y2="785.35" stroke="#1fd9bf" stroke-width="1.7"/>
<line x1="212.28" y1="802.64" x2="212.28" y2="809.02" stroke="#1fd9bf" stroke-width="1.7" stroke-dasharray="1.6 2.55" stroke-dashoffset="2"/>
<line x1="210.08" y1="809.02" x2="214.48" y2="809.02" stroke="#1fd9bf" stroke-width="1.7"/>
<line x1="220.3" y1="782.41" x2="220.3" y2="777.12" stroke="#1fd9bf" stroke-width="1.7" stroke-dasharray="1.6 2.55" stroke-dashoffset="2"/>
<line x1="218.1" y1="777.12" x2="222.5" y2="777.12" stroke="#1fd9bf" stroke-width="1.7"/>
<line x1="220.3" y1="794.11" x2="220.3" y2="800.17" stroke="#1fd9bf" stroke-width="1.7" stroke-dasharray="1.6 2.55" stroke-dashoffset="2"/>
<line x1="218.1" y1="800.17" x2="222.5" y2="800.17" stroke="#1fd9bf" stroke-width="1.7"/>
<line x1="228.32" y1="761.27" x2="228.32" y2="756.37" stroke="#1fd9bf" stroke-width="1.7" stroke-dasharray="1.6 2.55" stroke-dashoffset="2"/>
<line x1="226.12" y1="756.37" x2="230.52" y2="756.37" stroke="#1fd9bf" stroke-width="1.7"/>
<line x1="228.32" y1="772.97" x2="228.32" y2="778.58" stroke="#1fd9bf" stroke-width="1.7" stroke-dasharray="1.6 2.55" stroke-dashoffset="2"/>
<line x1="226.12" y1="778.58" x2="230.52" y2="778.58" stroke="#1fd9bf" stroke-width="1.7"/>
<line x1="236.34" y1="789.35" x2="236.34" y2="783.58" stroke="#1fd9bf" stroke-width="1.7" stroke-dasharray="1.6 2.55" stroke-dashoffset="2"/>
<line x1="234.14" y1="783.58" x2="238.54" y2="783.58" stroke="#1fd9bf" stroke-width="1.7"/>
<line x1="236.34" y1="801.05" x2="236.34" y2="807.64" stroke="#1fd9bf" stroke-width="1.7" stroke-dasharray="1.6 2.55" stroke-dashoffset="2"/>
<line x1="234.14" y1="807.64" x2="238.54" y2="807.64" stroke="#1fd9bf" stroke-width="1.7"/>
<line x1="244.36" y1="820.83" x2="244.36" y2="814.18" stroke="#1fd9bf" stroke-width="1.7" stroke-dasharray="1.6 2.55" stroke-dashoffset="2"/>
<line x1="242.16" y1="814.18" x2="246.56" y2="814.18" stroke="#1fd9bf" stroke-width="1.7"/>
<line x1="244.36" y1="832.53" x2="244.36" y2="840.14" stroke="#1fd9bf" stroke-width="1.7" stroke-dasharray="1.6 2.55" stroke-dashoffset="2"/>
<line x1="242.16" y1="840.14" x2="246.56" y2="840.14" stroke="#1fd9bf" stroke-width="1.7"/>
<line x1="252.38" y1="786.28" x2="252.38" y2="779.29" stroke="#1fd9bf" stroke-width="1.7" stroke-dasharray="1.6 2.55" stroke-dashoffset="2"/>
<line x1="250.18" y1="779.29" x2="254.58" y2="779.29" stroke="#1fd9bf" stroke-width="1.7"/>
<line x1="252.38" y1="797.98" x2="252.38" y2="805.99" stroke="#1fd9bf" stroke-width="1.7" stroke-dasharray="1.6 2.55" stroke-dashoffset="2"/>
<line x1="250.18" y1="805.99" x2="254.58" y2="805.99" stroke="#1fd9bf" stroke-width="1.7"/>
<line x1="260.41" y1="805.3" x2="260.41" y2="798.84" stroke="#1fd9bf" stroke-width="1.7" stroke-dasharray="1.6 2.55" stroke-dashoffset="2"/>
<line x1="258.21" y1="798.84" x2="262.61" y2="798.84" stroke="#1fd9bf" stroke-width="1.7"/>
<line x1="260.41" y1="817" x2="260.41" y2="824.38" stroke="#1fd9bf" stroke-width="1.7" stroke-dasharray="1.6 2.55" stroke-dashoffset="2"/>
<line x1="258.21" y1="824.38" x2="262.61" y2="824.38" stroke="#1fd9bf" stroke-width="1.7"/>
<line x1="268.43" y1="801.24" x2="268.43" y2="794.17" stroke="#1fd9bf" stroke-width="1.7" stroke-dasharray="1.6 2.55" stroke-dashoffset="2"/>
<line x1="266.23" y1="794.17" x2="270.63" y2="794.17" stroke="#1fd9bf" stroke-width="1.7"/>
<line x1="268.43" y1="812.94" x2="268.43" y2="821.03" stroke="#1fd9bf" stroke-width="1.7" stroke-dasharray="1.6 2.55" stroke-dashoffset="2"/>
<line x1="266.23" y1="821.03" x2="270.63" y2="821.03" stroke="#1fd9bf" stroke-width="1.7"/>
<line x1="276.45" y1="743.27" x2="276.45" y2="736.71" stroke="#1fd9bf" stroke-width="1.7" stroke-dasharray="1.6 2.55" stroke-dashoffset="2"/>
<line x1="274.25" y1="736.71" x2="278.65" y2="736.71" stroke="#1fd9bf" stroke-width="1.7"/>
<line x1="276.45" y1="754.97" x2="276.45" y2="762.46" stroke="#1fd9bf" stroke-width="1.7" stroke-dasharray="1.6 2.55" stroke-dashoffset="2"/>
<line x1="274.25" y1="762.46" x2="278.65" y2="762.46" stroke="#1fd9bf" stroke-width="1.7"/>
<line x1="284.47" y1="760.16" x2="284.47" y2="753.27" stroke="#1fd9bf" stroke-width="1.7" stroke-dasharray="1.6 2.55" stroke-dashoffset="2"/>
<line x1="282.27" y1="753.27" x2="286.67" y2="753.27" stroke="#1fd9bf" stroke-width="1.7"/>
<line x1="284.47" y1="771.86" x2="284.47" y2="779.75" stroke="#1fd9bf" stroke-width="1.7" stroke-dasharray="1.6 2.55" stroke-dashoffset="2"/>
<line x1="282.27" y1="779.75" x2="286.67" y2="779.75" stroke="#1fd9bf" stroke-width="1.7"/>
<line x1="292.49" y1="777.58" x2="292.49" y2="769.85" stroke="#1fd9bf" stroke-width="1.7" stroke-dasharray="1.6 2.55" stroke-dashoffset="2"/>
<line x1="290.29" y1="769.85" x2="294.69" y2="769.85" stroke="#1fd9bf" stroke-width="1.7"/>
<line x1="292.49" y1="789.28" x2="292.49" y2="798.16" stroke="#1fd9bf" stroke-width="1.7" stroke-dasharray="1.6 2.55" stroke-dashoffset="2"/>
<line x1="290.29" y1="798.16" x2="294.69" y2="798.16" stroke="#1fd9bf" stroke-width="1.7"/>
<line x1="300.51" y1="721.03" x2="300.51" y2="713.46" stroke="#1fd9bf" stroke-width="1.7" stroke-dasharray="1.6 2.55" stroke-dashoffset="2"/>
<line x1="298.31" y1="713.46" x2="302.71" y2="713.46" stroke="#1fd9bf" stroke-width="1.7"/>
<line x1="300.51" y1="732.73" x2="300.51" y2="741.41" stroke="#1fd9bf" stroke-width="1.7" stroke-dasharray="1.6 2.55" stroke-dashoffset="2"/>
<line x1="298.31" y1="741.41" x2="302.71" y2="741.41" stroke="#1fd9bf" stroke-width="1.7"/>
<line x1="308.53" y1="793.44" x2="308.53" y2="784.39" stroke="#1fd9bf" stroke-width="1.7" stroke-dasharray="1.6 2.55" stroke-dashoffset="2"/>
<line x1="306.33" y1="784.39" x2="310.73" y2="784.39" stroke="#1fd9bf" stroke-width="1.7"/>
<line x1="308.53" y1="805.14" x2="308.53" y2="815.58" stroke="#1fd9bf" stroke-width="1.7" stroke-dasharray="1.6 2.55" stroke-dashoffset="2"/>
<line x1="306.33" y1="815.58" x2="310.73" y2="815.58" stroke="#1fd9bf" stroke-width="1.7"/>
<line x1="316.55" y1="765.38" x2="316.55" y2="756.65" stroke="#1fd9bf" stroke-width="1.7" stroke-dasharray="1.6 2.55" stroke-dashoffset="2"/>
<line x1="314.35" y1="756.65" x2="318.75" y2="756.65" stroke="#1fd9bf" stroke-width="1.7"/>
<line x1="316.55" y1="777.08" x2="316.55" y2="787.13" stroke="#1fd9bf" stroke-width="1.7" stroke-dasharray="1.6 2.55" stroke-dashoffset="2"/>
<line x1="314.35" y1="787.13" x2="318.75" y2="787.13" stroke="#1fd9bf" stroke-width="1.7"/>
<line x1="324.57" y1="800.07" x2="324.57" y2="790.02" stroke="#1fd9bf" stroke-width="1.7" stroke-dasharray="1.6 2.55" stroke-dashoffset="2"/>
<line x1="322.37" y1="790.02" x2="326.77" y2="790.02" stroke="#1fd9bf" stroke-width="1.7"/>
<line x1="324.57" y1="811.77" x2="324.57" y2="823.4" stroke="#1fd9bf" stroke-width="1.7" stroke-dasharray="1.6 2.55" stroke-dashoffset="2"/>
<line x1="322.37" y1="823.4" x2="326.77" y2="823.4" stroke="#1fd9bf" stroke-width="1.7"/>
<line x1="332.59" y1="802.2" x2="332.59" y2="790.67" stroke="#1fd9bf" stroke-width="1.7" stroke-dasharray="1.6 2.55" stroke-dashoffset="2"/>
<line x1="330.39" y1="790.67" x2="334.79" y2="790.67" stroke="#1fd9bf" stroke-width="1.7"/>
<line x1="332.59" y1="813.9" x2="332.59" y2="827.35" stroke="#1fd9bf" stroke-width="1.7" stroke-dasharray="1.6 2.55" stroke-dashoffset="2"/>
<line x1="330.39" y1="827.35" x2="334.79" y2="827.35" stroke="#1fd9bf" stroke-width="1.7"/>
<line x1="340.61" y1="775.86" x2="340.61" y2="765.61" stroke="#1fd9bf" stroke-width="1.7" stroke-dasharray="1.6 2.55" stroke-dashoffset="2"/>
<line x1="338.41" y1="765.61" x2="342.81" y2="765.61" stroke="#1fd9bf" stroke-width="1.7"/>
<line x1="340.61" y1="787.56" x2="340.61" y2="799.44" stroke="#1fd9bf" stroke-width="1.7" stroke-dasharray="1.6 2.55" stroke-dashoffset="2"/>
<line x1="338.41" y1="799.44" x2="342.81" y2="799.44" stroke="#1fd9bf" stroke-width="1.7"/>
<line x1="348.63" y1="807.6" x2="348.63" y2="795.09" stroke="#1fd9bf" stroke-width="1.7" stroke-dasharray="1.6 2.55" stroke-dashoffset="2"/>
<line x1="346.43" y1="795.09" x2="350.83" y2="795.09" stroke="#1fd9bf" stroke-width="1.7"/>
<line x1="348.63" y1="819.3" x2="348.63" y2="833.97" stroke="#1fd9bf" stroke-width="1.7" stroke-dasharray="1.6 2.55" stroke-dashoffset="2"/>
<line x1="346.43" y1="833.97" x2="350.83" y2="833.97" stroke="#1fd9bf" stroke-width="1.7"/>
<line x1="356.66" y1="771.81" x2="356.66" y2="759.5" stroke="#1fd9bf" stroke-width="1.7" stroke-dasharray="1.6 2.55" stroke-dashoffset="2"/>
<line x1="354.46" y1="759.5" x2="358.86" y2="759.5" stroke="#1fd9bf" stroke-width="1.7"/>
<line x1="356.66" y1="783.51" x2="356.66" y2="797.91" stroke="#1fd9bf" stroke-width="1.7" stroke-dasharray="1.6 2.55" stroke-dashoffset="2"/>
<line x1="354.46" y1="797.91" x2="358.86" y2="797.91" stroke="#1fd9bf" stroke-width="1.7"/>
<line x1="364.68" y1="765.59" x2="364.68" y2="751.78" stroke="#1fd9bf" stroke-width="1.7" stroke-dasharray="1.6 2.55" stroke-dashoffset="2"/>
<line x1="362.48" y1="751.78" x2="366.88" y2="751.78" stroke="#1fd9bf" stroke-width="1.7"/>
<line x1="364.68" y1="777.29" x2="364.68" y2="793.59" stroke="#1fd9bf" stroke-width="1.7" stroke-dasharray="1.6 2.55" stroke-dashoffset="2"/>
<line x1="362.48" y1="793.59" x2="366.88" y2="793.59" stroke="#1fd9bf" stroke-width="1.7"/>
<line x1="372.7" y1="775.5" x2="372.7" y2="762.67" stroke="#1fd9bf" stroke-width="1.7" stroke-dasharray="1.6 2.55" stroke-dashoffset="2"/>
<line x1="370.5" y1="762.67" x2="374.9" y2="762.67" stroke="#1fd9bf" stroke-width="1.7"/>
<line x1="372.7" y1="787.2" x2="372.7" y2="802.28" stroke="#1fd9bf" stroke-width="1.7" stroke-dasharray="1.6 2.55" stroke-dashoffset="2"/>
<line x1="370.5" y1="802.28" x2="374.9" y2="802.28" stroke="#1fd9bf" stroke-width="1.7"/>
<line x1="380.72" y1="779.19" x2="380.72" y2="765.38" stroke="#1fd9bf" stroke-width="1.7" stroke-dasharray="1.6 2.55" stroke-dashoffset="2"/>
<line x1="378.52" y1="765.38" x2="382.92" y2="765.38" stroke="#1fd9bf" stroke-width="1.7"/>
<line x1="380.72" y1="790.89" x2="380.72" y2="807.18" stroke="#1fd9bf" stroke-width="1.7" stroke-dasharray="1.6 2.55" stroke-dashoffset="2"/>
<line x1="378.52" y1="807.18" x2="382.92" y2="807.18" stroke="#1fd9bf" stroke-width="1.7"/>
<line x1="388.74" y1="814.43" x2="388.74" y2="797.52" stroke="#1fd9bf" stroke-width="1.7" stroke-dasharray="1.6 2.55" stroke-dashoffset="2"/>
<line x1="386.54" y1="797.52" x2="390.94" y2="797.52" stroke="#1fd9bf" stroke-width="1.7"/>
<line x1="388.74" y1="826.13" x2="388.74" y2="846.45" stroke="#1fd9bf" stroke-width="1.7" stroke-dasharray="1.6 2.55" stroke-dashoffset="2"/>
<line x1="386.54" y1="846.45" x2="390.94" y2="846.45" stroke="#1fd9bf" stroke-width="1.7"/>
<line x1="396.76" y1="839.78" x2="396.76" y2="819.59" stroke="#1fd9bf" stroke-width="1.7" stroke-dasharray="1.6 2.55" stroke-dashoffset="2"/>
<line x1="394.56" y1="819.59" x2="398.96" y2="819.59" stroke="#1fd9bf" stroke-width="1.7"/>
<line x1="396.76" y1="851.48" x2="396.76" y2="876.22" stroke="#1fd9bf" stroke-width="1.7" stroke-dasharray="1.6 2.55" stroke-dashoffset="2"/>
<line x1="394.56" y1="876.22" x2="398.96" y2="876.22" stroke="#1fd9bf" stroke-width="1.7"/>
<line x1="404.78" y1="804.6" x2="404.78" y2="785.84" stroke="#1fd9bf" stroke-width="1.7" stroke-dasharray="1.6 2.55" stroke-dashoffset="2"/>
<line x1="402.58" y1="785.84" x2="406.98" y2="785.84" stroke="#1fd9bf" stroke-width="1.7"/>
<line x1="404.78" y1="816.3" x2="404.78" y2="839.1" stroke="#1fd9bf" stroke-width="1.7" stroke-dasharray="1.6 2.55" stroke-dashoffset="2"/>
<line x1="402.58" y1="839.1" x2="406.98" y2="839.1" stroke="#1fd9bf" stroke-width="1.7"/>
<line x1="412.8" y1="789.35" x2="412.8" y2="770.05" stroke="#1fd9bf" stroke-width="1.7" stroke-dasharray="1.6 2.55" stroke-dashoffset="2"/>
<line x1="410.6" y1="770.05" x2="415" y2="770.05" stroke="#1fd9bf" stroke-width="1.7"/>
<line x1="412.8" y1="801.05" x2="412.8" y2="824.58" stroke="#1fd9bf" stroke-width="1.7" stroke-dasharray="1.6 2.55" stroke-dashoffset="2"/>
<line x1="410.6" y1="824.58" x2="415" y2="824.58" stroke="#1fd9bf" stroke-width="1.7"/>
<line x1="420.82" y1="760.86" x2="420.82" y2="740.98" stroke="#1fd9bf" stroke-width="1.7" stroke-dasharray="1.6 2.55" stroke-dashoffset="2"/>
<line x1="418.62" y1="740.98" x2="423.02" y2="740.98" stroke="#1fd9bf" stroke-width="1.7"/>
<line x1="420.82" y1="772.56" x2="420.82" y2="796.88" stroke="#1fd9bf" stroke-width="1.7" stroke-dasharray="1.6 2.55" stroke-dashoffset="2"/>
<line x1="418.62" y1="796.88" x2="423.02" y2="796.88" stroke="#1fd9bf" stroke-width="1.7"/>
<line x1="428.84" y1="684.56" x2="428.84" y2="664.68" stroke="#1fd9bf" stroke-width="1.7" stroke-dasharray="1.6 2.55" stroke-dashoffset="2"/>
<line x1="426.64" y1="664.68" x2="431.04" y2="664.68" stroke="#1fd9bf" stroke-width="1.7"/>
<line x1="428.84" y1="696.26" x2="428.84" y2="720.58" stroke="#1fd9bf" stroke-width="1.7" stroke-dasharray="1.6 2.55" stroke-dashoffset="2"/>
<line x1="426.64" y1="720.58" x2="431.04" y2="720.58" stroke="#1fd9bf" stroke-width="1.7"/>
<line x1="436.86" y1="782.48" x2="436.86" y2="756.93" stroke="#1fd9bf" stroke-width="1.7" stroke-dasharray="1.6 2.55" stroke-dashoffset="2"/>
<line x1="434.66" y1="756.93" x2="439.06" y2="756.93" stroke="#1fd9bf" stroke-width="1.7"/>
<line x1="436.86" y1="794.18" x2="436.86" y2="826.59" stroke="#1fd9bf" stroke-width="1.7" stroke-dasharray="1.6 2.55" stroke-dashoffset="2"/>
<line x1="434.66" y1="826.59" x2="439.06" y2="826.59" stroke="#1fd9bf" stroke-width="1.7"/>
<line x1="444.88" y1="806.89" x2="444.88" y2="776.54" stroke="#1fd9bf" stroke-width="1.7" stroke-dasharray="1.6 2.55" stroke-dashoffset="2"/>
<line x1="442.68" y1="776.54" x2="447.08" y2="776.54" stroke="#1fd9bf" stroke-width="1.7"/>
<line x1="444.88" y1="818.59" x2="444.88" y2="858.42" stroke="#1fd9bf" stroke-width="1.7" stroke-dasharray="1.6 2.55" stroke-dashoffset="2"/>
<line x1="442.68" y1="858.42" x2="447.08" y2="858.42" stroke="#1fd9bf" stroke-width="1.7"/>
<line x1="452.9" y1="869.9" x2="452.9" y2="831.29" stroke="#1fd9bf" stroke-width="1.7" stroke-dasharray="1.6 2.55" stroke-dashoffset="2"/>
<line x1="450.7" y1="831.29" x2="455.1" y2="831.29" stroke="#1fd9bf" stroke-width="1.7"/>
<line x1="452.9" y1="881.6" x2="452.9" y2="935.46" stroke="#1fd9bf" stroke-width="1.7" stroke-dasharray="1.6 2.55" stroke-dashoffset="2"/>
<line x1="450.7" y1="935.46" x2="455.1" y2="935.46" stroke="#1fd9bf" stroke-width="1.7"/>
<line x1="460.93" y1="851.87" x2="460.93" y2="816.2" stroke="#1fd9bf" stroke-width="1.7" stroke-dasharray="1.6 2.55" stroke-dashoffset="2"/>
<line x1="458.73" y1="816.2" x2="463.13" y2="816.2" stroke="#1fd9bf" stroke-width="1.7"/>
<line x1="460.93" y1="863.57" x2="460.93" y2="912.23" stroke="#1fd9bf" stroke-width="1.7" stroke-dasharray="1.6 2.55" stroke-dashoffset="2"/>
<line x1="458.73" y1="912.23" x2="463.13" y2="912.23" stroke="#1fd9bf" stroke-width="1.7"/>
<line x1="468.95" y1="718.28" x2="468.95" y2="683.87" stroke="#1fd9bf" stroke-width="1.7" stroke-dasharray="1.6 2.55" stroke-dashoffset="2"/>
<line x1="466.75" y1="683.87" x2="471.15" y2="683.87" stroke="#1fd9bf" stroke-width="1.7"/>
<line x1="468.95" y1="729.98" x2="468.95" y2="776.48" stroke="#1fd9bf" stroke-width="1.7" stroke-dasharray="1.6 2.55" stroke-dashoffset="2"/>
<line x1="466.75" y1="776.48" x2="471.15" y2="776.48" stroke="#1fd9bf" stroke-width="1.7"/>
<line x1="476.97" y1="874.45" x2="476.97" y2="827.24" stroke="#1fd9bf" stroke-width="1.7" stroke-dasharray="1.6 2.55" stroke-dashoffset="2"/>
<line x1="474.77" y1="827.24" x2="479.17" y2="827.24" stroke="#1fd9bf" stroke-width="1.7"/>
<line x1="476.97" y1="886.15" x2="476.97" y2="956.78" stroke="#1fd9bf" stroke-width="1.7" stroke-dasharray="1.6 2.55" stroke-dashoffset="2"/>
<line x1="474.77" y1="956.78" x2="479.17" y2="956.78" stroke="#1fd9bf" stroke-width="1.7"/>
<line x1="484.99" y1="738.92" x2="484.99" y2="700.32" stroke="#1fd9bf" stroke-width="1.7" stroke-dasharray="1.6 2.55" stroke-dashoffset="2"/>
<line x1="482.79" y1="700.32" x2="487.19" y2="700.32" stroke="#1fd9bf" stroke-width="1.7"/>
<line x1="484.99" y1="750.62" x2="484.99" y2="804.48" stroke="#1fd9bf" stroke-width="1.7" stroke-dasharray="1.6 2.55" stroke-dashoffset="2"/>
<line x1="482.79" y1="804.48" x2="487.19" y2="804.48" stroke="#1fd9bf" stroke-width="1.7"/>
<line x1="493.01" y1="804.6" x2="493.01" y2="764.26" stroke="#1fd9bf" stroke-width="1.7" stroke-dasharray="1.6 2.55" stroke-dashoffset="2"/>
<line x1="490.81" y1="764.26" x2="495.21" y2="764.26" stroke="#1fd9bf" stroke-width="1.7"/>
<line x1="493.01" y1="816.3" x2="493.01" y2="873.35" stroke="#1fd9bf" stroke-width="1.7" stroke-dasharray="1.6 2.55" stroke-dashoffset="2"/>
<line x1="490.81" y1="873.35" x2="495.21" y2="873.35" stroke="#1fd9bf" stroke-width="1.7"/>
<line x1="501.03" y1="944.88" x2="501.03" y2="894.53" stroke="#1fd9bf" stroke-width="1.7" stroke-dasharray="1.6 2.55" stroke-dashoffset="2"/>
<line x1="498.83" y1="894.53" x2="503.23" y2="894.53" stroke="#1fd9bf" stroke-width="1.7"/>
<line x1="501.03" y1="956.58" x2="501.03" y2="975.8" stroke="#1fd9bf" stroke-width="1.7" stroke-dasharray="1.6 2.55" stroke-dashoffset="2"/>
<line x1="498.83" y1="975.8" x2="503.23" y2="975.8" stroke="#1fd9bf" stroke-width="1.7"/>
<line x1="509.05" y1="835.34" x2="509.05" y2="793.03" stroke="#1fd9bf" stroke-width="1.7" stroke-dasharray="1.6 2.55" stroke-dashoffset="2"/>
<line x1="506.85" y1="793.03" x2="511.25" y2="793.03" stroke="#1fd9bf" stroke-width="1.7"/>
<line x1="509.05" y1="847.04" x2="509.05" y2="907.82" stroke="#1fd9bf" stroke-width="1.7" stroke-dasharray="1.6 2.55" stroke-dashoffset="2"/>
<line x1="506.85" y1="907.82" x2="511.25" y2="907.82" stroke="#1fd9bf" stroke-width="1.7"/>
<line x1="517.07" y1="979.95" x2="517.07" y2="926.35" stroke="#1fd9bf" stroke-width="1.7" stroke-dasharray="1.6 2.55" stroke-dashoffset="2"/>
<line x1="514.87" y1="926.35" x2="519.27" y2="926.35" stroke="#1fd9bf" stroke-width="1.7"/>
<line x1="525.09" y1="821.31" x2="525.09" y2="762.37" stroke="#1fd9bf" stroke-width="1.7" stroke-dasharray="1.6 2.55" stroke-dashoffset="2"/>
<line x1="522.89" y1="762.37" x2="527.29" y2="762.37" stroke="#1fd9bf" stroke-width="1.7"/>
<line x1="525.09" y1="833.01" x2="525.09" y2="931.07" stroke="#1fd9bf" stroke-width="1.7" stroke-dasharray="1.6 2.55" stroke-dashoffset="2"/>
<line x1="522.89" y1="931.07" x2="527.29" y2="931.07" stroke="#1fd9bf" stroke-width="1.7"/>
<line x1="533.11" y1="730.37" x2="533.11" y2="680.02" stroke="#1fd9bf" stroke-width="1.7" stroke-dasharray="1.6 2.55" stroke-dashoffset="2"/>
<line x1="530.91" y1="680.02" x2="535.31" y2="680.02" stroke="#1fd9bf" stroke-width="1.7"/>
<line x1="533.11" y1="742.07" x2="533.11" y2="819.44" stroke="#1fd9bf" stroke-width="1.7" stroke-dasharray="1.6 2.55" stroke-dashoffset="2"/>
<line x1="530.91" y1="819.44" x2="535.31" y2="819.44" stroke="#1fd9bf" stroke-width="1.7"/>
<line x1="541.13" y1="931.5" x2="541.13" y2="866.27" stroke="#1fd9bf" stroke-width="1.7" stroke-dasharray="1.6 2.55" stroke-dashoffset="2"/>
<line x1="538.93" y1="866.27" x2="543.33" y2="866.27" stroke="#1fd9bf" stroke-width="1.7"/>
<line x1="541.13" y1="943.2" x2="541.13" y2="975.8" stroke="#1fd9bf" stroke-width="1.7" stroke-dasharray="1.6 2.55" stroke-dashoffset="2"/>
<line x1="538.93" y1="975.8" x2="543.33" y2="975.8" stroke="#1fd9bf" stroke-width="1.7"/>
<line x1="549.15" y1="610.45" x2="549.15" y2="673.7" stroke="#1fd9bf" stroke-width="1.7" stroke-dasharray="1.6 2.55" stroke-dashoffset="2"/>
<line x1="546.95" y1="673.7" x2="551.35" y2="673.7" stroke="#1fd9bf" stroke-width="1.7"/>
<line x1="557.18" y1="839.78" x2="557.18" y2="765.74" stroke="#1fd9bf" stroke-width="1.7" stroke-dasharray="1.6 2.55" stroke-dashoffset="2"/>
<line x1="554.98" y1="765.74" x2="559.38" y2="765.74" stroke="#1fd9bf" stroke-width="1.7"/>
<line x1="557.18" y1="851.48" x2="557.18" y2="975.8" stroke="#1fd9bf" stroke-width="1.7" stroke-dasharray="1.6 2.55" stroke-dashoffset="2"/>
<line x1="554.98" y1="975.8" x2="559.38" y2="975.8" stroke="#1fd9bf" stroke-width="1.7"/>
<line x1="573.22" y1="860.42" x2="573.22" y2="772.53" stroke="#1fd9bf" stroke-width="1.7" stroke-dasharray="1.6 2.55" stroke-dashoffset="2"/>
<line x1="571.02" y1="772.53" x2="575.42" y2="772.53" stroke="#1fd9bf" stroke-width="1.7"/>
<line x1="573.22" y1="872.12" x2="573.22" y2="975.8" stroke="#1fd9bf" stroke-width="1.7" stroke-dasharray="1.6 2.55" stroke-dashoffset="2"/>
<line x1="571.02" y1="975.8" x2="575.42" y2="975.8" stroke="#1fd9bf" stroke-width="1.7"/>
<line x1="589.26" y1="910.85" x2="589.26" y2="795.2" stroke="#1fd9bf" stroke-width="1.7" stroke-dasharray="1.6 2.55" stroke-dashoffset="2"/>
<line x1="587.06" y1="795.2" x2="591.46" y2="795.2" stroke="#1fd9bf" stroke-width="1.7"/>
<line x1="589.26" y1="922.55" x2="589.26" y2="975.8" stroke="#1fd9bf" stroke-width="1.7" stroke-dasharray="1.6 2.55" stroke-dashoffset="2"/>
<line x1="587.06" y1="975.8" x2="591.46" y2="975.8" stroke="#1fd9bf" stroke-width="1.7"/>
<line x1="605.3" y1="667.85" x2="605.3" y2="614.6" stroke="#1fd9bf" stroke-width="1.7" stroke-dasharray="1.6 2.55" stroke-dashoffset="2"/>
<line x1="603.1" y1="614.6" x2="607.5" y2="614.6" stroke="#1fd9bf" stroke-width="1.7"/>
<line x1="605.3" y1="679.55" x2="605.3" y2="888.94" stroke="#1fd9bf" stroke-width="1.7" stroke-dasharray="1.6 2.55" stroke-dashoffset="2"/>
<line x1="603.1" y1="888.94" x2="607.5" y2="888.94" stroke="#1fd9bf" stroke-width="1.7"/>
<line x1="613.32" y1="789.35" x2="613.32" y2="673.7" stroke="#1fd9bf" stroke-width="1.7" stroke-dasharray="1.6 2.55" stroke-dashoffset="2"/>
<line x1="611.12" y1="673.7" x2="615.52" y2="673.7" stroke="#1fd9bf" stroke-width="1.7"/>
<line x1="613.32" y1="801.05" x2="613.32" y2="975.8" stroke="#1fd9bf" stroke-width="1.7" stroke-dasharray="1.6 2.55" stroke-dashoffset="2"/>
<line x1="611.12" y1="975.8" x2="615.52" y2="975.8" stroke="#1fd9bf" stroke-width="1.7"/>
<line x1="629.36" y1="789.35" x2="629.36" y2="673.7" stroke="#1fd9bf" stroke-width="1.7" stroke-dasharray="1.6 2.55" stroke-dashoffset="2"/>
<line x1="627.16" y1="673.7" x2="631.56" y2="673.7" stroke="#1fd9bf" stroke-width="1.7"/>
<line x1="629.36" y1="801.05" x2="629.36" y2="975.8" stroke="#1fd9bf" stroke-width="1.7" stroke-dasharray="1.6 2.55" stroke-dashoffset="2"/>
<line x1="627.16" y1="975.8" x2="631.56" y2="975.8" stroke="#1fd9bf" stroke-width="1.7"/>
<line x1="645.4" y1="789.35" x2="645.4" y2="673.7" stroke="#1fd9bf" stroke-width="1.7" stroke-dasharray="1.6 2.55" stroke-dashoffset="2"/>
<line x1="643.2" y1="673.7" x2="647.6" y2="673.7" stroke="#1fd9bf" stroke-width="1.7"/>
<line x1="645.4" y1="801.05" x2="645.4" y2="975.8" stroke="#1fd9bf" stroke-width="1.7" stroke-dasharray="1.6 2.55" stroke-dashoffset="2"/>
<line x1="643.2" y1="975.8" x2="647.6" y2="975.8" stroke="#1fd9bf" stroke-width="1.7"/>
</g>
<circle cx="108.01" cy="783.11" r="5.05" fill="none" stroke="#1fd9bf" stroke-width="1.6"/>
<circle cx="116.03" cy="774.55" r="5.05" fill="none" stroke="#1fd9bf" stroke-width="1.6"/>
<circle cx="124.05" cy="809.01" r="5.05" fill="none" stroke="#1fd9bf" stroke-width="1.6"/>
<circle cx="132.07" cy="790.92" r="5.05" fill="none" stroke="#1fd9bf" stroke-width="1.6"/>
<circle cx="140.09" cy="765.92" r="5.05" fill="none" stroke="#1fd9bf" stroke-width="1.6"/>
<circle cx="148.11" cy="805.91" r="5.05" fill="none" stroke="#1fd9bf" stroke-width="1.6"/>
<circle cx="156.14" cy="813.67" r="5.05" fill="none" stroke="#1fd9bf" stroke-width="1.6"/>
<circle cx="164.16" cy="811.39" r="5.05" fill="none" stroke="#1fd9bf" stroke-width="1.6"/>
<circle cx="172.18" cy="796.11" r="5.05" fill="none" stroke="#1fd9bf" stroke-width="1.6"/>
<circle cx="180.2" cy="763.56" r="5.05" fill="none" stroke="#1fd9bf" stroke-width="1.6"/>
<circle cx="188.22" cy="801.98" r="5.05" fill="none" stroke="#1fd9bf" stroke-width="1.6"/>
<circle cx="196.24" cy="772.53" r="5.05" fill="none" stroke="#1fd9bf" stroke-width="1.6"/>
<circle cx="204.26" cy="783.05" r="5.05" fill="none" stroke="#1fd9bf" stroke-width="1.6"/>
<circle cx="212.28" cy="796.79" r="5.05" fill="none" stroke="#1fd9bf" stroke-width="1.6"/>
<circle cx="220.3" cy="788.26" r="5.05" fill="none" stroke="#1fd9bf" stroke-width="1.6"/>
<circle cx="228.32" cy="767.12" r="5.05" fill="none" stroke="#1fd9bf" stroke-width="1.6"/>
<circle cx="236.34" cy="795.2" r="5.05" fill="none" stroke="#1fd9bf" stroke-width="1.6"/>
<circle cx="244.36" cy="826.68" r="5.05" fill="none" stroke="#1fd9bf" stroke-width="1.6"/>
<circle cx="252.38" cy="792.13" r="5.05" fill="none" stroke="#1fd9bf" stroke-width="1.6"/>
<circle cx="260.41" cy="811.15" r="5.05" fill="none" stroke="#1fd9bf" stroke-width="1.6"/>
<circle cx="268.43" cy="807.09" r="5.05" fill="none" stroke="#1fd9bf" stroke-width="1.6"/>
<circle cx="276.45" cy="749.12" r="5.05" fill="none" stroke="#1fd9bf" stroke-width="1.6"/>
<circle cx="284.47" cy="766.01" r="5.05" fill="none" stroke="#1fd9bf" stroke-width="1.6"/>
<circle cx="292.49" cy="783.43" r="5.05" fill="none" stroke="#1fd9bf" stroke-width="1.6"/>
<circle cx="300.51" cy="726.88" r="5.05" fill="none" stroke="#1fd9bf" stroke-width="1.6"/>
<circle cx="308.53" cy="799.29" r="5.05" fill="none" stroke="#1fd9bf" stroke-width="1.6"/>
<circle cx="316.55" cy="771.23" r="5.05" fill="none" stroke="#1fd9bf" stroke-width="1.6"/>
<circle cx="324.57" cy="805.92" r="5.05" fill="none" stroke="#1fd9bf" stroke-width="1.6"/>
<circle cx="332.59" cy="808.05" r="5.05" fill="none" stroke="#1fd9bf" stroke-width="1.6"/>
<circle cx="340.61" cy="781.71" r="5.05" fill="none" stroke="#1fd9bf" stroke-width="1.6"/>
<circle cx="348.63" cy="813.45" r="5.05" fill="none" stroke="#1fd9bf" stroke-width="1.6"/>
<circle cx="356.66" cy="777.66" r="5.05" fill="none" stroke="#1fd9bf" stroke-width="1.6"/>
<circle cx="364.68" cy="771.44" r="5.05" fill="none" stroke="#1fd9bf" stroke-width="1.6"/>
<circle cx="372.7" cy="781.35" r="5.05" fill="none" stroke="#1fd9bf" stroke-width="1.6"/>
<circle cx="380.72" cy="785.04" r="5.05" fill="none" stroke="#1fd9bf" stroke-width="1.6"/>
<circle cx="388.74" cy="820.28" r="5.05" fill="none" stroke="#1fd9bf" stroke-width="1.6"/>
<circle cx="396.76" cy="845.63" r="5.05" fill="none" stroke="#1fd9bf" stroke-width="1.6"/>
<circle cx="404.78" cy="810.45" r="5.05" fill="none" stroke="#1fd9bf" stroke-width="1.6"/>
<circle cx="412.8" cy="795.2" r="5.05" fill="none" stroke="#1fd9bf" stroke-width="1.6"/>
<circle cx="420.82" cy="766.71" r="5.05" fill="none" stroke="#1fd9bf" stroke-width="1.6"/>
<circle cx="428.84" cy="690.41" r="5.05" fill="none" stroke="#1fd9bf" stroke-width="1.6"/>
<circle cx="436.86" cy="788.33" r="5.05" fill="none" stroke="#1fd9bf" stroke-width="1.6"/>
<circle cx="444.88" cy="812.74" r="5.05" fill="none" stroke="#1fd9bf" stroke-width="1.6"/>
<circle cx="452.9" cy="875.75" r="5.05" fill="none" stroke="#1fd9bf" stroke-width="1.6"/>
<circle cx="460.93" cy="857.72" r="5.05" fill="none" stroke="#1fd9bf" stroke-width="1.6"/>
<circle cx="468.95" cy="724.13" r="5.05" fill="none" stroke="#1fd9bf" stroke-width="1.6"/>
<circle cx="476.97" cy="880.3" r="5.05" fill="none" stroke="#1fd9bf" stroke-width="1.6"/>
<circle cx="484.99" cy="744.77" r="5.05" fill="none" stroke="#1fd9bf" stroke-width="1.6"/>
<circle cx="493.01" cy="810.45" r="5.05" fill="none" stroke="#1fd9bf" stroke-width="1.6"/>
<circle cx="501.03" cy="950.73" r="5.05" fill="none" stroke="#1fd9bf" stroke-width="1.6"/>
<circle cx="509.05" cy="841.19" r="5.05" fill="none" stroke="#1fd9bf" stroke-width="1.6"/>
<circle cx="525.09" cy="827.16" r="5.05" fill="none" stroke="#1fd9bf" stroke-width="1.6"/>
<circle cx="533.11" cy="736.22" r="5.05" fill="none" stroke="#1fd9bf" stroke-width="1.6"/>
<circle cx="541.13" cy="937.35" r="5.05" fill="none" stroke="#1fd9bf" stroke-width="1.6"/>
<circle cx="557.18" cy="845.63" r="5.05" fill="none" stroke="#1fd9bf" stroke-width="1.6"/>
<circle cx="573.22" cy="866.27" r="5.05" fill="none" stroke="#1fd9bf" stroke-width="1.6"/>
<circle cx="589.26" cy="916.7" r="5.05" fill="none" stroke="#1fd9bf" stroke-width="1.6"/>
<circle cx="605.3" cy="673.7" r="5.05" fill="none" stroke="#1fd9bf" stroke-width="1.6"/>
<circle cx="613.32" cy="795.2" r="5.05" fill="none" stroke="#1fd9bf" stroke-width="1.6"/>
<circle cx="629.36" cy="795.2" r="5.05" fill="none" stroke="#1fd9bf" stroke-width="1.6"/>
<circle cx="645.4" cy="795.2" r="5.05" fill="none" stroke="#1fd9bf" stroke-width="1.6"/>
<g clip-path="url(#cr)">
<polyline points="108.01,795.2 116.03,774.55 124.05,784.89 132.07,763.6 140.09,752.93 148.11,823.31 156.14,816.12 164.16,800.43 172.18,812.36 180.2,803.08 188.22,780.09 196.24,789.45 204.26,791.06 212.28,795.2 220.3,804.9 228.32,784.82 236.34,796.85 244.36,787.37 252.38,769.36 260.41,849.34 268.43,820.95 276.45,757.81 284.47,794.03 292.49,803.93 300.51,753.16 308.53,795.2 316.55,795.2 324.57,809.11 332.59,800.59 340.61,802.36 348.63,799.1 356.66,819.93 364.68,784.24 372.7,790.46 380.72,826.64 388.74,804.19 396.76,788.58 404.78,777.83 412.8,783.11 420.82,829.23 428.84,708.88 436.86,781.71 444.88,879.26 452.9,761.71 460.93,935.17 468.95,778.49 476.97,748.18 484.99,730.74 493.01,889.68 501.03,829.23 509.05,985.8 517.07,778.49 525.09,795.2 533.11,763.24 541.13,776.73 549.15,604.6 557.18,845.63 565.2,827.16 573.22,744.77 589.26,916.7 629.36,795.2 637.38,673.7 645.4,795.2 653.42,916.7" fill="none" stroke="#b5834c" stroke-width="1.7" stroke-dasharray="4.6 3.8"/>
<line x1="108.01" y1="789.9" x2="108.01" y2="753.68" stroke="#b5834c" stroke-width="1.7" stroke-dasharray="4.6 3.8" stroke-dashoffset="4.2"/>
<line x1="105.81" y1="753.68" x2="110.21" y2="753.68" stroke="#b5834c" stroke-width="1.7"/>
<line x1="108.01" y1="800.5" x2="108.01" y2="849.71" stroke="#b5834c" stroke-width="1.7" stroke-dasharray="4.6 3.8" stroke-dashoffset="4.2"/>
<line x1="105.81" y1="849.71" x2="110.21" y2="849.71" stroke="#b5834c" stroke-width="1.7"/>
<line x1="116.03" y1="769.25" x2="116.03" y2="750.2" stroke="#b5834c" stroke-width="1.7" stroke-dasharray="4.6 3.8" stroke-dashoffset="4.2"/>
<line x1="113.83" y1="750.2" x2="118.23" y2="750.2" stroke="#b5834c" stroke-width="1.7"/>
<line x1="116.03" y1="779.85" x2="116.03" y2="802.85" stroke="#b5834c" stroke-width="1.7" stroke-dasharray="4.6 3.8" stroke-dashoffset="4.2"/>
<line x1="113.83" y1="802.85" x2="118.23" y2="802.85" stroke="#b5834c" stroke-width="1.7"/>
<line x1="124.05" y1="779.59" x2="124.05" y2="765.1" stroke="#b5834c" stroke-width="1.7" stroke-dasharray="4.6 3.8" stroke-dashoffset="4.2"/>
<line x1="121.85" y1="765.1" x2="126.25" y2="765.1" stroke="#b5834c" stroke-width="1.7"/>
<line x1="124.05" y1="790.19" x2="124.05" y2="807.2" stroke="#b5834c" stroke-width="1.7" stroke-dasharray="4.6 3.8" stroke-dashoffset="4.2"/>
<line x1="121.85" y1="807.2" x2="126.25" y2="807.2" stroke="#b5834c" stroke-width="1.7"/>
<line x1="132.07" y1="758.3" x2="132.07" y2="746.65" stroke="#b5834c" stroke-width="1.7" stroke-dasharray="4.6 3.8" stroke-dashoffset="4.2"/>
<line x1="129.87" y1="746.65" x2="134.27" y2="746.65" stroke="#b5834c" stroke-width="1.7"/>
<line x1="132.07" y1="768.9" x2="132.07" y2="782.37" stroke="#b5834c" stroke-width="1.7" stroke-dasharray="4.6 3.8" stroke-dashoffset="4.2"/>
<line x1="129.87" y1="782.37" x2="134.27" y2="782.37" stroke="#b5834c" stroke-width="1.7"/>
<line x1="140.09" y1="747.63" x2="140.09" y2="737.1" stroke="#b5834c" stroke-width="1.7" stroke-dasharray="4.6 3.8" stroke-dashoffset="4.2"/>
<line x1="137.89" y1="737.1" x2="142.29" y2="737.1" stroke="#b5834c" stroke-width="1.7"/>
<line x1="140.09" y1="758.23" x2="140.09" y2="770.33" stroke="#b5834c" stroke-width="1.7" stroke-dasharray="4.6 3.8" stroke-dashoffset="4.2"/>
<line x1="137.89" y1="770.33" x2="142.29" y2="770.33" stroke="#b5834c" stroke-width="1.7"/>
<line x1="148.11" y1="818.01" x2="148.11" y2="807.68" stroke="#b5834c" stroke-width="1.7" stroke-dasharray="4.6 3.8" stroke-dashoffset="4.2"/>
<line x1="145.91" y1="807.68" x2="150.31" y2="807.68" stroke="#b5834c" stroke-width="1.7"/>
<line x1="148.11" y1="828.61" x2="148.11" y2="840.46" stroke="#b5834c" stroke-width="1.7" stroke-dasharray="4.6 3.8" stroke-dashoffset="4.2"/>
<line x1="145.91" y1="840.46" x2="150.31" y2="840.46" stroke="#b5834c" stroke-width="1.7"/>
<line x1="156.14" y1="810.82" x2="156.14" y2="801.99" stroke="#b5834c" stroke-width="1.7" stroke-dasharray="4.6 3.8" stroke-dashoffset="4.2"/>
<line x1="153.94" y1="801.99" x2="158.34" y2="801.99" stroke="#b5834c" stroke-width="1.7"/>
<line x1="156.14" y1="821.42" x2="156.14" y2="831.48" stroke="#b5834c" stroke-width="1.7" stroke-dasharray="4.6 3.8" stroke-dashoffset="4.2"/>
<line x1="153.94" y1="831.48" x2="158.34" y2="831.48" stroke="#b5834c" stroke-width="1.7"/>
<line x1="164.16" y1="795.13" x2="164.16" y2="787.29" stroke="#b5834c" stroke-width="1.7" stroke-dasharray="4.6 3.8" stroke-dashoffset="4.2"/>
<line x1="161.96" y1="787.29" x2="166.36" y2="787.29" stroke="#b5834c" stroke-width="1.7"/>
<line x1="164.16" y1="805.73" x2="164.16" y2="814.64" stroke="#b5834c" stroke-width="1.7" stroke-dasharray="4.6 3.8" stroke-dashoffset="4.2"/>
<line x1="161.96" y1="814.64" x2="166.36" y2="814.64" stroke="#b5834c" stroke-width="1.7"/>
<line x1="172.18" y1="807.06" x2="172.18" y2="799.59" stroke="#b5834c" stroke-width="1.7" stroke-dasharray="4.6 3.8" stroke-dashoffset="4.2"/>
<line x1="169.98" y1="799.59" x2="174.38" y2="799.59" stroke="#b5834c" stroke-width="1.7"/>
<line x1="172.18" y1="817.66" x2="172.18" y2="826.14" stroke="#b5834c" stroke-width="1.7" stroke-dasharray="4.6 3.8" stroke-dashoffset="4.2"/>
<line x1="169.98" y1="826.14" x2="174.38" y2="826.14" stroke="#b5834c" stroke-width="1.7"/>
<line x1="180.2" y1="797.78" x2="180.2" y2="790.27" stroke="#b5834c" stroke-width="1.7" stroke-dasharray="4.6 3.8" stroke-dashoffset="4.2"/>
<line x1="178" y1="790.27" x2="182.4" y2="790.27" stroke="#b5834c" stroke-width="1.7"/>
<line x1="180.2" y1="808.38" x2="180.2" y2="816.9" stroke="#b5834c" stroke-width="1.7" stroke-dasharray="4.6 3.8" stroke-dashoffset="4.2"/>
<line x1="178" y1="816.9" x2="182.4" y2="816.9" stroke="#b5834c" stroke-width="1.7"/>
<line x1="188.22" y1="774.79" x2="188.22" y2="768.89" stroke="#b5834c" stroke-width="1.7" stroke-dasharray="4.6 3.8" stroke-dashoffset="4.2"/>
<line x1="186.02" y1="768.89" x2="190.42" y2="768.89" stroke="#b5834c" stroke-width="1.7"/>
<line x1="188.22" y1="785.39" x2="188.22" y2="792.04" stroke="#b5834c" stroke-width="1.7" stroke-dasharray="4.6 3.8" stroke-dashoffset="4.2"/>
<line x1="186.02" y1="792.04" x2="190.42" y2="792.04" stroke="#b5834c" stroke-width="1.7"/>
<line x1="196.24" y1="784.15" x2="196.24" y2="777.94" stroke="#b5834c" stroke-width="1.7" stroke-dasharray="4.6 3.8" stroke-dashoffset="4.2"/>
<line x1="194.04" y1="777.94" x2="198.44" y2="777.94" stroke="#b5834c" stroke-width="1.7"/>
<line x1="196.24" y1="794.75" x2="196.24" y2="801.77" stroke="#b5834c" stroke-width="1.7" stroke-dasharray="4.6 3.8" stroke-dashoffset="4.2"/>
<line x1="194.04" y1="801.77" x2="198.44" y2="801.77" stroke="#b5834c" stroke-width="1.7"/>
<line x1="204.26" y1="785.76" x2="204.26" y2="779.47" stroke="#b5834c" stroke-width="1.7" stroke-dasharray="4.6 3.8" stroke-dashoffset="4.2"/>
<line x1="202.06" y1="779.47" x2="206.46" y2="779.47" stroke="#b5834c" stroke-width="1.7"/>
<line x1="204.26" y1="796.36" x2="204.26" y2="803.47" stroke="#b5834c" stroke-width="1.7" stroke-dasharray="4.6 3.8" stroke-dashoffset="4.2"/>
<line x1="202.06" y1="803.47" x2="206.46" y2="803.47" stroke="#b5834c" stroke-width="1.7"/>
<line x1="212.28" y1="789.9" x2="212.28" y2="783.81" stroke="#b5834c" stroke-width="1.7" stroke-dasharray="4.6 3.8" stroke-dashoffset="4.2"/>
<line x1="210.08" y1="783.81" x2="214.48" y2="783.81" stroke="#b5834c" stroke-width="1.7"/>
<line x1="212.28" y1="800.5" x2="212.28" y2="807.38" stroke="#b5834c" stroke-width="1.7" stroke-dasharray="4.6 3.8" stroke-dashoffset="4.2"/>
<line x1="210.08" y1="807.38" x2="214.48" y2="807.38" stroke="#b5834c" stroke-width="1.7"/>
<line x1="220.3" y1="799.6" x2="220.3" y2="793.23" stroke="#b5834c" stroke-width="1.7" stroke-dasharray="4.6 3.8" stroke-dashoffset="4.2"/>
<line x1="218.1" y1="793.23" x2="222.5" y2="793.23" stroke="#b5834c" stroke-width="1.7"/>
<line x1="220.3" y1="810.2" x2="220.3" y2="817.4" stroke="#b5834c" stroke-width="1.7" stroke-dasharray="4.6 3.8" stroke-dashoffset="4.2"/>
<line x1="218.1" y1="817.4" x2="222.5" y2="817.4" stroke="#b5834c" stroke-width="1.7"/>
<line x1="228.32" y1="779.52" x2="228.32" y2="773.53" stroke="#b5834c" stroke-width="1.7" stroke-dasharray="4.6 3.8" stroke-dashoffset="4.2"/>
<line x1="226.12" y1="773.53" x2="230.52" y2="773.53" stroke="#b5834c" stroke-width="1.7"/>
<line x1="228.32" y1="790.12" x2="228.32" y2="796.88" stroke="#b5834c" stroke-width="1.7" stroke-dasharray="4.6 3.8" stroke-dashoffset="4.2"/>
<line x1="226.12" y1="796.88" x2="230.52" y2="796.88" stroke="#b5834c" stroke-width="1.7"/>
<line x1="236.34" y1="791.55" x2="236.34" y2="785.18" stroke="#b5834c" stroke-width="1.7" stroke-dasharray="4.6 3.8" stroke-dashoffset="4.2"/>
<line x1="234.14" y1="785.18" x2="238.54" y2="785.18" stroke="#b5834c" stroke-width="1.7"/>
<line x1="236.34" y1="802.15" x2="236.34" y2="809.36" stroke="#b5834c" stroke-width="1.7" stroke-dasharray="4.6 3.8" stroke-dashoffset="4.2"/>
<line x1="234.14" y1="809.36" x2="238.54" y2="809.36" stroke="#b5834c" stroke-width="1.7"/>
<line x1="244.36" y1="782.07" x2="244.36" y2="776.16" stroke="#b5834c" stroke-width="1.7" stroke-dasharray="4.6 3.8" stroke-dashoffset="4.2"/>
<line x1="242.16" y1="776.16" x2="246.56" y2="776.16" stroke="#b5834c" stroke-width="1.7"/>
<line x1="244.36" y1="792.67" x2="244.36" y2="799.36" stroke="#b5834c" stroke-width="1.7" stroke-dasharray="4.6 3.8" stroke-dashoffset="4.2"/>
<line x1="242.16" y1="799.36" x2="246.56" y2="799.36" stroke="#b5834c" stroke-width="1.7"/>
<line x1="252.38" y1="764.06" x2="252.38" y2="757.3" stroke="#b5834c" stroke-width="1.7" stroke-dasharray="4.6 3.8" stroke-dashoffset="4.2"/>
<line x1="250.18" y1="757.3" x2="254.58" y2="757.3" stroke="#b5834c" stroke-width="1.7"/>
<line x1="252.38" y1="774.66" x2="252.38" y2="782.32" stroke="#b5834c" stroke-width="1.7" stroke-dasharray="4.6 3.8" stroke-dashoffset="4.2"/>
<line x1="250.18" y1="782.32" x2="254.58" y2="782.32" stroke="#b5834c" stroke-width="1.7"/>
<line x1="260.41" y1="844.04" x2="260.41" y2="835.66" stroke="#b5834c" stroke-width="1.7" stroke-dasharray="4.6 3.8" stroke-dashoffset="4.2"/>
<line x1="258.21" y1="835.66" x2="262.61" y2="835.66" stroke="#b5834c" stroke-width="1.7"/>
<line x1="260.41" y1="854.64" x2="260.41" y2="864.16" stroke="#b5834c" stroke-width="1.7" stroke-dasharray="4.6 3.8" stroke-dashoffset="4.2"/>
<line x1="258.21" y1="864.16" x2="262.61" y2="864.16" stroke="#b5834c" stroke-width="1.7"/>
<line x1="268.43" y1="815.65" x2="268.43" y2="807.53" stroke="#b5834c" stroke-width="1.7" stroke-dasharray="4.6 3.8" stroke-dashoffset="4.2"/>
<line x1="266.23" y1="807.53" x2="270.63" y2="807.53" stroke="#b5834c" stroke-width="1.7"/>
<line x1="268.43" y1="826.25" x2="268.43" y2="835.48" stroke="#b5834c" stroke-width="1.7" stroke-dasharray="4.6 3.8" stroke-dashoffset="4.2"/>
<line x1="266.23" y1="835.48" x2="270.63" y2="835.48" stroke="#b5834c" stroke-width="1.7"/>
<line x1="276.45" y1="752.51" x2="276.45" y2="745.11" stroke="#b5834c" stroke-width="1.7" stroke-dasharray="4.6 3.8" stroke-dashoffset="4.2"/>
<line x1="274.25" y1="745.11" x2="278.65" y2="745.11" stroke="#b5834c" stroke-width="1.7"/>
<line x1="276.45" y1="763.11" x2="276.45" y2="771.51" stroke="#b5834c" stroke-width="1.7" stroke-dasharray="4.6 3.8" stroke-dashoffset="4.2"/>
<line x1="274.25" y1="771.51" x2="278.65" y2="771.51" stroke="#b5834c" stroke-width="1.7"/>
<line x1="284.47" y1="788.73" x2="284.47" y2="780.27" stroke="#b5834c" stroke-width="1.7" stroke-dasharray="4.6 3.8" stroke-dashoffset="4.2"/>
<line x1="282.27" y1="780.27" x2="286.67" y2="780.27" stroke="#b5834c" stroke-width="1.7"/>
<line x1="284.47" y1="799.33" x2="284.47" y2="808.96" stroke="#b5834c" stroke-width="1.7" stroke-dasharray="4.6 3.8" stroke-dashoffset="4.2"/>
<line x1="282.27" y1="808.96" x2="286.67" y2="808.96" stroke="#b5834c" stroke-width="1.7"/>
<line x1="292.49" y1="798.63" x2="292.49" y2="789.56" stroke="#b5834c" stroke-width="1.7" stroke-dasharray="4.6 3.8" stroke-dashoffset="4.2"/>
<line x1="290.29" y1="789.56" x2="294.69" y2="789.56" stroke="#b5834c" stroke-width="1.7"/>
<line x1="292.49" y1="809.23" x2="292.49" y2="819.59" stroke="#b5834c" stroke-width="1.7" stroke-dasharray="4.6 3.8" stroke-dashoffset="4.2"/>
<line x1="290.29" y1="819.59" x2="294.69" y2="819.59" stroke="#b5834c" stroke-width="1.7"/>
<line x1="300.51" y1="747.86" x2="300.51" y2="738.74" stroke="#b5834c" stroke-width="1.7" stroke-dasharray="4.6 3.8" stroke-dashoffset="4.2"/>
<line x1="298.31" y1="738.74" x2="302.71" y2="738.74" stroke="#b5834c" stroke-width="1.7"/>
<line x1="300.51" y1="758.46" x2="300.51" y2="768.88" stroke="#b5834c" stroke-width="1.7" stroke-dasharray="4.6 3.8" stroke-dashoffset="4.2"/>
<line x1="298.31" y1="768.88" x2="302.71" y2="768.88" stroke="#b5834c" stroke-width="1.7"/>
<line x1="308.53" y1="789.9" x2="308.53" y2="780.46" stroke="#b5834c" stroke-width="1.7" stroke-dasharray="4.6 3.8" stroke-dashoffset="4.2"/>
<line x1="306.33" y1="780.46" x2="310.73" y2="780.46" stroke="#b5834c" stroke-width="1.7"/>
<line x1="308.53" y1="800.5" x2="308.53" y2="811.29" stroke="#b5834c" stroke-width="1.7" stroke-dasharray="4.6 3.8" stroke-dashoffset="4.2"/>
<line x1="306.33" y1="811.29" x2="310.73" y2="811.29" stroke="#b5834c" stroke-width="1.7"/>
<line x1="316.55" y1="789.9" x2="316.55" y2="779.64" stroke="#b5834c" stroke-width="1.7" stroke-dasharray="4.6 3.8" stroke-dashoffset="4.2"/>
<line x1="314.35" y1="779.64" x2="318.75" y2="779.64" stroke="#b5834c" stroke-width="1.7"/>
<line x1="316.55" y1="800.5" x2="316.55" y2="812.28" stroke="#b5834c" stroke-width="1.7" stroke-dasharray="4.6 3.8" stroke-dashoffset="4.2"/>
<line x1="314.35" y1="812.28" x2="318.75" y2="812.28" stroke="#b5834c" stroke-width="1.7"/>
<line x1="324.57" y1="803.81" x2="324.57" y2="793.07" stroke="#b5834c" stroke-width="1.7" stroke-dasharray="4.6 3.8" stroke-dashoffset="4.2"/>
<line x1="322.37" y1="793.07" x2="326.77" y2="793.07" stroke="#b5834c" stroke-width="1.7"/>
<line x1="324.57" y1="814.41" x2="324.57" y2="826.76" stroke="#b5834c" stroke-width="1.7" stroke-dasharray="4.6 3.8" stroke-dashoffset="4.2"/>
<line x1="322.37" y1="826.76" x2="326.77" y2="826.76" stroke="#b5834c" stroke-width="1.7"/>
<line x1="332.59" y1="795.29" x2="332.59" y2="783.56" stroke="#b5834c" stroke-width="1.7" stroke-dasharray="4.6 3.8" stroke-dashoffset="4.2"/>
<line x1="330.39" y1="783.56" x2="334.79" y2="783.56" stroke="#b5834c" stroke-width="1.7"/>
<line x1="332.59" y1="805.89" x2="332.59" y2="819.46" stroke="#b5834c" stroke-width="1.7" stroke-dasharray="4.6 3.8" stroke-dashoffset="4.2"/>
<line x1="330.39" y1="819.46" x2="334.79" y2="819.46" stroke="#b5834c" stroke-width="1.7"/>
<line x1="340.61" y1="797.06" x2="340.61" y2="785.32" stroke="#b5834c" stroke-width="1.7" stroke-dasharray="4.6 3.8" stroke-dashoffset="4.2"/>
<line x1="338.41" y1="785.32" x2="342.81" y2="785.32" stroke="#b5834c" stroke-width="1.7"/>
<line x1="340.61" y1="807.66" x2="340.61" y2="821.23" stroke="#b5834c" stroke-width="1.7" stroke-dasharray="4.6 3.8" stroke-dashoffset="4.2"/>
<line x1="338.41" y1="821.23" x2="342.81" y2="821.23" stroke="#b5834c" stroke-width="1.7"/>
<line x1="348.63" y1="793.8" x2="348.63" y2="781.44" stroke="#b5834c" stroke-width="1.7" stroke-dasharray="4.6 3.8" stroke-dashoffset="4.2"/>
<line x1="346.43" y1="781.44" x2="350.83" y2="781.44" stroke="#b5834c" stroke-width="1.7"/>
<line x1="348.63" y1="804.4" x2="348.63" y2="818.74" stroke="#b5834c" stroke-width="1.7" stroke-dasharray="4.6 3.8" stroke-dashoffset="4.2"/>
<line x1="346.43" y1="818.74" x2="350.83" y2="818.74" stroke="#b5834c" stroke-width="1.7"/>
<line x1="356.66" y1="814.63" x2="356.66" y2="799.58" stroke="#b5834c" stroke-width="1.7" stroke-dasharray="4.6 3.8" stroke-dashoffset="4.2"/>
<line x1="354.46" y1="799.58" x2="358.86" y2="799.58" stroke="#b5834c" stroke-width="1.7"/>
<line x1="356.66" y1="825.23" x2="356.66" y2="842.95" stroke="#b5834c" stroke-width="1.7" stroke-dasharray="4.6 3.8" stroke-dashoffset="4.2"/>
<line x1="354.46" y1="842.95" x2="358.86" y2="842.95" stroke="#b5834c" stroke-width="1.7"/>
<line x1="364.68" y1="778.94" x2="364.68" y2="763.89" stroke="#b5834c" stroke-width="1.7" stroke-dasharray="4.6 3.8" stroke-dashoffset="4.2"/>
<line x1="362.48" y1="763.89" x2="366.88" y2="763.89" stroke="#b5834c" stroke-width="1.7"/>
<line x1="364.68" y1="789.54" x2="364.68" y2="807.27" stroke="#b5834c" stroke-width="1.7" stroke-dasharray="4.6 3.8" stroke-dashoffset="4.2"/>
<line x1="362.48" y1="807.27" x2="366.88" y2="807.27" stroke="#b5834c" stroke-width="1.7"/>
<line x1="372.7" y1="785.16" x2="372.7" y2="771.31" stroke="#b5834c" stroke-width="1.7" stroke-dasharray="4.6 3.8" stroke-dashoffset="4.2"/>
<line x1="370.5" y1="771.31" x2="374.9" y2="771.31" stroke="#b5834c" stroke-width="1.7"/>
<line x1="372.7" y1="795.76" x2="372.7" y2="811.97" stroke="#b5834c" stroke-width="1.7" stroke-dasharray="4.6 3.8" stroke-dashoffset="4.2"/>
<line x1="370.5" y1="811.97" x2="374.9" y2="811.97" stroke="#b5834c" stroke-width="1.7"/>
<line x1="380.72" y1="821.34" x2="380.72" y2="804.65" stroke="#b5834c" stroke-width="1.7" stroke-dasharray="4.6 3.8" stroke-dashoffset="4.2"/>
<line x1="378.52" y1="804.65" x2="382.92" y2="804.65" stroke="#b5834c" stroke-width="1.7"/>
<line x1="380.72" y1="831.94" x2="380.72" y2="851.78" stroke="#b5834c" stroke-width="1.7" stroke-dasharray="4.6 3.8" stroke-dashoffset="4.2"/>
<line x1="378.52" y1="851.78" x2="382.92" y2="851.78" stroke="#b5834c" stroke-width="1.7"/>
<line x1="388.74" y1="798.89" x2="388.74" y2="782.39" stroke="#b5834c" stroke-width="1.7" stroke-dasharray="4.6 3.8" stroke-dashoffset="4.2"/>
<line x1="386.54" y1="782.39" x2="390.94" y2="782.39" stroke="#b5834c" stroke-width="1.7"/>
<line x1="388.74" y1="809.49" x2="388.74" y2="829.1" stroke="#b5834c" stroke-width="1.7" stroke-dasharray="4.6 3.8" stroke-dashoffset="4.2"/>
<line x1="386.54" y1="829.1" x2="390.94" y2="829.1" stroke="#b5834c" stroke-width="1.7"/>
<line x1="396.76" y1="783.28" x2="396.76" y2="766.22" stroke="#b5834c" stroke-width="1.7" stroke-dasharray="4.6 3.8" stroke-dashoffset="4.2"/>
<line x1="394.56" y1="766.22" x2="398.96" y2="766.22" stroke="#b5834c" stroke-width="1.7"/>
<line x1="396.76" y1="793.88" x2="396.76" y2="814.23" stroke="#b5834c" stroke-width="1.7" stroke-dasharray="4.6 3.8" stroke-dashoffset="4.2"/>
<line x1="394.56" y1="814.23" x2="398.96" y2="814.23" stroke="#b5834c" stroke-width="1.7"/>
<line x1="404.78" y1="772.53" x2="404.78" y2="755.27" stroke="#b5834c" stroke-width="1.7" stroke-dasharray="4.6 3.8" stroke-dashoffset="4.2"/>
<line x1="402.58" y1="755.27" x2="406.98" y2="755.27" stroke="#b5834c" stroke-width="1.7"/>
<line x1="404.78" y1="783.13" x2="404.78" y2="803.73" stroke="#b5834c" stroke-width="1.7" stroke-dasharray="4.6 3.8" stroke-dashoffset="4.2"/>
<line x1="402.58" y1="803.73" x2="406.98" y2="803.73" stroke="#b5834c" stroke-width="1.7"/>
<line x1="412.8" y1="777.81" x2="412.8" y2="758.75" stroke="#b5834c" stroke-width="1.7" stroke-dasharray="4.6 3.8" stroke-dashoffset="4.2"/>
<line x1="410.6" y1="758.75" x2="415" y2="758.75" stroke="#b5834c" stroke-width="1.7"/>
<line x1="412.8" y1="788.41" x2="412.8" y2="811.4" stroke="#b5834c" stroke-width="1.7" stroke-dasharray="4.6 3.8" stroke-dashoffset="4.2"/>
<line x1="410.6" y1="811.4" x2="415" y2="811.4" stroke="#b5834c" stroke-width="1.7"/>
<line x1="420.82" y1="823.93" x2="420.82" y2="798.89" stroke="#b5834c" stroke-width="1.7" stroke-dasharray="4.6 3.8" stroke-dashoffset="4.2"/>
<line x1="418.62" y1="798.89" x2="423.02" y2="798.89" stroke="#b5834c" stroke-width="1.7"/>
<line x1="420.82" y1="834.53" x2="420.82" y2="865.95" stroke="#b5834c" stroke-width="1.7" stroke-dasharray="4.6 3.8" stroke-dashoffset="4.2"/>
<line x1="418.62" y1="865.95" x2="423.02" y2="865.95" stroke="#b5834c" stroke-width="1.7"/>
<line x1="428.84" y1="703.58" x2="428.84" y2="681.85" stroke="#b5834c" stroke-width="1.7" stroke-dasharray="4.6 3.8" stroke-dashoffset="4.2"/>
<line x1="426.64" y1="681.85" x2="431.04" y2="681.85" stroke="#b5834c" stroke-width="1.7"/>
<line x1="428.84" y1="714.18" x2="428.84" y2="740.83" stroke="#b5834c" stroke-width="1.7" stroke-dasharray="4.6 3.8" stroke-dashoffset="4.2"/>
<line x1="426.64" y1="740.83" x2="431.04" y2="740.83" stroke="#b5834c" stroke-width="1.7"/>
<line x1="436.86" y1="776.41" x2="436.86" y2="750.86" stroke="#b5834c" stroke-width="1.7" stroke-dasharray="4.6 3.8" stroke-dashoffset="4.2"/>
<line x1="434.66" y1="750.86" x2="439.06" y2="750.86" stroke="#b5834c" stroke-width="1.7"/>
<line x1="436.86" y1="787.01" x2="436.86" y2="819.18" stroke="#b5834c" stroke-width="1.7" stroke-dasharray="4.6 3.8" stroke-dashoffset="4.2"/>
<line x1="434.66" y1="819.18" x2="439.06" y2="819.18" stroke="#b5834c" stroke-width="1.7"/>
<line x1="444.88" y1="873.96" x2="444.88" y2="836.35" stroke="#b5834c" stroke-width="1.7" stroke-dasharray="4.6 3.8" stroke-dashoffset="4.2"/>
<line x1="442.68" y1="836.35" x2="447.08" y2="836.35" stroke="#b5834c" stroke-width="1.7"/>
<line x1="444.88" y1="884.56" x2="444.88" y2="936.2" stroke="#b5834c" stroke-width="1.7" stroke-dasharray="4.6 3.8" stroke-dashoffset="4.2"/>
<line x1="442.68" y1="936.2" x2="447.08" y2="936.2" stroke="#b5834c" stroke-width="1.7"/>
<line x1="452.9" y1="756.41" x2="452.9" y2="728.51" stroke="#b5834c" stroke-width="1.7" stroke-dasharray="4.6 3.8" stroke-dashoffset="4.2"/>
<line x1="450.7" y1="728.51" x2="455.1" y2="728.51" stroke="#b5834c" stroke-width="1.7"/>
<line x1="452.9" y1="767.01" x2="452.9" y2="802.7" stroke="#b5834c" stroke-width="1.7" stroke-dasharray="4.6 3.8" stroke-dashoffset="4.2"/>
<line x1="450.7" y1="802.7" x2="455.1" y2="802.7" stroke="#b5834c" stroke-width="1.7"/>
<line x1="460.93" y1="929.87" x2="460.93" y2="884.74" stroke="#b5834c" stroke-width="1.7" stroke-dasharray="4.6 3.8" stroke-dashoffset="4.2"/>
<line x1="458.73" y1="884.74" x2="463.13" y2="884.74" stroke="#b5834c" stroke-width="1.7"/>
<line x1="460.93" y1="940.47" x2="460.93" y2="975.8" stroke="#b5834c" stroke-width="1.7" stroke-dasharray="4.6 3.8" stroke-dashoffset="4.2"/>
<line x1="458.73" y1="975.8" x2="463.13" y2="975.8" stroke="#b5834c" stroke-width="1.7"/>
<line x1="468.95" y1="773.19" x2="468.95" y2="732.3" stroke="#b5834c" stroke-width="1.7" stroke-dasharray="4.6 3.8" stroke-dashoffset="4.2"/>
<line x1="466.75" y1="732.3" x2="471.15" y2="732.3" stroke="#b5834c" stroke-width="1.7"/>
<line x1="468.95" y1="783.79" x2="468.95" y2="841.39" stroke="#b5834c" stroke-width="1.7" stroke-dasharray="4.6 3.8" stroke-dashoffset="4.2"/>
<line x1="466.75" y1="841.39" x2="471.15" y2="841.39" stroke="#b5834c" stroke-width="1.7"/>
<line x1="476.97" y1="742.88" x2="476.97" y2="710.11" stroke="#b5834c" stroke-width="1.7" stroke-dasharray="4.6 3.8" stroke-dashoffset="4.2"/>
<line x1="474.77" y1="710.11" x2="479.17" y2="710.11" stroke="#b5834c" stroke-width="1.7"/>
<line x1="476.97" y1="753.48" x2="476.97" y2="796.87" stroke="#b5834c" stroke-width="1.7" stroke-dasharray="4.6 3.8" stroke-dashoffset="4.2"/>
<line x1="474.77" y1="796.87" x2="479.17" y2="796.87" stroke="#b5834c" stroke-width="1.7"/>
<line x1="484.99" y1="725.44" x2="484.99" y2="687.83" stroke="#b5834c" stroke-width="1.7" stroke-dasharray="4.6 3.8" stroke-dashoffset="4.2"/>
<line x1="482.79" y1="687.83" x2="487.19" y2="687.83" stroke="#b5834c" stroke-width="1.7"/>
<line x1="484.99" y1="736.04" x2="484.99" y2="787.68" stroke="#b5834c" stroke-width="1.7" stroke-dasharray="4.6 3.8" stroke-dashoffset="4.2"/>
<line x1="482.79" y1="787.68" x2="487.19" y2="787.68" stroke="#b5834c" stroke-width="1.7"/>
<line x1="493.01" y1="884.38" x2="493.01" y2="833.48" stroke="#b5834c" stroke-width="1.7" stroke-dasharray="4.6 3.8" stroke-dashoffset="4.2"/>
<line x1="490.81" y1="833.48" x2="495.21" y2="833.48" stroke="#b5834c" stroke-width="1.7"/>
<line x1="493.01" y1="894.98" x2="493.01" y2="972.9" stroke="#b5834c" stroke-width="1.7" stroke-dasharray="4.6 3.8" stroke-dashoffset="4.2"/>
<line x1="490.81" y1="972.9" x2="495.21" y2="972.9" stroke="#b5834c" stroke-width="1.7"/>
<line x1="501.03" y1="823.93" x2="501.03" y2="787.71" stroke="#b5834c" stroke-width="1.7" stroke-dasharray="4.6 3.8" stroke-dashoffset="4.2"/>
<line x1="498.83" y1="787.71" x2="503.23" y2="787.71" stroke="#b5834c" stroke-width="1.7"/>
<line x1="501.03" y1="834.53" x2="501.03" y2="883.74" stroke="#b5834c" stroke-width="1.7" stroke-dasharray="4.6 3.8" stroke-dashoffset="4.2"/>
<line x1="498.83" y1="883.74" x2="503.23" y2="883.74" stroke="#b5834c" stroke-width="1.7"/>
<line x1="509.05" y1="980.5" x2="509.05" y2="930.73" stroke="#b5834c" stroke-width="1.7" stroke-dasharray="4.6 3.8" stroke-dashoffset="4.2"/>
<line x1="506.85" y1="930.73" x2="511.25" y2="930.73" stroke="#b5834c" stroke-width="1.7"/>
<line x1="517.07" y1="773.19" x2="517.07" y2="732.3" stroke="#b5834c" stroke-width="1.7" stroke-dasharray="4.6 3.8" stroke-dashoffset="4.2"/>
<line x1="514.87" y1="732.3" x2="519.27" y2="732.3" stroke="#b5834c" stroke-width="1.7"/>
<line x1="517.07" y1="783.79" x2="517.07" y2="841.39" stroke="#b5834c" stroke-width="1.7" stroke-dasharray="4.6 3.8" stroke-dashoffset="4.2"/>
<line x1="514.87" y1="841.39" x2="519.27" y2="841.39" stroke="#b5834c" stroke-width="1.7"/>
<line x1="525.09" y1="789.9" x2="525.09" y2="735.19" stroke="#b5834c" stroke-width="1.7" stroke-dasharray="4.6 3.8" stroke-dashoffset="4.2"/>
<line x1="522.89" y1="735.19" x2="527.29" y2="735.19" stroke="#b5834c" stroke-width="1.7"/>
<line x1="525.09" y1="800.5" x2="525.09" y2="887.17" stroke="#b5834c" stroke-width="1.7" stroke-dasharray="4.6 3.8" stroke-dashoffset="4.2"/>
<line x1="522.89" y1="887.17" x2="527.29" y2="887.17" stroke="#b5834c" stroke-width="1.7"/>
<line x1="533.11" y1="757.94" x2="533.11" y2="703.23" stroke="#b5834c" stroke-width="1.7" stroke-dasharray="4.6 3.8" stroke-dashoffset="4.2"/>
<line x1="530.91" y1="703.23" x2="535.31" y2="703.23" stroke="#b5834c" stroke-width="1.7"/>
<line x1="533.11" y1="768.54" x2="533.11" y2="855.21" stroke="#b5834c" stroke-width="1.7" stroke-dasharray="4.6 3.8" stroke-dashoffset="4.2"/>
<line x1="530.91" y1="855.21" x2="535.31" y2="855.21" stroke="#b5834c" stroke-width="1.7"/>
<line x1="541.13" y1="771.43" x2="541.13" y2="728.57" stroke="#b5834c" stroke-width="1.7" stroke-dasharray="4.6 3.8" stroke-dashoffset="4.2"/>
<line x1="538.93" y1="728.57" x2="543.33" y2="728.57" stroke="#b5834c" stroke-width="1.7"/>
<line x1="541.13" y1="782.03" x2="541.13" y2="843.36" stroke="#b5834c" stroke-width="1.7" stroke-dasharray="4.6 3.8" stroke-dashoffset="4.2"/>
<line x1="538.93" y1="843.36" x2="543.33" y2="843.36" stroke="#b5834c" stroke-width="1.7"/>
<line x1="549.15" y1="609.9" x2="549.15" y2="753.59" stroke="#b5834c" stroke-width="1.7" stroke-dasharray="4.6 3.8" stroke-dashoffset="4.2"/>
<line x1="546.95" y1="753.59" x2="551.35" y2="753.59" stroke="#b5834c" stroke-width="1.7"/>
<line x1="557.18" y1="840.33" x2="557.18" y2="765.74" stroke="#b5834c" stroke-width="1.7" stroke-dasharray="4.6 3.8" stroke-dashoffset="4.2"/>
<line x1="554.98" y1="765.74" x2="559.38" y2="765.74" stroke="#b5834c" stroke-width="1.7"/>
<line x1="557.18" y1="850.93" x2="557.18" y2="975.8" stroke="#b5834c" stroke-width="1.7" stroke-dasharray="4.6 3.8" stroke-dashoffset="4.2"/>
<line x1="554.98" y1="975.8" x2="559.38" y2="975.8" stroke="#b5834c" stroke-width="1.7"/>
<line x1="565.2" y1="821.86" x2="565.2" y2="762.37" stroke="#b5834c" stroke-width="1.7" stroke-dasharray="4.6 3.8" stroke-dashoffset="4.2"/>
<line x1="563" y1="762.37" x2="567.4" y2="762.37" stroke="#b5834c" stroke-width="1.7"/>
<line x1="565.2" y1="832.46" x2="565.2" y2="931.07" stroke="#b5834c" stroke-width="1.7" stroke-dasharray="4.6 3.8" stroke-dashoffset="4.2"/>
<line x1="563" y1="931.07" x2="567.4" y2="931.07" stroke="#b5834c" stroke-width="1.7"/>
<line x1="573.22" y1="739.47" x2="573.22" y2="673.7" stroke="#b5834c" stroke-width="1.7" stroke-dasharray="4.6 3.8" stroke-dashoffset="4.2"/>
<line x1="571.02" y1="673.7" x2="575.42" y2="673.7" stroke="#b5834c" stroke-width="1.7"/>
<line x1="573.22" y1="750.07" x2="573.22" y2="866.27" stroke="#b5834c" stroke-width="1.7" stroke-dasharray="4.6 3.8" stroke-dashoffset="4.2"/>
<line x1="571.02" y1="866.27" x2="575.42" y2="866.27" stroke="#b5834c" stroke-width="1.7"/>
<line x1="589.26" y1="911.4" x2="589.26" y2="795.2" stroke="#b5834c" stroke-width="1.7" stroke-dasharray="4.6 3.8" stroke-dashoffset="4.2"/>
<line x1="587.06" y1="795.2" x2="591.46" y2="795.2" stroke="#b5834c" stroke-width="1.7"/>
<line x1="589.26" y1="922" x2="589.26" y2="975.8" stroke="#b5834c" stroke-width="1.7" stroke-dasharray="4.6 3.8" stroke-dashoffset="4.2"/>
<line x1="587.06" y1="975.8" x2="591.46" y2="975.8" stroke="#b5834c" stroke-width="1.7"/>
<line x1="629.36" y1="789.9" x2="629.36" y2="673.7" stroke="#b5834c" stroke-width="1.7" stroke-dasharray="4.6 3.8" stroke-dashoffset="4.2"/>
<line x1="627.16" y1="673.7" x2="631.56" y2="673.7" stroke="#b5834c" stroke-width="1.7"/>
<line x1="629.36" y1="800.5" x2="629.36" y2="975.8" stroke="#b5834c" stroke-width="1.7" stroke-dasharray="4.6 3.8" stroke-dashoffset="4.2"/>
<line x1="627.16" y1="975.8" x2="631.56" y2="975.8" stroke="#b5834c" stroke-width="1.7"/>
<line x1="637.38" y1="668.4" x2="637.38" y2="614.6" stroke="#b5834c" stroke-width="1.7" stroke-dasharray="4.6 3.8" stroke-dashoffset="4.2"/>
<line x1="635.18" y1="614.6" x2="639.58" y2="614.6" stroke="#b5834c" stroke-width="1.7"/>
<line x1="637.38" y1="679" x2="637.38" y2="888.94" stroke="#b5834c" stroke-width="1.7" stroke-dasharray="4.6 3.8" stroke-dashoffset="4.2"/>
<line x1="635.18" y1="888.94" x2="639.58" y2="888.94" stroke="#b5834c" stroke-width="1.7"/>
<line x1="645.4" y1="789.9" x2="645.4" y2="673.7" stroke="#b5834c" stroke-width="1.7" stroke-dasharray="4.6 3.8" stroke-dashoffset="4.2"/>
<line x1="643.2" y1="673.7" x2="647.6" y2="673.7" stroke="#b5834c" stroke-width="1.7"/>
<line x1="645.4" y1="800.5" x2="645.4" y2="975.8" stroke="#b5834c" stroke-width="1.7" stroke-dasharray="4.6 3.8" stroke-dashoffset="4.2"/>
<line x1="643.2" y1="975.8" x2="647.6" y2="975.8" stroke="#b5834c" stroke-width="1.7"/>
<line x1="653.42" y1="911.4" x2="653.42" y2="795.2" stroke="#b5834c" stroke-width="1.7" stroke-dasharray="4.6 3.8" stroke-dashoffset="4.2"/>
<line x1="651.22" y1="795.2" x2="655.62" y2="795.2" stroke="#b5834c" stroke-width="1.7"/>
<line x1="653.42" y1="922" x2="653.42" y2="975.8" stroke="#b5834c" stroke-width="1.7" stroke-dasharray="4.6 3.8" stroke-dashoffset="4.2"/>
<line x1="651.22" y1="975.8" x2="655.62" y2="975.8" stroke="#b5834c" stroke-width="1.7"/>
</g>
<polygon points="108.01,789.9 102.71,800.5 113.31,800.5" fill="#b5834c"/>
<polygon points="116.03,769.25 110.73,779.85 121.33,779.85" fill="#b5834c"/>
<polygon points="124.05,779.59 118.75,790.19 129.35,790.19" fill="#b5834c"/>
<polygon points="132.07,758.3 126.77,768.9 137.37,768.9" fill="#b5834c"/>
<polygon points="140.09,747.63 134.79,758.23 145.39,758.23" fill="#b5834c"/>
<polygon points="148.11,818.01 142.81,828.61 153.41,828.61" fill="#b5834c"/>
<polygon points="156.14,810.82 150.84,821.42 161.44,821.42" fill="#b5834c"/>
<polygon points="164.16,795.13 158.86,805.73 169.46,805.73" fill="#b5834c"/>
<polygon points="172.18,807.06 166.88,817.66 177.48,817.66" fill="#b5834c"/>
<polygon points="180.2,797.78 174.9,808.38 185.5,808.38" fill="#b5834c"/>
<polygon points="188.22,774.79 182.92,785.39 193.52,785.39" fill="#b5834c"/>
<polygon points="196.24,784.15 190.94,794.75 201.54,794.75" fill="#b5834c"/>
<polygon points="204.26,785.76 198.96,796.36 209.56,796.36" fill="#b5834c"/>
<polygon points="212.28,789.9 206.98,800.5 217.58,800.5" fill="#b5834c"/>
<polygon points="220.3,799.6 215,810.2 225.6,810.2" fill="#b5834c"/>
<polygon points="228.32,779.52 223.02,790.12 233.62,790.12" fill="#b5834c"/>
<polygon points="236.34,791.55 231.04,802.15 241.64,802.15" fill="#b5834c"/>
<polygon points="244.36,782.07 239.06,792.67 249.66,792.67" fill="#b5834c"/>
<polygon points="252.38,764.06 247.08,774.66 257.68,774.66" fill="#b5834c"/>
<polygon points="260.41,844.04 255.11,854.64 265.71,854.64" fill="#b5834c"/>
<polygon points="268.43,815.65 263.13,826.25 273.73,826.25" fill="#b5834c"/>
<polygon points="276.45,752.51 271.15,763.11 281.75,763.11" fill="#b5834c"/>
<polygon points="284.47,788.73 279.17,799.33 289.77,799.33" fill="#b5834c"/>
<polygon points="292.49,798.63 287.19,809.23 297.79,809.23" fill="#b5834c"/>
<polygon points="300.51,747.86 295.21,758.46 305.81,758.46" fill="#b5834c"/>
<polygon points="308.53,789.9 303.23,800.5 313.83,800.5" fill="#b5834c"/>
<polygon points="316.55,789.9 311.25,800.5 321.85,800.5" fill="#b5834c"/>
<polygon points="324.57,803.81 319.27,814.41 329.87,814.41" fill="#b5834c"/>
<polygon points="332.59,795.29 327.29,805.89 337.89,805.89" fill="#b5834c"/>
<polygon points="340.61,797.06 335.31,807.66 345.91,807.66" fill="#b5834c"/>
<polygon points="348.63,793.8 343.33,804.4 353.93,804.4" fill="#b5834c"/>
<polygon points="356.66,814.63 351.36,825.23 361.96,825.23" fill="#b5834c"/>
<polygon points="364.68,778.94 359.38,789.54 369.98,789.54" fill="#b5834c"/>
<polygon points="372.7,785.16 367.4,795.76 378,795.76" fill="#b5834c"/>
<polygon points="380.72,821.34 375.42,831.94 386.02,831.94" fill="#b5834c"/>
<polygon points="388.74,798.89 383.44,809.49 394.04,809.49" fill="#b5834c"/>
<polygon points="396.76,783.28 391.46,793.88 402.06,793.88" fill="#b5834c"/>
<polygon points="404.78,772.53 399.48,783.13 410.08,783.13" fill="#b5834c"/>
<polygon points="412.8,777.81 407.5,788.41 418.1,788.41" fill="#b5834c"/>
<polygon points="420.82,823.93 415.52,834.53 426.12,834.53" fill="#b5834c"/>
<polygon points="428.84,703.58 423.54,714.18 434.14,714.18" fill="#b5834c"/>
<polygon points="436.86,776.41 431.56,787.01 442.16,787.01" fill="#b5834c"/>
<polygon points="444.88,873.96 439.58,884.56 450.18,884.56" fill="#b5834c"/>
<polygon points="452.9,756.41 447.6,767.01 458.2,767.01" fill="#b5834c"/>
<polygon points="460.93,929.87 455.63,940.47 466.23,940.47" fill="#b5834c"/>
<polygon points="468.95,773.19 463.65,783.79 474.25,783.79" fill="#b5834c"/>
<polygon points="476.97,742.88 471.67,753.48 482.27,753.48" fill="#b5834c"/>
<polygon points="484.99,725.44 479.69,736.04 490.29,736.04" fill="#b5834c"/>
<polygon points="493.01,884.38 487.71,894.98 498.31,894.98" fill="#b5834c"/>
<polygon points="501.03,823.93 495.73,834.53 506.33,834.53" fill="#b5834c"/>
<polygon points="517.07,773.19 511.77,783.79 522.37,783.79" fill="#b5834c"/>
<polygon points="525.09,789.9 519.79,800.5 530.39,800.5" fill="#b5834c"/>
<polygon points="533.11,757.94 527.81,768.54 538.41,768.54" fill="#b5834c"/>
<polygon points="541.13,771.43 535.83,782.03 546.43,782.03" fill="#b5834c"/>
<polygon points="557.18,840.33 551.88,850.93 562.48,850.93" fill="#b5834c"/>
<polygon points="565.2,821.86 559.9,832.46 570.5,832.46" fill="#b5834c"/>
<polygon points="573.22,739.47 567.92,750.07 578.52,750.07" fill="#b5834c"/>
<polygon points="589.26,911.4 583.96,922 594.56,922" fill="#b5834c"/>
<polygon points="629.36,789.9 624.06,800.5 634.66,800.5" fill="#b5834c"/>
<polygon points="637.38,668.4 632.08,679 642.68,679" fill="#b5834c"/>
<polygon points="645.4,789.9 640.1,800.5 650.7,800.5" fill="#b5834c"/>
<polygon points="653.42,911.4 648.12,922 658.72,922" fill="#b5834c"/>
<g clip-path="url(#cr)">
<polyline points="108.01,805.48 116.03,788.16 124.05,800.64 132.07,828.39 140.09,794.49 148.11,800.46 156.14,787.09 164.16,793.52 172.18,781.06 180.2,790.57 188.22,813.65 196.24,800.17 204.26,767.52 212.28,787.81 220.3,802.18 228.32,814.37 236.34,801.78 244.36,828.82 252.38,767.54 260.41,837.63 268.43,789.64 276.45,750.21 284.47,799.69 292.49,771.84 300.51,732.11 308.53,787.18 316.55,773.87 324.57,772.83 332.59,774.02 340.61,855.01 348.63,802.39 356.66,785.7 364.68,761.47 372.7,845.33 380.72,817.77 388.74,804.58 396.76,817.83 404.78,858.17 412.8,840.15 420.82,787.41 428.84,792.49 436.86,850.07 444.88,776.54 452.9,744.38 460.93,801.48 468.95,721.41 476.97,901 484.99,836.54 493.01,842.91 501.03,924.61 509.05,959.98 517.07,882.03 525.09,643.97 533.11,831.6 541.13,985.8 549.15,604.6 557.18,985.8 565.2,792.49 573.22,702.95 589.26,913.99 621.34,953.1 645.4,792.49 653.42,913.99" fill="none" stroke="#e6194b" stroke-width="1.7" stroke-dasharray="4.5 5.2 1.6 5.3"/>
<line x1="108.01" y1="800.18" x2="108.01" y2="762.57" stroke="#e6194b" stroke-width="1.7" stroke-dasharray="4.5 5.2 1.6 5.3" stroke-dashoffset="7"/>
<line x1="105.81" y1="762.57" x2="110.21" y2="762.57" stroke="#e6194b" stroke-width="1.7"/>
<line x1="108.01" y1="810.78" x2="108.01" y2="862.42" stroke="#e6194b" stroke-width="1.7" stroke-dasharray="4.5 5.2 1.6 5.3" stroke-dashoffset="7"/>
<line x1="105.81" y1="862.42" x2="110.21" y2="862.42" stroke="#e6194b" stroke-width="1.7"/>
<line x1="116.03" y1="782.86" x2="116.03" y2="762.72" stroke="#e6194b" stroke-width="1.7" stroke-dasharray="4.5 5.2 1.6 5.3" stroke-dashoffset="7"/>
<line x1="113.83" y1="762.72" x2="118.23" y2="762.72" stroke="#e6194b" stroke-width="1.7"/>
<line x1="116.03" y1="793.46" x2="116.03" y2="817.92" stroke="#e6194b" stroke-width="1.7" stroke-dasharray="4.5 5.2 1.6 5.3" stroke-dashoffset="7"/>
<line x1="113.83" y1="817.92" x2="118.23" y2="817.92" stroke="#e6194b" stroke-width="1.7"/>
<line x1="124.05" y1="795.34" x2="124.05" y2="779.84" stroke="#e6194b" stroke-width="1.7" stroke-dasharray="4.5 5.2 1.6 5.3" stroke-dashoffset="7"/>
<line x1="121.85" y1="779.84" x2="126.25" y2="779.84" stroke="#e6194b" stroke-width="1.7"/>
<line x1="124.05" y1="805.94" x2="124.05" y2="824.25" stroke="#e6194b" stroke-width="1.7" stroke-dasharray="4.5 5.2 1.6 5.3" stroke-dashoffset="7"/>
<line x1="121.85" y1="824.25" x2="126.25" y2="824.25" stroke="#e6194b" stroke-width="1.7"/>
<line x1="132.07" y1="823.09" x2="132.07" y2="808.04" stroke="#e6194b" stroke-width="1.7" stroke-dasharray="4.5 5.2 1.6 5.3" stroke-dashoffset="7"/>
<line x1="129.87" y1="808.04" x2="134.27" y2="808.04" stroke="#e6194b" stroke-width="1.7"/>
<line x1="132.07" y1="833.69" x2="132.07" y2="851.41" stroke="#e6194b" stroke-width="1.7" stroke-dasharray="4.5 5.2 1.6 5.3" stroke-dashoffset="7"/>
<line x1="129.87" y1="851.41" x2="134.27" y2="851.41" stroke="#e6194b" stroke-width="1.7"/>
<line x1="140.09" y1="789.19" x2="140.09" y2="776.64" stroke="#e6194b" stroke-width="1.7" stroke-dasharray="4.5 5.2 1.6 5.3" stroke-dashoffset="7"/>
<line x1="137.89" y1="776.64" x2="142.29" y2="776.64" stroke="#e6194b" stroke-width="1.7"/>
<line x1="140.09" y1="799.79" x2="140.09" y2="814.37" stroke="#e6194b" stroke-width="1.7" stroke-dasharray="4.5 5.2 1.6 5.3" stroke-dashoffset="7"/>
<line x1="137.89" y1="814.37" x2="142.29" y2="814.37" stroke="#e6194b" stroke-width="1.7"/>
<line x1="148.11" y1="795.16" x2="148.11" y2="785.67" stroke="#e6194b" stroke-width="1.7" stroke-dasharray="4.5 5.2 1.6 5.3" stroke-dashoffset="7"/>
<line x1="145.91" y1="785.67" x2="150.31" y2="785.67" stroke="#e6194b" stroke-width="1.7"/>
<line x1="148.11" y1="805.76" x2="148.11" y2="816.61" stroke="#e6194b" stroke-width="1.7" stroke-dasharray="4.5 5.2 1.6 5.3" stroke-dashoffset="7"/>
<line x1="145.91" y1="816.61" x2="150.31" y2="816.61" stroke="#e6194b" stroke-width="1.7"/>
<line x1="156.14" y1="781.79" x2="156.14" y2="773.95" stroke="#e6194b" stroke-width="1.7" stroke-dasharray="4.5 5.2 1.6 5.3" stroke-dashoffset="7"/>
<line x1="153.94" y1="773.95" x2="158.34" y2="773.95" stroke="#e6194b" stroke-width="1.7"/>
<line x1="156.14" y1="792.39" x2="156.14" y2="801.3" stroke="#e6194b" stroke-width="1.7" stroke-dasharray="4.5 5.2 1.6 5.3" stroke-dashoffset="7"/>
<line x1="153.94" y1="801.3" x2="158.34" y2="801.3" stroke="#e6194b" stroke-width="1.7"/>
<line x1="164.16" y1="788.22" x2="164.16" y2="780.53" stroke="#e6194b" stroke-width="1.7" stroke-dasharray="4.5 5.2 1.6 5.3" stroke-dashoffset="7"/>
<line x1="161.96" y1="780.53" x2="166.36" y2="780.53" stroke="#e6194b" stroke-width="1.7"/>
<line x1="164.16" y1="798.82" x2="164.16" y2="807.55" stroke="#e6194b" stroke-width="1.7" stroke-dasharray="4.5 5.2 1.6 5.3" stroke-dashoffset="7"/>
<line x1="161.96" y1="807.55" x2="166.36" y2="807.55" stroke="#e6194b" stroke-width="1.7"/>
<line x1="172.18" y1="775.76" x2="172.18" y2="769.25" stroke="#e6194b" stroke-width="1.7" stroke-dasharray="4.5 5.2 1.6 5.3" stroke-dashoffset="7"/>
<line x1="169.98" y1="769.25" x2="174.38" y2="769.25" stroke="#e6194b" stroke-width="1.7"/>
<line x1="172.18" y1="786.36" x2="172.18" y2="793.72" stroke="#e6194b" stroke-width="1.7" stroke-dasharray="4.5 5.2 1.6 5.3" stroke-dashoffset="7"/>
<line x1="169.98" y1="793.72" x2="174.38" y2="793.72" stroke="#e6194b" stroke-width="1.7"/>
<line x1="180.2" y1="785.27" x2="180.2" y2="778.1" stroke="#e6194b" stroke-width="1.7" stroke-dasharray="4.5 5.2 1.6 5.3" stroke-dashoffset="7"/>
<line x1="178" y1="778.1" x2="182.4" y2="778.1" stroke="#e6194b" stroke-width="1.7"/>
<line x1="180.2" y1="795.87" x2="180.2" y2="804" stroke="#e6194b" stroke-width="1.7" stroke-dasharray="4.5 5.2 1.6 5.3" stroke-dashoffset="7"/>
<line x1="178" y1="804" x2="182.4" y2="804" stroke="#e6194b" stroke-width="1.7"/>
<line x1="188.22" y1="808.35" x2="188.22" y2="801.28" stroke="#e6194b" stroke-width="1.7" stroke-dasharray="4.5 5.2 1.6 5.3" stroke-dashoffset="7"/>
<line x1="186.02" y1="801.28" x2="190.42" y2="801.28" stroke="#e6194b" stroke-width="1.7"/>
<line x1="188.22" y1="818.95" x2="188.22" y2="826.96" stroke="#e6194b" stroke-width="1.7" stroke-dasharray="4.5 5.2 1.6 5.3" stroke-dashoffset="7"/>
<line x1="186.02" y1="826.96" x2="190.42" y2="826.96" stroke="#e6194b" stroke-width="1.7"/>
<line x1="196.24" y1="794.87" x2="196.24" y2="788.22" stroke="#e6194b" stroke-width="1.7" stroke-dasharray="4.5 5.2 1.6 5.3" stroke-dashoffset="7"/>
<line x1="194.04" y1="788.22" x2="198.44" y2="788.22" stroke="#e6194b" stroke-width="1.7"/>
<line x1="196.24" y1="805.47" x2="196.24" y2="812.99" stroke="#e6194b" stroke-width="1.7" stroke-dasharray="4.5 5.2 1.6 5.3" stroke-dashoffset="7"/>
<line x1="194.04" y1="812.99" x2="198.44" y2="812.99" stroke="#e6194b" stroke-width="1.7"/>
<line x1="204.26" y1="762.22" x2="204.26" y2="756.57" stroke="#e6194b" stroke-width="1.7" stroke-dasharray="4.5 5.2 1.6 5.3" stroke-dashoffset="7"/>
<line x1="202.06" y1="756.57" x2="206.46" y2="756.57" stroke="#e6194b" stroke-width="1.7"/>
<line x1="204.26" y1="772.82" x2="204.26" y2="779.19" stroke="#e6194b" stroke-width="1.7" stroke-dasharray="4.5 5.2 1.6 5.3" stroke-dashoffset="7"/>
<line x1="202.06" y1="779.19" x2="206.46" y2="779.19" stroke="#e6194b" stroke-width="1.7"/>
<line x1="212.28" y1="782.51" x2="212.28" y2="776.57" stroke="#e6194b" stroke-width="1.7" stroke-dasharray="4.5 5.2 1.6 5.3" stroke-dashoffset="7"/>
<line x1="210.08" y1="776.57" x2="214.48" y2="776.57" stroke="#e6194b" stroke-width="1.7"/>
<line x1="212.28" y1="793.11" x2="212.28" y2="799.82" stroke="#e6194b" stroke-width="1.7" stroke-dasharray="4.5 5.2 1.6 5.3" stroke-dashoffset="7"/>
<line x1="210.08" y1="799.82" x2="214.48" y2="799.82" stroke="#e6194b" stroke-width="1.7"/>
<line x1="220.3" y1="796.88" x2="220.3" y2="790.51" stroke="#e6194b" stroke-width="1.7" stroke-dasharray="4.5 5.2 1.6 5.3" stroke-dashoffset="7"/>
<line x1="218.1" y1="790.51" x2="222.5" y2="790.51" stroke="#e6194b" stroke-width="1.7"/>
<line x1="220.3" y1="807.48" x2="220.3" y2="814.69" stroke="#e6194b" stroke-width="1.7" stroke-dasharray="4.5 5.2 1.6 5.3" stroke-dashoffset="7"/>
<line x1="218.1" y1="814.69" x2="222.5" y2="814.69" stroke="#e6194b" stroke-width="1.7"/>
<line x1="228.32" y1="809.07" x2="228.32" y2="802.03" stroke="#e6194b" stroke-width="1.7" stroke-dasharray="4.5 5.2 1.6 5.3" stroke-dashoffset="7"/>
<line x1="226.12" y1="802.03" x2="230.52" y2="802.03" stroke="#e6194b" stroke-width="1.7"/>
<line x1="228.32" y1="819.67" x2="228.32" y2="827.65" stroke="#e6194b" stroke-width="1.7" stroke-dasharray="4.5 5.2 1.6 5.3" stroke-dashoffset="7"/>
<line x1="226.12" y1="827.65" x2="230.52" y2="827.65" stroke="#e6194b" stroke-width="1.7"/>
<line x1="236.34" y1="796.48" x2="236.34" y2="789.86" stroke="#e6194b" stroke-width="1.7" stroke-dasharray="4.5 5.2 1.6 5.3" stroke-dashoffset="7"/>
<line x1="234.14" y1="789.86" x2="238.54" y2="789.86" stroke="#e6194b" stroke-width="1.7"/>
<line x1="236.34" y1="807.08" x2="236.34" y2="814.57" stroke="#e6194b" stroke-width="1.7" stroke-dasharray="4.5 5.2 1.6 5.3" stroke-dashoffset="7"/>
<line x1="234.14" y1="814.57" x2="238.54" y2="814.57" stroke="#e6194b" stroke-width="1.7"/>
<line x1="244.36" y1="823.52" x2="244.36" y2="816.15" stroke="#e6194b" stroke-width="1.7" stroke-dasharray="4.5 5.2 1.6 5.3" stroke-dashoffset="7"/>
<line x1="242.16" y1="816.15" x2="246.56" y2="816.15" stroke="#e6194b" stroke-width="1.7"/>
<line x1="244.36" y1="834.12" x2="244.36" y2="842.48" stroke="#e6194b" stroke-width="1.7" stroke-dasharray="4.5 5.2 1.6 5.3" stroke-dashoffset="7"/>
<line x1="242.16" y1="842.48" x2="246.56" y2="842.48" stroke="#e6194b" stroke-width="1.7"/>
<line x1="252.38" y1="762.24" x2="252.38" y2="755.45" stroke="#e6194b" stroke-width="1.7" stroke-dasharray="4.5 5.2 1.6 5.3" stroke-dashoffset="7"/>
<line x1="250.18" y1="755.45" x2="254.58" y2="755.45" stroke="#e6194b" stroke-width="1.7"/>
<line x1="252.38" y1="772.84" x2="252.38" y2="780.53" stroke="#e6194b" stroke-width="1.7" stroke-dasharray="4.5 5.2 1.6 5.3" stroke-dashoffset="7"/>
<line x1="250.18" y1="780.53" x2="254.58" y2="780.53" stroke="#e6194b" stroke-width="1.7"/>
<line x1="260.41" y1="832.33" x2="260.41" y2="824.29" stroke="#e6194b" stroke-width="1.7" stroke-dasharray="4.5 5.2 1.6 5.3" stroke-dashoffset="7"/>
<line x1="258.21" y1="824.29" x2="262.61" y2="824.29" stroke="#e6194b" stroke-width="1.7"/>
<line x1="260.41" y1="842.93" x2="260.41" y2="852.07" stroke="#e6194b" stroke-width="1.7" stroke-dasharray="4.5 5.2 1.6 5.3" stroke-dashoffset="7"/>
<line x1="258.21" y1="852.07" x2="262.61" y2="852.07" stroke="#e6194b" stroke-width="1.7"/>
<line x1="268.43" y1="784.34" x2="268.43" y2="777.23" stroke="#e6194b" stroke-width="1.7" stroke-dasharray="4.5 5.2 1.6 5.3" stroke-dashoffset="7"/>
<line x1="266.23" y1="777.23" x2="270.63" y2="777.23" stroke="#e6194b" stroke-width="1.7"/>
<line x1="268.43" y1="794.94" x2="268.43" y2="802.99" stroke="#e6194b" stroke-width="1.7" stroke-dasharray="4.5 5.2 1.6 5.3" stroke-dashoffset="7"/>
<line x1="266.23" y1="802.99" x2="270.63" y2="802.99" stroke="#e6194b" stroke-width="1.7"/>
<line x1="276.45" y1="744.91" x2="276.45" y2="737.68" stroke="#e6194b" stroke-width="1.7" stroke-dasharray="4.5 5.2 1.6 5.3" stroke-dashoffset="7"/>
<line x1="274.25" y1="737.68" x2="278.65" y2="737.68" stroke="#e6194b" stroke-width="1.7"/>
<line x1="276.45" y1="755.51" x2="276.45" y2="763.71" stroke="#e6194b" stroke-width="1.7" stroke-dasharray="4.5 5.2 1.6 5.3" stroke-dashoffset="7"/>
<line x1="274.25" y1="763.71" x2="278.65" y2="763.71" stroke="#e6194b" stroke-width="1.7"/>
<line x1="284.47" y1="794.39" x2="284.47" y2="785.61" stroke="#e6194b" stroke-width="1.7" stroke-dasharray="4.5 5.2 1.6 5.3" stroke-dashoffset="7"/>
<line x1="282.27" y1="785.61" x2="286.67" y2="785.61" stroke="#e6194b" stroke-width="1.7"/>
<line x1="284.47" y1="804.99" x2="284.47" y2="815" stroke="#e6194b" stroke-width="1.7" stroke-dasharray="4.5 5.2 1.6 5.3" stroke-dashoffset="7"/>
<line x1="282.27" y1="815" x2="286.67" y2="815" stroke="#e6194b" stroke-width="1.7"/>
<line x1="292.49" y1="766.54" x2="292.49" y2="758.58" stroke="#e6194b" stroke-width="1.7" stroke-dasharray="4.5 5.2 1.6 5.3" stroke-dashoffset="7"/>
<line x1="290.29" y1="758.58" x2="294.69" y2="758.58" stroke="#e6194b" stroke-width="1.7"/>
<line x1="292.49" y1="777.14" x2="292.49" y2="786.18" stroke="#e6194b" stroke-width="1.7" stroke-dasharray="4.5 5.2 1.6 5.3" stroke-dashoffset="7"/>
<line x1="290.29" y1="786.18" x2="294.69" y2="786.18" stroke="#e6194b" stroke-width="1.7"/>
<line x1="300.51" y1="726.81" x2="300.51" y2="718.4" stroke="#e6194b" stroke-width="1.7" stroke-dasharray="4.5 5.2 1.6 5.3" stroke-dashoffset="7"/>
<line x1="298.31" y1="718.4" x2="302.71" y2="718.4" stroke="#e6194b" stroke-width="1.7"/>
<line x1="300.51" y1="737.41" x2="300.51" y2="746.99" stroke="#e6194b" stroke-width="1.7" stroke-dasharray="4.5 5.2 1.6 5.3" stroke-dashoffset="7"/>
<line x1="298.31" y1="746.99" x2="302.71" y2="746.99" stroke="#e6194b" stroke-width="1.7"/>
<line x1="308.53" y1="781.88" x2="308.53" y2="772.65" stroke="#e6194b" stroke-width="1.7" stroke-dasharray="4.5 5.2 1.6 5.3" stroke-dashoffset="7"/>
<line x1="306.33" y1="772.65" x2="310.73" y2="772.65" stroke="#e6194b" stroke-width="1.7"/>
<line x1="308.53" y1="792.48" x2="308.53" y2="803.01" stroke="#e6194b" stroke-width="1.7" stroke-dasharray="4.5 5.2 1.6 5.3" stroke-dashoffset="7"/>
<line x1="306.33" y1="803.01" x2="310.73" y2="803.01" stroke="#e6194b" stroke-width="1.7"/>
<line x1="316.55" y1="768.57" x2="316.55" y2="759.08" stroke="#e6194b" stroke-width="1.7" stroke-dasharray="4.5 5.2 1.6 5.3" stroke-dashoffset="7"/>
<line x1="314.35" y1="759.08" x2="318.75" y2="759.08" stroke="#e6194b" stroke-width="1.7"/>
<line x1="316.55" y1="779.17" x2="316.55" y2="790.02" stroke="#e6194b" stroke-width="1.7" stroke-dasharray="4.5 5.2 1.6 5.3" stroke-dashoffset="7"/>
<line x1="314.35" y1="790.02" x2="318.75" y2="790.02" stroke="#e6194b" stroke-width="1.7"/>
<line x1="324.57" y1="767.53" x2="324.57" y2="758.21" stroke="#e6194b" stroke-width="1.7" stroke-dasharray="4.5 5.2 1.6 5.3" stroke-dashoffset="7"/>
<line x1="322.37" y1="758.21" x2="326.77" y2="758.21" stroke="#e6194b" stroke-width="1.7"/>
<line x1="324.57" y1="778.13" x2="324.57" y2="788.8" stroke="#e6194b" stroke-width="1.7" stroke-dasharray="4.5 5.2 1.6 5.3" stroke-dashoffset="7"/>
<line x1="322.37" y1="788.8" x2="326.77" y2="788.8" stroke="#e6194b" stroke-width="1.7"/>
<line x1="332.59" y1="768.72" x2="332.59" y2="758.06" stroke="#e6194b" stroke-width="1.7" stroke-dasharray="4.5 5.2 1.6 5.3" stroke-dashoffset="7"/>
<line x1="330.39" y1="758.06" x2="334.79" y2="758.06" stroke="#e6194b" stroke-width="1.7"/>
<line x1="332.59" y1="779.32" x2="332.59" y2="791.58" stroke="#e6194b" stroke-width="1.7" stroke-dasharray="4.5 5.2 1.6 5.3" stroke-dashoffset="7"/>
<line x1="330.39" y1="791.58" x2="334.79" y2="791.58" stroke="#e6194b" stroke-width="1.7"/>
<line x1="340.61" y1="849.71" x2="340.61" y2="835.22" stroke="#e6194b" stroke-width="1.7" stroke-dasharray="4.5 5.2 1.6 5.3" stroke-dashoffset="7"/>
<line x1="338.41" y1="835.22" x2="342.81" y2="835.22" stroke="#e6194b" stroke-width="1.7"/>
<line x1="340.61" y1="860.31" x2="340.61" y2="877.32" stroke="#e6194b" stroke-width="1.7" stroke-dasharray="4.5 5.2 1.6 5.3" stroke-dashoffset="7"/>
<line x1="338.41" y1="877.32" x2="342.81" y2="877.32" stroke="#e6194b" stroke-width="1.7"/>
<line x1="348.63" y1="797.09" x2="348.63" y2="784.44" stroke="#e6194b" stroke-width="1.7" stroke-dasharray="4.5 5.2 1.6 5.3" stroke-dashoffset="7"/>
<line x1="346.43" y1="784.44" x2="350.83" y2="784.44" stroke="#e6194b" stroke-width="1.7"/>
<line x1="348.63" y1="807.69" x2="348.63" y2="822.39" stroke="#e6194b" stroke-width="1.7" stroke-dasharray="4.5 5.2 1.6 5.3" stroke-dashoffset="7"/>
<line x1="346.43" y1="822.39" x2="350.83" y2="822.39" stroke="#e6194b" stroke-width="1.7"/>
<line x1="356.66" y1="780.4" x2="356.66" y2="767.01" stroke="#e6194b" stroke-width="1.7" stroke-dasharray="4.5 5.2 1.6 5.3" stroke-dashoffset="7"/>
<line x1="354.46" y1="767.01" x2="358.86" y2="767.01" stroke="#e6194b" stroke-width="1.7"/>
<line x1="356.66" y1="791" x2="356.66" y2="806.62" stroke="#e6194b" stroke-width="1.7" stroke-dasharray="4.5 5.2 1.6 5.3" stroke-dashoffset="7"/>
<line x1="354.46" y1="806.62" x2="358.86" y2="806.62" stroke="#e6194b" stroke-width="1.7"/>
<line x1="364.68" y1="756.17" x2="364.68" y2="742.2" stroke="#e6194b" stroke-width="1.7" stroke-dasharray="4.5 5.2 1.6 5.3" stroke-dashoffset="7"/>
<line x1="362.48" y1="742.2" x2="366.88" y2="742.2" stroke="#e6194b" stroke-width="1.7"/>
<line x1="364.68" y1="766.77" x2="364.68" y2="783.14" stroke="#e6194b" stroke-width="1.7" stroke-dasharray="4.5 5.2 1.6 5.3" stroke-dashoffset="7"/>
<line x1="362.48" y1="783.14" x2="366.88" y2="783.14" stroke="#e6194b" stroke-width="1.7"/>
<line x1="372.7" y1="840.03" x2="372.7" y2="822.97" stroke="#e6194b" stroke-width="1.7" stroke-dasharray="4.5 5.2 1.6 5.3" stroke-dashoffset="7"/>
<line x1="370.5" y1="822.97" x2="374.9" y2="822.97" stroke="#e6194b" stroke-width="1.7"/>
<line x1="372.7" y1="850.63" x2="372.7" y2="870.97" stroke="#e6194b" stroke-width="1.7" stroke-dasharray="4.5 5.2 1.6 5.3" stroke-dashoffset="7"/>
<line x1="370.5" y1="870.97" x2="374.9" y2="870.97" stroke="#e6194b" stroke-width="1.7"/>
<line x1="380.72" y1="812.47" x2="380.72" y2="796.15" stroke="#e6194b" stroke-width="1.7" stroke-dasharray="4.5 5.2 1.6 5.3" stroke-dashoffset="7"/>
<line x1="378.52" y1="796.15" x2="382.92" y2="796.15" stroke="#e6194b" stroke-width="1.7"/>
<line x1="380.72" y1="823.07" x2="380.72" y2="842.45" stroke="#e6194b" stroke-width="1.7" stroke-dasharray="4.5 5.2 1.6 5.3" stroke-dashoffset="7"/>
<line x1="378.52" y1="842.45" x2="382.92" y2="842.45" stroke="#e6194b" stroke-width="1.7"/>
<line x1="388.74" y1="799.28" x2="388.74" y2="782.6" stroke="#e6194b" stroke-width="1.7" stroke-dasharray="4.5 5.2 1.6 5.3" stroke-dashoffset="7"/>
<line x1="386.54" y1="782.6" x2="390.94" y2="782.6" stroke="#e6194b" stroke-width="1.7"/>
<line x1="388.74" y1="809.88" x2="388.74" y2="829.72" stroke="#e6194b" stroke-width="1.7" stroke-dasharray="4.5 5.2 1.6 5.3" stroke-dashoffset="7"/>
<line x1="386.54" y1="829.72" x2="390.94" y2="829.72" stroke="#e6194b" stroke-width="1.7"/>
<line x1="396.76" y1="812.53" x2="396.76" y2="793.47" stroke="#e6194b" stroke-width="1.7" stroke-dasharray="4.5 5.2 1.6 5.3" stroke-dashoffset="7"/>
<line x1="394.56" y1="793.47" x2="398.96" y2="793.47" stroke="#e6194b" stroke-width="1.7"/>
<line x1="396.76" y1="823.13" x2="396.76" y2="846.13" stroke="#e6194b" stroke-width="1.7" stroke-dasharray="4.5 5.2 1.6 5.3" stroke-dashoffset="7"/>
<line x1="394.56" y1="846.13" x2="398.96" y2="846.13" stroke="#e6194b" stroke-width="1.7"/>
<line x1="404.78" y1="852.87" x2="404.78" y2="830.04" stroke="#e6194b" stroke-width="1.7" stroke-dasharray="4.5 5.2 1.6 5.3" stroke-dashoffset="7"/>
<line x1="402.58" y1="830.04" x2="406.98" y2="830.04" stroke="#e6194b" stroke-width="1.7"/>
<line x1="404.78" y1="863.47" x2="404.78" y2="891.69" stroke="#e6194b" stroke-width="1.7" stroke-dasharray="4.5 5.2 1.6 5.3" stroke-dashoffset="7"/>
<line x1="402.58" y1="891.69" x2="406.98" y2="891.69" stroke="#e6194b" stroke-width="1.7"/>
<line x1="412.8" y1="834.85" x2="412.8" y2="811.62" stroke="#e6194b" stroke-width="1.7" stroke-dasharray="4.5 5.2 1.6 5.3" stroke-dashoffset="7"/>
<line x1="410.6" y1="811.62" x2="415" y2="811.62" stroke="#e6194b" stroke-width="1.7"/>
<line x1="412.8" y1="845.45" x2="412.8" y2="874.25" stroke="#e6194b" stroke-width="1.7" stroke-dasharray="4.5 5.2 1.6 5.3" stroke-dashoffset="7"/>
<line x1="410.6" y1="874.25" x2="415" y2="874.25" stroke="#e6194b" stroke-width="1.7"/>
<line x1="420.82" y1="782.11" x2="420.82" y2="760.03" stroke="#e6194b" stroke-width="1.7" stroke-dasharray="4.5 5.2 1.6 5.3" stroke-dashoffset="7"/>
<line x1="418.62" y1="760.03" x2="423.02" y2="760.03" stroke="#e6194b" stroke-width="1.7"/>
<line x1="420.82" y1="792.71" x2="420.82" y2="819.86" stroke="#e6194b" stroke-width="1.7" stroke-dasharray="4.5 5.2 1.6 5.3" stroke-dashoffset="7"/>
<line x1="418.62" y1="819.86" x2="423.02" y2="819.86" stroke="#e6194b" stroke-width="1.7"/>
<line x1="428.84" y1="787.19" x2="428.84" y2="758.61" stroke="#e6194b" stroke-width="1.7" stroke-dasharray="4.5 5.2 1.6 5.3" stroke-dashoffset="7"/>
<line x1="426.64" y1="758.61" x2="431.04" y2="758.61" stroke="#e6194b" stroke-width="1.7"/>
<line x1="428.84" y1="797.79" x2="428.84" y2="834.52" stroke="#e6194b" stroke-width="1.7" stroke-dasharray="4.5 5.2 1.6 5.3" stroke-dashoffset="7"/>
<line x1="426.64" y1="834.52" x2="431.04" y2="834.52" stroke="#e6194b" stroke-width="1.7"/>
<line x1="436.86" y1="844.77" x2="436.86" y2="812.97" stroke="#e6194b" stroke-width="1.7" stroke-dasharray="4.5 5.2 1.6 5.3" stroke-dashoffset="7"/>
<line x1="434.66" y1="812.97" x2="439.06" y2="812.97" stroke="#e6194b" stroke-width="1.7"/>
<line x1="436.86" y1="855.37" x2="436.86" y2="897.19" stroke="#e6194b" stroke-width="1.7" stroke-dasharray="4.5 5.2 1.6 5.3" stroke-dashoffset="7"/>
<line x1="434.66" y1="897.19" x2="439.06" y2="897.19" stroke="#e6194b" stroke-width="1.7"/>
<line x1="444.88" y1="771.24" x2="444.88" y2="743.34" stroke="#e6194b" stroke-width="1.7" stroke-dasharray="4.5 5.2 1.6 5.3" stroke-dashoffset="7"/>
<line x1="442.68" y1="743.34" x2="447.08" y2="743.34" stroke="#e6194b" stroke-width="1.7"/>
<line x1="444.88" y1="781.84" x2="444.88" y2="817.53" stroke="#e6194b" stroke-width="1.7" stroke-dasharray="4.5 5.2 1.6 5.3" stroke-dashoffset="7"/>
<line x1="442.68" y1="817.53" x2="447.08" y2="817.53" stroke="#e6194b" stroke-width="1.7"/>
<line x1="452.9" y1="739.08" x2="452.9" y2="712.42" stroke="#e6194b" stroke-width="1.7" stroke-dasharray="4.5 5.2 1.6 5.3" stroke-dashoffset="7"/>
<line x1="450.7" y1="712.42" x2="455.1" y2="712.42" stroke="#e6194b" stroke-width="1.7"/>
<line x1="452.9" y1="749.68" x2="452.9" y2="783.5" stroke="#e6194b" stroke-width="1.7" stroke-dasharray="4.5 5.2 1.6 5.3" stroke-dashoffset="7"/>
<line x1="450.7" y1="783.5" x2="455.1" y2="783.5" stroke="#e6194b" stroke-width="1.7"/>
<line x1="460.93" y1="796.18" x2="460.93" y2="765.27" stroke="#e6194b" stroke-width="1.7" stroke-dasharray="4.5 5.2 1.6 5.3" stroke-dashoffset="7"/>
<line x1="458.73" y1="765.27" x2="463.13" y2="765.27" stroke="#e6194b" stroke-width="1.7"/>
<line x1="460.93" y1="806.78" x2="460.93" y2="847.16" stroke="#e6194b" stroke-width="1.7" stroke-dasharray="4.5 5.2 1.6 5.3" stroke-dashoffset="7"/>
<line x1="458.73" y1="847.16" x2="463.13" y2="847.16" stroke="#e6194b" stroke-width="1.7"/>
<line x1="468.95" y1="716.11" x2="468.95" y2="681.15" stroke="#e6194b" stroke-width="1.7" stroke-dasharray="4.5 5.2 1.6 5.3" stroke-dashoffset="7"/>
<line x1="466.75" y1="681.15" x2="471.15" y2="681.15" stroke="#e6194b" stroke-width="1.7"/>
<line x1="468.95" y1="726.71" x2="468.95" y2="773.77" stroke="#e6194b" stroke-width="1.7" stroke-dasharray="4.5 5.2 1.6 5.3" stroke-dashoffset="7"/>
<line x1="466.75" y1="773.77" x2="471.15" y2="773.77" stroke="#e6194b" stroke-width="1.7"/>
<line x1="476.97" y1="895.7" x2="476.97" y2="844.8" stroke="#e6194b" stroke-width="1.7" stroke-dasharray="4.5 5.2 1.6 5.3" stroke-dashoffset="7"/>
<line x1="474.77" y1="844.8" x2="479.17" y2="844.8" stroke="#e6194b" stroke-width="1.7"/>
<line x1="476.97" y1="906.3" x2="476.97" y2="975.8" stroke="#e6194b" stroke-width="1.7" stroke-dasharray="4.5 5.2 1.6 5.3" stroke-dashoffset="7"/>
<line x1="474.77" y1="975.8" x2="479.17" y2="975.8" stroke="#e6194b" stroke-width="1.7"/>
<line x1="484.99" y1="831.24" x2="484.99" y2="780.34" stroke="#e6194b" stroke-width="1.7" stroke-dasharray="4.5 5.2 1.6 5.3" stroke-dashoffset="7"/>
<line x1="482.79" y1="780.34" x2="487.19" y2="780.34" stroke="#e6194b" stroke-width="1.7"/>
<line x1="484.99" y1="841.84" x2="484.99" y2="919.76" stroke="#e6194b" stroke-width="1.7" stroke-dasharray="4.5 5.2 1.6 5.3" stroke-dashoffset="7"/>
<line x1="482.79" y1="919.76" x2="487.19" y2="919.76" stroke="#e6194b" stroke-width="1.7"/>
<line x1="493.01" y1="837.61" x2="493.01" y2="792.49" stroke="#e6194b" stroke-width="1.7" stroke-dasharray="4.5 5.2 1.6 5.3" stroke-dashoffset="7"/>
<line x1="490.81" y1="792.49" x2="495.21" y2="792.49" stroke="#e6194b" stroke-width="1.7"/>
<line x1="493.01" y1="848.21" x2="493.01" y2="913.99" stroke="#e6194b" stroke-width="1.7" stroke-dasharray="4.5 5.2 1.6 5.3" stroke-dashoffset="7"/>
<line x1="490.81" y1="913.99" x2="495.21" y2="913.99" stroke="#e6194b" stroke-width="1.7"/>
<line x1="501.03" y1="919.31" x2="501.03" y2="871.55" stroke="#e6194b" stroke-width="1.7" stroke-dasharray="4.5 5.2 1.6 5.3" stroke-dashoffset="7"/>
<line x1="498.83" y1="871.55" x2="503.23" y2="871.55" stroke="#e6194b" stroke-width="1.7"/>
<line x1="501.03" y1="929.91" x2="501.03" y2="975.8" stroke="#e6194b" stroke-width="1.7" stroke-dasharray="4.5 5.2 1.6 5.3" stroke-dashoffset="7"/>
<line x1="498.83" y1="975.8" x2="503.23" y2="975.8" stroke="#e6194b" stroke-width="1.7"/>
<line x1="509.05" y1="954.68" x2="509.05" y2="895.18" stroke="#e6194b" stroke-width="1.7" stroke-dasharray="4.5 5.2 1.6 5.3" stroke-dashoffset="7"/>
<line x1="506.85" y1="895.18" x2="511.25" y2="895.18" stroke="#e6194b" stroke-width="1.7"/>
<line x1="509.05" y1="965.28" x2="509.05" y2="975.8" stroke="#e6194b" stroke-width="1.7" stroke-dasharray="4.5 5.2 1.6 5.3" stroke-dashoffset="7"/>
<line x1="506.85" y1="975.8" x2="511.25" y2="975.8" stroke="#e6194b" stroke-width="1.7"/>
<line x1="517.07" y1="876.73" x2="517.07" y2="822.02" stroke="#e6194b" stroke-width="1.7" stroke-dasharray="4.5 5.2 1.6 5.3" stroke-dashoffset="7"/>
<line x1="514.87" y1="822.02" x2="519.27" y2="822.02" stroke="#e6194b" stroke-width="1.7"/>
<line x1="517.07" y1="887.33" x2="517.07" y2="974" stroke="#e6194b" stroke-width="1.7" stroke-dasharray="4.5 5.2 1.6 5.3" stroke-dashoffset="7"/>
<line x1="514.87" y1="974" x2="519.27" y2="974" stroke="#e6194b" stroke-width="1.7"/>
<line x1="525.09" y1="638.67" x2="525.09" y2="614.6" stroke="#e6194b" stroke-width="1.7" stroke-dasharray="4.5 5.2 1.6 5.3" stroke-dashoffset="7"/>
<line x1="522.89" y1="614.6" x2="527.29" y2="614.6" stroke="#e6194b" stroke-width="1.7"/>
<line x1="525.09" y1="649.27" x2="525.09" y2="698.48" stroke="#e6194b" stroke-width="1.7" stroke-dasharray="4.5 5.2 1.6 5.3" stroke-dashoffset="7"/>
<line x1="522.89" y1="698.48" x2="527.29" y2="698.48" stroke="#e6194b" stroke-width="1.7"/>
<line x1="533.11" y1="826.3" x2="533.11" y2="760.53" stroke="#e6194b" stroke-width="1.7" stroke-dasharray="4.5 5.2 1.6 5.3" stroke-dashoffset="7"/>
<line x1="530.91" y1="760.53" x2="535.31" y2="760.53" stroke="#e6194b" stroke-width="1.7"/>
<line x1="533.11" y1="836.9" x2="533.11" y2="953.1" stroke="#e6194b" stroke-width="1.7" stroke-dasharray="4.5 5.2 1.6 5.3" stroke-dashoffset="7"/>
<line x1="530.91" y1="953.1" x2="535.31" y2="953.1" stroke="#e6194b" stroke-width="1.7"/>
<line x1="541.13" y1="980.5" x2="541.13" y2="962.39" stroke="#e6194b" stroke-width="1.7" stroke-dasharray="4.5 5.2 1.6 5.3" stroke-dashoffset="7"/>
<line x1="538.93" y1="962.39" x2="543.33" y2="962.39" stroke="#e6194b" stroke-width="1.7"/>
<line x1="549.15" y1="609.9" x2="549.15" y2="670.99" stroke="#e6194b" stroke-width="1.7" stroke-dasharray="4.5 5.2 1.6 5.3" stroke-dashoffset="7"/>
<line x1="546.95" y1="670.99" x2="551.35" y2="670.99" stroke="#e6194b" stroke-width="1.7"/>
<line x1="557.18" y1="980.5" x2="557.18" y2="913.99" stroke="#e6194b" stroke-width="1.7" stroke-dasharray="4.5 5.2 1.6 5.3" stroke-dashoffset="7"/>
<line x1="554.98" y1="913.99" x2="559.38" y2="913.99" stroke="#e6194b" stroke-width="1.7"/>
<line x1="565.2" y1="787.19" x2="565.2" y2="732.48" stroke="#e6194b" stroke-width="1.7" stroke-dasharray="4.5 5.2 1.6 5.3" stroke-dashoffset="7"/>
<line x1="563" y1="732.48" x2="567.4" y2="732.48" stroke="#e6194b" stroke-width="1.7"/>
<line x1="565.2" y1="797.79" x2="565.2" y2="884.46" stroke="#e6194b" stroke-width="1.7" stroke-dasharray="4.5 5.2 1.6 5.3" stroke-dashoffset="7"/>
<line x1="563" y1="884.46" x2="567.4" y2="884.46" stroke="#e6194b" stroke-width="1.7"/>
<line x1="573.22" y1="697.65" x2="573.22" y2="638.15" stroke="#e6194b" stroke-width="1.7" stroke-dasharray="4.5 5.2 1.6 5.3" stroke-dashoffset="7"/>
<line x1="571.02" y1="638.15" x2="575.42" y2="638.15" stroke="#e6194b" stroke-width="1.7"/>
<line x1="573.22" y1="708.25" x2="573.22" y2="806.85" stroke="#e6194b" stroke-width="1.7" stroke-dasharray="4.5 5.2 1.6 5.3" stroke-dashoffset="7"/>
<line x1="571.02" y1="806.85" x2="575.42" y2="806.85" stroke="#e6194b" stroke-width="1.7"/>
<line x1="589.26" y1="908.69" x2="589.26" y2="792.49" stroke="#e6194b" stroke-width="1.7" stroke-dasharray="4.5 5.2 1.6 5.3" stroke-dashoffset="7"/>
<line x1="587.06" y1="792.49" x2="591.46" y2="792.49" stroke="#e6194b" stroke-width="1.7"/>
<line x1="589.26" y1="919.29" x2="589.26" y2="975.8" stroke="#e6194b" stroke-width="1.7" stroke-dasharray="4.5 5.2 1.6 5.3" stroke-dashoffset="7"/>
<line x1="587.06" y1="975.8" x2="591.46" y2="975.8" stroke="#e6194b" stroke-width="1.7"/>
<line x1="621.34" y1="947.8" x2="621.34" y2="859.36" stroke="#e6194b" stroke-width="1.7" stroke-dasharray="4.5 5.2 1.6 5.3" stroke-dashoffset="7"/>
<line x1="619.14" y1="859.36" x2="623.54" y2="859.36" stroke="#e6194b" stroke-width="1.7"/>
<line x1="621.34" y1="958.4" x2="621.34" y2="975.8" stroke="#e6194b" stroke-width="1.7" stroke-dasharray="4.5 5.2 1.6 5.3" stroke-dashoffset="7"/>
<line x1="619.14" y1="975.8" x2="623.54" y2="975.8" stroke="#e6194b" stroke-width="1.7"/>
<line x1="645.4" y1="787.19" x2="645.4" y2="670.99" stroke="#e6194b" stroke-width="1.7" stroke-dasharray="4.5 5.2 1.6 5.3" stroke-dashoffset="7"/>
<line x1="643.2" y1="670.99" x2="647.6" y2="670.99" stroke="#e6194b" stroke-width="1.7"/>
<line x1="645.4" y1="797.79" x2="645.4" y2="975.8" stroke="#e6194b" stroke-width="1.7" stroke-dasharray="4.5 5.2 1.6 5.3" stroke-dashoffset="7"/>
<line x1="643.2" y1="975.8" x2="647.6" y2="975.8" stroke="#e6194b" stroke-width="1.7"/>
<line x1="653.42" y1="908.69" x2="653.42" y2="792.49" stroke="#e6194b" stroke-width="1.7" stroke-dasharray="4.5 5.2 1.6 5.3" stroke-dashoffset="7"/>
<line x1="651.22" y1="792.49" x2="655.62" y2="792.49" stroke="#e6194b" stroke-width="1.7"/>
<line x1="653.42" y1="919.29" x2="653.42" y2="975.8" stroke="#e6194b" stroke-width="1.7" stroke-dasharray="4.5 5.2 1.6 5.3" stroke-dashoffset="7"/>
<line x1="651.22" y1="975.8" x2="655.62" y2="975.8" stroke="#e6194b" stroke-width="1.7"/>
</g>
<polygon points="108.01,810.78 102.71,800.18 113.31,800.18" fill="#e6194b"/>
<polygon points="116.03,793.46 110.73,782.86 121.33,782.86" fill="#e6194b"/>
<polygon points="124.05,805.94 118.75,795.34 129.35,795.34" fill="#e6194b"/>
<polygon points="132.07,833.69 126.77,823.09 137.37,823.09" fill="#e6194b"/>
<polygon points="140.09,799.79 134.79,789.19 145.39,789.19" fill="#e6194b"/>
<polygon points="148.11,805.76 142.81,795.16 153.41,795.16" fill="#e6194b"/>
<polygon points="156.14,792.39 150.84,781.79 161.44,781.79" fill="#e6194b"/>
<polygon points="164.16,798.82 158.86,788.22 169.46,788.22" fill="#e6194b"/>
<polygon points="172.18,786.36 166.88,775.76 177.48,775.76" fill="#e6194b"/>
<polygon points="180.2,795.87 174.9,785.27 185.5,785.27" fill="#e6194b"/>
<polygon points="188.22,818.95 182.92,808.35 193.52,808.35" fill="#e6194b"/>
<polygon points="196.24,805.47 190.94,794.87 201.54,794.87" fill="#e6194b"/>
<polygon points="204.26,772.82 198.96,762.22 209.56,762.22" fill="#e6194b"/>
<polygon points="212.28,793.11 206.98,782.51 217.58,782.51" fill="#e6194b"/>
<polygon points="220.3,807.48 215,796.88 225.6,796.88" fill="#e6194b"/>
<polygon points="228.32,819.67 223.02,809.07 233.62,809.07" fill="#e6194b"/>
<polygon points="236.34,807.08 231.04,796.48 241.64,796.48" fill="#e6194b"/>
<polygon points="244.36,834.12 239.06,823.52 249.66,823.52" fill="#e6194b"/>
<polygon points="252.38,772.84 247.08,762.24 257.68,762.24" fill="#e6194b"/>
<polygon points="260.41,842.93 255.11,832.33 265.71,832.33" fill="#e6194b"/>
<polygon points="268.43,794.94 263.13,784.34 273.73,784.34" fill="#e6194b"/>
<polygon points="276.45,755.51 271.15,744.91 281.75,744.91" fill="#e6194b"/>
<polygon points="284.47,804.99 279.17,794.39 289.77,794.39" fill="#e6194b"/>
<polygon points="292.49,777.14 287.19,766.54 297.79,766.54" fill="#e6194b"/>
<polygon points="300.51,737.41 295.21,726.81 305.81,726.81" fill="#e6194b"/>
<polygon points="308.53,792.48 303.23,781.88 313.83,781.88" fill="#e6194b"/>
<polygon points="316.55,779.17 311.25,768.57 321.85,768.57" fill="#e6194b"/>
<polygon points="324.57,778.13 319.27,767.53 329.87,767.53" fill="#e6194b"/>
<polygon points="332.59,779.32 327.29,768.72 337.89,768.72" fill="#e6194b"/>
<polygon points="340.61,860.31 335.31,849.71 345.91,849.71" fill="#e6194b"/>
<polygon points="348.63,807.69 343.33,797.09 353.93,797.09" fill="#e6194b"/>
<polygon points="356.66,791 351.36,780.4 361.96,780.4" fill="#e6194b"/>
<polygon points="364.68,766.77 359.38,756.17 369.98,756.17" fill="#e6194b"/>
<polygon points="372.7,850.63 367.4,840.03 378,840.03" fill="#e6194b"/>
<polygon points="380.72,823.07 375.42,812.47 386.02,812.47" fill="#e6194b"/>
<polygon points="388.74,809.88 383.44,799.28 394.04,799.28" fill="#e6194b"/>
<polygon points="396.76,823.13 391.46,812.53 402.06,812.53" fill="#e6194b"/>
<polygon points="404.78,863.47 399.48,852.87 410.08,852.87" fill="#e6194b"/>
<polygon points="412.8,845.45 407.5,834.85 418.1,834.85" fill="#e6194b"/>
<polygon points="420.82,792.71 415.52,782.11 426.12,782.11" fill="#e6194b"/>
<polygon points="428.84,797.79 423.54,787.19 434.14,787.19" fill="#e6194b"/>
<polygon points="436.86,855.37 431.56,844.77 442.16,844.77" fill="#e6194b"/>
<polygon points="444.88,781.84 439.58,771.24 450.18,771.24" fill="#e6194b"/>
<polygon points="452.9,749.68 447.6,739.08 458.2,739.08" fill="#e6194b"/>
<polygon points="460.93,806.78 455.63,796.18 466.23,796.18" fill="#e6194b"/>
<polygon points="468.95,726.71 463.65,716.11 474.25,716.11" fill="#e6194b"/>
<polygon points="476.97,906.3 471.67,895.7 482.27,895.7" fill="#e6194b"/>
<polygon points="484.99,841.84 479.69,831.24 490.29,831.24" fill="#e6194b"/>
<polygon points="493.01,848.21 487.71,837.61 498.31,837.61" fill="#e6194b"/>
<polygon points="501.03,929.91 495.73,919.31 506.33,919.31" fill="#e6194b"/>
<polygon points="517.07,887.33 511.77,876.73 522.37,876.73" fill="#e6194b"/>
<polygon points="525.09,649.27 519.79,638.67 530.39,638.67" fill="#e6194b"/>
<polygon points="533.11,836.9 527.81,826.3 538.41,826.3" fill="#e6194b"/>
<polygon points="565.2,797.79 559.9,787.19 570.5,787.19" fill="#e6194b"/>
<polygon points="573.22,708.25 567.92,697.65 578.52,697.65" fill="#e6194b"/>
<polygon points="589.26,919.29 583.96,908.69 594.56,908.69" fill="#e6194b"/>
<polygon points="621.34,958.4 616.04,947.8 626.64,947.8" fill="#e6194b"/>
<polygon points="645.4,797.79 640.1,787.19 650.7,787.19" fill="#e6194b"/>
<polygon points="653.42,919.29 648.12,908.69 658.72,908.69" fill="#e6194b"/>
<line x1="91" y1="795.2" x2="742" y2="795.2" stroke="#000" stroke-width="1.5"/>
<text transform="translate(103.2,28.4) scale(1,1.065)" font-size="22.8" text-anchor="start" fill="#000" stroke="#000" stroke-width="0.2" textLength="177.3" lengthAdjust="spacingAndGlyphs">1960 GeV ppbar</text>
<text transform="translate(736.3,28.6) scale(1,1.065)" font-size="22.8" text-anchor="end" fill="#000" stroke="#000" stroke-width="0.2" textLength="190.5" lengthAdjust="spacingAndGlyphs">Top (parton level)</text>
<text transform="translate(301.8,86.4) scale(1,1.065)" font-size="22.8" text-anchor="start" fill="#000" stroke="#000" stroke-width="0.2" textLength="30" lengthAdjust="spacingAndGlyphs">pT</text>
<text transform="translate(336,86.4) scale(1,1.065)" font-size="19.2" text-anchor="start" fill="#000" stroke="#000" stroke-width="0.2" textLength="200.3" lengthAdjust="spacingAndGlyphs">(top) (pTtt &gt; 50 dy &gt; 0)</text>
<text transform="translate(39,554.75) scale(1,1.065)" font-size="21.7" text-anchor="start" fill="#000" stroke="#000" stroke-width="0.2" textLength="24.0" lengthAdjust="spacingAndGlyphs">10</text>
<text transform="translate(61.8,545.65) scale(1,1.065)" font-size="14.6" text-anchor="start" fill="#000" stroke="#000" stroke-width="0.2" textLength="17.6" lengthAdjust="spacingAndGlyphs">−6</text>
<text transform="translate(39,450.6) scale(1,1.065)" font-size="21.7" text-anchor="start" fill="#000" stroke="#000" stroke-width="0.2" textLength="24.0" lengthAdjust="spacingAndGlyphs">10</text>
<text transform="translate(61.8,441.5) scale(1,1.065)" font-size="14.6" text-anchor="start" fill="#000" stroke="#000" stroke-width="0.2" textLength="17.6" lengthAdjust="spacingAndGlyphs">−5</text>
<text transform="translate(39,346.45) scale(1,1.065)" font-size="21.7" text-anchor="start" fill="#000" stroke="#000" stroke-width="0.2" textLength="24.0" lengthAdjust="spacingAndGlyphs">10</text>
<text transform="translate(61.8,337.35) scale(1,1.065)" font-size="14.6" text-anchor="start" fill="#000" stroke="#000" stroke-width="0.2" textLength="17.6" lengthAdjust="spacingAndGlyphs">−4</text>
<text transform="translate(39,242.3) scale(1,1.065)" font-size="21.7" text-anchor="start" fill="#000" stroke="#000" stroke-width="0.2" textLength="24.0" lengthAdjust="spacingAndGlyphs">10</text>
<text transform="translate(61.8,233.2) scale(1,1.065)" font-size="14.6" text-anchor="start" fill="#000" stroke="#000" stroke-width="0.2" textLength="17.6" lengthAdjust="spacingAndGlyphs">−3</text>
<text transform="translate(39,138.15) scale(1,1.065)" font-size="21.7" text-anchor="start" fill="#000" stroke="#000" stroke-width="0.2" textLength="24.0" lengthAdjust="spacingAndGlyphs">10</text>
<text transform="translate(61.8,129.05) scale(1,1.065)" font-size="14.6" text-anchor="start" fill="#000" stroke="#000" stroke-width="0.2" textLength="17.6" lengthAdjust="spacingAndGlyphs">−2</text>
<text transform="translate(103.4,978.3) scale(1,1.065)" font-size="21.7" text-anchor="middle" fill="#000" stroke="#000" stroke-width="0.2" textLength="12.5" lengthAdjust="spacingAndGlyphs">0</text>
<text transform="translate(238.28,978.3) scale(1,1.065)" font-size="21.7" text-anchor="middle" fill="#000" stroke="#000" stroke-width="0.2" textLength="37.4" lengthAdjust="spacingAndGlyphs">100</text>
<text transform="translate(371.96,978.3) scale(1,1.065)" font-size="21.7" text-anchor="middle" fill="#000" stroke="#000" stroke-width="0.2" textLength="37.4" lengthAdjust="spacingAndGlyphs">200</text>
<text transform="translate(505.64,978.3) scale(1,1.065)" font-size="21.7" text-anchor="middle" fill="#000" stroke="#000" stroke-width="0.2" textLength="37.4" lengthAdjust="spacingAndGlyphs">300</text>
<text transform="translate(639.32,978.3) scale(1,1.065)" font-size="21.7" text-anchor="middle" fill="#000" stroke="#000" stroke-width="0.2" textLength="37.4" lengthAdjust="spacingAndGlyphs">400</text>
<text transform="translate(77.6,683) scale(1,1.065)" font-size="22.2" text-anchor="end" fill="#000" stroke="#000" stroke-width="0.2" textLength="13.0" lengthAdjust="spacingAndGlyphs">2</text>
<text transform="translate(747.8,683) scale(1,1.065)" font-size="22.2" text-anchor="start" fill="#000" stroke="#000" stroke-width="0.2" textLength="13.0" lengthAdjust="spacingAndGlyphs">2</text>
<text transform="translate(77.6,804.5) scale(1,1.065)" font-size="22.2" text-anchor="end" fill="#000" stroke="#000" stroke-width="0.2" textLength="13.0" lengthAdjust="spacingAndGlyphs">1</text>
<text transform="translate(747.8,804.5) scale(1,1.065)" font-size="22.2" text-anchor="start" fill="#000" stroke="#000" stroke-width="0.2" textLength="13.0" lengthAdjust="spacingAndGlyphs">1</text>
<text transform="translate(77.6,926) scale(1,1.065)" font-size="22.2" text-anchor="end" fill="#000" stroke="#000" stroke-width="0.2" textLength="32.6" lengthAdjust="spacingAndGlyphs">0.5</text>
<text transform="translate(747.8,926) scale(1,1.065)" font-size="22.2" text-anchor="start" fill="#000" stroke="#000" stroke-width="0.2" textLength="32.6" lengthAdjust="spacingAndGlyphs">0.5</text>
<text transform="translate(760.4,253.8) rotate(-90) scale(1,1.06)" font-size="18.3" fill="#808080" textLength="217" lengthAdjust="spacingAndGlyphs">Rivet 4.1.0, ≥ 100k events</text>
<text transform="translate(762.6,629.2) rotate(-90) scale(1,1.06)" font-size="18.3" fill="#808080" textLength="287.5" lengthAdjust="spacingAndGlyphs">mcplots.cern.ch [arXiv:1306.3436]</text>
<text transform="translate(34.3,893.3) rotate(-90) scale(1,1.06)" font-size="17.6" fill="#000" textLength="202" lengthAdjust="spacingAndGlyphs">Ratio to Pythia 6.428 370</text>
<text transform="translate(348,603.9) scale(1,1.065)" font-size="15.4" text-anchor="start" fill="#a0a0a0" stroke="#a0a0a0" stroke-width="0.2" textLength="136" lengthAdjust="spacingAndGlyphs">(MC_FBA_TTBAR)</text>
<line x1="129" y1="422.3" x2="177.4" y2="422.3" stroke="#a30f28" stroke-width="1.4"/>
<polygon points="153.2,417.21 147.57,428.3 158.83,428.3" fill="none" stroke="#a30f28" stroke-width="1.5" stroke-linejoin="miter" stroke-miterlimit="10"/>
<text transform="translate(187.2,428.2) scale(1,1.065)" font-size="18.2" text-anchor="start" fill="#000" stroke="#000" stroke-width="0.2" textLength="143" lengthAdjust="spacingAndGlyphs">Pythia 6.428 370</text>
<line x1="129" y1="448.3" x2="177.4" y2="448.3" stroke="#9414cc" stroke-width="1.7" stroke-dasharray="1.6 2.55"/>
<polygon points="153.2,444.55 148.99,452.9 157.41,452.9" fill="none" stroke="#9414cc" stroke-width="1.4" stroke-linejoin="miter" stroke-miterlimit="10"/>
<text transform="translate(187.2,454.2) scale(1,1.065)" font-size="18.2" text-anchor="start" fill="#000" stroke="#000" stroke-width="0.2" textLength="143" lengthAdjust="spacingAndGlyphs">Pythia 6.428 373</text>
<line x1="129" y1="474.3" x2="177.4" y2="474.3" stroke="#1f1fe8" stroke-width="1.7" stroke-dasharray="4.6 3.8"/>
<circle cx="153.2" cy="474.3" r="4.4" fill="none" stroke="#1f1fe8" stroke-width="1.7"/>
<text transform="translate(187.2,480.2) scale(1,1.065)" font-size="18.2" text-anchor="start" fill="#000" stroke="#000" stroke-width="0.2" textLength="143" lengthAdjust="spacingAndGlyphs">Pythia 6.428 374</text>
<line x1="129" y1="500.3" x2="177.4" y2="500.3" stroke="#1fd9bf" stroke-width="1.7" stroke-dasharray="1.6 2.55"/>
<circle cx="153.2" cy="500.3" r="5.05" fill="none" stroke="#1fd9bf" stroke-width="1.6"/>
<text transform="translate(187.2,506.2) scale(1,1.065)" font-size="18.2" text-anchor="start" fill="#000" stroke="#000" stroke-width="0.2" textLength="143" lengthAdjust="spacingAndGlyphs">Pythia 6.428 375</text>
<line x1="129" y1="526.3" x2="177.4" y2="526.3" stroke="#b5834c" stroke-width="1.7" stroke-dasharray="4.6 3.8"/>
<polygon points="153.2,521 147.9,531.6 158.5,531.6" fill="#b5834c"/>
<text transform="translate(187.2,532.2) scale(1,1.065)" font-size="18.2" text-anchor="start" fill="#000" stroke="#000" stroke-width="0.2" textLength="143" lengthAdjust="spacingAndGlyphs">Pythia 6.428 381</text>
<line x1="129" y1="552.3" x2="177.4" y2="552.3" stroke="#e6194b" stroke-width="1.7" stroke-dasharray="4.5 5.2 1.6 5.3"/>
<polygon points="153.2,557.6 147.9,547 158.5,547" fill="#e6194b"/>
<text transform="translate(187.2,558.2) scale(1,1.065)" font-size="18.2" text-anchor="start" fill="#000" stroke="#000" stroke-width="0.2" textLength="143" lengthAdjust="spacingAndGlyphs">Pythia 6.428 382</text>
</svg></body></html>
